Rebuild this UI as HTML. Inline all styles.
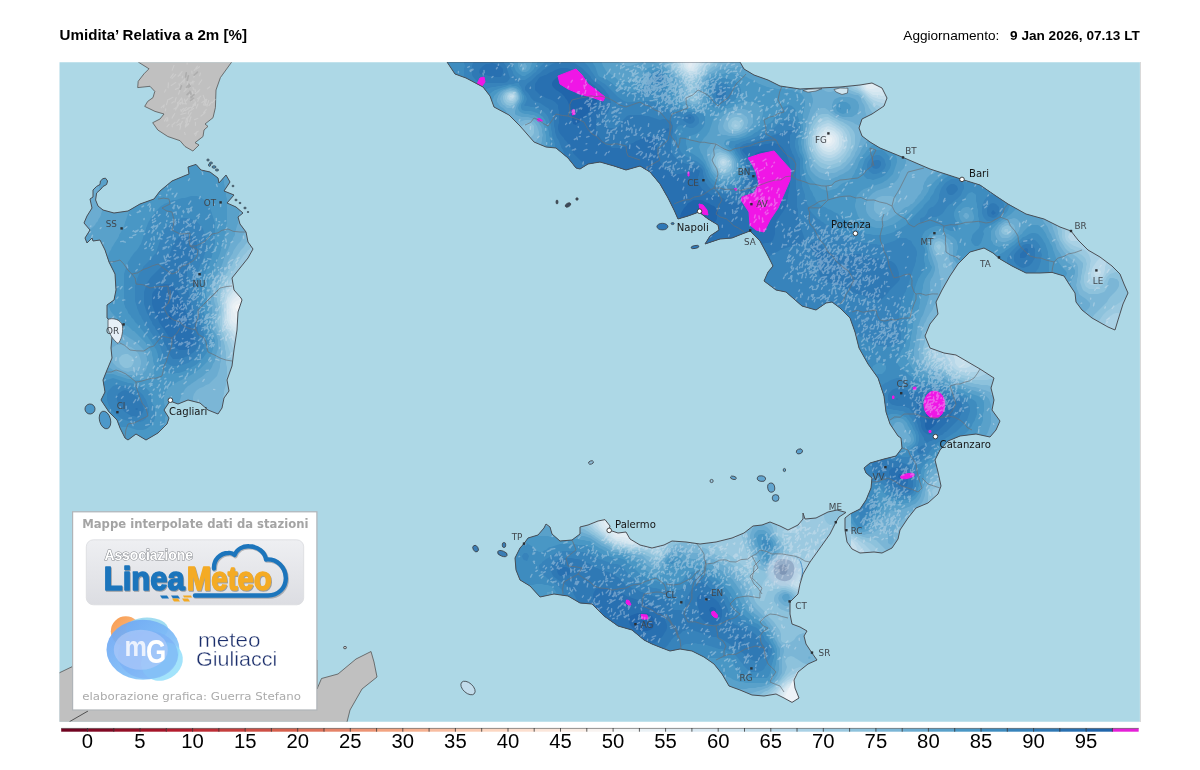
<!DOCTYPE html>
<html><head><meta charset="utf-8"><title>Umidita' Relativa a 2m</title>
<style>
html,body{margin:0;padding:0;background:#fff;}
body{width:1200px;height:770px;position:relative;overflow:hidden;font-family:"Liberation Sans",sans-serif;}
svg{position:absolute;left:0;top:0;}
.city{font:10.1px "DejaVu Sans","Liberation Sans",sans-serif;fill:#151515;}
.prov{font:8.8px "DejaVu Sans","Liberation Sans",sans-serif;fill:#41464c;}
.cbl{font:20.3px "Liberation Sans",sans-serif;fill:#000;}
</style></head><body>
<svg width="1200" height="770" viewBox="0 0 1200 770">
<defs>
<clipPath id="mapclip"><rect x="59.5" y="62.2" width="1080.4" height="659.5"/></clipPath>
<clipPath id="land"><path d="M103,178.6 105.5,178.2 107.6,181 106.6,184.5 103,186.5 101,189 96.6,193 95.6,200 98,206 103,210 114,213 128,211 140,204 154,199 160,191 172,181 184,176 189,174 188,167 196,164.4 201,170 210,172 218,178 219,183 226,175 230,182 224,191 234,195 227,203 236,207 243,213 238,217 240,224 246,232 248,242 253,249 248,258 240,268 232,278 234,290 241,298 242,300 238,312 237,330 234,350 232,366 227,380 229,391 224,398 222,408 218,414 208,410 200,403 188,400 178,404 170,401 164,410 169,418 167,424 158,433 146,440 136,434 128,440 125,438 120,428 117,420 109,412 101,400 105,392 103,380 107,370 112,358 111,348 112,337 118,343 120,336 123,325 118,320 112,322 107,318 107,305 114,300 116,290 115,274 109,262 105,250 100,240 93,241 92,238 87,243 85,238 90,230 84,223 87,216 92,208 90,199 93,197 93,190 96.5,186.5 100,184.5 100.4,181ZM447,62 740,62 744,69 754,75 768,80 780,86 800,89 820,88 840,87 860,85 872,83 882,88 887,98 884,106 872,114 862,119 859,128 862,136 870,142 880,148 903,157.4 930,169 962,179.4 980,185 996,196 1008,204 1026,214 1044,219 1060,227 1071,231 1078,240 1088,250 1100,257 1112,266 1120,274 1124,284 1128,293 1123,304 1118,320 1115,330 1108,327 1092,318 1082,310 1076,302 1075,293 1069,284 1064,276 1052,272.4 1040,273 1026,273 1012,266 1000,259 993,253 984,248 970,252 958,264 950,276 942,290 936,302 938,314 930,324 925,336 930,348 944,353 956,355 968,362 980,369 994,378 991,388 994,400 992,410 1000,421 996,430 990,437 976,434 960,436 948,441 940,450 935,460 938,472 941,486 938,494 928,503 916,508 908,518 900,530 898,539 892,548 882,553 874,552 860,553 852,549 847,542 845,530 845,518 850,514 860,509 866,500 871,488 872,478 866,473 864,468 870,463 884,459 896,456 902,448 901,438 898,436 890,424 886,412 884,396 878,378 868,364 859,348 855,332 850,318 840,308 832,302 826,303 816,310 802,306 786,292 776,290 764,281 768,272 773,266 768,256 760,241 750,231 742,234 732,238 720,239 708,243 705,244 710,236 719,230 718,225 708,219 699,212 688,216 678,219 674,210 668,198 660,184 650,172 640,166 626,170 614,166 600,162 588,164 580,169 576,168 568,158 556,148 546,147 534,142 520,126 509,115 494,107 490,96 483,87 466,78 455,74ZM524,543.6 528,538 538,535 544,528 546,524 550,527 552,534 560,541 572,540 580,534 580,527 588,525 598,521 605,519.6 610,526 609,530 618,533 626,532 630,539 640,545 652,548 664,545 672,541 686,542 700,544 716,542 732,538 744,533 753,526 762,525 770,522 780,526 788,530 798,525 803,519 803,513 805,519 816,518 828,512 837,510 846,512.4 839,517 836,522 830,534 820,548 810,562 803,574 800,584 798,594 790,602 790,614 792,624 800,627 807,631 804,636 806,644 812,653 817,660 808,664 798,672 794,680 795,688 799,698 792,702.4 784,698 776,694 764,696 752,695 740,690 729,686 722,674 714,664 704,657 692,651 680,649 670,651 662,648 652,644 644,640 632,630 618,626 604,616 592,604 580,603 568,596 554,594 540,597 530,586 520,580 516,570 515,558 520,548Z"/></clipPath>

<linearGradient id="lgbox" x1="0" y1="0" x2="0" y2="1"><stop offset="0" stop-color="#eeeff2"/><stop offset="1" stop-color="#dcdde2"/></linearGradient>
<linearGradient id="mgblob" x1="0" y1="0" x2="1" y2="1"><stop offset="0" stop-color="#6ba3f3"/><stop offset="0.6" stop-color="#7fbcf7"/><stop offset="1" stop-color="#a4e2fb"/></linearGradient>
<linearGradient id="mgor" x1="0" y1="0" x2="1" y2="1"><stop offset="0" stop-color="#f89a4e"/><stop offset="1" stop-color="#fcc894"/></linearGradient>
<filter id="soft" x="-20%" y="-20%" width="140%" height="140%"><feGaussianBlur stdDeviation="0.6"/></filter>
<filter id="soft2" x="-30%" y="-30%" width="160%" height="160%"><feGaussianBlur stdDeviation="1.6"/></filter>

</defs>
<text x="59.6" y="39.5" textLength="187.4" lengthAdjust="spacingAndGlyphs" style="font:bold 15.4px 'Liberation Sans',sans-serif" fill="#000">Umidita’ Relativa a 2m [%]</text>
<text x="999.3" y="39.8" text-anchor="end" style="font:13.6px 'Liberation Sans',sans-serif" fill="#000">Aggiornamento:</text>
<text x="1139.8" y="39.8" text-anchor="end" style="font:bold 13.6px 'Liberation Sans',sans-serif" fill="#000">9 Jan 2026, 07.13 LT</text>
<g clip-path="url(#mapclip)">
<rect x="59" y="62" width="1082" height="660" fill="#add8e6"/>
<path d="M134,55 138.2,62 149,68.8 144,73.8 138.2,81.3 137.7,87.6 150,86.3 154.8,91.4 153,97.6 147.7,101.4 144.7,106.4 155,111.4 164,114 160,119 152.7,122.7 157.8,130 167.8,136.5 180,140.7 185,146.5 192.9,151 199,145 195,142.7 203,136.5 204,130 208,126.4 205,124 213,117.7 215.4,107.6 216,90 220.4,77.6 231.7,62 236,55ZM50,677 60,672.5 72.5,666.5 80,660 317,660 317,689 321.5,678.5 338,674 356,659 371,651.5 374,662 377,677 362,689 350,710 347,722 346,730 50,730Z" fill="#c0c0c0" stroke="#555" stroke-width="0.8"/><path d="M69.5 721.7L88 711" stroke="#333" stroke-width="0.8"/>
<path d="M185.3 125.3l2.7 -4.4M191.9 100.5l-2.0 -3.9M180.4 104.2l2.2 -3.2M203.5 105.0l2.0 -5.5M194.2 70.6l3.2 -4.4M193.1 105.0l2.6 -2.4M207.4 88.8l2.6 -2.0M182.1 78.0l0.6 -2.0M181.3 111.6l-0.5 -2.0M212.3 102.6l2.8 -3.0M192.9 84.1l0.1 -3.3M189.5 111.1l4.0 -2.5M194.1 101.0l-0.9 -4.7M197.8 101.3l1.6 -3.2M164.5 121.0l1.8 -3.2M189.6 121.6l1.3 -4.8M193.4 89.4l-0.4 -2.0M198.8 84.4l2.9 -4.4M161.3 107.7l2.9 -2.9M185.2 101.8l2.7 -3.2M175.5 109.9l3.0 -5.0M183.9 83.0l0.6 -4.1M182.8 103.8l-0.8 -5.0M196.3 108.1l1.7 -4.1M185.7 103.5l-1.2 -4.3M194.3 134.1l3.8 -2.9M170.6 77.6l2.7 -3.8M181.1 110.8l2.9 -2.5M190.9 101.4l2.6 -4.6M177.9 76.0l2.5 -1.0M206.9 106.2l1.8 -5.6M172.2 70.1l1.8 -4.7M197.3 98.9l3.4 -2.7M167.0 126.7l2.1 -2.4M187.2 121.8l0.7 -5.0M208.9 105.6l2.6 -3.5M188.6 97.0l1.7 -3.6M204.5 105.0l2.1 -0.3M178.3 102.6l3.4 -4.7M196.4 69.1l3.1 -2.4M163.6 107.3l0.6 -2.3M166.5 104.7l1.5 -5.4M182.7 112.1l3.6 -4.6M205.3 100.8l-2.1 -5.4M187.1 85.0l0.9 -3.4M194.0 104.9l0.8 -2.1M166.3 121.1l1.2 -1.8M175.3 89.4l4.1 -1.6M165.3 111.0l0.4 -2.2M168.1 87.8l0.3 -5.0M178.7 104.0l1.9 -1.5M172.2 126.8l-0.0 -2.3M191.6 108.0l4.0 -4.4M186.0 89.3l1.8 -5.7M188.2 114.0l0.8 -2.8M185.3 127.0l3.1 -2.8M186.0 88.2l4.7 -0.9M201.0 116.0l4.1 -3.3M199.6 75.7l0.9 -2.7M178.4 76.1l3.7 -4.5M194.5 119.8l3.3 -1.5M164.6 92.1l1.2 -2.4M179.8 86.3l-0.8 -2.6M178.5 94.2l1.6 -4.6M189.4 83.3l5.0 -1.6M179.9 129.3l0.8 -3.4M171.9 103.0l1.6 -1.3M195.0 94.0l3.8 -2.7M174.9 102.2l1.2 -4.5M171.2 85.4l4.5 -2.8M192.8 93.9l-0.3 -2.4M182.5 103.5l4.0 0.4M192.0 73.3l-0.2 -2.3M178.1 106.0l-0.7 -3.5M172.0 118.1l2.7 -4.5M185.2 134.5l-0.7 -2.1M169.1 99.4l3.8 -2.1M173.3 124.2l1.7 -1.8M187.7 108.4l2.7 -1.1M195.4 91.7l-0.5 -2.6M173.9 108.9l2.0 -1.2M190.3 84.9l2.0 -3.2M180.6 83.4l3.9 -3.9M203.7 112.7l2.6 -3.3M180.0 125.6l2.3 -4.2M176.7 107.4l0.7 -2.0M172.0 78.4l3.7 -3.9M195.6 135.6l1.1 -3.8M195.4 105.5l0.1 -3.6M185.6 122.3l1.0 -4.2M193.8 77.1l2.5 -4.1M182.1 118.4l3.0 -0.6M195.8 93.7l4.0 -4.0M185.0 110.7l4.0 -2.2M177.0 125.2l3.1 -1.5M187.1 64.1l0.1 -2.0M205.1 105.3l1.4 -5.3M176.8 122.5l2.4 -3.2M201.8 102.5l5.1 -3.2M167.8 120.9l-0.1 -3.2M185.3 125.9l3.2 -2.3M184.0 91.6l2.2 -2.1M195.4 125.3l-0.0 -3.0M180.9 114.3l5.3 -1.3M188.6 117.2l2.5 -4.5" stroke="#cdcdcd" stroke-width="1.2" stroke-linecap="round" fill="none" opacity=".8"/><path d="M187.1 94.7l2.2 -2.0M191.0 94.1l-1.1 -2.8M188.3 87.5l2.0 -1.3M189.9 86.7l-0.9 -2.7M194.2 75.2l3.3 -3.1M186.5 87.3l1.4 -1.6M190.7 97.1l3.4 -2.4M187.2 80.2l1.2 -4.5M190.5 100.6l3.1 -2.4M180.2 89.2l1.3 -3.4M190.9 98.0l1.7 -1.6M185.6 76.9l0.7 -4.2" stroke="#a8a8a8" stroke-width="1.6" stroke-linecap="round" fill="none" opacity=".8"/>
<g clip-path="url(#land)">
<rect x="60" y="62" width="1080" height="660" fill="#3f8ec0"/>
<rect x="80" y="160" width="176" height="286" fill="#f3f5f6"/>
<path d="M83 160l3 0l3 0l3 0l3 0l3 0l3 0l3 0l3 0l3 0l3 0l3 0l3 0l3 0l3 0l3 0l3 0l3 0l3 0l3 0l3 0l3 0l3 0l3 0l3 0l3 0l3 0l3 0l3 0l3 0l3 0l3 0l3 0l3 0l3 0l3 0l3 0l3 0l3 0l3 0l3 0l3 0l3 0l3 0l3 0l3 0l3 0l3 0l3 0l3 0l3 0l3 0l3 0l3 0l3 0l3 0l3 0l3 0l3 0l0 3l0 3l0 3l0 3l0 3l0 3l0 3l0 3l0 3l0 3l0 3l0 3l0 3l0 3l0 3l0 3l0 3l0 3l0 3l0 3l0 3l0 3l0 3l0 3l0 3l0 3l0 3l0 3l0 3l0 3l0 3l0 3l0 3l0 3l0 3l0 3l0 3l0 3l0 3l0 3l0 3l0 3l0 3l0 3l0 3l0 3l0 3l0 3l0 3l0 3l0 3l0 3l0 3l0 3l0 3l0 3l0 3l0 3l0 3l0 3l0 3l0 3l0 3l0 3l0 3l0 3l0 3l0 3l0 3l0 3l0 3l0 3l0 3l0 3l0 3l0 3l0 3l0 3l0 3l0 3l0 3l0 3l0 3l0 3l0 3l0 3l0 3l0 3l0 3l0 3l0 3l0 3l0 3l0 3l0 3l0 3l-3 0l-3 0l-3 0l-3 0l-3 0l-3 0l-3 0l-3 0l-3 0l-3 0l-3 0l-3 0l-3 0l-3 0l-3 0l-3 0l-3 0l-3 0l-3 0l-3 0l-3 0l-3 0l-3 0l-3 0l-3 0l-3 0l-3 0l-3 0l-3 0l-3 0l-3 0l-3 0l-3 0l-3 0l-3 0l-3 0l-3 0l-3 0l-3 0l-3 0l-3 0l-3 0l-3 0l-3 0l-3 0l-3 0l-3 0l-3 0l-3 0l-3 0l-3 0l-3 0l-3 0l-3 0l-3 0l-3 0l-3 0l-3 0l-3 0l0 -3l0 -3l0 -3l0 -3l0 -3l0 -3l0 -3l0 -3l0 -3l0 -3l0 -3l0 -3l0 -3l0 -3l0 -3l0 -3l0 -3l0 -3l0 -3l0 -3l0 -3l0 -3l0 -3l0 -3l0 -3l0 -3l0 -3l0 -3l0 -3l0 -3l0 -3l0 -3l0 -3l0 -3l0 -3l0 -3l0 -3l0 -3l0 -3l0 -3l0 -3l0 -3l0 -3l0 -3l0 -3l0 -3l0 -3l0 -3l0 -3l0 -3l0 -3l0 -3l0 -3l0 -3l0 -3l0 -3l0 -3l0 -3l0 -3l0 -3l0 -3l0 -3l0 -3l0 -3l0 -3l0 -3l0 -3l0 -3l0 -3l0 -3l0 -3l0 -3l0 -3l0 -3l0 -3l0 -3l0 -3l0 -3l0 -3l0 -3l0 -3l0 -3l0 -3l0 -3l0 -3l0 -3l0 -3l0 -3l0 -3l0 -3l0 -3l0 -3l0 -3l0 -3l0 -3l0 -3l3 0zM235 307l1 2l1 1l2 2l1 1l2 1l3 0l3 -1l2 -3l-2 -3l-3 -2l-3 0l-3 -1l-3 1l-1 2z" fill="#eaf1f5" fill-rule="evenodd"/>
<path d="M83 160l3 0l3 0l3 0l3 0l3 0l3 0l3 0l3 0l3 0l3 0l3 0l3 0l3 0l3 0l3 0l3 0l3 0l3 0l3 0l3 0l3 0l3 0l3 0l3 0l3 0l3 0l3 0l3 0l3 0l3 0l3 0l3 0l3 0l3 0l3 0l3 0l3 0l3 0l3 0l3 0l3 0l3 0l3 0l3 0l3 0l3 0l3 0l3 0l3 0l3 0l3 0l3 0l3 0l3 0l3 0l3 0l3 0l3 0l0 3l0 3l0 3l0 3l0 3l0 3l0 3l0 3l0 3l0 3l0 3l0 3l0 3l0 3l0 3l0 3l0 3l0 3l0 3l0 3l0 3l0 3l0 3l0 3l0 3l0 3l0 3l0 3l0 3l0 3l0 3l0 3l0 3l0 3l0 3l0 3l0 3l0 3l0 3l0 3l0 3l0 3l0 3l0 3l0 3l0 3l-3 0l-3 0l-3 0l-3 0l-3 1l-3 1l-3 1l-3 3l-1 3l1 3l0 2l1 1l1 3l1 2l1 1l2 1l3 2l1 0l2 1l3 1l3 0l3 0l3 1l0 3l0 3l0 3l0 3l0 3l0 3l0 3l0 3l0 3l0 3l0 3l0 3l0 3l0 3l0 3l0 3l0 3l0 3l0 3l0 3l0 3l0 3l0 3l0 3l0 3l0 3l0 3l0 3l0 3l0 3l0 3l0 3l0 3l0 3l0 3l0 3l0 3l0 3l0 3l0 3l0 3l-3 0l-3 0l-3 0l-3 0l-3 0l-3 0l-3 0l-3 0l-3 0l-3 0l-3 0l-3 0l-3 0l-3 0l-3 0l-3 0l-3 0l-3 0l-3 0l-3 0l-3 0l-3 0l-3 0l-3 0l-3 0l-3 0l-3 0l-3 0l-3 0l-3 0l-3 0l-3 0l-3 0l-3 0l-3 0l-3 0l-3 0l-3 0l-3 0l-3 0l-3 0l-3 0l-3 0l-3 0l-3 0l-3 0l-3 0l-3 0l-3 0l-3 0l-3 0l-3 0l-3 0l-3 0l-3 0l-3 0l-3 0l-3 0l-3 0l0 -3l0 -3l0 -3l0 -3l0 -3l0 -3l0 -3l0 -3l0 -3l0 -3l0 -3l0 -3l0 -3l0 -3l0 -3l0 -3l0 -3l0 -3l0 -3l0 -3l0 -3l0 -3l0 -3l0 -3l0 -3l0 -3l0 -3l0 -3l0 -3l0 -3l0 -3l0 -3l0 -3l0 -3l0 -3l0 -3l0 -3l0 -3l0 -3l0 -3l0 -3l0 -3l0 -3l0 -3l0 -3l0 -3l0 -3l0 -3l0 -3l0 -3l0 -3l0 -3l0 -3l0 -3l0 -3l0 -3l0 -3l0 -3l0 -3l0 -3l0 -3l0 -3l0 -3l0 -3l0 -3l0 -3l0 -3l0 -3l0 -3l0 -3l0 -3l0 -3l0 -3l0 -3l0 -3l0 -3l0 -3l0 -3l0 -3l0 -3l0 -3l0 -3l0 -3l0 -3l0 -3l0 -3l0 -3l0 -3l0 -3l0 -3l0 -3l0 -3l0 -3l0 -3l0 -3l0 -3l3 0z" fill="#e3edf3" fill-rule="evenodd"/>
<path d="M83 160l3 0l3 0l3 0l3 0l3 0l3 0l3 0l3 0l3 0l3 0l3 0l3 0l3 0l3 0l3 0l3 0l3 0l3 0l3 0l3 0l3 0l3 0l3 0l3 0l3 0l3 0l3 0l3 0l3 0l3 0l3 0l3 0l3 0l3 0l3 0l3 0l3 0l3 0l3 0l3 0l3 0l3 0l3 0l3 0l3 0l3 0l3 0l3 0l3 0l3 0l3 0l3 0l3 0l3 0l3 0l3 0l3 0l3 0l0 3l0 3l0 3l0 3l0 3l0 3l0 3l0 3l0 3l0 3l0 3l0 3l0 3l0 3l0 3l0 3l0 3l0 3l0 3l0 3l0 3l0 3l0 3l0 3l0 3l0 3l0 3l0 3l0 3l0 3l0 3l0 3l0 3l0 3l0 3l0 3l0 3l0 3l0 3l0 3l0 3l0 3l0 3l0 1l-3 0l-3 1l-3 1l-1 0l-2 1l-3 1l-2 1l-1 0l-3 2l-1 1l-2 2l-1 1l-1 3l-1 3l1 3l0 3l0 3l0 3l2 3l3 2l2 1l1 1l3 1l1 1l2 1l3 1l1 1l2 1l3 1l3 1l0 3l0 3l0 3l0 3l0 3l0 3l0 3l0 3l0 3l0 3l0 3l0 3l0 3l0 3l0 3l0 3l0 3l0 3l0 3l0 3l0 3l0 3l0 3l0 3l0 3l0 3l0 3l0 3l0 3l0 3l0 3l0 3l0 3l0 3l0 3l0 3l0 3l0 3l-3 0l-3 0l-3 0l-3 0l-3 0l-3 0l-3 0l-3 0l-3 0l-3 0l-3 0l-3 0l-3 0l-3 0l-3 0l-3 0l-3 0l-3 0l-3 0l-3 0l-3 0l-3 0l-3 0l-3 0l-3 0l-3 0l-3 0l-3 0l-3 0l-3 0l-3 0l-3 0l-3 0l-3 0l-3 0l-3 0l-3 0l-3 0l-3 0l-3 0l-3 0l-3 0l-3 0l-3 0l-3 0l-3 0l-3 0l-3 0l-3 0l-3 0l-3 0l-3 0l-3 0l-3 0l-3 0l-3 0l-3 0l-3 0l-3 0l0 -3l0 -3l0 -3l0 -3l0 -3l0 -3l0 -3l0 -3l0 -3l0 -3l0 -3l0 -3l0 -3l0 -3l0 -3l0 -3l0 -3l0 -3l0 -3l0 -3l0 -3l0 -3l0 -3l0 -3l0 -3l0 -3l0 -3l0 -3l0 -3l0 -3l0 -3l0 -3l0 -3l0 -3l0 -3l0 -3l0 -3l0 -3l0 -3l0 -3l0 -3l0 -3l0 -3l0 -3l0 -3l0 -3l0 -3l0 -3l0 -3l0 -3l0 -3l0 -3l0 -3l0 -3l0 -3l0 -3l0 -3l0 -3l0 -3l0 -3l0 -3l0 -3l0 -3l0 -3l0 -3l0 -3l0 -3l0 -3l0 -3l0 -3l0 -3l0 -3l0 -3l0 -3l0 -3l0 -3l0 -3l0 -3l0 -3l0 -3l0 -3l0 -3l0 -3l0 -3l0 -3l0 -3l0 -3l0 -3l0 -3l0 -3l0 -3l0 -3l0 -3l0 -3l0 -3l0 -3l3 0z" fill="#dae9f2" fill-rule="evenodd"/>
<path d="M83 160l3 0l3 0l3 0l3 0l3 0l3 0l3 0l3 0l3 0l3 0l3 0l3 0l3 0l3 0l3 0l3 0l3 0l3 0l3 0l3 0l3 0l3 0l3 0l3 0l3 0l3 0l3 0l3 0l3 0l3 0l3 0l3 0l3 0l3 0l3 0l3 0l3 0l3 0l3 0l3 0l3 0l3 0l3 0l3 0l3 0l3 0l3 0l3 0l3 0l3 0l3 0l3 0l3 0l3 0l3 0l3 0l3 0l3 0l0 3l0 3l0 3l0 3l0 3l0 3l0 3l0 3l0 3l0 3l0 3l0 3l0 3l0 3l0 3l0 3l0 3l0 3l0 3l0 3l0 3l0 3l0 3l0 3l0 3l0 3l0 3l0 3l0 3l0 3l0 3l0 3l0 3l0 3l0 3l0 3l0 3l0 3l0 3l0 3l0 3l-1 0l-2 1l-3 1l-2 1l-1 0l-3 2l-2 1l-1 0l-3 2l-1 1l-2 1l-2 2l-1 1l-1 2l-2 3l-1 3l0 3l0 3l0 3l0 3l0 3l1 3l0 1l2 2l1 1l3 2l3 3l1 0l2 2l2 1l1 1l3 2l3 2l2 1l1 1l3 2l0 3l0 3l0 3l0 3l0 3l0 3l0 3l0 3l0 3l0 3l0 3l0 3l0 3l0 3l0 3l0 3l0 3l0 3l0 3l0 3l0 3l0 3l0 3l0 3l0 3l0 3l0 3l0 3l0 3l0 3l0 3l0 3l0 3l0 3l0 3l-3 0l-3 0l-3 0l-3 0l-3 0l-3 0l-3 0l-3 0l-3 0l-3 0l-3 0l-3 0l-3 0l-3 0l-3 0l-3 0l-3 0l-3 0l-3 0l-3 0l-3 0l-3 0l-3 0l-3 0l-3 0l-3 0l-3 0l-3 0l-3 0l-3 0l-3 0l-3 0l-3 0l-3 0l-3 0l-3 0l-3 0l-3 0l-3 0l-3 0l-3 0l-3 0l-3 0l-3 0l-3 0l-3 0l-3 0l-3 0l-3 0l-3 0l-3 0l-3 0l-3 0l-3 0l-3 0l-3 0l-3 0l-3 0l-3 0l0 -3l0 -3l0 -3l0 -3l0 -3l0 -3l0 -3l0 -3l0 -3l0 -3l0 -3l0 -3l0 -3l0 -3l0 -3l0 -3l0 -3l0 -3l0 -3l0 -3l0 -3l0 -3l0 -3l0 -3l0 -3l0 -3l0 -3l0 -3l0 -3l0 -3l0 -3l0 -3l0 -3l0 -3l0 -3l0 -3l0 -3l0 -3l0 -3l0 -3l0 -3l0 -3l0 -3l0 -3l0 -3l0 -3l0 -3l0 -3l0 -3l0 -3l0 -3l0 -3l0 -3l0 -3l0 -3l0 -3l0 -3l0 -3l0 -3l0 -3l0 -3l0 -3l0 -3l0 -3l0 -3l0 -3l0 -3l0 -3l0 -3l0 -3l0 -3l0 -3l0 -3l0 -3l0 -3l0 -3l0 -3l0 -3l0 -3l0 -3l0 -3l0 -3l0 -3l0 -3l0 -3l0 -3l0 -3l0 -3l0 -3l0 -3l0 -3l0 -3l0 -3l0 -3l0 -3l0 -3l3 0z" fill="#d2e6f0" fill-rule="evenodd"/>
<path d="M83 160l3 0l3 0l3 0l3 0l3 0l3 0l3 0l3 0l3 0l3 0l3 0l3 0l3 0l3 0l3 0l3 0l3 0l3 0l3 0l3 0l3 0l3 0l3 0l3 0l3 0l3 0l3 0l3 0l3 0l3 0l3 0l3 0l3 0l3 0l3 0l3 0l3 0l3 0l3 0l3 0l3 0l3 0l3 0l3 0l3 0l3 0l3 0l3 0l3 0l3 0l3 0l3 0l3 0l3 0l3 0l3 0l3 0l3 0l0 3l0 3l0 3l0 3l0 3l0 3l0 3l0 3l0 3l0 3l0 3l0 3l0 3l0 3l0 3l0 3l0 3l0 3l0 3l0 3l0 3l0 3l0 3l0 3l0 3l0 3l0 3l0 3l0 3l0 3l0 3l0 3l0 3l0 3l0 3l0 3l0 3l0 3l0 2l-3 1l-3 2l-2 1l-1 1l-3 1l-1 1l-2 1l-2 2l-1 1l-3 2l-3 3l-2 3l-1 1l-1 2l-1 3l-1 3l0 3l0 3l0 3l0 2l0 1l0 3l0 1l1 2l1 3l1 1l2 2l1 2l1 1l2 2l1 1l2 2l1 1l2 2l2 1l1 2l2 1l1 1l2 2l1 1l2 2l1 1l2 2l1 0l0 3l0 3l0 3l0 3l0 3l0 3l0 3l0 3l0 3l0 3l0 3l0 3l0 3l0 3l0 3l0 3l0 3l0 3l0 3l0 3l0 3l0 3l0 3l0 3l0 3l0 3l0 3l0 3l0 3l0 3l0 3l0 3l-3 0l-3 0l-3 0l-3 0l-3 0l-3 0l-3 0l-3 0l-3 0l-3 0l-3 0l-3 0l-3 0l-3 0l-3 0l-3 0l-3 0l-3 0l-3 0l-3 0l-3 0l-3 0l-3 0l-3 0l-3 0l-3 0l-3 0l-3 0l-3 0l-3 0l-3 0l-3 0l-3 0l-3 0l-3 0l-3 0l-3 0l-3 0l-3 0l-3 0l-3 0l-3 0l-3 0l-3 0l-3 0l-3 0l-3 0l-3 0l-3 0l-3 0l-3 0l-3 0l-3 0l-3 0l-3 0l-3 0l-3 0l-3 0l-3 0l0 -3l0 -3l0 -3l0 -3l0 -3l0 -3l0 -3l0 -3l0 -3l0 -3l0 -3l0 -3l0 -3l0 -3l0 -3l0 -3l0 -3l0 -3l0 -3l0 -3l0 -3l0 -3l0 -3l0 -3l0 -3l0 -3l0 -3l0 -3l0 -3l0 -3l0 -3l0 -3l0 -3l0 -3l0 -3l0 -3l0 -3l0 -3l0 -3l0 -3l0 -3l0 -3l0 -3l0 -3l0 -3l0 -3l0 -3l0 -3l0 -3l0 -3l0 -3l0 -3l0 -3l0 -3l0 -3l0 -3l0 -3l0 -3l0 -3l0 -3l0 -3l0 -3l0 -3l0 -3l0 -3l0 -3l0 -3l0 -3l0 -3l0 -3l0 -3l0 -3l0 -3l0 -3l0 -3l0 -3l0 -3l0 -3l0 -3l0 -3l0 -3l0 -3l0 -3l0 -3l0 -3l0 -3l0 -3l0 -3l0 -3l0 -3l0 -3l0 -3l0 -3l0 -3l0 -3l0 -3l3 0z" fill="#c5dfec" fill-rule="evenodd"/>
<path d="M83 160l3 0l3 0l3 0l3 0l3 0l3 0l3 0l3 0l3 0l3 0l3 0l3 0l3 0l3 0l3 0l3 0l3 0l3 0l3 0l3 0l3 0l3 0l3 0l3 0l3 0l3 0l3 0l3 0l3 0l3 0l3 0l3 0l3 0l3 0l3 0l3 0l3 0l3 0l3 0l3 0l3 0l3 0l3 0l3 0l3 0l3 0l3 0l3 0l3 0l3 0l3 0l3 0l3 0l3 0l3 0l3 0l3 0l3 0l0 3l0 3l0 3l0 3l0 3l0 3l0 3l0 3l0 3l0 3l0 3l0 3l0 3l0 3l0 3l0 3l0 3l0 3l0 3l0 3l0 3l0 3l0 3l0 3l0 3l0 3l0 3l0 3l0 3l0 3l0 3l0 3l0 3l0 3l0 3l0 3l-3 2l-1 1l-2 1l-2 2l-1 0l-3 3l-3 2l-1 1l-2 2l-1 1l-2 1l-1 2l-2 2l-1 1l-2 3l-2 3l-1 2l0 1l-1 3l0 3l0 3l0 3l0 3l-1 3l0 3l1 3l1 3l0 1l2 2l1 2l1 1l2 3l2 3l1 1l2 2l1 2l1 1l2 3l3 3l2 3l1 1l1 2l2 2l1 1l2 3l3 3l0 1l0 2l0 3l0 3l0 3l0 3l0 3l0 3l0 3l0 3l0 3l0 3l0 3l0 3l0 3l0 3l0 3l0 3l0 3l0 3l0 3l0 3l0 3l0 3l0 3l0 3l0 3l0 3l0 3l-3 0l-3 0l-3 0l-3 0l-3 0l-3 0l-3 0l-3 0l-3 0l-3 0l-3 0l-3 0l-3 0l-3 0l-3 0l-3 0l-3 0l-3 0l-3 0l-3 0l-3 0l-3 0l-3 0l-3 0l-3 0l-3 0l-3 0l-3 0l-3 0l-3 0l-3 0l-3 0l-3 0l-3 0l-3 0l-3 0l-3 0l-3 0l-3 0l-3 0l-3 0l-3 0l-3 0l-3 0l-3 0l-3 0l-3 0l-3 0l-3 0l-3 0l-3 0l-3 0l-3 0l-3 0l-3 0l-3 0l-3 0l-3 0l-3 0l0 -3l0 -3l0 -3l0 -3l0 -3l0 -3l0 -3l0 -3l0 -3l0 -3l0 -3l0 -3l0 -3l0 -3l0 -3l0 -3l0 -3l0 -3l0 -3l0 -3l0 -3l0 -3l0 -3l0 -3l0 -3l0 -3l0 -3l0 -3l0 -3l0 -3l0 -3l0 -3l0 -3l0 -3l0 -3l0 -3l0 -3l0 -3l0 -3l0 -3l0 -3l0 -3l0 -3l0 -3l0 -3l0 -3l0 -3l0 -3l0 -3l0 -3l0 -3l0 -3l0 -3l0 -3l0 -3l0 -3l0 -3l0 -3l0 -3l0 -3l0 -3l0 -3l0 -3l0 -3l0 -3l0 -3l0 -3l0 -3l0 -3l0 -3l0 -3l0 -3l0 -3l0 -3l0 -3l0 -3l0 -3l0 -3l0 -3l0 -3l0 -3l0 -3l0 -3l0 -3l0 -3l0 -3l0 -3l0 -3l0 -3l0 -3l0 -3l0 -3l0 -3l0 -3l0 -3l0 -3l3 0z" fill="#b8d8e9" fill-rule="evenodd"/>
<path d="M83 160l3 0l3 0l3 0l3 0l3 0l3 0l3 0l3 0l3 0l3 0l3 0l3 0l3 0l3 0l3 0l3 0l3 0l3 0l3 0l3 0l3 0l3 0l3 0l3 0l3 0l3 0l3 0l3 0l3 0l3 0l3 0l3 0l3 0l3 0l3 0l3 0l3 0l3 0l3 0l3 0l3 0l3 0l3 0l3 0l3 0l3 0l3 0l3 0l3 0l3 0l3 0l3 0l3 0l3 0l3 0l3 0l3 0l3 0l0 3l0 3l0 3l0 3l0 3l0 3l0 3l0 3l0 3l0 3l0 3l0 3l0 3l0 3l0 3l0 3l0 3l0 3l0 3l0 3l0 3l0 3l0 3l0 3l0 3l0 3l0 3l0 3l0 3l0 3l0 3l0 3l0 3l0 1l-3 2l-3 3l-3 3l-3 2l-1 1l-2 2l-1 1l-2 2l-1 1l-2 2l-1 1l-2 3l-3 3l-2 3l-1 2l0 1l-2 3l0 3l-1 3l0 2l0 1l0 3l0 3l0 3l0 3l-1 3l1 3l0 1l1 2l1 3l1 2l1 1l2 3l0 1l1 2l2 3l2 3l1 2l1 1l1 3l1 1l1 2l2 3l2 3l1 2l0 1l2 3l1 2l1 1l1 3l1 1l1 2l2 3l0 1l1 2l2 3l0 3l0 3l0 3l0 3l0 3l0 3l0 3l0 3l0 3l0 3l0 3l0 3l0 3l0 3l0 3l0 3l0 3l0 3l0 3l0 3l0 3l0 3l-3 0l-3 0l-3 0l-3 0l-3 0l-3 0l-3 0l-3 0l-3 0l-3 0l-3 0l-3 0l-3 0l-3 0l-3 0l-3 0l-3 0l-3 0l-3 0l-3 0l-3 0l-3 0l-3 0l-3 0l-3 0l-3 0l-3 0l-3 0l-3 0l-3 0l-3 0l-3 0l-3 0l-3 0l-3 0l-3 0l-3 0l-3 0l-3 0l-3 0l-3 0l-3 0l-3 0l-3 0l-3 0l-3 0l-3 0l-3 0l-3 0l-3 0l-3 0l-3 0l-3 0l-3 0l-3 0l-3 0l-3 0l-3 0l-3 0l0 -3l0 -3l0 -3l0 -3l0 -3l0 -3l0 -3l0 -3l0 -3l0 -3l0 -3l0 -3l0 -3l0 -3l0 -3l0 -3l0 -3l0 -3l0 -3l0 -3l0 -3l0 -3l0 -3l0 -3l0 -3l0 -3l0 -3l0 -3l0 -3l0 -3l0 -3l0 -3l0 -3l0 -3l0 -3l0 -3l0 -3l0 -3l0 -3l0 -3l0 -3l0 -3l0 -3l0 -3l0 -3l0 -3l0 -3l0 -3l0 -3l0 -3l0 -3l0 -3l0 -3l0 -3l0 -3l0 -3l0 -3l0 -3l0 -3l0 -3l0 -3l0 -3l0 -3l0 -3l0 -3l0 -3l0 -3l0 -3l0 -3l0 -3l0 -3l0 -3l0 -3l0 -3l0 -3l0 -3l0 -3l0 -3l0 -3l0 -3l0 -3l0 -3l0 -3l0 -3l0 -3l0 -3l0 -3l0 -3l0 -3l0 -3l0 -3l0 -3l0 -3l0 -3l0 -3l0 -3l3 0z" fill="#a9d1e5" fill-rule="evenodd"/>
<path d="M83 160l3 0l3 0l3 0l3 0l3 0l3 0l3 0l3 0l3 0l3 0l3 0l3 0l3 0l3 0l3 0l3 0l3 0l3 0l3 0l3 0l3 0l3 0l3 0l3 0l3 0l3 0l3 0l3 0l3 0l3 0l3 0l3 0l3 0l3 0l3 0l3 0l3 0l3 0l3 0l3 0l3 0l3 0l3 0l3 0l3 0l3 0l3 0l3 0l3 0l3 0l3 0l3 0l3 0l3 0l3 0l3 0l3 0l3 0l0 3l0 3l0 3l0 3l0 3l0 3l0 3l0 3l0 3l0 3l0 3l0 3l0 3l0 3l0 3l0 3l0 3l0 3l0 3l0 3l0 3l0 3l0 3l0 3l0 3l0 3l0 3l0 3l0 3l0 3l0 1l-2 2l-1 1l-3 2l-3 3l-2 3l-1 1l-2 2l-1 1l-1 2l-2 2l-1 1l-2 2l0 1l-3 3l-2 3l-1 1l-1 2l-2 2l0 1l-2 3l-1 2l0 1l-1 3l-1 3l0 3l0 3l0 3l1 3l-1 3l0 3l0 3l0 3l0 3l2 3l0 1l1 2l2 3l0 1l1 2l2 3l0 1l1 2l1 3l1 2l0 1l2 3l1 3l0 1l1 2l1 3l1 2l0 1l2 3l1 3l0 1l1 2l1 3l1 3l0 1l1 2l1 3l1 3l0 1l0 2l1 3l1 3l1 3l1 3l1 3l0 3l1 3l1 3l1 3l0 3l1 3l0 3l0 3l0 3l0 3l0 3l0 3l0 3l0 3l-3 0l-3 0l-3 0l-3 0l-3 0l-3 0l-3 0l-3 0l-3 0l-3 0l-3 0l-3 0l-3 0l-3 0l-3 0l-3 0l-3 0l-3 0l-3 0l-3 0l-3 0l-3 0l-3 0l-3 0l-3 0l-3 0l-3 0l-3 0l-3 0l-3 0l-3 0l-3 0l-3 0l-3 0l-3 0l-3 0l-3 0l-3 0l-3 0l-3 0l-3 0l-3 0l-3 0l-3 0l-3 0l-3 0l-3 0l-3 0l-3 0l-3 0l-3 0l-3 0l-3 0l-3 0l-3 0l-3 0l-3 0l-3 0l-3 0l0 -3l0 -3l0 -3l0 -3l0 -3l0 -3l0 -3l0 -3l0 -3l0 -3l0 -3l0 -3l0 -3l0 -3l0 -3l0 -3l0 -3l0 -3l0 -3l0 -3l0 -3l0 -3l0 -3l0 -3l0 -3l0 -3l0 -3l0 -3l0 -3l0 -3l0 -3l0 -3l0 -3l0 -3l0 -3l0 -3l0 -3l0 -3l0 -3l0 -3l0 -3l0 -3l0 -3l0 -3l0 -3l0 -3l0 -3l0 -3l0 -3l0 -3l0 -3l0 -3l0 -3l0 -3l0 -3l0 -3l0 -3l0 -3l0 -3l0 -3l0 -3l0 -3l0 -3l0 -3l0 -3l0 -3l0 -3l0 -3l0 -3l0 -3l0 -3l0 -3l0 -3l0 -3l0 -3l0 -3l0 -3l0 -3l0 -3l0 -3l0 -3l0 -3l0 -3l0 -3l0 -3l0 -3l0 -3l0 -3l0 -3l0 -3l0 -3l0 -3l0 -3l0 -3l0 -3l0 -3l3 0z" fill="#9bc9e0" fill-rule="evenodd"/>
<path d="M83 160l3 0l3 0l3 0l3 0l3 0l3 0l3 0l3 0l3 0l3 0l3 0l3 0l3 0l3 0l3 0l3 0l3 0l3 0l3 0l3 0l3 0l3 0l3 0l3 0l3 0l3 0l3 0l3 0l3 0l3 0l3 0l3 0l3 0l3 0l3 0l3 0l3 0l3 0l3 0l3 0l3 0l3 0l3 0l3 0l3 0l3 0l3 0l3 0l3 0l3 0l3 0l3 0l3 0l3 0l3 0l3 0l3 0l3 0l0 3l0 3l0 3l0 3l0 3l0 3l0 3l0 3l0 3l0 3l0 3l0 3l0 3l0 3l0 3l0 3l0 3l0 3l0 3l0 3l0 3l0 3l0 3l0 3l0 3l0 3l0 3l-3 3l-3 3l-2 3l-1 0l-2 3l-1 1l-2 2l-1 2l-1 1l-2 3l-2 3l-1 1l-1 2l-2 3l-2 3l-1 1l-1 2l-2 2l0 1l-2 3l-1 1l-1 2l-1 3l-1 2l0 1l-1 3l0 3l0 3l0 3l1 3l0 1l0 2l0 2l0 1l-1 3l0 3l0 3l0 3l1 2l0 1l1 3l2 3l0 1l1 2l1 3l1 2l0 1l1 3l1 3l1 3l0 1l1 2l0 3l1 3l1 3l0 1l0 2l1 3l1 3l0 3l1 3l0 3l0 3l1 3l0 3l0 3l0 3l1 3l0 3l0 3l0 3l0 3l1 3l0 3l0 3l0 3l0 3l0 1l0 2l0 3l0 3l0 3l0 3l0 3l1 3l-1 0l-3 0l-3 0l-3 0l-3 0l-3 0l-3 0l-3 0l-3 0l-3 0l-3 0l-3 0l-3 0l-3 0l-3 0l-3 0l-3 0l-3 0l-3 0l-3 0l-3 0l-3 0l-3 0l-3 0l-3 0l-3 0l-3 0l-3 0l-3 0l-3 0l-3 0l-3 0l-3 0l-3 0l-3 0l-3 0l-3 0l-3 0l-3 0l-3 0l-3 0l-3 0l-3 0l-3 0l-3 0l-3 0l-3 0l-3 0l-3 0l-3 0l-3 0l-3 0l-3 0l-3 0l0 -3l0 -3l0 -3l0 -3l0 -3l0 -3l0 -3l0 -3l0 -3l0 -3l0 -3l0 -3l0 -3l0 -3l0 -3l0 -3l0 -3l0 -3l0 -3l0 -3l0 -3l0 -3l0 -3l0 -3l0 -3l0 -3l0 -3l0 -3l0 -3l0 -3l0 -3l0 -3l0 -3l0 -3l0 -3l0 -3l0 -3l0 -3l0 -3l0 -3l0 -3l0 -3l0 -3l0 -3l0 -3l0 -3l0 -3l0 -3l0 -3l0 -3l0 -3l0 -3l0 -3l0 -3l0 -3l0 -3l0 -3l0 -3l0 -3l0 -3l0 -3l0 -3l0 -3l0 -3l0 -3l0 -3l0 -3l0 -3l0 -3l0 -3l0 -3l0 -3l0 -3l0 -3l0 -3l0 -3l0 -3l0 -3l0 -3l0 -3l0 -3l0 -3l0 -3l0 -3l0 -3l0 -3l0 -3l0 -3l0 -3l0 -3l0 -3l0 -3l0 -3l0 -3l0 -3l0 -3l3 0z" fill="#8dc2dc" fill-rule="evenodd"/>
<path d="M83 160l3 0l3 0l3 0l3 0l3 0l3 0l3 0l3 0l3 0l3 0l3 0l3 0l3 0l3 0l3 0l3 0l3 0l3 0l3 0l3 0l3 0l3 0l3 0l3 0l3 0l3 0l3 0l3 0l3 0l3 0l3 0l3 0l3 0l3 0l3 0l3 0l3 0l3 0l3 0l3 0l3 0l3 0l3 0l3 0l3 0l3 0l3 0l3 0l3 0l3 0l3 0l3 0l3 0l3 0l3 0l3 0l3 0l3 0l0 3l0 3l0 3l0 3l0 3l0 3l0 3l0 3l0 3l0 3l0 3l0 3l0 3l0 3l0 3l0 3l0 3l0 3l0 3l0 3l0 3l0 3l-2 3l-1 2l0 1l-2 3l-1 1l-1 2l-2 3l-2 3l-1 1l-1 2l-2 2l-1 1l-2 3l-2 3l-1 2l-1 1l-2 3l0 1l-1 2l-2 3l-2 3l-1 2l-1 1l-2 3l0 1l-2 2l-1 3l-2 3l-1 3l0 1l0 2l-1 3l0 3l0 3l1 3l0 1l1 2l0 3l0 3l-1 2l0 1l-1 3l0 3l1 3l1 3l1 3l1 3l1 3l1 3l1 2l0 1l1 3l0 3l1 3l0 3l0 3l0 3l0 3l1 3l0 3l0 3l0 3l-1 3l0 3l0 3l-1 3l-1 3l0 2l0 1l-1 3l0 3l0 3l0 3l0 3l-1 3l-1 3l0 2l0 1l-1 3l0 3l-1 3l0 3l-1 3l0 3l0 3l-1 3l0 3l0 3l-2 0l-3 0l-3 0l-3 0l-3 0l-3 0l-3 0l-3 0l-3 0l-3 0l-3 0l-3 0l-3 0l-3 0l-3 0l-3 0l-3 0l-3 0l-3 0l-3 0l-3 0l-3 0l-3 0l-3 0l-3 0l-3 0l-3 0l-3 0l-3 0l-3 0l-3 0l-3 0l-3 0l-3 0l-3 0l-3 0l-3 0l-3 0l-3 0l-3 0l-3 0l-3 0l-3 0l-3 0l-3 0l-3 0l0 -3l0 -3l0 -3l0 -3l0 -3l0 -3l0 -3l0 -3l0 -3l0 -3l0 -3l0 -3l0 -3l0 -3l0 -3l0 -3l0 -3l0 -3l0 -3l0 -3l0 -3l0 -3l0 -3l0 -3l0 -3l0 -3l0 -3l0 -3l0 -3l0 -3l0 -3l0 -3l0 -3l0 -3l0 -3l0 -3l0 -3l0 -3l0 -3l0 -3l0 -3l0 -3l0 -3l0 -3l0 -3l0 -3l0 -3l0 -3l0 -3l0 -3l0 -3l0 -3l0 -3l0 -3l0 -3l0 -3l0 -3l0 -3l0 -3l0 -3l0 -3l0 -3l0 -3l0 -3l0 -3l0 -3l0 -3l0 -3l0 -3l0 -3l0 -3l0 -3l0 -3l0 -3l0 -3l0 -3l0 -3l0 -3l0 -3l0 -3l0 -3l0 -3l0 -3l0 -3l0 -3l0 -3l0 -3l0 -3l0 -3l0 -3l0 -3l0 -3l0 -3l0 -3l0 -3l0 -3l3 0zM122 355l-3 3l0 3l1 3l2 2l1 1l2 1l3 0l3 -1l2 -3l1 -3l-1 -3l-2 -2l-2 -1l-1 -1l-3 0l-3 1z" fill="#7bb6d6" fill-rule="evenodd"/>
<path d="M83 160l3 0l3 0l3 0l3 0l3 0l3 0l3 0l3 0l3 0l3 0l3 0l3 0l3 0l3 0l3 0l3 0l3 0l3 0l3 0l3 0l3 0l3 0l3 0l3 0l3 0l3 0l3 0l3 0l3 0l3 0l3 0l3 0l3 0l3 0l3 0l3 0l3 0l3 0l3 0l3 0l3 0l3 0l3 0l3 0l3 0l3 0l3 0l3 0l3 0l3 0l3 0l3 0l3 0l3 0l3 0l3 0l3 0l3 0l0 3l0 3l0 3l0 3l0 3l0 3l0 3l0 3l0 3l0 3l0 3l-1 3l-1 3l0 3l-1 2l0 1l-1 3l-1 3l-1 3l-1 3l-1 3l-1 3l-1 3l-1 3l-1 2l0 1l-2 3l-1 3l-1 3l-2 2l-1 1l-2 3l-2 3l-1 2l0 1l-2 3l-1 2l-1 1l-1 3l-1 2l0 1l-2 3l-1 2l0 1l-2 3l-1 1l-1 2l-2 3l0 1l-1 2l-1 3l-1 2l0 1l-1 3l0 3l0 3l0 3l1 3l1 3l0 3l0 3l-1 3l0 3l0 3l0 3l1 3l1 3l1 2l0 1l2 3l1 3l0 2l0 1l0 3l0 3l0 3l0 3l0 3l0 3l-1 3l0 3l-1 3l-1 3l-1 3l-2 2l-1 1l-2 2l-1 1l-2 2l-3 1l-3 2l-3 1l-3 2l-1 1l-2 3l-1 3l0 3l0 3l1 3l0 1l1 2l0 3l1 3l0 3l0 3l0 3l0 3l0 3l0 3l0 3l-1 3l0 3l-1 3l-1 3l-2 0l-3 0l-3 0l-3 0l-3 0l-3 0l-3 0l-3 0l-3 0l-3 0l-3 0l-3 0l-3 0l-3 0l-3 0l-3 0l-3 0l-3 0l-3 0l-3 0l-3 0l-3 0l-3 0l-3 0l-3 0l-3 0l-3 0l-3 0l-3 0l-3 0l-3 0l-3 0l-3 0l-3 0l-3 0l-3 0l-3 0l-3 0l0 -3l0 -3l0 -3l0 -3l0 -3l0 -3l0 -3l0 -3l0 -3l0 -3l0 -3l0 -3l0 -3l0 -3l0 -3l0 -3l0 -3l0 -3l0 -3l0 -3l0 -3l0 -3l0 -3l0 -3l0 -3l0 -3l0 -3l0 -3l0 -3l0 -3l0 -3l0 -3l0 -3l0 -3l0 -3l0 -3l0 -3l0 -3l0 -3l0 -3l0 -3l0 -3l0 -3l0 -3l0 -3l0 -3l0 -3l0 -3l0 -3l0 -3l0 -3l0 -3l0 -3l0 -3l0 -3l0 -3l0 -3l0 -3l0 -3l0 -3l0 -3l0 -3l0 -3l0 -3l0 -3l0 -3l0 -3l0 -3l0 -3l0 -3l0 -3l0 -3l0 -3l0 -3l0 -3l0 -3l0 -3l0 -3l0 -3l0 -3l0 -3l0 -3l0 -3l0 -3l0 -3l0 -3l0 -3l0 -3l0 -3l0 -3l0 -3l0 -3l0 -3l0 -3l0 -3l0 -3l3 0zM115 346l-2 1l-2 2l-1 3l0 3l0 1l0 2l2 3l1 2l1 1l2 2l1 1l2 1l3 2l3 1l3 1l3 -1l3 0l3 -1l3 -3l1 -3l0 -3l-1 -3l-1 -3l-2 -3l-3 -3l-3 -2l-3 -1l-3 -1l-3 -1l-3 1l-3 0l-1 1z" fill="#6bacd1" fill-rule="evenodd"/>
<path d="M95 160l3 0l3 0l3 0l3 0l3 0l3 0l3 0l3 0l3 0l3 0l3 0l3 0l3 0l3 0l3 0l3 0l3 0l3 0l3 0l3 0l3 0l3 0l3 0l3 0l3 0l3 0l3 0l3 0l3 0l3 0l3 0l3 0l3 0l3 0l3 0l3 0l3 0l3 0l3 0l3 0l3 0l3 0l3 0l3 0l3 0l3 0l3 0l3 0l1 3l0 3l1 3l0 3l1 3l0 3l0 1l0 2l0 3l0 3l0 3l0 2l0 1l0 3l-1 3l0 3l0 3l-1 3l0 3l-1 3l0 2l0 1l-1 3l0 3l-1 3l-1 3l0 1l-1 2l0 3l-2 3l0 1l-1 2l-2 3l0 1l-1 2l-1 3l-1 1l-1 2l-1 3l-1 2l0 1l-1 3l-1 3l-1 2l0 1l-2 3l-1 2l-1 1l-2 3l-1 3l-2 3l0 2l0 1l-1 3l0 3l-1 3l1 3l0 3l0 3l1 3l0 3l0 3l0 3l0 3l0 3l1 3l0 3l1 3l1 2l1 1l1 3l1 3l0 3l0 3l0 3l-1 3l-1 3l0 3l-1 2l0 1l-2 3l-1 3l-2 3l-1 1l-3 2l-3 3l-3 2l-2 1l-1 1l-3 2l-3 2l-1 1l-2 1l-2 2l-1 1l-1 2l-2 3l-1 3l-1 3l-1 3l0 3l0 3l0 3l0 3l0 3l0 3l0 3l-1 3l0 3l-1 3l-1 3l-1 3l-1 3l-1 1l-1 2l-2 3l-3 0l-3 0l-3 0l-3 0l-3 0l-3 0l-3 0l-3 0l-3 0l-3 0l-3 0l-3 0l-3 0l-3 0l-3 0l-3 0l-3 0l-3 0l-3 0l-3 0l-3 0l-3 0l-3 0l-3 0l-3 0l-3 0l-3 0l-3 0l-3 0l-3 0l0 -3l0 -3l0 -3l0 -3l0 -3l0 -3l0 -3l0 -3l0 -3l0 -3l0 -3l0 -3l0 -3l0 -3l0 -3l0 -3l0 -3l0 -3l0 -3l0 -3l0 -3l0 -3l0 -3l0 -3l0 -3l0 -3l0 -3l0 -3l0 -3l0 -3l0 -3l0 -3l0 -3l0 -3l0 -3l0 -3l0 -3l0 -3l0 -3l0 -3l0 -3l0 -3l0 -3l0 -3l0 -3l0 -3l0 -3l0 -3l0 -3l0 -3l0 -3l0 -3l0 -3l0 -3l0 -3l0 -3l0 -3l0 -3l0 -3l0 -3l0 -3l0 -3l0 -3l0 -3l0 -3l0 -3l0 -3l0 -3l0 -3l0 -3l3 -2l1 -1l2 -2l1 -1l2 -2l1 -1l2 -1l2 -2l1 -1l1 -2l2 -2l0 -1l2 -3l1 -2l0 -1l1 -3l0 -3l0 -3l0 -3l0 -3l-1 -3l0 -2l0 -1l-1 -3l-1 -3l0 -3l-1 -3l0 -1l-1 -2l0 -3l-1 -3l0 -3l-1 -3l-1 -3l0 -3l1 0zM91 331l-2 1l-3 2l-2 3l-1 3l1 3l1 3l1 2l0 1l2 3l1 1l2 2l1 1l2 2l1 0l3 3l3 2l2 1l1 1l3 2l1 0l2 1l3 2l3 1l3 2l1 0l2 1l3 1l3 0l3 0l3 0l3 0l3 0l3 -2l3 -3l1 -3l0 -3l0 -3l0 -3l-1 -3l-1 -3l-2 -3l-3 -3l-3 -3l-3 -2l-1 -1l-2 -1l-3 -2l-3 -2l-3 -1l-3 -1l-3 -1l-3 -1l-2 0l-1 0l-3 -1l-3 0l-3 0l-3 0l-3 0l-3 1l-1 0z" fill="#59a1ca" fill-rule="evenodd"/>
<path d="M164 163l3 -2l2 -1l1 0l3 0l3 0l3 0l3 0l3 0l3 0l3 0l3 0l3 0l3 0l3 0l3 0l1 0l2 1l3 2l3 3l3 3l2 3l1 2l1 1l1 3l1 3l0 1l0 2l1 3l0 3l1 3l0 3l1 3l0 3l0 3l0 3l0 3l0 3l0 3l0 2l0 1l0 3l-1 3l0 3l0 3l-1 3l-1 3l0 1l-1 2l0 3l-1 3l-1 2l0 1l-1 3l-1 3l-1 2l0 1l-1 3l-1 3l-1 1l-1 2l-1 3l-1 1l-1 2l-1 3l-1 2l0 1l-1 3l-1 3l0 3l-1 3l0 3l1 3l0 3l0 3l1 3l0 3l1 3l0 3l0 3l0 1l0 2l1 3l0 3l1 3l1 2l0 1l1 3l2 3l0 3l-1 3l-1 3l-1 3l0 1l-1 2l-1 3l-1 1l-1 2l-2 2l-1 1l-2 2l-1 1l-2 2l-2 1l-1 1l-3 2l-3 2l-2 1l-1 1l-3 1l-2 1l-1 1l-3 1l-2 1l-1 1l-3 1l-1 1l-2 2l-2 1l-1 2l-1 1l-1 3l-1 3l0 2l0 1l0 2l0 1l1 3l0 3l0 3l1 3l-1 3l0 3l-1 3l0 1l-1 2l-1 3l-1 2l-1 1l-2 3l-3 2l-1 1l-2 1l-3 2l-1 0l-2 1l-3 1l-3 0l-3 0l-3 0l-3 0l-3 -1l-3 0l-3 0l-3 0l-3 0l-3 -1l-2 0l-1 0l-3 -1l-3 -1l-2 -1l-1 0l-3 -2l-2 -1l-1 0l-3 -2l-3 -1l-3 -2l-2 -1l-1 -1l-3 -2l0 -3l0 -3l0 -3l0 -3l0 -3l0 -3l0 -3l0 -3l0 -3l0 -3l0 -3l0 -3l0 -3l0 -3l0 -3l0 -3l3 -2l2 -1l1 0l3 -1l3 -1l3 0l3 -1l3 0l3 0l3 1l3 0l3 0l3 1l2 1l1 0l3 1l3 1l3 1l2 0l1 0l3 1l3 0l3 0l3 0l3 0l2 -1l1 0l3 -2l1 -1l1 -3l0 -3l0 -3l0 -3l-1 -3l0 -3l-1 -3l0 -1l0 -2l-2 -3l-1 -2l-1 -1l-2 -2l0 -1l-3 -3l-3 -3l-3 -3l-3 -3l-1 0l-2 -2l-1 -1l-2 -2l-2 -1l-1 -1l-3 -2l-3 -2l-1 -1l-2 -2l-1 -1l-2 -2l-1 -1l-2 -3l0 -1l-1 -2l-1 -3l-1 -3l-1 -3l0 -3l-1 -3l0 -3l-1 -3l0 -3l0 -2l0 -1l0 -3l0 -3l0 -2l0 -1l0 -3l1 -3l1 -3l1 -3l0 -1l1 -2l1 -3l1 -2l1 -1l1 -3l1 -1l1 -2l2 -3l2 -3l1 -2l0 -1l2 -3l1 -2l0 -1l2 -3l1 -3l0 -1l1 -2l1 -3l1 -3l1 -3l1 -3l1 -3l1 -3l2 -3l0 -1l1 -2l1 -3l1 -1l1 -2l2 -3l2 -3l1 -2l1 -1l2 -3l3 -3l3 -3l3 -3l3 -2l1 -1l2 -1l3 -2z" fill="#4997c5" fill-rule="evenodd"/>
<path d="M179 199l3 -1l3 0l3 -1l3 -1l3 0l3 0l3 1l3 2l3 3l2 3l1 2l1 1l1 3l1 2l0 1l1 3l1 3l1 3l0 3l0 3l0 3l0 3l0 3l0 3l0 3l-1 3l-1 3l0 3l-1 2l0 1l-1 3l-1 3l-1 2l0 1l-2 3l-1 3l-1 3l-1 3l-1 2l0 1l-1 3l0 3l0 3l0 3l0 3l0 3l0 3l1 3l0 1l0 2l1 3l0 3l1 3l0 3l1 3l0 3l1 3l0 3l1 3l1 3l1 3l0 3l-1 3l-1 3l-1 3l-1 2l-1 1l-2 3l-3 3l-3 3l-3 2l-2 1l-1 1l-3 1l-1 1l-2 1l-3 1l-3 1l-1 0l-2 0l-3 1l-3 -1l-1 0l-2 -1l-3 -2l-2 -3l-1 -2l-1 -1l-1 -3l-1 -3l0 -2l0 -1l-1 -3l-1 -3l-1 -1l-1 -2l-2 -3l-2 -3l-1 -1l-1 -2l-2 -2l-1 -1l-2 -3l-3 -3l-2 -3l-1 -1l-2 -2l-1 -2l-1 -1l-2 -2l0 -1l-3 -3l0 -1l-1 -2l-2 -3l0 -1l-1 -2l0 -3l0 -3l0 -3l0 -3l0 -3l0 -3l0 -3l0 -3l0 -3l0 -3l1 -3l1 -3l1 -3l1 -3l2 -3l1 -2l1 -1l2 -3l3 -3l2 -3l1 -2l1 -1l1 -3l1 -3l0 -1l1 -2l1 -3l1 -3l0 -1l1 -2l1 -3l1 -2l1 -1l1 -3l1 -1l2 -2l1 -2l1 -1l2 -2l1 -1l2 -2l2 -1l1 -1l3 -1l2 -1l1 -1l3 -1l3 0l3 -1zM113 378l3 1l3 1l3 1l3 1l1 0l2 1l3 0l3 1l3 1l1 0l2 1l3 1l2 1l1 0l3 3l2 3l0 3l1 3l0 2l0 1l2 3l1 3l0 1l0 2l0 3l0 3l-1 3l-2 3l-3 3l-3 2l-3 1l-3 0l-3 0l-3 -1l-3 -1l-3 -1l-3 0l-3 0l-1 0l-2 -1l-3 -1l-2 -1l-1 -1l-2 -2l-1 -1l-2 -2l-1 -1l-3 -2l-3 -3l-3 -3l-2 -3l-1 -2l0 -1l-1 -3l0 -3l0 -3l1 -3l2 -3l1 -2l1 -1l2 -1l2 -2l1 0l3 -2l3 -1l3 -1z" fill="#3e8cbf" fill-rule="evenodd"/>
<path d="M179 219l3 -1l3 0l3 0l3 1l3 1l3 2l1 1l2 2l1 1l2 3l1 3l1 3l1 3l0 2l0 1l0 3l0 2l0 1l0 3l-1 3l-1 3l-1 3l-1 3l-2 3l0 1l-1 2l-1 3l-1 3l0 1l-1 2l0 3l0 3l-1 3l1 3l0 3l0 3l1 3l0 2l0 1l1 3l0 3l1 3l0 3l1 2l0 1l1 3l0 3l1 3l1 3l0 2l0 1l1 3l0 3l1 3l-1 3l0 3l-1 2l-1 1l-1 3l-1 1l-2 2l-1 1l-2 2l-1 1l-3 2l-3 2l-3 1l-3 1l-3 1l-3 0l-3 0l-3 -1l-2 -1l-1 -1l-1 -2l-2 -3l0 -1l-1 -2l-1 -3l-1 -3l-1 -3l-2 -3l-2 -3l-1 -2l-1 -1l-2 -3l-2 -3l-1 -2l-1 -1l-2 -3l-2 -3l-1 -2l-1 -1l-1 -3l-1 -1l-1 -2l-1 -3l-1 -2l0 -1l-1 -3l-1 -3l0 -3l0 -3l0 -3l0 -3l0 -3l1 -3l1 -3l0 -1l1 -2l1 -3l1 -2l1 -1l2 -3l0 -1l2 -2l1 -1l2 -2l1 -1l2 -2l1 -1l1 -2l2 -2l1 -1l1 -3l1 -3l1 -3l1 -3l1 -3l0 -1l1 -2l1 -3l1 -1l1 -2l2 -2l1 -1l2 -2l1 -1l2 -1l3 -2l1 0l2 -1zM113 386l3 -1l3 0l3 1l3 0l3 1l3 0l2 1l1 1l3 1l2 1l1 1l2 2l1 1l1 2l2 3l1 3l1 3l1 3l0 3l-1 3l-2 3l0 1l-3 2l-3 1l-3 0l-3 0l-3 0l-3 -1l-3 -1l-3 -1l-1 -1l-2 -1l-2 -2l-1 -1l-2 -2l-1 -1l-2 -2l-1 -2l-1 -1l-1 -3l-1 -3l0 -3l0 -2l0 -1l1 -3l2 -2l1 -1l2 -2z" fill="#3783bb" fill-rule="evenodd"/>
<path d="M185 234l3 1l1 0l2 1l3 2l2 3l1 2l0 1l0 3l0 3l-1 3l-2 3l0 1l-1 2l-2 3l-2 3l-1 3l-1 3l0 3l0 3l0 3l0 3l0 3l1 3l1 3l0 3l1 3l1 3l0 1l0 2l1 3l1 3l1 3l0 1l1 2l0 3l1 3l1 3l0 1l1 2l0 3l1 3l0 3l0 3l0 3l-1 3l-1 2l-1 1l-2 3l-3 2l-1 1l-2 1l-3 1l-2 1l-1 0l-3 1l-3 0l-3 0l-1 -1l-2 -3l-1 -3l-2 -3l0 -1l-1 -2l-2 -3l0 -1l-1 -2l-2 -3l-2 -3l-1 -2l-1 -1l-2 -3l0 -1l-2 -2l-1 -2l0 -1l-2 -3l-1 -2l0 -1l-2 -3l-1 -3l-1 -3l-1 -3l0 -3l0 -3l0 -3l0 -3l1 -3l1 -3l0 -1l1 -2l2 -3l2 -3l1 -1l2 -2l1 -1l2 -2l1 -1l2 -2l1 -1l2 -2l1 -2l1 -1l2 -3l2 -3l1 -3l1 -3l1 -3l1 -2l1 -1l1 -3l1 -1l2 -2l1 -1l3 -2l3 -1zM122 391l3 -1l3 1l3 1l2 2l1 1l3 2l2 3l1 1l2 2l1 3l1 3l-1 3l-2 3l-1 1l-3 1l-3 -1l-3 0l-1 -1l-2 -1l-3 -2l-3 -3l-3 -3l0 -1l-1 -2l-1 -3l0 -3l1 -3l1 -1l3 -2z" fill="#2f79b5" fill-rule="evenodd"/>
<path d="M161 285l3 -1l3 0l3 0l3 2l3 3l0 1l2 2l1 2l0 1l2 3l1 3l1 3l1 3l1 2l0 1l1 3l1 3l1 3l1 3l1 3l1 3l1 3l1 3l1 3l0 3l-1 3l-1 3l-1 1l-3 2l-3 1l-3 0l-3 0l-1 -1l-2 -1l-1 -2l-2 -2l0 -1l-2 -3l-1 -1l-1 -2l-2 -3l-2 -3l-1 -2l-1 -1l-2 -3l-2 -3l-1 -3l-2 -3l-1 -3l-1 -3l-1 -3l-1 -3l0 -1l0 -2l0 -3l0 -2l0 -1l1 -3l2 -2l1 -1l2 -2l1 -1l2 -1zM137 408l1 1l-1 1l-2 -1l2 -1z" fill="#2870b1" fill-rule="evenodd"/>
<path d="M164 302l1 2l-1 0l0 -2zM167 306l0 1l0 -1zM170 313l1 3l1 3l-2 1l-1 -1l0 -3l1 -3z" fill="#2065ab" fill-rule="evenodd"/>
<rect x="444" y="60" width="690" height="500" fill="#f3f5f6"/>
<path d="M447 60l3 0l3 0l3 0l3 0l3 0l3 0l3 0l3 0l3 0l3 0l3 0l3 0l3 0l3 0l3 0l3 0l3 0l3 0l3 0l3 0l3 0l3 0l3 0l3 0l3 0l3 0l3 0l3 0l3 0l3 0l3 0l3 0l3 0l3 0l3 0l3 0l3 0l3 0l3 0l3 0l3 0l3 0l3 0l3 0l3 0l3 0l3 0l3 0l3 0l3 0l3 0l3 0l3 0l3 0l3 0l3 0l3 0l3 0l3 0l3 0l3 0l3 0l3 0l3 0l3 0l3 0l3 0l3 0l3 0l3 0l3 0l3 0l3 0l3 0l3 0l3 0l3 0l3 0l3 0l3 0l3 0l3 0l3 0l3 0l3 0l3 0l3 0l3 0l3 0l3 0l3 0l3 0l3 0l3 0l3 0l3 0l3 0l3 0l3 0l3 0l3 0l3 0l3 0l3 0l3 0l3 0l3 0l3 0l3 0l3 0l3 0l3 0l3 0l3 0l3 0l3 0l3 0l3 0l3 0l3 0l3 0l3 0l3 0l3 0l3 0l3 0l3 0l3 0l3 0l3 0l3 0l3 0l3 0l3 0l3 0l3 0l3 0l3 0l3 0l3 0l3 0l3 0l3 0l3 0l3 0l3 0l3 0l3 0l3 0l3 0l3 0l3 0l3 0l3 0l3 0l3 0l3 0l3 0l3 0l3 0l3 0l3 0l3 0l3 0l3 0l3 0l3 0l3 0l3 0l3 0l3 0l3 0l3 0l3 0l3 0l3 0l3 0l3 0l3 0l3 0l3 0l3 0l3 0l3 0l3 0l3 0l3 0l3 0l3 0l3 0l3 0l3 0l3 0l3 0l3 0l3 0l3 0l3 0l3 0l3 0l3 0l3 0l3 0l3 0l3 0l3 0l3 0l3 0l3 0l3 0l3 0l3 0l3 0l3 0l3 0l3 0l3 0l3 0l3 0l3 0l3 0l3 0l3 0l3 0l3 0l3 0l3 0l3 0l3 0l0 3l0 3l0 3l0 3l0 3l0 3l0 3l0 3l0 3l0 3l0 3l0 3l0 3l0 3l0 3l0 3l0 3l0 3l0 3l0 3l0 3l0 3l0 3l0 3l0 3l0 3l0 3l0 3l0 3l0 3l0 3l0 3l0 3l0 3l0 3l0 3l0 3l0 3l0 3l0 3l0 3l0 3l0 3l0 3l0 3l0 3l0 3l0 3l0 3l0 3l0 3l0 3l0 3l0 3l0 3l0 3l0 3l0 3l0 3l0 3l0 3l0 3l0 3l0 3l0 3l0 3l0 3l0 3l0 3l0 3l0 3l0 3l0 3l0 3l0 3l0 3l0 3l0 3l0 3l0 3l0 3l0 3l0 3l0 3l0 3l0 3l0 3l0 3l0 3l0 3l0 3l0 3l0 3l0 3l0 3l0 3l0 3l0 3l0 3l0 3l0 3l0 3l0 3l0 3l0 3l0 3l0 3l0 3l0 3l0 3l0 3l0 3l0 3l0 3l0 3l0 3l0 3l0 3l0 3l0 3l0 3l0 3l0 3l0 3l0 3l0 3l0 3l0 3l0 3l0 3l0 3l0 3l0 3l0 3l0 3l0 3l0 3l0 3l0 3l0 3l0 3l0 3l0 3l0 3l0 3l0 3l0 3l0 3l0 3l0 3l0 3l0 3l0 3l0 3l0 3l0 3l0 3l0 3l0 3l0 3l0 3l0 3l0 3l0 3l0 3l0 3l0 3l-3 0l-3 0l-3 0l-3 0l-3 0l-3 0l-3 0l-3 0l-3 0l-3 0l-3 0l-3 0l-3 0l-3 0l-3 0l-3 0l-3 0l-3 0l-3 0l-3 0l-3 0l-3 0l-3 0l-3 0l-3 0l-3 0l-3 0l-3 0l-3 0l-3 0l-3 0l-3 0l-3 0l-3 0l-3 0l-3 0l-3 0l-3 0l-3 0l-3 0l-3 0l-3 0l-3 0l-3 0l-3 0l-3 0l-3 0l-3 0l-3 0l-3 0l-3 0l-3 0l-3 0l-3 0l-3 0l-3 0l-3 0l-3 0l-3 0l-3 0l-3 0l-3 0l-3 0l-3 0l-3 0l-3 0l-3 0l-3 0l-3 0l-3 0l-3 0l-3 0l-3 0l-3 0l-3 0l-3 0l-3 0l-3 0l-3 0l-3 0l-3 0l-3 0l-3 0l-3 0l-3 0l-3 0l-3 0l-3 0l-3 0l-3 0l-3 0l-3 0l-3 0l-3 0l-3 0l-3 0l-3 0l-3 0l-3 0l-3 0l-3 0l-3 0l-3 0l-3 0l-3 0l-3 0l-3 0l-3 0l-3 0l-3 0l-3 0l-3 0l-3 0l-3 0l-3 0l-3 0l-3 0l-3 0l-3 0l-3 0l-3 0l-3 0l-3 0l-3 0l-3 0l-3 0l-3 0l-3 0l-3 0l-3 0l-3 0l-3 0l-3 0l-3 0l-3 0l-3 0l-3 0l-3 0l-3 0l-3 0l-3 0l-3 0l-3 0l-3 0l-3 0l-3 0l-3 0l-3 0l-3 0l-3 0l-3 0l-3 0l-3 0l-3 0l-3 0l-3 0l-3 0l-3 0l-3 0l-3 0l-3 0l-3 0l-3 0l-3 0l-3 0l-3 0l-3 0l-3 0l-3 0l-3 0l-3 0l-3 0l-3 0l-3 0l-3 0l-3 0l-3 0l-3 0l-3 0l-3 0l-3 0l-3 0l-3 0l-3 0l-3 0l-3 0l-3 0l-3 0l-3 0l-3 0l-3 0l-3 0l-3 0l-3 0l-3 0l-3 0l-3 0l-3 0l-3 0l-3 0l-3 0l-3 0l-3 0l-3 0l-3 0l-3 0l-3 0l-3 0l-3 0l-3 0l-3 0l-3 0l-3 0l-3 0l-3 0l-3 0l-3 0l-3 0l-3 0l-3 0l-3 0l-3 0l-3 0l-3 0l-3 0l-3 0l-3 0l-3 0l-3 0l-3 0l0 -3l0 -3l0 -3l0 -3l0 -3l0 -3l0 -3l0 -3l0 -3l0 -3l0 -3l0 -3l0 -3l0 -3l0 -3l0 -3l0 -3l0 -3l0 -3l0 -3l0 -3l0 -3l0 -3l0 -3l0 -3l0 -3l0 -3l0 -3l0 -3l0 -3l0 -3l0 -3l0 -3l0 -3l0 -3l0 -3l0 -3l0 -3l0 -3l0 -3l0 -3l0 -3l0 -3l0 -3l0 -3l0 -3l0 -3l0 -3l0 -3l0 -3l0 -3l0 -3l0 -3l0 -3l0 -3l0 -3l0 -3l0 -3l0 -3l0 -3l0 -3l0 -3l0 -3l0 -3l0 -3l0 -3l0 -3l0 -3l0 -3l0 -3l0 -3l0 -3l0 -3l0 -3l0 -3l0 -3l0 -3l0 -3l0 -3l0 -3l0 -3l0 -3l0 -3l0 -3l0 -3l0 -3l0 -3l0 -3l0 -3l0 -3l0 -3l0 -3l0 -3l0 -3l0 -3l0 -3l0 -3l0 -3l0 -3l0 -3l0 -3l0 -3l0 -3l0 -3l0 -3l0 -3l0 -3l0 -3l0 -3l0 -3l0 -3l0 -3l0 -3l0 -3l0 -3l0 -3l0 -3l0 -3l0 -3l0 -3l0 -3l0 -3l0 -3l0 -3l0 -3l0 -3l0 -3l0 -3l0 -3l0 -3l0 -3l0 -3l0 -3l0 -3l0 -3l0 -3l0 -3l0 -3l0 -3l0 -3l0 -3l0 -3l0 -3l0 -3l0 -3l0 -3l0 -3l0 -3l0 -3l0 -3l0 -3l0 -3l0 -3l0 -3l0 -3l0 -3l0 -3l0 -3l0 -3l0 -3l0 -3l0 -3l0 -3l0 -3l0 -3l0 -3l0 -3l3 0zM827 141l1 1l2 -1l-2 -3l-1 3z" fill="#eaf1f5" fill-rule="evenodd"/>
<path d="M447 60l3 0l3 0l3 0l3 0l3 0l3 0l3 0l3 0l3 0l3 0l3 0l3 0l3 0l3 0l3 0l3 0l3 0l3 0l3 0l3 0l3 0l3 0l3 0l3 0l3 0l3 0l3 0l3 0l3 0l3 0l3 0l3 0l3 0l3 0l3 0l3 0l3 0l3 0l3 0l3 0l3 0l3 0l3 0l3 0l3 0l3 0l3 0l3 0l3 0l3 0l3 0l3 0l3 0l3 0l3 0l3 0l3 0l3 0l3 0l3 0l3 0l3 0l3 0l3 0l3 0l3 0l3 0l3 0l3 0l3 0l3 0l3 0l3 0l3 0l3 0l3 0l3 0l3 0l3 0l3 0l3 0l3 0l3 0l3 0l3 0l3 0l3 0l3 0l3 0l3 0l3 0l3 0l3 0l3 0l3 0l3 0l3 0l3 0l3 0l3 0l3 0l3 0l3 0l3 0l3 0l3 0l3 0l3 0l3 0l3 0l3 0l3 0l3 0l3 0l3 0l3 0l3 0l3 0l3 0l3 0l3 0l3 0l3 0l3 0l3 0l3 0l3 0l3 0l3 0l3 0l3 0l3 0l3 0l3 0l3 0l3 0l3 0l3 0l3 0l3 0l3 0l3 0l3 0l3 0l3 0l3 0l3 0l3 0l3 0l3 0l3 0l3 0l3 0l3 0l3 0l3 0l3 0l3 0l3 0l3 0l3 0l3 0l3 0l3 0l3 0l3 0l3 0l3 0l3 0l3 0l3 0l3 0l3 0l3 0l3 0l3 0l3 0l3 0l3 0l3 0l3 0l3 0l3 0l3 0l3 0l3 0l3 0l3 0l3 0l3 0l3 0l3 0l3 0l3 0l3 0l3 0l3 0l3 0l3 0l3 0l3 0l3 0l3 0l3 0l3 0l3 0l3 0l3 0l3 0l3 0l3 0l3 0l3 0l3 0l3 0l3 0l3 0l3 0l3 0l3 0l3 0l3 0l3 0l3 0l3 0l3 0l3 0l3 0l3 0l0 3l0 3l0 3l0 3l0 3l0 3l0 3l0 3l0 3l0 3l0 3l0 3l0 3l0 3l0 3l0 3l0 3l0 3l0 3l0 3l0 3l0 3l0 3l0 3l0 3l0 3l0 3l0 3l0 3l0 3l0 3l0 3l0 3l0 3l0 3l0 3l0 3l0 3l0 3l0 3l0 3l0 3l0 3l0 3l0 3l0 3l0 3l0 3l0 3l0 3l0 3l0 3l0 3l0 3l0 3l0 3l0 3l0 3l0 3l0 3l0 3l0 3l0 3l0 3l0 3l0 3l0 3l0 3l0 3l0 3l0 3l0 3l0 3l0 3l0 3l0 3l0 3l0 3l0 3l0 3l0 3l0 3l0 3l0 3l0 3l0 3l0 3l0 3l0 3l0 3l0 3l0 3l0 3l0 3l0 3l0 3l0 3l0 3l0 3l0 3l0 3l0 3l0 3l0 3l0 3l0 3l0 3l0 3l0 3l0 3l0 3l0 3l0 3l0 3l0 3l0 3l0 3l0 3l0 3l0 3l0 3l0 3l0 3l0 3l0 3l0 3l0 3l0 3l0 3l0 3l0 3l0 3l0 3l0 3l0 3l0 3l0 3l0 3l0 3l0 3l0 3l0 3l0 3l0 3l0 3l0 3l0 3l0 3l0 3l0 3l0 3l0 3l0 3l0 3l0 3l0 3l0 3l0 3l0 3l0 3l0 3l0 3l0 3l0 3l0 3l0 3l0 3l-3 0l-3 0l-3 0l-3 0l-3 0l-3 0l-3 0l-3 0l-3 0l-3 0l-3 0l-3 0l-3 0l-3 0l-3 0l-3 0l-3 0l-3 0l-3 0l-3 0l-3 0l-3 0l-3 0l-3 0l-3 0l-3 0l-3 0l-3 0l-3 0l-3 0l-3 0l-3 0l-3 0l-3 0l-3 0l-3 0l-3 0l-3 0l-3 0l-3 0l-3 0l-3 0l-3 0l-3 0l-3 0l-3 0l-3 0l-3 0l-3 0l-3 0l-3 0l-3 0l-3 0l-3 0l-3 0l-3 0l-3 0l-3 0l-3 0l-3 0l-3 0l-3 0l-3 0l-3 0l-3 0l-3 0l-3 0l-3 0l-3 0l-3 0l-3 0l-3 0l-3 0l-3 0l-3 0l-3 0l-3 0l-3 0l-3 0l-3 0l-3 0l-3 0l-3 0l-3 0l-3 0l-3 0l-3 0l-3 0l-3 0l-3 0l-3 0l-3 0l-3 0l-3 0l-3 0l-3 0l-3 0l-3 0l-3 0l-3 0l-3 0l-3 0l-3 0l-3 0l-3 0l-3 0l-3 0l-3 0l-3 0l-3 0l-3 0l-3 0l-3 0l-3 0l-3 0l-3 0l-3 0l-3 0l-3 0l-3 0l-3 0l-3 0l-3 0l-3 0l-3 0l-3 0l-3 0l-3 0l-3 0l-3 0l-3 0l-3 0l-3 0l-3 0l-3 0l-3 0l-3 0l-3 0l-3 0l-3 0l-3 0l-3 0l-3 0l-3 0l-3 0l-3 0l-3 0l-3 0l-3 0l-3 0l-3 0l-3 0l-3 0l-3 0l-3 0l-3 0l-3 0l-3 0l-3 0l-3 0l-3 0l-3 0l-3 0l-3 0l-3 0l-3 0l-3 0l-3 0l-3 0l-3 0l-3 0l-3 0l-3 0l-3 0l-3 0l-3 0l-3 0l-3 0l-3 0l-3 0l-3 0l-3 0l-3 0l-3 0l-3 0l-3 0l-3 0l-3 0l-3 0l-3 0l-3 0l-3 0l-3 0l-3 0l-3 0l-3 0l-3 0l-3 0l-3 0l-3 0l-3 0l-3 0l-3 0l-3 0l-3 0l-3 0l-3 0l-3 0l-3 0l-3 0l-3 0l-3 0l-3 0l-3 0l-3 0l-3 0l-3 0l-3 0l-3 0l-3 0l-3 0l-3 0l-3 0l-3 0l-3 0l-3 0l-3 0l-3 0l-3 0l-3 0l0 -3l0 -3l0 -3l0 -3l0 -3l0 -3l0 -3l0 -3l0 -3l0 -3l0 -3l0 -3l0 -3l0 -3l0 -3l0 -3l0 -3l0 -3l0 -3l0 -3l0 -3l0 -3l0 -3l0 -3l0 -3l0 -3l0 -3l0 -3l0 -3l0 -3l0 -3l0 -3l0 -3l0 -3l0 -3l0 -3l0 -3l0 -3l0 -3l0 -3l0 -3l0 -3l0 -3l0 -3l0 -3l0 -3l0 -3l0 -3l0 -3l0 -3l0 -3l0 -3l0 -3l0 -3l0 -3l0 -3l0 -3l0 -3l0 -3l0 -3l0 -3l0 -3l0 -3l0 -3l0 -3l0 -3l0 -3l0 -3l0 -3l0 -3l0 -3l0 -3l0 -3l0 -3l0 -3l0 -3l0 -3l0 -3l0 -3l0 -3l0 -3l0 -3l0 -3l0 -3l0 -3l0 -3l0 -3l0 -3l0 -3l0 -3l0 -3l0 -3l0 -3l0 -3l0 -3l0 -3l0 -3l0 -3l0 -3l0 -3l0 -3l0 -3l0 -3l0 -3l0 -3l0 -3l0 -3l0 -3l0 -3l0 -3l0 -3l0 -3l0 -3l0 -3l0 -3l0 -3l0 -3l0 -3l0 -3l0 -3l0 -3l0 -3l0 -3l0 -3l0 -3l0 -3l0 -3l0 -3l0 -3l0 -3l0 -3l0 -3l0 -3l0 -3l0 -3l0 -3l0 -3l0 -3l0 -3l0 -3l0 -3l0 -3l0 -3l0 -3l0 -3l0 -3l0 -3l0 -3l0 -3l0 -3l0 -3l0 -3l0 -3l0 -3l0 -3l0 -3l0 -3l0 -3l0 -3l0 -3l0 -3l0 -3l0 -3l0 -3l0 -3l0 -3l0 -3l3 0zM825 138l-1 3l1 1l2 2l1 0l1 0l2 -1l1 -2l0 -3l-1 -1l-3 -1l-3 2z" fill="#e3edf3" fill-rule="evenodd"/>
<path d="M447 60l3 0l3 0l3 0l3 0l3 0l3 0l3 0l3 0l3 0l3 0l3 0l3 0l3 0l3 0l3 0l3 0l3 0l3 0l3 0l3 0l3 0l3 0l3 0l3 0l3 0l3 0l3 0l3 0l3 0l3 0l3 0l3 0l3 0l3 0l3 0l3 0l3 0l3 0l3 0l3 0l3 0l3 0l3 0l3 0l3 0l3 0l3 0l3 0l3 0l3 0l3 0l3 0l3 0l3 0l3 0l3 0l3 0l3 0l3 0l3 0l3 0l3 0l3 0l3 0l3 0l3 0l3 0l3 0l3 0l3 0l3 0l3 0l3 0l3 0l3 0l3 0l3 0l3 0l3 0l3 0l3 0l3 0l3 0l3 0l3 0l3 0l3 0l3 0l3 0l3 0l3 0l3 0l3 0l3 0l3 0l3 0l3 0l3 0l3 0l3 0l3 0l3 0l3 0l3 0l3 0l3 0l3 0l3 0l3 0l3 0l3 0l3 0l3 0l3 0l3 0l3 0l3 0l3 0l3 0l3 0l3 0l3 0l3 0l3 0l3 0l3 0l3 0l3 0l3 0l3 0l3 0l3 0l3 0l3 0l3 0l3 0l3 0l3 0l3 0l3 0l3 0l1 0l-1 3l-1 3l-1 3l0 3l-1 2l0 1l-1 3l0 3l0 3l0 3l1 1l3 1l3 0l3 -1l3 -1l1 0l2 -2l2 -1l1 -1l3 -2l3 -3l3 -3l2 -3l1 -1l1 -2l2 -2l0 -1l2 -3l1 -1l1 -2l2 0l3 0l3 0l3 0l3 0l3 0l3 0l3 0l3 0l3 0l3 0l3 0l3 0l3 0l3 0l3 0l3 0l3 0l3 0l3 0l3 0l3 0l3 0l3 0l3 0l3 0l3 0l3 0l3 0l3 0l3 0l3 0l3 0l3 0l3 0l3 0l3 0l3 0l3 0l3 0l3 0l3 0l3 0l3 0l3 0l3 0l3 0l3 0l3 0l3 0l3 0l3 0l3 0l3 0l3 0l3 0l3 0l3 0l3 0l3 0l3 0l3 0l3 0l3 0l3 0l3 0l3 0l3 0l3 0l3 0l3 0l3 0l3 0l3 0l3 0l3 0l3 0l0 3l0 3l0 3l0 3l0 3l0 3l0 3l0 3l0 3l0 3l0 3l0 3l0 3l0 3l0 3l0 3l0 3l0 3l0 3l0 3l0 3l0 3l0 3l0 3l0 3l0 3l0 3l0 3l0 3l0 3l0 3l0 3l0 3l0 3l0 3l0 3l0 3l0 3l0 3l0 3l0 3l0 3l0 3l0 3l0 3l0 3l0 3l0 3l0 3l0 3l0 3l0 3l0 3l0 3l0 3l0 3l0 3l0 3l0 3l0 3l0 3l0 3l0 3l0 3l0 3l0 3l0 3l0 3l0 3l0 3l0 3l0 3l0 3l0 3l0 3l0 3l0 3l0 3l0 3l0 3l0 3l0 3l0 3l0 3l0 3l0 3l0 3l0 3l0 3l0 3l0 3l0 3l0 3l0 3l0 3l0 3l0 3l0 3l0 3l0 3l0 3l0 3l0 3l0 3l0 3l0 3l0 3l0 3l0 3l0 3l0 3l0 3l0 3l0 3l0 3l0 3l0 3l0 3l0 3l0 3l0 3l0 3l0 3l0 3l0 3l0 3l0 3l0 3l0 3l0 3l0 3l0 3l0 3l0 3l0 3l0 3l0 3l0 3l0 3l0 3l0 3l0 3l0 3l0 3l0 3l0 3l0 3l0 3l0 3l0 3l0 3l0 3l0 3l0 3l0 3l0 3l0 3l0 3l0 3l0 3l0 3l0 3l0 3l0 3l0 3l0 3l0 3l-3 0l-3 0l-3 0l-3 0l-3 0l-3 0l-3 0l-3 0l-3 0l-3 0l-3 0l-3 0l-3 0l-3 0l-3 0l-3 0l-3 0l-3 0l-3 0l-3 0l-3 0l-3 0l-3 0l-3 0l-3 0l-3 0l-3 0l-3 0l-3 0l-3 0l-3 0l-3 0l-3 0l-3 0l-3 0l-3 0l-3 0l-3 0l-3 0l-3 0l-3 0l-3 0l-3 0l-3 0l-3 0l-3 0l-3 0l-3 0l-3 0l-3 0l-3 0l-3 0l-3 0l-3 0l-3 0l-3 0l-3 0l-3 0l-3 0l-3 0l-3 0l-3 0l-3 0l-3 0l-3 0l-3 0l-3 0l-3 0l-3 0l-3 0l-3 0l-3 0l-3 0l-3 0l-3 0l-3 0l-3 0l-3 0l-3 0l-3 0l-3 0l-3 0l-3 0l-3 0l-3 0l-3 0l-3 0l-3 0l-3 0l-3 0l-3 0l-3 0l-3 0l-3 0l-3 0l-3 0l-3 0l-3 0l-3 0l-3 0l-3 0l-3 0l-3 0l-3 0l-3 0l-3 0l-3 0l-3 0l-3 0l-3 0l-3 0l-3 0l-3 0l-3 0l-3 0l-3 0l-3 0l-3 0l-3 0l-3 0l-3 0l-3 0l-3 0l-3 0l-3 0l-3 0l-3 0l-3 0l-3 0l-3 0l-3 0l-3 0l-3 0l-3 0l-3 0l-3 0l-3 0l-3 0l-3 0l-3 0l-3 0l-3 0l-3 0l-3 0l-3 0l-3 0l-3 0l-3 0l-3 0l-3 0l-3 0l-3 0l-3 0l-3 0l-3 0l-3 0l-3 0l-3 0l-3 0l-3 0l-3 0l-3 0l-3 0l-3 0l-3 0l-3 0l-3 0l-3 0l-3 0l-3 0l-3 0l-3 0l-3 0l-3 0l-3 0l-3 0l-3 0l-3 0l-3 0l-3 0l-3 0l-3 0l-3 0l-3 0l-3 0l-3 0l-3 0l-3 0l-3 0l-3 0l-3 0l-3 0l-3 0l-3 0l-3 0l-3 0l-3 0l-3 0l-3 0l-3 0l-3 0l-3 0l-3 0l-3 0l-3 0l-3 0l-3 0l-3 0l-3 0l-3 0l-3 0l-3 0l-3 0l-3 0l-3 0l-3 0l-3 0l-3 0l-3 0l-3 0l-3 0l-3 0l-3 0l-3 0l-3 0l-3 0l-3 0l-3 0l-3 0l-3 0l0 -3l0 -3l0 -3l0 -3l0 -3l0 -3l0 -3l0 -3l0 -3l0 -3l0 -3l0 -3l0 -3l0 -3l0 -3l0 -3l0 -3l0 -3l0 -3l0 -3l0 -3l0 -3l0 -3l0 -3l0 -3l0 -3l0 -3l0 -3l0 -3l0 -3l0 -3l0 -3l0 -3l0 -3l0 -3l0 -3l0 -3l0 -3l0 -3l0 -3l0 -3l0 -3l0 -3l0 -3l0 -3l0 -3l0 -3l0 -3l0 -3l0 -3l0 -3l0 -3l0 -3l0 -3l0 -3l0 -3l0 -3l0 -3l0 -3l0 -3l0 -3l0 -3l0 -3l0 -3l0 -3l0 -3l0 -3l0 -3l0 -3l0 -3l0 -3l0 -3l0 -3l0 -3l0 -3l0 -3l0 -3l0 -3l0 -3l0 -3l0 -3l0 -3l0 -3l0 -3l0 -3l0 -3l0 -3l0 -3l0 -3l0 -3l0 -3l0 -3l0 -3l0 -3l0 -3l0 -3l0 -3l0 -3l0 -3l0 -3l0 -3l0 -3l0 -3l0 -3l0 -3l0 -3l0 -3l0 -3l0 -3l0 -3l0 -3l0 -3l0 -3l0 -3l0 -3l0 -3l0 -3l0 -3l0 -3l0 -3l0 -3l0 -3l0 -3l0 -3l0 -3l0 -3l0 -3l0 -3l0 -3l0 -3l0 -3l0 -3l0 -3l0 -3l0 -3l0 -3l0 -3l0 -3l0 -3l0 -3l0 -3l0 -3l0 -3l0 -3l0 -3l0 -3l0 -3l0 -3l0 -3l0 -3l0 -3l0 -3l0 -3l0 -3l0 -3l0 -3l0 -3l0 -3l0 -3l0 -3l0 -3l0 -3l0 -3l0 -3l0 -3l0 -3l0 -3l3 0zM689 63l-1 3l2 2l2 -2l0 -3l-2 -2l-1 2zM825 135l-2 3l-1 3l2 3l1 2l3 1l3 -1l2 -2l1 -1l1 -2l-1 -3l-2 -3l-1 0l-3 -1l-3 1z" fill="#dae9f2" fill-rule="evenodd"/>
<path d="M447 60l3 0l3 0l3 0l3 0l3 0l3 0l3 0l3 0l3 0l3 0l3 0l3 0l3 0l3 0l3 0l3 0l3 0l3 0l3 0l3 0l3 0l3 0l3 0l3 0l3 0l3 0l3 0l3 0l3 0l3 0l3 0l3 0l3 0l3 0l3 0l3 0l3 0l3 0l3 0l3 0l3 0l3 0l3 0l3 0l3 0l3 0l3 0l3 0l3 0l3 0l3 0l3 0l3 0l3 0l3 0l3 0l3 0l3 0l3 0l3 0l3 0l3 0l3 0l3 0l3 0l3 0l3 0l3 0l3 0l3 0l3 0l3 0l3 0l3 0l3 0l3 0l3 0l3 0l3 0l2 0l-1 3l1 3l1 2l2 1l1 0l1 0l2 -1l2 -2l1 -3l0 -3l3 0l3 0l3 0l3 0l3 0l3 0l3 0l3 0l3 0l3 0l3 0l3 0l3 0l3 0l3 0l3 0l3 0l3 0l3 0l3 0l3 0l3 0l3 0l3 0l3 0l3 0l3 0l3 0l3 0l3 0l3 0l3 0l3 0l3 0l3 0l3 0l3 0l3 0l3 0l3 0l3 0l3 0l3 0l3 0l3 0l3 0l3 0l3 0l3 0l3 0l3 0l3 0l3 0l3 0l3 0l0 3l0 3l0 3l1 3l0 3l0 3l1 3l0 3l1 1l1 2l2 3l1 0l2 1l3 1l3 0l3 0l3 -1l3 0l2 -1l1 0l3 -2l3 -1l3 -2l3 -1l3 -2l2 -1l1 -1l3 -2l3 -2l1 -1l2 -1l2 -2l1 -1l3 -2l3 -3l1 0l2 -2l1 -1l2 -1l2 -2l1 0l3 0l3 0l3 0l3 0l3 0l3 0l3 0l3 0l3 0l3 0l3 0l3 0l3 0l3 0l3 0l3 0l3 0l3 0l3 0l3 0l3 0l3 0l3 0l3 0l3 0l3 0l3 0l3 0l3 0l3 0l3 0l3 0l3 0l3 0l3 0l3 0l3 0l3 0l3 0l3 0l3 0l3 0l3 0l3 0l3 0l3 0l3 0l3 0l3 0l3 0l3 0l3 0l3 0l3 0l3 0l3 0l3 0l3 0l3 0l3 0l3 0l3 0l3 0l3 0l3 0l3 0l3 0l0 3l0 3l0 3l0 3l0 3l0 3l0 3l0 3l0 3l0 3l0 3l0 3l0 3l0 3l0 3l0 3l0 3l0 3l0 3l0 3l0 3l0 3l0 3l0 3l0 3l0 3l0 3l0 3l0 3l0 3l0 3l0 3l0 3l0 3l0 3l0 3l0 3l0 3l0 3l0 3l0 3l0 3l0 3l0 3l0 3l0 3l0 3l0 3l0 3l0 3l0 3l0 3l0 3l0 3l0 3l0 3l0 3l0 3l0 3l0 3l0 3l0 3l0 3l0 3l0 3l0 3l0 3l0 3l0 3l0 3l0 3l0 3l0 3l0 3l0 3l0 3l0 3l0 3l0 3l0 3l0 3l0 3l0 3l0 3l0 3l0 3l0 3l0 3l0 3l0 3l0 3l0 3l0 3l0 3l0 3l0 3l0 3l0 3l0 3l0 3l0 3l0 3l0 3l0 3l0 3l0 3l0 3l0 3l0 3l0 3l0 3l0 3l0 3l0 3l0 3l0 3l0 3l0 3l0 3l0 3l0 3l0 3l0 3l0 3l0 3l0 3l0 3l0 3l0 3l0 3l0 3l0 3l0 3l0 3l0 3l0 3l0 3l0 3l0 3l0 3l0 3l0 3l0 3l0 3l0 3l0 3l0 3l0 3l0 3l0 3l0 3l0 3l0 3l0 3l0 3l0 3l0 3l0 3l0 3l0 3l0 3l0 3l0 3l0 3l0 3l0 3l0 3l-3 0l-3 0l-3 0l-3 0l-3 0l-3 0l-3 0l-3 0l-3 0l-3 0l-3 0l-3 0l-3 0l-3 0l-3 0l-3 0l-3 0l-3 0l-3 0l-3 0l-3 0l-3 0l-3 0l-3 0l-3 0l-3 0l-3 0l-3 0l-3 0l-3 0l-3 0l-3 0l-3 0l-3 0l-3 0l-3 0l-3 0l-3 0l-3 0l-3 0l-3 0l-3 0l-3 0l-3 0l-3 0l-3 0l-3 0l-3 0l-3 0l-3 0l-3 0l-3 0l-3 0l-3 0l-3 0l-3 0l-3 0l-3 0l-3 0l-3 0l-3 0l-3 0l-3 0l-3 0l-3 0l-3 0l-3 0l-3 0l-3 0l-3 0l-3 0l-3 0l-3 0l-3 0l-3 0l-3 0l-3 0l-3 0l-3 0l-3 0l-3 0l-3 0l-3 0l-3 0l-3 0l-3 0l-3 0l-3 0l-3 0l-3 0l-3 0l-3 0l-3 0l-3 0l-3 0l-3 0l-3 0l-3 0l-3 0l-3 0l-3 0l-3 0l-3 0l-3 0l-3 0l-3 0l-3 0l-3 0l-3 0l-3 0l-3 0l-3 0l-3 0l-3 0l-3 0l-3 0l-3 0l-3 0l-3 0l-3 0l-3 0l-3 0l-3 0l-3 0l-3 0l-3 0l-3 0l-3 0l-3 0l-3 0l-3 0l-3 0l-3 0l-3 0l-3 0l-3 0l-3 0l-3 0l-3 0l-3 0l-3 0l-3 0l-3 0l-3 0l-3 0l-3 0l-3 0l-3 0l-3 0l-3 0l-3 0l-3 0l-3 0l-3 0l-3 0l-3 0l-3 0l-3 0l-3 0l-3 0l-3 0l-3 0l-3 0l-3 0l-3 0l-3 0l-3 0l-3 0l-3 0l-3 0l-3 0l-3 0l-3 0l-3 0l-3 0l-3 0l-3 0l-3 0l-3 0l-3 0l-3 0l-3 0l-3 0l-3 0l-3 0l-3 0l-3 0l-3 0l-3 0l-3 0l-3 0l-3 0l-3 0l-3 0l-3 0l-3 0l-3 0l-3 0l-3 0l-3 0l-3 0l-3 0l-3 0l-3 0l-3 0l-3 0l-3 0l-3 0l-3 0l-3 0l-3 0l-3 0l-3 0l-3 0l-3 0l-3 0l-3 0l-3 0l-3 0l-3 0l-3 0l-3 0l-3 0l-3 0l-3 0l-3 0l-3 0l-3 0l-3 0l-3 0l0 -3l0 -3l0 -3l0 -3l0 -3l0 -3l0 -3l0 -3l0 -3l0 -3l0 -3l0 -3l0 -3l0 -3l0 -3l0 -3l0 -3l0 -3l0 -3l0 -3l0 -3l0 -3l0 -3l0 -3l0 -3l0 -3l0 -3l0 -3l0 -3l0 -3l0 -3l0 -3l0 -3l0 -3l0 -3l0 -3l0 -3l0 -3l0 -3l0 -3l0 -3l0 -3l0 -3l0 -3l0 -3l0 -3l0 -3l0 -3l0 -3l0 -3l0 -3l0 -3l0 -3l0 -3l0 -3l0 -3l0 -3l0 -3l0 -3l0 -3l0 -3l0 -3l0 -3l0 -3l0 -3l0 -3l0 -3l0 -3l0 -3l0 -3l0 -3l0 -3l0 -3l0 -3l0 -3l0 -3l0 -3l0 -3l0 -3l0 -3l0 -3l0 -3l0 -3l0 -3l0 -3l0 -3l0 -3l0 -3l0 -3l0 -3l0 -3l0 -3l0 -3l0 -3l0 -3l0 -3l0 -3l0 -3l0 -3l0 -3l0 -3l0 -3l0 -3l0 -3l0 -3l0 -3l0 -3l0 -3l0 -3l0 -3l0 -3l0 -3l0 -3l0 -3l0 -3l0 -3l0 -3l0 -3l0 -3l0 -3l0 -3l0 -3l0 -3l0 -3l0 -3l0 -3l0 -3l0 -3l0 -3l0 -3l0 -3l0 -3l0 -3l0 -3l0 -3l0 -3l0 -3l0 -3l0 -3l0 -3l0 -3l0 -3l0 -3l0 -3l0 -3l0 -3l0 -3l0 -3l0 -3l0 -3l0 -3l0 -3l0 -3l0 -3l0 -3l0 -3l0 -3l0 -3l0 -3l0 -3l0 -3l0 -3l0 -3l0 -3l0 -3l0 -3l0 -3l3 0zM826 132l-1 0l-3 3l-1 3l-1 3l1 3l1 2l1 1l2 1l3 1l3 0l3 -2l2 -3l1 -3l0 -3l-2 -3l-1 -1l-3 -2l-3 0l-2 0z" fill="#d2e6f0" fill-rule="evenodd"/>
<path d="M447 60l3 0l3 0l3 0l3 0l3 0l3 0l3 0l3 0l3 0l3 0l3 0l3 0l3 0l3 0l3 0l3 0l3 0l3 0l3 0l3 0l3 0l3 0l3 0l3 0l3 0l3 0l3 0l3 0l3 0l3 0l3 0l3 0l3 0l3 0l3 0l3 0l3 0l3 0l3 0l3 0l3 0l3 0l3 0l3 0l3 0l3 0l3 0l3 0l3 0l3 0l3 0l3 0l3 0l3 0l3 0l3 0l3 0l3 0l3 0l3 0l3 0l3 0l3 0l3 0l3 0l3 0l3 0l3 0l3 0l3 0l3 0l3 0l3 0l3 0l3 0l3 0l3 0l3 0l1 0l1 3l1 3l0 1l2 2l1 1l3 1l3 0l2 -2l1 -1l2 -2l1 -3l0 -1l0 -2l3 0l3 0l3 0l3 0l3 0l3 0l3 0l3 0l3 0l3 0l3 0l3 0l3 0l3 0l3 0l3 0l3 0l3 0l3 0l3 0l3 0l3 0l3 0l3 0l3 0l3 0l3 0l3 0l3 0l3 0l3 0l3 0l3 0l3 0l3 0l3 0l3 0l3 0l3 0l3 0l3 0l3 0l3 0l3 0l3 0l3 0l3 0l3 0l3 0l3 0l3 0l1 0l1 3l1 3l0 1l1 2l1 3l1 3l0 1l1 2l1 3l1 2l0 1l2 3l1 1l1 2l2 1l3 2l3 2l3 0l3 0l3 1l3 -1l3 0l3 0l3 -1l3 -1l1 0l2 -1l3 0l3 -2l1 0l2 -1l3 -1l3 -1l3 -2l3 -1l3 -1l3 -2l3 -1l3 -2l3 -2l3 -1l3 -2l3 -1l3 -2l2 -1l1 0l3 -2l3 -1l3 -2l3 -1l3 -1l3 -2l1 0l2 0l3 0l3 0l3 0l3 0l3 0l3 0l3 0l3 0l3 0l3 0l3 0l3 0l3 0l3 0l3 0l3 0l3 0l3 0l3 0l3 0l3 0l3 0l3 0l3 0l3 0l3 0l3 0l3 0l3 0l3 0l3 0l3 0l3 0l3 0l3 0l3 0l3 0l3 0l3 0l3 0l2 0l1 0l3 2l2 1l1 0l3 2l2 1l1 1l3 2l3 2l2 1l1 1l3 2l3 2l1 1l2 1l2 2l1 1l3 2l3 3l0 3l0 3l0 3l0 3l0 3l0 3l0 3l0 3l0 3l0 3l0 3l0 3l0 3l0 3l0 3l0 3l0 3l0 3l0 3l0 3l0 3l0 3l0 3l0 3l0 3l0 3l0 3l0 3l0 3l0 3l0 3l0 3l0 3l0 3l0 3l0 3l0 3l0 3l0 3l0 3l0 3l0 3l0 3l0 3l0 3l0 3l0 3l0 3l0 3l0 3l0 3l0 3l0 3l0 3l0 3l0 3l0 3l0 3l0 3l0 3l0 3l0 3l0 3l0 3l0 3l0 3l0 3l0 3l0 3l0 3l0 3l0 3l0 3l0 3l0 3l0 3l0 3l0 3l0 3l0 3l0 3l0 3l0 3l0 3l0 3l0 3l0 3l0 3l0 3l0 3l0 3l0 3l0 3l0 3l0 3l0 3l0 3l0 3l0 3l0 3l0 3l0 3l0 3l0 3l0 3l0 3l0 3l0 3l0 3l0 3l0 3l0 3l0 3l0 3l0 3l0 3l0 3l0 3l0 3l0 3l0 3l0 3l0 3l0 3l0 3l0 3l0 3l0 3l0 3l0 3l0 3l0 3l0 3l0 3l0 3l0 3l0 3l0 3l0 3l0 3l0 3l0 3l0 3l0 3l0 3l0 3l0 3l0 3l0 3l0 3l0 3l0 3l0 3l0 3l0 3l0 3l0 3l0 3l-3 0l-3 0l-3 0l-3 0l-3 0l-3 0l-3 0l-3 0l-3 0l-3 0l-3 0l-3 0l-3 0l-3 0l-3 0l-3 0l-3 0l-3 0l-3 0l-3 0l-3 0l-3 0l-3 0l-3 0l-3 0l-3 0l-3 0l-3 0l-3 0l-3 0l-3 0l-3 0l-3 0l-3 0l-3 0l-3 0l-3 0l-3 0l-3 0l-3 0l-3 0l-3 0l-3 0l-3 0l-3 0l-3 0l-3 0l-3 0l-3 0l-3 0l-3 0l-3 0l-3 0l-3 0l-3 0l-3 0l-3 0l-3 0l-3 0l-3 0l-3 0l-3 0l-3 0l-3 0l-3 0l-3 0l-3 0l-3 0l-3 0l-3 0l-3 0l-3 0l-3 0l-3 0l-3 0l-3 0l-3 0l-3 0l-3 0l-3 0l-3 0l-3 0l-3 0l-3 0l-3 0l-3 0l-3 0l-3 0l-3 0l-3 0l-3 0l-3 0l-3 0l-3 0l-3 0l-3 0l-3 0l3 -2l1 -1l1 -3l1 -1l0 -2l1 -3l0 -3l0 -3l-1 -1l-1 1l-2 2l-1 1l-1 3l-1 2l0 1l-1 3l0 3l1 3l-3 0l-3 0l-3 0l-3 0l-3 0l-3 0l-3 0l-3 0l-3 0l-3 0l-3 0l-3 0l-3 0l-3 0l-3 0l-3 0l-3 0l-3 0l-3 0l-3 0l-3 0l-3 0l-3 0l-3 0l-3 0l-3 0l-3 0l-3 0l-3 0l-3 0l-3 0l-3 0l-3 0l-3 0l-3 0l-3 0l-3 0l-3 0l-3 0l-3 0l-3 0l-3 0l-3 0l-3 0l-3 0l-3 0l-3 0l-3 0l-3 0l-3 0l-3 0l-3 0l-3 0l-3 0l-3 0l-3 0l-3 0l-3 0l-3 0l-3 0l-3 0l-3 0l-3 0l-3 0l-3 0l-3 0l-3 0l-3 0l-3 0l-3 0l-3 0l-3 0l-3 0l-3 0l-3 0l-3 0l-3 0l-3 0l-3 0l-3 0l-3 0l-3 0l-3 0l-3 0l-3 0l-3 0l-3 0l-3 0l-3 0l-3 0l-3 0l-3 0l-3 0l-3 0l-3 0l-3 0l-3 0l-3 0l-3 0l-3 0l-3 0l-3 0l-3 0l-3 0l-3 0l-3 0l-3 0l-3 0l-3 0l-3 0l-3 0l-3 0l-3 0l-3 0l-3 0l-3 0l-3 0l-3 0l-3 0l-3 0l-3 0l-3 0l-3 0l-3 0l-3 0l-3 0l-3 0l-3 0l-3 0l-3 0l-3 0l-3 0l-3 0l0 -3l0 -3l0 -3l0 -3l0 -3l0 -3l0 -3l0 -3l0 -3l0 -3l0 -3l0 -3l0 -3l0 -3l0 -3l0 -3l0 -3l0 -3l0 -3l0 -3l0 -3l0 -3l0 -3l0 -3l0 -3l0 -3l0 -3l0 -3l0 -3l0 -3l0 -3l0 -3l0 -3l0 -3l0 -3l0 -3l0 -3l0 -3l0 -3l0 -3l0 -3l0 -3l0 -3l0 -3l0 -3l0 -3l0 -3l0 -3l0 -3l0 -3l0 -3l0 -3l0 -3l0 -3l0 -3l0 -3l0 -3l0 -3l0 -3l0 -3l0 -3l0 -3l0 -3l0 -3l0 -3l0 -3l0 -3l0 -3l0 -3l0 -3l0 -3l0 -3l0 -3l0 -3l0 -3l0 -3l0 -3l0 -3l0 -3l0 -3l0 -3l0 -3l0 -3l0 -3l0 -3l0 -3l0 -3l0 -3l0 -3l0 -3l0 -3l0 -3l0 -3l0 -3l0 -3l0 -3l0 -3l0 -3l0 -3l0 -3l0 -3l0 -3l0 -3l0 -3l0 -3l0 -3l0 -3l0 -3l0 -3l0 -3l0 -3l0 -3l0 -3l0 -3l0 -3l0 -3l0 -3l0 -3l0 -3l0 -3l0 -3l0 -3l0 -3l0 -3l0 -3l0 -3l0 -3l0 -3l0 -3l0 -3l0 -3l0 -3l0 -3l0 -3l0 -3l0 -3l0 -3l0 -3l0 -3l0 -3l0 -3l0 -3l0 -3l0 -3l0 -3l0 -3l0 -3l0 -3l0 -3l0 -3l0 -3l0 -3l0 -3l0 -3l0 -3l0 -3l0 -3l0 -3l0 -3l0 -3l0 -3l0 -3l0 -3l0 -3l0 -3l0 -3l0 -3l3 0zM822 132l-3 3l0 1l-1 2l0 3l1 3l1 3l2 2l1 1l2 1l3 1l3 0l3 -2l1 0l2 -2l1 -1l1 -3l0 -3l0 -3l-1 -3l-1 -1l-2 -2l-1 -1l-3 -1l-3 -1l-3 1l-3 2z" fill="#c5dfec" fill-rule="evenodd"/>
<path d="M447 60l3 0l3 0l3 0l3 0l3 0l3 0l3 0l3 0l3 0l3 0l3 0l3 0l3 0l3 0l3 0l3 0l3 0l3 0l3 0l3 0l3 0l3 0l3 0l3 0l3 0l3 0l3 0l3 0l3 0l3 0l3 0l3 0l3 0l3 0l3 0l3 0l3 0l3 0l3 0l3 0l3 0l3 0l3 0l3 0l3 0l3 0l3 0l3 0l3 0l3 0l3 0l3 0l3 0l3 0l3 0l3 0l3 0l3 0l3 0l3 0l3 0l3 0l3 0l3 0l3 0l3 0l3 0l3 0l3 0l3 0l3 0l3 0l3 0l3 0l3 0l3 0l3 0l1 0l1 3l1 2l0 1l2 3l1 1l3 2l3 1l3 0l2 -1l1 -1l2 -2l1 -1l1 -2l2 -3l0 -1l1 -2l2 0l3 0l3 0l3 0l3 0l3 0l3 0l3 0l3 0l3 0l3 0l3 0l3 0l3 0l3 0l3 0l3 0l3 0l3 0l3 0l3 0l3 0l3 0l3 0l3 0l3 0l3 0l3 0l3 0l3 0l3 0l3 0l3 0l3 0l3 0l3 0l3 0l3 0l3 0l3 0l3 0l3 0l3 0l3 0l3 0l3 0l3 0l2 0l1 1l1 2l1 3l1 1l1 2l2 3l0 1l1 2l2 3l2 3l1 2l1 1l2 3l2 3l1 0l3 3l3 2l1 1l2 1l3 1l3 1l1 0l2 0l3 1l3 0l3 0l3 0l3 0l3 0l3 -1l1 0l2 0l3 -1l3 -1l3 0l3 -1l3 -1l3 -1l3 -1l1 0l2 -1l3 -1l3 -1l1 0l2 -1l3 -1l3 -1l1 0l2 -1l3 -1l3 -1l3 -1l3 -1l3 -1l3 -1l3 -1l3 -1l1 0l2 -1l3 0l3 -1l3 -1l2 0l1 0l3 -1l3 0l3 -1l3 0l3 0l3 -1l3 0l3 0l3 0l3 0l1 0l2 0l3 0l3 0l3 1l3 0l3 1l3 0l3 1l1 0l2 0l3 1l3 1l3 1l3 1l3 1l2 1l1 1l3 1l2 1l1 0l3 2l2 1l1 1l3 2l1 0l2 2l2 1l1 1l3 2l3 2l1 1l2 2l1 1l2 2l1 1l2 2l1 1l2 2l1 1l2 3l2 3l1 1l1 2l2 2l0 1l2 3l1 1l1 2l2 3l0 1l1 2l2 3l0 1l1 2l1 3l1 3l1 3l1 3l1 3l1 3l1 3l0 3l1 3l1 3l0 3l1 3l1 3l0 2l0 1l1 3l1 3l1 3l0 1l0 2l0 3l0 3l0 3l0 3l0 3l0 3l0 3l0 3l0 3l0 3l0 3l0 3l0 3l0 3l0 3l0 3l0 3l0 3l0 3l0 3l0 3l0 3l0 3l0 3l0 3l0 3l0 3l0 3l0 3l0 3l0 3l0 3l0 3l0 3l0 3l0 3l0 3l0 3l0 3l0 3l0 3l0 3l0 3l0 3l0 3l0 3l0 3l0 3l0 3l0 3l0 3l0 3l0 3l0 3l0 3l0 3l0 3l0 3l0 3l0 3l0 3l0 3l0 3l0 3l0 3l0 3l0 3l0 3l0 3l0 3l0 3l0 3l0 3l0 3l0 3l0 3l0 3l0 3l0 3l0 3l0 3l0 3l0 3l0 3l0 3l0 3l0 3l0 3l0 3l0 3l0 3l0 3l0 3l0 3l0 3l0 3l0 3l0 3l0 3l0 3l0 3l0 3l-2 3l-1 1l-2 2l-1 2l-1 1l-2 3l-3 3l-3 3l-2 3l-1 1l-2 2l-1 1l-2 2l-1 1l-2 2l-1 1l-3 2l-3 3l-3 3l-3 2l-1 1l-2 2l-2 1l-1 1l-2 2l-1 0l-3 3l-1 0l-2 2l-2 1l-1 1l-3 2l-3 2l-2 1l-1 0l-3 0l-3 0l-3 0l-3 0l-3 0l-3 0l-3 0l-3 0l-3 0l-3 0l-3 0l-3 0l-3 0l-3 0l-3 0l-3 0l-3 0l-3 0l-3 0l-3 0l-3 0l-3 0l-3 0l-3 0l-3 0l-3 0l-3 0l-3 0l-3 0l-3 0l-3 0l-3 0l-3 0l-3 0l-3 0l-3 0l-3 0l-3 0l-3 0l-3 0l-3 0l-3 0l-3 0l-3 0l-3 0l-3 0l-3 0l-3 0l-3 0l-3 0l-3 0l-3 0l-3 0l-3 0l-3 0l-3 0l-3 0l-3 0l-3 0l-3 0l-3 0l-3 0l-3 0l-3 0l-3 0l-3 0l-3 0l-3 0l-3 0l-1 0l0 -3l-1 -3l-1 -3l-1 -3l-1 -3l-1 -1l-1 -2l-2 -2l-2 -1l-1 0l-3 0l-3 1l-3 1l-1 1l-2 1l-3 2l-3 2l-1 1l-2 1l-2 2l-1 1l-3 2l-3 3l-3 3l-3 0l-3 0l-3 0l-3 0l-3 0l-3 0l-3 0l-3 0l-3 0l-3 0l-3 0l-3 0l-3 0l-3 0l-3 0l-3 0l-3 0l-3 0l-3 0l-3 0l-3 0l-3 0l-3 0l-3 0l-3 0l-3 0l-3 0l-3 0l-3 0l-3 0l-3 0l-3 0l-3 0l-3 0l-3 0l-3 0l-3 0l-3 0l-3 0l-3 0l-3 0l-3 0l-3 0l-3 0l-3 0l-3 0l-3 0l-3 0l-3 0l-3 0l-3 0l-3 0l-3 0l-3 0l-3 0l-3 0l-3 0l-3 0l-3 0l-3 0l-3 0l-3 0l-3 0l-3 0l-3 0l-3 0l-3 0l-3 0l-3 0l-3 0l-3 0l-3 0l-3 0l-3 0l-3 0l-3 0l-3 0l-3 0l-3 0l-3 0l-3 0l-3 0l-3 0l-3 0l-3 0l-3 0l-3 0l-3 0l-3 0l-3 0l-3 0l-3 0l-3 0l-3 0l-3 0l-3 0l-3 0l-3 0l-3 0l-3 0l-3 0l-3 0l-3 0l-3 0l-3 0l-3 0l-3 0l-3 0l-3 0l-3 0l-3 0l-3 0l-3 0l-3 0l-3 0l-3 0l-3 0l-3 0l-3 0l-3 0l-3 0l-3 0l-3 0l-3 0l0 -3l0 -3l0 -3l0 -3l0 -3l0 -3l0 -3l0 -3l0 -3l0 -3l0 -3l0 -3l0 -3l0 -3l0 -3l0 -3l0 -3l0 -3l0 -3l0 -3l0 -3l0 -3l0 -3l0 -3l0 -3l0 -3l0 -3l0 -3l0 -3l0 -3l0 -3l0 -3l0 -3l0 -3l0 -3l0 -3l0 -3l0 -3l0 -3l0 -3l0 -3l0 -3l0 -3l0 -3l0 -3l0 -3l0 -3l0 -3l0 -3l0 -3l0 -3l0 -3l0 -3l0 -3l0 -3l0 -3l0 -3l0 -3l0 -3l0 -3l0 -3l0 -3l0 -3l0 -3l0 -3l0 -3l0 -3l0 -3l0 -3l0 -3l0 -3l0 -3l0 -3l0 -3l0 -3l0 -3l0 -3l0 -3l0 -3l0 -3l0 -3l0 -3l0 -3l0 -3l0 -3l0 -3l0 -3l0 -3l0 -3l0 -3l0 -3l0 -3l0 -3l0 -3l0 -3l0 -3l0 -3l0 -3l0 -3l0 -3l0 -3l0 -3l0 -3l0 -3l0 -3l0 -3l0 -3l0 -3l0 -3l0 -3l0 -3l0 -3l0 -3l0 -3l0 -3l0 -3l0 -3l0 -3l0 -3l0 -3l0 -3l0 -3l0 -3l0 -3l0 -3l0 -3l0 -3l0 -3l0 -3l0 -3l0 -3l0 -3l0 -3l0 -3l0 -3l0 -3l0 -3l0 -3l0 -3l0 -3l0 -3l0 -3l0 -3l0 -3l0 -3l0 -3l0 -3l0 -3l0 -3l0 -3l0 -3l0 -3l0 -3l0 -3l0 -3l0 -3l0 -3l0 -3l0 -3l0 -3l0 -3l0 -3l0 -3l0 -3l0 -3l0 -3l0 -3l3 0zM510 96l0 1l3 1l1 -2l-1 -1l-3 1zM821 129l-2 3l-2 3l-1 3l0 3l1 3l1 3l1 2l1 1l2 2l1 1l2 1l3 1l3 0l3 -1l1 -1l2 -1l2 -2l1 -2l1 -1l1 -3l0 -3l0 -3l-1 -3l-1 -1l-1 -2l-2 -1l-2 -2l-1 -1l-3 -1l-3 -1l-3 1l-3 1l-1 1zM722 162l1 2l2 -2l-2 -1l-1 1zM1096 270l-1 1l-1 2l1 3l3 1l1 -1l2 -3l0 -1l-1 -2l-2 -1l-2 1zM958 351l-1 0l-2 3l-1 3l1 3l0 3l2 3l3 2l3 0l3 0l3 -1l1 -1l2 -2l1 -1l1 -3l-1 -3l-1 -3l-3 -3l-3 -1l-3 -1l-3 1l-2 1z" fill="#b8d8e9" fill-rule="evenodd"/>
<path d="M447 60l3 0l3 0l3 0l3 0l3 0l3 0l3 0l3 0l3 0l3 0l3 0l3 0l3 0l3 0l3 0l3 0l3 0l3 0l3 0l3 0l3 0l3 0l3 0l3 0l3 0l3 0l3 0l3 0l3 0l3 0l3 0l3 0l3 0l3 0l3 0l3 0l3 0l3 0l3 0l3 0l3 0l3 0l3 0l3 0l3 0l3 0l3 0l3 0l3 0l3 0l3 0l3 0l3 0l3 0l3 0l3 0l3 0l3 0l3 0l3 0l3 0l3 0l3 0l3 0l3 0l3 0l3 0l3 0l3 0l3 0l3 0l3 0l3 0l3 0l3 0l3 0l1 0l1 3l1 1l1 2l2 3l3 3l3 2l2 1l1 0l3 0l3 -1l2 -2l1 -1l2 -2l1 -2l1 -1l2 -3l2 -3l1 0l3 0l3 0l3 0l3 0l3 0l3 0l3 0l3 0l3 0l3 0l3 0l3 0l3 0l3 0l3 0l3 0l3 0l3 0l3 0l3 0l3 0l3 0l3 0l3 0l3 0l3 0l3 0l3 0l3 0l3 0l3 0l3 0l3 0l3 0l3 0l3 0l3 0l3 0l3 0l3 0l3 0l3 0l3 0l2 3l1 1l1 2l2 2l1 1l2 3l2 3l1 1l1 2l2 2l1 1l2 2l1 1l2 2l0 1l3 2l0 1l3 2l1 1l2 2l1 1l2 2l2 1l1 1l3 1l2 1l1 0l3 1l3 1l3 1l1 0l2 0l3 1l3 0l3 0l3 0l3 0l3 0l3 0l3 0l3 -1l2 0l1 0l3 -1l3 0l3 -1l3 0l3 -1l1 0l2 0l3 -1l3 -1l3 -1l2 0l1 0l3 -1l3 -1l3 0l2 -1l1 0l3 -1l3 0l3 -1l3 -1l3 0l3 0l3 -1l3 0l3 0l3 -1l3 0l3 0l3 0l3 0l3 0l3 1l3 0l3 0l3 1l1 0l2 0l3 1l3 1l3 1l1 0l2 1l3 1l3 1l1 0l2 1l3 1l1 1l2 1l3 2l1 0l2 2l2 1l1 1l3 2l3 2l1 1l2 2l1 1l2 2l1 1l2 2l1 1l2 3l3 3l0 1l2 2l1 2l0 1l2 3l1 2l1 1l1 3l1 3l1 3l1 3l1 3l1 3l0 3l1 3l0 3l0 3l0 3l0 3l0 3l0 3l-1 3l-1 3l0 2l0 1l-1 3l-1 3l-1 2l0 1l-2 3l-1 3l-2 3l-1 2l0 1l-2 3l-1 1l-1 2l-2 3l-2 3l-1 1l-1 2l-2 2l0 1l-2 3l-1 3l2 3l1 1l3 0l3 0l3 0l3 1l3 0l2 1l1 0l3 2l2 1l1 1l2 2l1 1l1 2l1 3l0 3l-2 2l-1 1l-2 3l-2 3l-1 2l0 1l-1 3l0 3l1 3l3 1l3 0l1 -1l2 -1l2 -2l1 -3l1 -3l0 -3l1 -3l0 -3l0 -3l1 -2l1 -1l2 -2l1 -1l2 -1l3 -1l1 -1l2 -1l3 -1l3 0l3 0l3 -1l3 1l0 2l0 3l0 3l0 3l0 3l0 3l0 3l0 3l0 3l0 3l0 3l0 3l0 3l0 3l0 3l0 3l0 3l0 3l0 3l0 3l0 3l0 3l0 3l0 3l0 3l0 3l0 3l0 3l0 3l0 2l-1 1l-2 3l-1 3l0 3l0 3l0 3l-1 3l0 3l0 3l0 3l0 3l0 3l-1 3l0 3l0 1l0 2l-1 3l0 3l-1 3l0 3l-1 3l0 1l0 2l-1 3l-1 3l0 3l-1 2l0 1l-1 3l-1 3l-1 3l0 1l-1 2l-1 3l-1 3l0 1l-1 2l-1 3l-1 3l-1 3l-2 3l0 1l-1 2l-1 3l-1 1l-1 2l-1 3l-1 1l-1 2l-2 3l0 1l-1 2l-2 3l-2 3l-1 1l-1 2l-2 3l-2 3l-1 1l-2 2l-1 2l-1 1l-2 2l-1 1l-2 3l-3 3l-3 3l-3 3l-3 3l-1 0l-2 2l-1 1l-2 2l-2 1l-1 1l-3 2l-3 2l-1 1l-2 2l-2 1l-1 1l-3 1l-1 1l-2 1l-3 2l-3 2l-2 1l-1 0l-3 2l-2 1l-1 0l-3 2l-2 1l-1 0l-3 2l-2 1l-1 0l-3 2l-2 1l-1 0l-3 2l-2 1l-1 0l-3 2l-2 1l-1 1l-3 2l-3 2l-2 1l-1 1l-3 2l-3 3l-3 2l-1 1l-2 2l-1 1l-2 0l-3 0l-3 0l-3 0l-3 0l-3 0l-3 0l-3 0l-3 0l-3 0l-3 0l-3 0l-3 0l-3 0l-3 0l-3 0l-3 0l-3 0l-3 0l-3 0l-3 0l-3 0l-3 0l-3 0l-3 0l-3 0l-3 0l-3 0l-3 0l-3 0l-3 0l-3 0l-3 0l-3 0l-3 0l-1 0l-1 -3l-1 -1l-1 -2l-2 -3l0 -1l-2 -2l-1 -2l-1 -1l-2 -2l0 -1l-3 -2l-1 -1l-2 -1l-3 -1l-3 -1l-3 0l-3 1l-3 1l-3 0l-3 1l-3 1l-3 1l-2 1l-1 0l-3 2l-3 1l-3 2l-3 1l-3 2l-3 1l-3 2l-2 1l-1 1l-3 2l-1 0l-2 1l-2 2l-1 0l-3 0l-3 0l-3 0l-3 0l-3 0l-3 0l-3 0l-3 0l-3 0l-3 0l-3 0l-3 0l-3 0l-3 0l-3 0l-3 0l-3 0l-3 0l-3 0l-3 0l-3 0l-3 0l-3 0l-3 0l-3 0l-3 0l-3 0l-3 0l-3 0l-3 0l-3 0l-3 0l-3 0l-3 0l-3 0l-3 0l-3 0l-3 0l-3 0l-3 0l-3 0l-3 0l-3 0l-3 0l-3 0l-3 0l-3 0l-3 0l-3 0l-3 0l-3 0l-3 0l-3 0l-3 0l-3 0l-3 0l-3 0l-3 0l-3 0l-3 0l-3 0l-3 0l-3 0l-3 0l-3 0l-3 0l-3 0l-3 0l-3 0l-3 0l-3 0l-3 0l-3 0l-3 0l-3 0l-3 0l-3 0l-3 0l-3 0l-3 0l-3 0l-3 0l-3 0l-3 0l-3 0l-3 0l-3 0l-3 0l-3 0l-3 0l-3 0l-3 0l-3 0l-3 0l-3 0l-3 0l-3 0l-3 0l-3 0l-3 0l-3 0l-3 0l-3 0l-3 0l-3 0l-3 0l-3 0l-3 0l-3 0l-3 0l-3 0l-3 0l-3 0l-3 0l-3 0l0 -3l0 -3l0 -3l0 -3l0 -3l0 -3l0 -3l0 -3l0 -3l0 -3l0 -3l0 -3l0 -3l0 -3l0 -3l0 -3l0 -3l0 -3l0 -3l0 -3l0 -3l0 -3l0 -3l0 -3l0 -3l0 -3l0 -3l0 -3l0 -3l0 -3l0 -3l0 -3l0 -3l0 -3l0 -3l0 -3l0 -3l0 -3l0 -3l0 -3l0 -3l0 -3l0 -3l0 -3l0 -3l0 -3l0 -3l0 -3l0 -3l0 -3l0 -3l0 -3l0 -3l0 -3l0 -3l0 -3l0 -3l0 -3l0 -3l0 -3l0 -3l0 -3l0 -3l0 -3l0 -3l0 -3l0 -3l0 -3l0 -3l0 -3l0 -3l0 -3l0 -3l0 -3l0 -3l0 -3l0 -3l0 -3l0 -3l0 -3l0 -3l0 -3l0 -3l0 -3l0 -3l0 -3l0 -3l0 -3l0 -3l0 -3l0 -3l0 -3l0 -3l0 -3l0 -3l0 -3l0 -3l0 -3l0 -3l0 -3l0 -3l0 -3l0 -3l0 -3l0 -3l0 -3l0 -3l0 -3l0 -3l0 -3l0 -3l0 -3l0 -3l0 -3l0 -3l0 -3l0 -3l0 -3l0 -3l0 -3l0 -3l0 -3l0 -3l0 -3l0 -3l0 -3l0 -3l0 -3l0 -3l0 -3l0 -3l0 -3l0 -3l0 -3l0 -3l0 -3l0 -3l0 -3l0 -3l0 -3l0 -3l0 -3l0 -3l0 -3l0 -3l0 -3l0 -3l0 -3l0 -3l0 -3l0 -3l0 -3l0 -3l0 -3l0 -3l0 -3l0 -3l0 -3l0 -3l0 -3l0 -3l0 -3l0 -3l0 -3l0 -3l0 -3l0 -3l3 0zM508 96l1 3l1 1l3 -1l2 -3l-2 -2l-3 0l-2 2zM821 126l-2 2l-1 1l-2 3l-1 3l-1 3l0 3l1 3l1 3l0 1l1 2l2 3l3 3l1 0l2 1l3 1l3 0l3 -1l2 -1l1 -1l3 -2l2 -3l1 -2l1 -1l0 -3l1 -3l-1 -3l-1 -3l0 -1l-1 -2l-2 -2l-1 -1l-2 -1l-2 -2l-1 0l-3 -2l-3 -1l-3 1l-3 1l-1 1zM722 159l-2 2l0 1l0 1l1 2l2 1l3 -1l1 -3l-1 -2l-2 -1l-1 0l-1 0zM954 339l-3 2l-2 1l-1 1l-1 2l-2 3l-1 3l1 3l0 1l1 2l2 3l2 3l1 1l1 2l2 2l1 1l2 1l3 1l3 1l3 0l3 0l3 0l3 0l1 0l2 -1l3 -2l0 -1l2 -2l1 -2l1 -1l1 -3l0 -3l-1 -3l-1 -3l0 -1l-1 -2l-2 -2l0 -1l-3 -2l-1 -1l-2 -1l-3 -2l-3 -1l-3 -1l-3 0l-3 0l-3 1l-3 1z" fill="#a9d1e5" fill-rule="evenodd"/>
<path d="M447 60l3 0l3 0l3 0l3 0l3 0l3 0l3 0l3 0l3 0l3 0l3 0l3 0l3 0l3 0l3 0l3 0l3 0l3 0l3 0l3 0l3 0l3 0l3 0l3 0l3 0l3 0l3 0l3 0l3 0l3 0l3 0l3 0l3 0l3 0l3 0l3 0l3 0l3 0l3 0l3 0l3 0l3 0l3 0l3 0l3 0l3 0l3 0l3 0l3 0l3 0l3 0l3 0l3 0l3 0l3 0l3 0l3 0l3 0l3 0l3 0l3 0l3 0l3 0l3 0l3 0l3 0l3 0l3 0l3 0l3 0l3 0l3 0l3 0l3 0l3 0l1 0l2 3l0 1l1 2l2 3l3 3l3 3l3 2l3 1l3 0l3 -2l2 -1l1 -1l2 -2l1 -1l2 -2l1 -2l1 -1l2 -2l1 -1l2 -3l3 0l3 0l3 0l3 0l3 0l3 0l3 0l3 0l3 0l3 0l3 0l3 0l3 0l3 0l3 0l3 0l3 0l3 0l3 0l3 0l3 0l3 0l3 0l3 0l3 0l3 0l3 0l3 0l3 0l3 0l3 0l3 0l3 0l3 0l3 0l3 0l3 0l3 0l2 0l1 1l2 2l1 1l2 2l1 1l2 2l1 1l1 2l2 1l2 2l1 1l2 2l1 1l2 2l1 1l3 2l3 3l3 2l1 1l2 1l2 2l1 1l2 2l1 1l2 2l1 1l2 2l1 1l3 2l1 0l2 1l3 2l3 1l3 1l3 1l1 0l2 1l3 0l3 1l3 0l3 0l3 1l3 0l2 0l1 0l3 0l3 0l3 0l3 0l3 0l3 0l3 -1l3 0l3 -1l3 0l3 0l3 -1l3 0l3 -1l3 0l3 -1l3 0l3 -1l2 0l1 0l3 0l3 -1l3 0l3 0l3 0l3 0l3 0l3 0l3 0l3 0l3 1l1 0l2 0l3 1l3 1l3 0l3 1l3 1l3 1l2 1l1 0l3 2l2 1l1 0l3 2l2 1l1 1l3 2l3 2l1 1l2 2l2 1l1 1l2 2l1 2l1 1l2 2l1 1l2 3l2 3l1 2l1 1l1 3l1 2l1 1l1 3l1 3l1 3l1 3l0 3l1 3l0 1l0 2l1 3l0 3l0 3l0 3l0 3l-1 3l0 2l0 1l-1 3l0 3l-1 3l0 3l-1 2l0 1l-1 3l-1 3l-1 3l0 1l0 2l-1 3l-1 3l-1 3l0 3l0 3l1 3l2 2l1 1l2 1l3 2l1 0l2 1l3 1l2 1l1 0l3 2l1 1l2 3l1 3l1 3l-1 3l0 3l-1 2l0 1l-1 3l0 3l0 3l0 3l1 2l3 1l3 0l3 -1l2 -2l1 0l2 -3l1 -1l1 -2l2 -3l3 -3l3 -3l3 -2l3 -1l3 -1l3 0l3 1l2 0l1 0l3 2l0 1l0 3l0 3l0 3l0 3l0 3l0 3l0 3l0 3l0 3l0 3l0 3l0 3l0 3l0 1l-3 2l-3 1l-3 1l-3 1l-3 1l-3 0l-3 1l-1 1l-2 1l-2 2l-1 2l-1 1l-1 3l0 3l-1 3l0 3l0 3l-1 3l0 3l-1 3l0 3l-1 3l-1 3l0 3l-1 3l-1 3l-1 3l-1 3l-1 3l-1 3l-1 3l-1 2l0 1l-2 3l-1 3l0 1l-1 2l-1 3l-1 3l-1 3l-1 3l-1 2l0 1l-1 3l-2 3l0 1l-1 2l-1 3l-1 3l-1 3l-1 3l-1 2l0 1l-2 3l-1 3l-1 3l-2 3l-1 3l-2 3l-2 3l-1 2l0 1l-2 3l-1 1l-1 2l-2 2l-1 1l-2 3l-2 3l-1 1l-2 2l-1 1l-2 2l-1 1l-2 2l-1 1l-2 2l-1 1l-3 2l-3 2l-1 1l-2 1l-3 2l-3 2l-2 1l-1 1l-3 1l-1 1l-2 1l-3 1l-2 1l-1 0l-3 1l-3 1l-2 1l-1 0l-3 1l-3 1l-3 1l-1 0l-2 0l-3 1l-3 1l-3 0l-3 1l-1 0l-2 0l-3 1l-3 1l-3 1l-3 2l-1 1l-2 2l0 1l-2 3l-1 3l-1 3l-1 3l-1 3l-1 3l-1 3l-1 2l-1 1l-1 3l-1 2l0 1l-2 3l-1 1l-1 2l-2 2l0 1l-3 3l-3 3l-3 0l-3 0l-3 0l-3 0l-3 0l-3 0l-3 0l-3 0l-3 0l-3 0l-3 0l-3 0l-3 0l-3 0l-3 0l-3 0l-3 0l-3 0l-3 -3l-2 -3l-1 -1l-2 -2l-1 -2l-1 -1l-2 -2l-1 -1l-2 -2l-2 -1l-1 -1l-3 -2l-3 -2l-2 -1l-1 -1l-3 -1l-3 0l-3 -1l-3 0l-3 0l-3 0l-3 1l-3 0l-3 0l-3 1l-3 0l-3 1l-2 0l-1 0l-3 1l-3 0l-3 1l-3 1l-3 1l-3 1l-3 1l-1 0l-2 1l-3 1l-3 1l-3 1l-3 1l-2 1l-1 0l-3 2l-3 1l-3 1l-3 2l-1 0l-2 1l-3 2l-1 0l-2 1l-3 2l-1 0l-2 0l-3 0l-3 0l-3 0l-3 0l-3 0l-3 0l-3 0l-3 0l-3 0l-3 0l-3 0l-3 0l-3 0l-3 0l-3 0l-3 0l-3 0l-3 0l-3 0l-3 0l-3 0l-3 0l-3 0l-3 0l-3 0l-3 0l-3 0l-3 0l-3 0l-3 0l-3 0l-3 0l-3 0l-3 0l-3 0l-3 0l-3 0l-3 0l-3 0l-3 0l-3 0l-3 0l-3 0l-3 0l-3 0l-3 0l-3 0l-3 0l-3 0l-3 0l-3 0l-3 0l-3 0l-3 0l-3 0l-3 0l-3 0l-3 0l-3 0l-3 0l-3 0l-3 0l-3 0l-3 0l-3 0l-3 0l-3 0l-3 0l-3 0l-3 0l-3 0l-3 0l-3 0l-3 0l-3 0l-3 0l-3 0l-3 0l-3 0l-3 0l-3 0l-3 0l-3 0l-3 0l-3 0l-3 0l-3 0l-3 0l-3 0l-3 0l-3 0l-3 0l-3 0l-3 0l-3 0l-3 0l-3 0l-3 0l-3 0l-3 0l-3 0l0 -3l0 -3l0 -3l0 -3l0 -3l0 -3l0 -3l0 -3l0 -3l0 -3l0 -3l0 -3l0 -3l0 -3l0 -3l0 -3l0 -3l0 -3l0 -3l0 -3l0 -3l0 -3l0 -3l0 -3l0 -3l0 -3l0 -3l0 -3l0 -3l0 -3l0 -3l0 -3l0 -3l0 -3l0 -3l0 -3l0 -3l0 -3l0 -3l0 -3l0 -3l0 -3l0 -3l0 -3l0 -3l0 -3l0 -3l0 -3l0 -3l0 -3l0 -3l0 -3l0 -3l0 -3l0 -3l0 -3l0 -3l0 -3l0 -3l0 -3l0 -3l0 -3l0 -3l0 -3l0 -3l0 -3l0 -3l0 -3l0 -3l0 -3l0 -3l0 -3l0 -3l0 -3l0 -3l0 -3l0 -3l0 -3l0 -3l0 -3l0 -3l0 -3l0 -3l0 -3l0 -3l0 -3l0 -3l0 -3l0 -3l0 -3l0 -3l0 -3l0 -3l0 -3l0 -3l0 -3l0 -3l0 -3l0 -3l0 -3l0 -3l0 -3l0 -3l0 -3l0 -3l0 -3l0 -3l0 -3l0 -3l0 -3l0 -3l0 -3l0 -3l0 -3l0 -3l0 -3l0 -3l0 -3l0 -3l0 -3l0 -3l0 -3l0 -3l0 -3l0 -3l0 -3l0 -3l0 -3l0 -3l0 -3l0 -3l0 -3l0 -3l0 -3l0 -3l0 -3l0 -3l0 -3l0 -3l0 -3l0 -3l0 -3l0 -3l0 -3l0 -3l0 -3l0 -3l0 -3l0 -3l0 -3l0 -3l0 -3l0 -3l0 -3l0 -3l0 -3l0 -3l0 -3l0 -3l0 -3l0 -3l0 -3l0 -3l0 -3l0 -3l0 -3l0 -3l3 0zM509 93l-2 3l0 3l3 2l3 0l2 -2l1 -3l-2 -3l-1 0l-3 0l-1 0zM828 120l-3 1l-3 1l-2 1l-1 1l-2 2l-1 2l-1 1l-1 3l-1 3l-1 3l0 3l0 3l1 2l0 1l1 3l2 3l2 3l1 1l3 2l3 2l3 0l3 0l3 -1l3 -1l3 -2l1 -1l2 -2l1 -1l2 -3l0 -1l1 -2l0 -3l1 -3l-1 -3l0 -3l-1 -1l-1 -2l-2 -3l-3 -2l-1 -1l-2 -1l-3 -2l-3 -2l-3 -1zM734 126l1 1l3 -1l-3 -2l-1 2zM719 159l-1 3l0 3l2 2l2 1l1 1l3 -1l3 -3l0 -3l-2 -3l-1 -1l-3 -1l-3 1l-1 1zM955 327l-1 0l-3 2l-3 1l-3 2l-1 1l-2 2l-1 1l-2 3l-2 3l-1 3l-1 3l-1 3l-1 2l0 1l0 1l1 2l2 1l3 2l1 0l2 2l2 1l1 1l2 2l1 1l3 2l3 2l1 1l2 1l3 1l2 1l1 0l3 1l3 0l3 1l3 0l3 0l3 -1l2 -1l1 0l3 -2l2 -1l1 -1l3 -2l3 -3l0 -1l1 -2l1 -3l1 -3l-1 -3l0 -3l-1 -3l-1 -1l-1 -2l-2 -3l-3 -3l-3 -3l-3 -2l-1 -1l-2 -1l-3 -2l-3 -1l-3 -1l-2 -1l-1 0l-3 -1l-3 0l-3 0l-3 1l-2 0z" fill="#9bc9e0" fill-rule="evenodd"/>
<path d="M447 60l3 0l3 0l3 0l3 0l3 0l3 0l3 0l3 0l3 0l3 0l3 0l3 0l3 0l3 0l3 0l3 0l3 0l3 0l3 0l3 0l3 0l3 0l3 0l3 0l3 0l3 0l3 0l3 0l3 0l3 0l3 0l3 0l3 0l3 0l3 0l3 0l3 0l3 0l3 0l3 0l3 0l3 0l3 0l3 0l3 0l3 0l3 0l3 0l3 0l3 0l3 0l3 0l3 0l3 0l3 0l3 0l3 0l3 0l3 0l3 0l3 0l3 0l3 0l3 0l3 0l3 0l3 0l3 0l3 0l3 0l3 0l3 0l3 0l3 0l1 0l2 3l2 3l1 2l1 1l2 3l3 3l3 2l1 1l2 2l3 1l3 0l3 -1l2 -2l1 -1l2 -2l1 -1l2 -2l1 -1l2 -2l1 -1l2 -2l1 -1l2 -2l1 -1l2 -2l1 0l3 0l3 0l3 0l3 0l3 0l3 0l3 0l3 0l3 0l3 0l3 0l3 0l3 0l3 0l3 0l3 0l3 0l3 0l3 0l3 0l3 0l3 0l3 0l3 0l3 0l3 0l3 0l3 0l3 0l3 0l3 0l3 0l2 0l1 1l2 2l1 1l3 2l3 3l3 2l1 1l2 2l1 1l2 1l2 2l1 0l3 2l1 1l2 1l3 2l3 2l2 1l1 1l3 2l1 0l2 1l3 2l3 3l2 3l1 1l2 2l1 1l2 2l1 2l2 1l1 1l2 2l1 1l3 1l1 1l2 1l3 1l3 1l3 1l3 1l3 1l2 0l1 0l3 1l3 1l3 0l3 1l1 0l2 0l3 1l3 0l3 0l3 1l3 0l3 -1l3 0l3 0l3 0l3 -1l3 0l3 0l3 -1l3 0l3 0l3 -1l3 0l3 0l3 0l3 -1l3 0l3 0l3 0l3 1l3 0l3 0l3 1l3 0l3 1l3 1l3 1l3 1l1 0l2 1l3 1l2 1l1 0l3 2l2 1l1 1l3 2l3 2l1 1l2 2l1 1l2 1l2 2l1 2l1 1l2 2l1 1l2 3l0 1l1 2l2 3l2 3l1 3l1 3l1 3l1 3l1 3l0 3l1 3l0 3l1 3l0 3l0 3l0 2l0 1l0 3l0 3l0 3l0 2l0 1l0 3l0 3l0 3l0 3l-1 3l0 3l1 3l0 3l0 1l0 2l1 3l2 3l3 3l3 3l1 0l2 1l3 2l3 2l2 1l1 1l2 2l1 2l0 1l1 3l-1 3l0 1l0 2l-1 3l-1 3l0 3l0 3l1 3l1 2l2 1l1 1l3 0l3 0l3 -1l3 -2l1 -1l2 -2l0 -1l2 -3l1 -2l1 -1l2 -2l3 -1l3 -1l3 0l3 1l3 2l2 1l1 2l1 1l1 3l1 3l0 3l-1 3l-2 3l0 1l-2 2l-1 1l-2 2l-1 1l-3 2l-3 2l-2 1l-1 1l-3 2l-3 2l-1 1l-2 2l-1 1l-2 3l-2 3l-1 1l-1 2l-2 3l0 1l-1 2l-2 3l-2 3l-1 3l-2 3l-1 1l-1 2l-2 2l0 1l-3 3l-2 3l-1 1l-2 2l-1 1l-2 2l-1 1l-2 2l-1 1l-2 2l-1 1l-3 2l-3 3l-3 3l-3 3l-2 3l-1 1l-1 2l-1 3l-1 3l0 1l0 2l-1 3l0 3l0 3l-1 3l0 3l0 3l-1 3l0 1l0 2l-1 3l-1 3l0 3l-1 2l0 1l-1 3l-1 3l-1 2l-1 1l-1 3l-1 2l0 1l-2 3l-1 1l-1 2l-2 3l-2 3l-1 1l-2 2l-1 1l-2 2l-1 1l-2 2l-1 1l-2 2l-1 0l-3 3l-1 0l-2 2l-2 1l-1 0l-3 2l-2 1l-1 0l-3 2l-3 1l-1 0l-2 1l-3 1l-3 0l-3 1l-3 1l-3 0l-3 0l-3 1l-3 0l-3 0l-3 0l-3 0l-3 0l-3 0l-3 1l-3 0l-2 0l-1 0l-3 1l-3 1l-3 1l-1 3l1 3l1 3l0 3l1 3l0 3l-1 3l0 3l-1 3l0 2l0 1l-1 3l-1 3l-1 3l-1 3l-1 3l-1 2l0 1l-2 3l-1 3l-2 3l-1 2l-1 1l-2 2l-1 1l-2 2l-1 1l-2 1l-3 2l-3 1l-3 1l-3 0l-3 1l-3 -1l-3 0l-3 -2l-1 0l-2 -1l-2 -2l-1 0l-3 -3l-2 -3l-1 -1l-2 -2l-1 -1l-3 -2l-3 -1l-3 -2l-1 0l-2 -1l-3 -2l-1 0l-2 -1l-3 -2l-1 0l-2 -1l-3 -1l-3 -1l-2 0l-1 0l-3 -1l-3 0l-3 -1l-3 0l-3 0l-3 0l-3 -1l-3 0l-3 0l-3 0l-3 0l-3 1l-3 0l-3 0l-3 0l-3 0l-3 1l-3 0l-3 1l-3 0l-3 0l-3 1l-3 1l-3 0l-3 1l-1 0l-2 0l-3 1l-3 1l-3 1l-1 0l-2 0l-3 1l-3 1l-3 1l-3 1l-3 1l-3 1l-1 0l-2 1l-3 1l-3 1l-1 0l-2 1l-3 1l-3 1l-3 1l-3 1l-2 1l-1 0l-3 2l-3 1l-1 0l-2 1l-3 1l-2 1l-1 0l-3 2l-3 1l-1 0l-2 0l-3 0l-3 0l-3 0l-3 0l-3 0l-3 0l-3 0l-3 0l-3 0l-3 0l-3 0l-3 0l-3 0l-3 0l-3 0l-3 0l-3 0l-3 0l-3 0l-3 0l-3 0l-3 0l-3 0l-3 0l-3 0l-3 0l-3 0l-3 0l-3 0l-3 0l-3 0l-3 0l-3 0l-3 0l-3 0l-3 0l-3 0l-3 0l-3 0l-3 0l-3 0l-3 0l-3 0l-3 0l-3 0l-3 0l-3 0l-3 0l-3 0l-3 0l-3 0l-3 0l-3 0l-3 0l-3 0l-3 0l-3 0l-3 0l-3 0l-3 0l-3 0l-3 0l-3 0l-3 0l-3 0l-3 0l-3 0l-3 0l-3 0l-3 0l-3 0l-3 0l-3 0l-3 0l-3 0l-3 0l-3 0l-3 0l-3 0l0 -3l0 -3l0 -3l0 -3l0 -3l0 -3l0 -3l0 -3l0 -3l0 -3l0 -3l0 -3l0 -3l0 -3l0 -3l0 -3l0 -3l0 -3l0 -3l0 -3l0 -3l0 -3l0 -3l0 -3l0 -3l0 -3l0 -3l0 -3l0 -3l0 -3l0 -3l0 -3l0 -3l0 -3l0 -3l0 -3l0 -3l0 -3l0 -3l0 -3l0 -3l0 -3l0 -3l0 -3l0 -3l0 -3l0 -3l0 -3l0 -3l0 -3l0 -3l0 -3l0 -3l0 -3l0 -3l0 -3l0 -3l0 -3l0 -3l0 -3l0 -3l0 -3l0 -3l0 -3l0 -3l0 -3l0 -3l0 -3l0 -3l0 -3l0 -3l0 -3l0 -3l0 -3l0 -3l0 -3l0 -3l0 -3l0 -3l0 -3l0 -3l0 -3l0 -3l0 -3l0 -3l0 -3l0 -3l0 -3l0 -3l0 -3l0 -3l0 -3l0 -3l0 -3l0 -3l0 -3l0 -3l0 -3l0 -3l0 -3l0 -3l0 -3l0 -3l0 -3l0 -3l0 -3l0 -3l0 -3l0 -3l0 -3l0 -3l0 -3l0 -3l0 -3l0 -3l0 -3l0 -3l0 -3l0 -3l0 -3l0 -3l0 -3l0 -3l0 -3l0 -3l0 -3l0 -3l0 -3l0 -3l0 -3l0 -3l0 -3l0 -3l0 -3l0 -3l0 -3l0 -3l0 -3l0 -3l0 -3l0 -3l0 -3l0 -3l0 -3l0 -3l0 -3l0 -3l0 -3l0 -3l0 -3l0 -3l0 -3l0 -3l0 -3l0 -3l0 -3l0 -3l0 -3l0 -3l0 -3l0 -3l0 -3l0 -3l0 -3l0 -3l0 -3l0 -3l3 0zM507 93l-2 3l0 3l2 3l3 1l3 0l1 -1l2 -2l0 -1l1 -3l-1 -2l-1 -1l-2 -1l-3 0l-3 1zM819 120l-3 3l-2 3l-1 2l0 1l-1 3l-1 3l-1 3l0 3l0 3l1 3l1 3l1 2l0 1l2 3l1 2l1 1l2 2l1 1l2 1l3 1l3 1l3 0l3 -1l3 -1l2 -1l1 -1l3 -2l2 -3l1 -1l1 -2l2 -3l1 -3l1 -3l0 -3l0 -3l-1 -3l-1 -3l-2 -3l-1 -1l-2 -2l-1 0l-3 -2l-1 -1l-2 -1l-3 -2l-1 0l-2 -1l-3 -2l-3 0l-3 1l-3 2zM732 123l-1 3l1 1l2 2l1 0l3 0l3 -3l-1 -3l-2 -2l-3 -1l-3 2l0 1zM718 156l-1 1l-1 2l0 3l0 3l1 1l1 2l2 2l3 1l3 0l3 -3l1 -3l1 -3l-2 -3l-3 -3l-3 -1l-3 0l-2 1zM1004 231l1 1l3 0l0 -1l0 -2l-3 0l-1 2zM936 246l2 3l1 1l1 -1l1 -3l-2 -2l-3 2zM949 318l-1 1l-3 2l-1 0l-2 2l-1 1l-2 2l-1 1l-2 2l-1 1l-1 3l-1 1l-1 2l-1 3l-1 3l-1 3l-1 3l0 3l0 3l0 3l2 2l1 1l2 2l2 1l1 0l3 2l2 1l1 1l3 2l1 0l2 2l2 1l1 1l3 2l1 0l2 1l3 1l2 1l1 0l3 1l3 0l3 1l3 0l3 0l3 0l3 0l3 0l3 -1l3 0l3 -1l2 0l1 0l3 -1l3 -1l3 -1l1 0l2 -1l3 -2l1 0l2 -2l0 -1l2 -3l0 -3l0 -3l-1 -3l-1 -2l0 -1l-2 -3l-1 -2l-1 -1l-2 -3l-2 -3l-1 -1l-2 -2l-1 -1l-2 -2l-1 -1l-2 -2l-1 -1l-3 -2l-3 -2l-1 -1l-2 -1l-2 -2l-1 0l-3 -2l-2 -1l-1 -1l-3 -1l-2 -1l-1 0l-3 -1l-3 -1l-3 -1l-3 0l-3 0l-3 0l-3 1l-3 1l-2 1z" fill="#8dc2dc" fill-rule="evenodd"/>
<path d="M447 60l3 0l3 0l3 0l3 0l3 0l3 0l3 0l3 0l3 0l3 0l3 0l3 0l3 0l3 0l3 0l3 0l3 0l3 0l3 0l3 0l3 0l3 0l3 0l3 0l3 0l3 0l3 0l3 0l3 0l3 0l3 0l3 0l3 0l3 0l3 0l3 0l3 0l3 0l3 0l3 0l3 0l3 0l3 0l3 0l3 0l3 0l3 0l3 0l3 0l3 0l3 0l3 0l3 0l3 0l3 0l3 0l3 0l3 0l3 0l3 0l3 0l3 0l3 0l3 0l3 0l3 0l3 0l3 0l3 0l3 0l3 0l3 0l3 0l2 3l1 1l2 2l1 2l1 1l2 3l3 3l3 3l1 0l2 3l3 3l0 1l2 2l1 3l0 3l-1 3l1 3l3 3l1 0l2 -1l1 -2l0 -3l-1 -3l-1 0l-1 -3l1 -3l1 -2l1 -1l2 -3l2 -3l1 -1l2 -2l1 -1l2 -2l1 -1l2 -2l1 -1l3 -2l3 -2l1 -1l2 -1l3 -2l3 0l3 0l3 0l3 0l3 0l3 0l3 0l3 0l3 0l3 0l3 0l3 0l3 0l3 0l3 0l3 0l3 0l3 0l3 0l3 0l3 0l3 0l3 0l3 0l3 0l3 2l2 1l1 1l3 2l1 0l2 2l2 1l1 1l3 2l3 2l1 1l2 2l2 1l1 1l3 2l3 1l3 2l3 1l3 1l2 1l1 0l3 1l3 2l1 0l2 1l3 1l2 1l1 0l3 2l1 1l2 3l2 3l1 2l1 1l1 3l1 1l1 2l2 2l1 1l2 2l1 1l2 1l3 2l3 2l3 1l1 0l2 1l3 1l3 1l3 1l3 1l2 1l1 0l3 2l3 1l1 0l2 1l3 1l3 1l1 0l2 1l3 0l3 1l3 0l3 0l3 0l3 -1l3 0l3 0l3 -1l1 0l2 0l3 -1l3 0l3 -1l3 0l3 0l3 0l3 0l3 0l3 0l3 0l3 0l3 1l3 0l3 1l2 0l1 0l3 1l3 1l3 1l3 1l3 2l3 1l3 2l3 2l1 1l2 1l2 2l1 1l2 2l1 1l2 2l1 1l1 2l2 2l1 1l2 3l0 1l1 2l2 3l1 3l1 3l1 2l0 1l1 3l1 3l1 3l1 3l0 3l1 3l1 3l0 3l1 3l0 3l1 3l0 3l1 3l0 2l0 1l1 3l0 3l1 3l0 3l1 2l0 1l1 3l2 3l2 3l1 2l1 1l2 2l2 1l1 1l3 2l3 2l1 1l2 2l1 1l2 2l0 1l0 3l-1 3l0 3l-1 3l0 3l-1 3l1 3l1 3l1 2l1 1l2 1l3 2l2 0l1 0l3 0l1 0l2 0l3 -1l3 -1l1 -1l2 -3l0 -1l0 -2l1 -3l1 -3l1 -1l3 0l3 1l1 0l2 3l0 2l0 1l0 1l-1 2l-2 3l-3 3l-3 3l-2 3l-1 2l-1 1l-2 2l-1 1l-2 2l-1 1l-2 2l-1 1l-2 2l-1 1l-2 3l-3 3l-3 3l-3 3l-3 3l-3 2l-1 1l-2 2l-2 1l-1 1l-3 1l-1 1l-2 1l-3 1l-2 1l-1 0l-3 1l-3 1l-3 0l-3 0l-3 0l-3 -1l-3 0l-2 -1l-1 0l-3 -2l-3 -1l-3 -2l-2 -1l-1 -1l-3 -1l-1 -1l-2 -1l-2 -2l-1 -1l-3 -2l-1 0l-2 -2l-2 -1l-1 -1l-3 -2l-1 0l-2 -1l-3 -2l-3 -2l-2 -1l-1 -1l-3 -2l-1 0l-2 -1l-3 -2l-1 0l-2 -1l-3 -1l-1 -1l-2 -1l-3 -1l-3 -1l-2 0l-1 0l-3 -1l-3 0l-3 1l-1 0l-2 1l-3 1l-1 1l-2 2l-1 1l-2 2l-1 1l-2 2l-1 1l-2 2l-1 1l-2 3l-2 3l-1 1l-1 2l-1 3l-1 2l0 1l-1 3l-1 3l0 3l-1 3l-1 3l0 3l0 3l1 3l1 3l2 2l1 1l2 2l2 1l1 0l3 2l3 1l3 1l3 2l3 2l1 1l2 1l3 2l3 1l3 1l3 1l3 1l3 1l3 0l3 1l2 0l1 0l3 1l3 0l3 0l3 1l3 0l2 1l1 0l3 1l3 2l1 0l2 1l3 2l3 3l2 3l1 1l1 2l2 3l0 1l1 2l0 3l1 3l0 3l0 3l0 3l-1 3l0 3l-1 2l0 1l-1 3l-2 3l0 1l-1 2l-2 3l-2 3l-1 2l-1 1l-2 2l-1 1l-2 2l-1 1l-2 2l-2 1l-1 1l-3 2l-3 2l-2 1l-1 0l-3 2l-3 1l-3 1l-3 1l-3 1l-1 0l-2 0l-3 1l-3 1l-3 0l-3 1l-1 0l-2 0l-3 1l-3 1l-3 0l-1 1l-2 1l-3 1l-2 1l-1 1l-3 2l-2 3l-1 1l-1 2l-1 3l0 3l0 3l0 3l-1 3l-1 3l-1 3l-1 1l-1 2l-2 3l-2 3l-1 2l-1 1l-1 3l-1 1l-1 2l-1 3l-1 2l0 1l-2 3l-1 3l-2 3l-1 2l-1 1l-2 2l-1 1l-2 1l-3 1l-3 1l-3 0l-3 -1l-3 -2l-3 -3l-3 -3l-3 -3l-1 0l-2 -1l-3 -1l-3 0l-3 -1l-1 0l-2 -1l-3 -1l-3 -1l-3 -2l-3 -1l-3 -1l-3 -2l-1 0l-2 -1l-3 -1l-3 -1l-3 -1l-3 -1l-3 -1l-2 0l-1 0l-3 -1l-3 -1l-3 0l-3 -1l-1 0l-2 0l-3 -1l-3 0l-3 -1l-3 0l-3 0l-3 0l-3 -1l-3 0l-3 0l-3 0l-2 0l-1 0l-3 0l-1 0l-2 0l-3 0l-3 0l-3 0l-3 1l-3 0l-3 0l-3 0l-3 0l-3 1l-3 0l-3 1l-3 0l-3 0l-3 1l-3 0l-3 1l-3 0l-3 1l-1 0l-2 0l-3 1l-3 0l-3 1l-3 1l-1 0l-2 0l-3 1l-3 1l-3 0l-3 1l-3 1l-3 0l-3 1l-3 1l-1 0l-2 0l-3 1l-3 1l-3 1l-1 0l-2 0l-3 1l-3 1l-3 1l-1 0l-2 0l-3 1l-3 1l-3 1l-1 0l-2 0l-3 1l-3 1l-3 1l-1 0l-2 1l-3 0l-3 1l-3 1l-1 0l-2 1l-3 0l-3 1l-3 1l-1 0l-2 1l-3 0l-3 1l-3 1l-1 0l-2 1l-3 0l-3 1l-3 1l-1 0l-2 1l-3 0l-3 1l-3 1l-1 0l-2 0l-3 1l-3 1l-3 1l-2 0l-1 0l-3 0l-3 0l-3 0l-3 0l-3 0l-3 0l-3 0l-3 0l-3 0l-3 0l-3 0l-3 0l-3 0l-3 0l-3 0l-3 0l-3 0l-3 0l-3 0l-3 0l-3 0l-3 0l-3 0l-3 0l-3 0l-3 0l-3 0l-3 0l-3 0l-3 0l-3 0l-3 0l-3 0l-3 0l-3 0l0 -3l0 -3l0 -3l0 -3l0 -3l0 -3l0 -3l0 -3l0 -3l0 -3l0 -3l0 -3l0 -3l0 -3l0 -3l0 -3l0 -3l0 -3l0 -3l0 -3l0 -3l0 -3l0 -3l0 -3l0 -3l0 -3l0 -3l0 -3l0 -3l0 -3l0 -3l0 -3l0 -3l0 -3l0 -3l0 -3l0 -3l0 -3l0 -3l0 -3l0 -3l0 -3l0 -3l0 -3l0 -3l0 -3l0 -3l0 -3l0 -3l0 -3l0 -3l0 -3l0 -3l0 -3l0 -3l0 -3l0 -3l0 -3l0 -3l0 -3l0 -3l0 -3l0 -3l0 -3l0 -3l0 -3l0 -3l0 -3l0 -3l0 -3l0 -3l0 -3l0 -3l0 -3l0 -3l0 -3l0 -3l0 -3l0 -3l0 -3l0 -3l0 -3l0 -3l0 -3l0 -3l0 -3l0 -3l0 -3l0 -3l0 -3l0 -3l0 -3l0 -3l0 -3l0 -3l0 -3l0 -3l0 -3l0 -3l0 -3l0 -3l0 -3l0 -3l0 -3l0 -3l0 -3l0 -3l0 -3l0 -3l0 -3l0 -3l0 -3l0 -3l0 -3l0 -3l0 -3l0 -3l0 -3l0 -3l0 -3l0 -3l0 -3l0 -3l0 -3l0 -3l0 -3l0 -3l0 -3l0 -3l0 -3l0 -3l0 -3l0 -3l0 -3l0 -3l0 -3l0 -3l0 -3l0 -3l0 -3l0 -3l0 -3l0 -3l0 -3l0 -3l0 -3l0 -3l0 -3l0 -3l0 -3l0 -3l0 -3l0 -3l0 -3l0 -3l0 -3l0 -3l0 -3l0 -3l0 -3l0 -3l0 -3l0 -3l0 -3l0 -3l0 -3l0 -3l3 0zM505 93l-1 2l-1 1l0 3l1 3l3 3l1 0l2 1l2 -1l1 0l3 -3l2 -3l0 -3l-1 -3l-1 -1l-3 -1l-3 0l-3 1l-2 1zM822 114l-3 1l-2 2l-1 1l-2 2l-1 2l0 1l-2 3l-1 3l0 1l-1 2l0 3l-1 3l0 3l0 3l1 3l1 3l0 1l1 2l1 3l1 2l1 1l1 3l1 1l2 2l1 1l3 2l1 0l2 1l3 0l3 0l3 -1l3 -1l3 -1l1 -1l2 -2l2 -1l1 -1l1 -2l2 -2l1 -1l1 -3l1 -2l1 -1l1 -3l1 -3l0 -3l0 -3l0 -2l0 -1l-1 -3l-2 -3l-3 -3l-3 -2l-2 -1l-1 -1l-3 -1l-2 -1l-1 -1l-3 -1l-1 -1l-2 -1l-3 -2l-2 0l-1 0l-3 0zM736 117l-1 0l-3 1l-2 2l-1 1l-1 2l0 3l1 3l3 2l3 0l3 0l3 -2l2 -3l1 -3l-1 -3l-2 -2l-3 -1l-2 0zM527 123l-2 1l-3 2l0 1l-1 2l-1 3l1 3l1 2l2 1l1 0l3 0l3 -1l2 -2l1 -2l0 -1l0 -3l0 -2l0 -1l-3 -3l-2 0l-1 0l-1 0zM718 153l-1 0l-3 3l-1 3l0 3l1 3l2 3l1 2l1 1l2 1l3 2l3 -1l3 -1l1 -1l2 -3l0 -1l0 -2l0 -3l0 -1l-1 -2l-2 -3l-3 -2l-3 -1l-3 -1l-2 1zM1002 228l0 1l-1 2l1 2l1 1l2 1l3 0l1 -1l2 -2l1 -1l-1 -3l0 -1l-3 -2l-3 1l-3 2zM935 243l-1 3l0 3l2 3l3 3l2 0l1 1l0 -1l2 -3l1 -2l0 -1l0 -1l0 -2l-2 -3l-1 -1l-3 -1l-3 1l-1 1zM943 264l0 3l2 1l1 -1l0 -3l-1 -1l-2 1z" fill="#7bb6d6" fill-rule="evenodd"/>
<path d="M447 60l3 0l3 0l3 0l3 0l3 0l3 0l3 0l3 0l3 0l3 0l3 0l3 0l3 0l3 0l3 0l3 0l3 0l3 0l3 0l3 0l3 0l3 0l3 0l3 0l3 0l3 0l3 0l3 0l3 0l3 0l3 0l3 0l3 0l3 0l3 0l3 0l3 0l3 0l3 0l3 0l3 0l3 0l3 0l3 0l3 0l3 0l3 0l3 0l3 0l3 0l3 0l3 0l3 0l3 0l3 0l3 0l3 0l3 0l3 0l3 0l3 0l3 0l3 0l3 0l3 0l3 0l3 0l3 0l3 0l3 0l3 0l3 2l1 1l2 1l1 2l2 2l1 1l2 3l3 3l3 3l3 3l1 3l1 3l1 3l0 2l0 1l1 3l1 3l1 1l2 2l1 1l3 1l3 0l3 -2l1 -3l0 -3l0 -3l0 -3l0 -3l1 -3l1 -2l0 -1l2 -3l1 -1l2 -2l1 -1l2 -2l1 0l3 -2l1 -1l2 -1l3 -2l1 0l2 -1l3 -1l2 -1l1 0l3 -1l3 -1l3 -1l3 0l3 0l3 0l3 0l3 0l3 0l3 0l3 0l1 0l2 0l3 1l3 0l3 1l3 1l3 1l3 1l3 1l1 0l2 1l3 1l2 1l1 1l3 1l2 1l1 1l3 1l1 1l2 1l2 2l1 1l3 2l3 2l1 1l2 2l1 1l2 2l2 1l1 1l3 1l3 0l3 -1l3 0l3 0l3 1l3 0l2 1l1 0l3 1l3 1l3 0l1 1l2 2l0 1l1 3l2 3l1 3l0 3l1 3l1 3l1 3l2 3l3 2l3 1l3 1l3 1l2 1l1 0l3 1l3 2l1 0l2 1l3 1l1 1l2 1l3 2l1 0l2 1l2 2l1 1l3 2l3 2l1 1l2 2l2 1l1 1l3 1l2 1l1 0l3 1l3 -1l1 0l2 0l3 -1l3 -1l1 -1l2 -1l3 -1l3 -1l2 0l1 0l3 -1l3 -1l3 0l3 0l3 -1l3 0l3 0l3 0l3 0l3 1l3 0l3 1l3 0l2 1l1 0l3 1l3 1l2 1l1 1l3 1l2 1l1 1l3 2l1 0l2 2l2 1l1 1l2 2l1 1l2 2l1 1l1 2l2 2l1 1l2 3l0 1l1 2l2 3l1 3l1 3l1 2l1 1l1 3l0 3l1 2l0 1l1 3l1 3l1 1l1 2l1 3l1 3l1 3l2 3l0 1l1 2l1 3l1 3l0 1l1 2l1 3l1 3l1 3l2 3l0 1l1 2l2 3l2 3l1 1l2 2l1 1l2 2l1 1l3 2l3 3l1 3l0 3l0 3l0 3l-1 3l0 3l-1 3l1 3l0 1l1 2l1 3l1 1l3 2l3 2l1 1l2 2l1 1l0 3l-1 2l-1 1l-2 2l-1 1l-2 2l-2 1l-1 1l-3 1l-1 1l-2 1l-3 2l-1 0l-2 1l-3 1l-3 1l-3 1l-3 1l-3 0l-3 0l-3 0l-3 0l-3 0l-3 0l-3 -1l-3 -1l-3 -1l-3 -1l-2 -1l-1 0l-3 -2l-3 -1l-3 -1l-3 -2l-3 -2l-3 -1l-3 -2l-2 -1l-1 -1l-3 -1l-1 -1l-2 -1l-3 -2l-3 -2l-3 -1l-3 -2l-2 -1l-1 -1l-3 -1l-1 -1l-2 -1l-3 -2l-3 -2l-2 -1l-1 -1l-3 -2l-2 -3l-1 -1l-1 -2l-1 -3l-1 -2l0 -1l-1 -3l-1 -3l-1 -3l0 -1l-1 -2l-1 -3l0 -3l0 -3l0 -3l-1 -3l0 -1l-1 -2l-2 -2l-1 -1l-2 -1l-3 -1l-3 1l-2 1l-1 1l-1 2l-1 3l1 3l1 3l0 1l1 2l2 3l0 1l1 2l1 3l0 3l1 3l0 1l0 2l1 3l1 3l0 3l0 3l0 3l-1 3l-1 3l0 1l-1 2l-1 3l-1 2l0 1l-2 3l-1 2l0 1l-2 3l-1 1l-1 2l-2 3l-1 3l-2 3l0 1l-1 2l-1 3l0 3l-1 3l-1 3l0 3l-1 3l0 3l0 3l0 3l0 3l1 3l1 1l1 2l2 2l1 1l2 2l2 1l1 0l3 1l3 1l1 1l2 0l3 2l2 1l1 1l3 2l1 0l2 1l3 2l3 1l3 1l3 1l3 1l3 1l3 1l2 0l1 0l3 1l3 1l3 1l1 0l2 1l3 1l1 1l2 1l2 2l1 1l1 2l2 3l1 3l1 3l1 3l0 2l0 1l0 3l0 3l0 3l0 2l0 1l-1 3l-1 3l-1 3l-1 3l-2 3l-3 3l0 1l-2 2l-1 1l-2 2l-1 0l-3 3l-3 2l-2 1l-1 0l-3 2l-3 1l-3 1l-3 1l-2 1l-1 0l-3 1l-3 1l-3 1l-3 1l-3 1l-2 1l-1 0l-3 2l-3 1l-3 2l-1 1l-2 2l-1 1l-2 3l-1 3l-2 3l-1 3l-1 3l0 3l-1 3l-1 3l-2 3l-2 3l-1 1l-3 2l-1 0l-2 1l-3 2l-3 3l-3 3l-3 3l-3 3l0 1l-2 2l-1 2l0 1l-1 3l0 3l1 3l-1 3l-2 2l-3 -2l0 -3l0 -3l0 -3l-3 -3l-3 -1l-3 -1l-3 2l-3 2l-3 1l-3 0l-3 1l-3 -1l-3 -1l-3 -1l-2 -1l-1 -1l-3 -2l-1 0l-2 -2l-3 -1l-3 -2l-2 -1l-1 -1l-3 -1l-1 -1l-2 -1l-3 -1l-2 -1l-1 -1l-3 -1l-2 -1l-1 0l-3 -2l-3 -1l-1 0l-2 -1l-3 -1l-3 -1l-3 -1l-3 -1l-3 -1l-1 0l-2 -1l-3 0l-3 -1l-3 -1l-1 0l-2 0l-3 -1l-3 -1l-3 0l-3 -1l-2 0l-1 0l-3 0l-3 -1l-3 0l-3 0l-3 -1l-3 0l-3 0l-3 0l-3 0l-3 0l-3 -1l-3 0l-3 0l-3 0l-3 0l-3 1l-3 0l-3 0l-3 0l-3 0l-3 0l-3 0l-3 0l-3 1l-3 0l-3 0l-3 0l-3 0l-3 1l-3 0l-3 0l-3 1l-3 0l-3 0l-3 0l-3 1l-3 0l-3 0l-3 0l-3 1l-2 0l-1 0l-3 0l-3 1l-3 0l-3 0l-3 0l-3 1l-3 0l-3 0l-3 1l-3 0l-2 0l-1 0l-3 0l-3 1l-3 0l-3 0l-3 0l-3 0l-3 1l-3 0l-3 0l-3 0l-3 0l-3 1l-3 0l-3 0l-2 0l-1 0l-3 0l-3 0l-3 0l-3 1l-3 0l-3 0l-3 0l-3 0l-3 0l-3 0l-3 0l-3 0l-3 0l-3 0l-3 0l-3 0l-3 0l-3 0l-3 0l-3 0l-3 0l-3 0l-3 0l-3 -1l-3 0l-3 0l-3 0l-2 0l-1 0l-3 0l-3 0l-3 -1l-3 0l-3 0l-3 0l-3 0l-3 -1l-3 0l-3 0l-3 0l-3 -1l0 -3l0 -3l0 -3l0 -3l0 -3l0 -3l0 -3l0 -3l0 -3l0 -3l0 -3l0 -3l0 -3l0 -3l0 -3l0 -3l0 -3l0 -3l0 -3l0 -3l0 -3l0 -3l0 -3l0 -3l0 -3l0 -3l0 -3l0 -3l0 -3l0 -3l0 -3l0 -3l0 -3l0 -3l0 -3l0 -3l0 -3l0 -3l0 -3l0 -3l0 -3l0 -3l0 -3l0 -3l0 -3l0 -3l0 -3l0 -3l0 -3l0 -3l0 -3l0 -3l0 -3l0 -3l0 -3l0 -3l0 -3l0 -3l0 -3l0 -3l0 -3l0 -3l0 -3l0 -3l0 -3l0 -3l0 -3l0 -3l0 -3l0 -3l0 -3l0 -3l0 -3l0 -3l0 -3l0 -3l0 -3l0 -3l0 -3l0 -3l0 -3l0 -3l0 -3l0 -3l0 -3l0 -3l0 -3l0 -3l0 -3l0 -3l0 -3l0 -3l0 -3l0 -3l0 -3l0 -3l0 -3l0 -3l0 -3l0 -3l0 -3l0 -3l0 -3l0 -3l0 -3l0 -3l0 -3l0 -3l0 -3l0 -3l0 -3l0 -3l0 -3l0 -3l0 -3l0 -3l0 -3l0 -3l0 -3l0 -3l0 -3l0 -3l0 -3l0 -3l0 -3l0 -3l0 -3l0 -3l0 -3l0 -3l0 -3l0 -3l0 -3l0 -3l0 -3l0 -3l0 -3l0 -3l0 -3l0 -3l0 -3l0 -3l0 -3l0 -3l0 -3l0 -3l0 -3l0 -3l3 0zM508 90l-1 0l-3 2l-1 1l-2 3l-1 3l1 2l0 1l2 3l1 0l3 3l2 0l1 0l1 0l2 -1l2 -2l1 -1l1 -2l2 -3l0 -3l-1 -3l-2 -2l-2 -1l-1 0l-3 -1l-2 1zM821 108l-2 1l-3 2l-2 3l-1 1l-1 2l-1 3l-1 1l-1 2l0 3l-1 3l-1 3l0 1l0 2l-1 3l0 3l0 3l1 3l0 2l0 1l1 3l1 3l1 2l1 1l1 3l1 3l2 3l1 1l2 2l1 1l3 1l3 1l3 0l3 -1l3 0l3 -1l1 -1l2 -1l3 -1l1 -1l2 -2l1 -1l2 -2l1 -1l2 -3l2 -3l1 -2l0 -1l2 -3l1 -3l1 -3l1 -3l1 -3l1 -3l0 -3l-1 -3l0 -1l-2 -2l-1 -1l-3 -1l-1 -1l-2 -1l-3 -1l-3 -1l-1 0l-2 -1l-3 -1l-3 -1l-3 -2l-1 -1l-2 -1l-2 -2l-1 -1l-3 -2l-1 0l-2 0l-1 0zM733 114l-1 0l-3 2l-1 1l-2 2l-1 1l-1 3l-1 3l1 3l2 2l2 1l1 1l3 0l3 1l3 -1l3 -1l3 -2l1 -1l2 -3l0 -1l1 -2l0 -3l-1 -2l0 -1l-3 -2l-1 -1l-2 -1l-3 0l-3 0l-2 1zM528 120l-3 0l-3 1l-3 1l-3 1l-3 3l-2 3l-1 1l-1 2l-1 3l0 3l0 3l1 3l1 2l1 1l2 2l2 1l1 0l3 1l3 0l2 -1l1 0l3 -2l2 -1l1 0l3 -3l2 -3l1 -1l1 -2l1 -3l0 -3l-1 -3l-1 -3l-2 -3l-1 -1l-3 -2l-3 0zM715 150l-1 0l-2 3l-1 2l0 1l0 3l0 3l1 3l1 3l1 2l1 1l2 2l1 1l2 1l3 1l3 0l3 -1l1 -1l2 -2l1 -1l1 -3l0 -3l0 -3l-1 -3l-1 -1l-1 -2l-2 -2l-2 -1l-1 -1l-3 -1l-2 -1l-1 -1l-3 0l-2 1zM877 198l-1 1l-1 2l-1 3l0 3l0 3l2 3l3 2l3 0l3 -1l1 -1l2 -1l2 -2l1 -2l1 -1l2 -3l2 -3l0 -3l-2 -1l-3 -1l-3 0l-3 0l-3 0l-3 1l-2 1zM1003 225l-1 0l-2 3l-1 2l0 1l0 3l2 3l1 1l3 0l3 0l2 -1l1 -1l2 -2l1 -1l1 -2l0 -3l-1 -3l-3 -2l-3 0l-3 0l-2 2z" fill="#6bacd1" fill-rule="evenodd"/>
<path d="M447 60l3 0l3 0l3 0l3 0l3 0l3 0l3 0l3 0l3 0l3 0l3 0l3 0l3 0l3 0l3 0l3 0l3 0l3 0l3 0l3 0l3 0l3 0l3 0l3 0l3 0l3 0l3 0l3 0l3 0l3 0l3 0l3 0l3 0l3 0l3 0l3 0l3 0l3 0l3 0l3 0l3 0l3 0l3 0l3 0l3 0l3 0l3 0l3 0l3 0l3 0l3 0l3 0l3 0l3 0l3 0l3 0l1 0l2 2l2 1l1 1l3 1l3 1l3 0l3 -1l3 -1l3 -1l1 0l2 -1l3 0l3 -1l3 0l3 1l3 1l1 0l2 1l3 2l3 2l1 1l2 3l3 3l0 1l2 2l1 2l1 1l1 3l1 2l0 1l1 3l0 3l1 3l1 1l1 2l2 2l0 1l3 2l2 1l1 0l3 1l3 0l3 -1l1 0l2 -2l0 -1l1 -3l0 -3l0 -3l0 -3l0 -3l1 -3l1 -3l2 -3l1 -1l2 -2l1 -1l3 -1l2 -1l1 0l3 -2l3 -1l2 0l1 0l3 -1l3 0l3 -1l3 0l3 0l3 0l3 1l3 0l3 1l2 0l1 0l3 1l3 0l3 1l3 1l3 1l3 1l3 0l2 1l1 0l3 1l3 1l3 1l3 1l3 1l1 1l2 1l3 1l1 1l2 1l2 2l1 1l2 2l1 1l1 2l1 3l1 3l0 3l-1 3l-1 3l-1 2l0 1l-1 3l-1 3l-1 3l-1 3l0 3l0 3l-1 3l-1 3l0 3l0 3l0 3l0 2l0 1l1 3l1 3l1 3l0 1l1 2l1 3l0 3l1 3l0 1l1 2l2 2l1 1l2 2l2 1l1 1l3 1l3 1l3 0l3 -1l3 -1l2 -1l1 0l3 -2l3 -1l3 -2l2 -1l1 -1l2 -2l1 -2l1 -1l2 -3l0 -1l1 -2l2 -3l2 -3l1 -3l2 -3l1 -2l1 -1l2 -3l3 -3l1 0l2 -1l3 -1l3 0l3 1l3 0l2 1l1 0l3 2l2 1l1 0l3 3l1 0l2 2l1 1l2 3l2 3l1 3l0 2l0 1l0 3l-1 3l-1 3l-1 1l-2 2l-1 2l0 1l-1 3l-2 3l-3 3l-3 2l-1 1l-2 1l-3 1l-3 1l-3 1l-3 1l-1 1l-2 1l-2 2l-1 1l-2 2l-1 3l-1 3l0 3l0 3l1 3l2 3l1 1l2 2l1 0l3 2l3 0l3 0l3 0l3 -1l1 -1l2 -1l3 -2l3 -2l1 -1l2 -1l2 -2l1 -1l3 -2l1 0l2 -1l2 -2l1 0l3 -3l0 -1l2 -2l1 -2l1 -1l2 -2l0 -1l2 -3l0 -3l1 -2l0 -1l2 -3l1 -2l1 -1l2 -2l2 -1l1 0l3 -2l3 0l1 -1l2 -3l2 -3l1 -1l2 -2l1 -1l3 -2l1 0l2 -1l3 -1l3 -1l3 0l3 -1l3 0l3 0l3 0l3 0l3 1l2 0l1 0l3 1l3 1l3 1l1 0l2 1l3 1l2 1l1 0l3 2l2 1l1 1l3 2l3 2l1 1l2 2l1 1l2 3l2 3l1 1l1 2l2 3l0 1l1 2l1 3l1 3l1 3l1 3l0 3l1 2l0 1l2 3l1 2l1 1l2 2l1 1l2 2l1 1l2 3l2 3l1 1l1 2l1 3l1 2l1 1l1 3l1 2l0 1l2 3l1 2l0 1l1 3l2 3l2 3l1 2l1 1l2 2l1 1l2 2l2 1l1 1l2 2l1 2l1 1l0 3l-1 3l-2 3l-1 3l0 2l0 1l-1 3l0 3l-1 3l0 3l0 3l-1 1l-1 2l-2 2l-1 1l-2 1l-3 2l-1 0l-2 1l-3 1l-3 0l-3 1l-3 0l-3 0l-3 0l-3 -1l-3 0l-3 -1l-3 -1l-2 0l-1 0l-3 -1l-3 -2l-1 0l-2 -1l-3 -1l-2 -1l-1 -1l-3 -1l-2 -1l-1 -1l-3 -1l-1 -1l-2 -1l-3 -2l-3 -2l-2 -1l-1 -1l-3 -2l-3 -2l-1 -1l-2 -1l-2 -2l-1 0l-3 -3l-3 -2l-1 -1l-2 -2l-1 -1l-2 -1l-1 -2l-2 -2l-1 -1l-2 -2l0 -1l-2 -3l-1 -1l-1 -2l0 -3l0 -3l0 -3l0 -3l-1 -3l-1 -1l-1 -2l-2 -1l-2 -2l-1 0l-3 -2l-3 0l-3 0l-3 2l-3 3l0 1l-1 2l0 3l0 3l1 3l1 3l1 3l1 3l1 3l1 3l0 3l-1 3l-1 3l-2 3l-1 3l0 3l0 3l0 3l-1 3l0 3l-1 3l-1 3l0 1l-1 2l-1 3l-1 3l-1 3l-2 3l-1 3l-1 3l-1 3l-1 3l0 3l-1 3l0 3l-1 3l0 3l-1 3l0 3l0 3l0 3l1 3l0 1l1 2l2 3l3 3l3 2l1 1l2 1l3 1l3 1l2 0l1 0l3 1l3 1l1 1l2 1l3 2l3 2l3 1l3 1l3 1l2 1l1 0l3 1l3 1l3 1l3 1l3 1l3 1l3 2l2 1l1 1l2 2l1 3l1 3l0 3l-1 3l1 3l0 3l0 3l0 3l-1 3l-1 3l-1 3l-1 2l-1 1l-2 3l-2 3l-1 1l-3 2l-3 3l-1 0l-2 2l-3 1l-3 2l-3 1l-3 1l-3 1l-2 1l-1 0l-3 1l-3 2l-1 0l-2 1l-3 2l-3 2l-1 1l-2 1l-3 2l-3 3l-1 3l-2 3l0 1l-1 2l-1 3l-1 3l-1 3l-1 3l-1 3l0 1l-1 2l-2 3l-3 3l-3 1l-3 2l-1 0l-2 1l-3 1l-3 1l-3 0l-3 1l-3 -1l-3 3l-2 3l-1 1l-2 2l-1 1l-3 1l-1 1l-2 1l-2 2l-1 1l-2 2l-1 1l-2 2l-1 0l-3 1l-3 0l-3 -1l-1 0l-2 -1l-3 -2l-3 -3l-3 -2l-1 -1l-2 -2l-1 -1l-2 -1l-2 -2l-1 -1l-3 -2l-3 -2l-1 -1l-2 -2l-2 -1l-1 -1l-3 -2l-3 -2l-2 -1l-1 -1l-3 -2l-1 0l-2 -1l-3 -2l-3 -2l-3 -1l-3 -2l-2 -1l-1 0l-3 -2l-3 -1l-3 -1l-3 -2l-1 0l-2 -1l-3 -1l-3 -1l-3 -1l-3 -1l-3 -1l-1 0l-2 -1l-3 -1l-3 0l-3 -1l-3 -1l-3 0l-3 -1l-3 0l-3 -1l-3 -1l-3 0l-3 0l-3 -1l-3 0l-3 0l-3 -1l-2 0l-1 0l-3 0l-3 -1l-3 0l-3 0l-3 0l-3 0l-3 -1l-3 0l-3 0l-3 0l-3 0l-3 0l-3 0l-3 0l-3 -1l-3 0l-3 0l-3 0l-3 0l-1 0l-2 0l-3 0l-3 0l-3 0l-3 -1l-3 0l-3 0l-3 0l-3 0l-3 0l-3 0l-3 0l-3 -1l-3 0l-3 0l-3 0l-3 0l-3 -1l-3 0l-3 0l-3 -1l-3 0l-3 0l-3 0l-3 -1l-3 0l-3 -1l-3 0l-1 0l-2 0l-3 -1l-3 0l-3 -1l-3 0l-3 -1l-2 0l-1 0l-3 -1l-3 0l-3 -1l-3 -1l-2 0l-1 0l-3 -1l-3 -1l-3 0l-3 -1l-3 -1l-3 -1l-3 0l-3 -1l-3 -1l-3 -1l-3 -1l-1 0l-2 -1l-3 -1l-3 -1l-1 0l-2 -1l-3 -1l-3 -1l-1 0l-2 -1l-3 -1l-3 -1l-3 -1l-3 -2l-1 0l-2 -1l-3 -1l-2 -1l-1 0l-3 -2l-3 -1l-3 -2l-3 -1l-3 -1l-3 -2l0 -3l0 -3l0 -3l0 -3l0 -3l0 -3l0 -3l0 -3l0 -3l0 -3l0 -3l0 -3l0 -3l0 -3l0 -3l0 -3l0 -3l0 -3l0 -3l0 -3l0 -3l0 -3l0 -3l0 -3l0 -3l0 -3l0 -3l0 -3l0 -3l0 -3l0 -3l0 -3l0 -3l0 -3l0 -3l0 -3l0 -3l0 -3l0 -3l0 -3l0 -3l0 -3l0 -3l0 -3l0 -3l0 -3l0 -3l0 -3l0 -3l0 -3l0 -3l0 -3l0 -3l0 -3l0 -3l0 -3l0 -3l0 -3l0 -3l0 -3l0 -3l0 -3l0 -3l0 -3l0 -3l0 -3l0 -3l0 -3l0 -3l0 -3l0 -3l0 -3l0 -3l0 -3l0 -3l0 -3l0 -3l0 -3l0 -3l0 -3l0 -3l0 -3l0 -3l0 -3l0 -3l0 -3l0 -3l0 -3l0 -3l0 -3l0 -3l0 -3l0 -3l0 -3l0 -3l0 -3l0 -3l0 -3l0 -3l0 -3l0 -3l0 -3l0 -3l0 -3l0 -3l0 -3l0 -3l0 -3l0 -3l0 -3l0 -3l0 -3l0 -3l0 -3l0 -3l0 -3l0 -3l0 -3l0 -3l0 -3l3 0zM522 66l0 2l0 1l3 1l1 -1l1 -3l-2 -3l-3 2l0 1zM505 90l-1 0l-3 2l-1 1l-2 3l0 1l-1 2l0 3l1 1l1 2l2 2l2 1l1 1l2 2l1 3l0 3l-2 3l-1 1l-2 2l-1 1l-2 2l-1 2l-1 1l-2 2l-1 1l-2 3l-2 3l-1 2l-1 1l-1 3l-1 3l-1 3l0 3l0 3l0 3l1 2l0 1l2 3l1 1l2 2l1 0l3 2l3 1l3 1l3 0l3 -1l3 0l3 -1l3 -1l2 -1l1 0l3 -2l2 -1l1 -1l3 -2l3 -3l2 -3l1 -1l2 -2l1 -2l1 -1l1 -3l1 -1l1 -2l1 -3l0 -3l1 -3l-1 -3l0 -3l-1 -3l-1 -1l-1 -2l-2 -2l-1 -1l-2 -1l-3 -1l-3 -1l-3 0l-3 0l-3 -1l-3 -1l-1 -1l0 -3l1 -3l1 -3l2 -3l1 -3l0 -3l-1 -3l-2 -3l-1 -1l-3 -1l-3 0l-3 1l-2 1zM731 111l-2 1l-3 2l-3 2l-1 1l-2 3l-1 3l-1 3l0 3l1 3l1 2l3 1l3 0l3 1l3 0l3 0l3 -1l1 0l2 -1l3 -1l2 -1l1 -1l2 -2l1 -2l1 -1l2 -3l0 -2l0 -1l0 -3l0 -1l-1 -2l-2 -2l-1 -1l-2 -1l-3 -1l-3 0l-3 0l-3 1l-3 1l-1 0zM712 144l-1 0l-2 3l-1 1l-1 2l0 3l0 3l1 3l0 1l1 2l1 3l1 3l1 3l2 2l1 1l2 2l1 1l2 1l3 1l3 0l3 -1l2 -1l1 -1l2 -2l1 -2l1 -1l0 -3l0 -3l0 -3l-1 -3l-2 -3l-1 -1l-2 -2l-1 -1l-3 -2l-3 -2l-1 -1l-2 -2l-2 -1l-1 -1l-3 0l-2 1zM965 213l-2 3l3 3l1 0l2 -2l0 -1l0 -1l-2 -2l-1 0l-1 0zM1010 219l-2 1l-3 1l-2 1l-1 1l-3 2l-2 3l-1 2l-1 1l0 3l1 3l2 3l1 1l3 1l3 0l3 -1l2 -1l1 0l3 -3l3 -3l2 -3l1 -3l1 -3l-1 -3l-3 -3l-3 -1l-3 1l-1 0zM895 423l-1 2l-1 1l0 3l0 3l1 1l1 2l2 2l1 1l2 2l2 1l1 1l3 0l3 1l2 -2l0 -3l-2 -3l-2 -3l-1 -2l-1 -1l-1 -3l-1 -2l-1 -1l-2 -1l-3 0l-2 1zM837 98l3 -1l3 0l3 0l3 0l3 1l3 1l3 3l0 1l1 2l0 3l-1 3l0 1l-1 2l-2 1l-3 2l-3 0l-3 0l-3 0l-3 -1l-3 -2l-1 0l-2 -2l-1 -1l-1 -3l0 -3l1 -3l1 -2l1 -1l2 -1z" fill="#59a1ca" fill-rule="evenodd"/>
<path d="M447 60l3 0l3 0l3 0l3 0l3 0l3 0l3 0l3 0l3 0l3 0l3 0l3 0l3 0l3 0l3 0l3 0l3 0l3 0l3 0l3 0l3 0l3 0l3 0l3 0l-1 3l0 3l1 3l3 3l3 0l1 0l2 -1l2 -2l1 -3l1 -3l0 -3l2 0l3 0l3 0l3 0l3 0l3 0l3 0l3 0l3 0l3 0l3 0l3 0l3 0l3 0l3 0l3 0l3 0l3 0l3 0l3 0l3 0l3 0l3 0l1 0l1 3l1 3l2 3l1 2l1 1l2 1l3 2l3 2l1 1l2 2l2 1l1 1l3 0l3 0l3 0l3 0l3 0l3 0l1 -1l2 -3l0 -1l0 -2l2 -3l1 -1l2 -2l1 -1l3 -1l3 -1l3 1l3 0l3 2l3 3l2 3l1 1l1 2l1 3l1 2l0 1l1 3l0 3l1 3l1 3l2 3l1 2l1 1l2 1l2 2l1 0l3 2l3 1l1 0l2 0l3 1l3 0l3 -1l3 -3l1 -3l0 -3l0 -3l0 -3l0 -3l0 -3l1 -3l0 -3l1 -1l2 -2l1 -1l3 -1l3 -1l3 -1l3 0l3 -1l3 0l3 0l3 1l3 0l2 1l1 0l3 1l3 1l1 1l2 1l3 1l1 1l2 1l3 2l1 0l2 1l3 1l2 1l1 0l3 1l3 0l3 1l3 0l3 0l3 0l3 1l1 0l2 0l3 1l3 1l1 1l2 1l2 2l1 2l0 1l1 3l0 3l-1 3l0 1l0 2l-1 3l0 3l0 3l0 3l0 3l0 3l0 3l-1 3l0 3l-1 3l0 3l1 3l0 3l1 3l1 2l0 1l1 3l1 3l0 3l0 3l1 3l1 3l2 3l2 3l1 1l2 2l1 1l2 2l1 1l3 2l3 1l3 1l3 -1l3 -1l1 0l2 -1l2 -2l1 -1l3 -2l3 -1l3 -1l1 -1l2 -2l0 -1l2 -3l1 -2l0 -1l2 -3l1 -3l1 -3l2 -3l1 -3l2 -2l1 -1l2 -3l3 -3l3 -2l3 -1l1 0l2 0l3 0l3 1l3 1l1 1l2 1l2 2l1 2l1 1l1 3l1 3l0 3l-1 3l-1 3l-1 3l-1 3l-2 2l-1 1l-2 2l-1 1l-2 1l-3 2l-3 1l-3 1l-3 1l-3 1l-3 1l-3 1l-3 2l-1 1l-2 2l-1 1l-1 3l0 3l-1 3l0 3l1 3l1 3l1 3l2 3l1 1l3 2l3 2l1 1l2 1l3 1l3 1l3 0l3 0l3 -1l3 -1l3 -1l1 0l2 -1l3 -2l3 -2l1 -1l2 -1l2 -2l1 -1l3 -2l3 -3l3 -3l3 -3l3 -3l3 -3l0 -1l2 -2l1 -2l1 -1l1 -3l1 -2l1 -1l2 -3l3 -3l3 -2l1 -1l2 -1l2 -2l1 -1l2 -2l1 -1l3 -2l1 0l2 -1l3 -1l3 -1l2 0l1 0l3 0l3 0l3 0l3 1l3 0l3 1l3 1l3 1l3 1l3 1l3 1l3 2l1 0l2 1l3 2l3 3l3 3l3 3l0 1l1 2l2 3l1 3l0 3l1 3l-1 3l-1 3l0 1l-2 2l-1 1l-2 2l-1 1l-3 2l-3 2l-1 1l-2 1l-2 2l-1 0l-3 3l-3 3l-2 3l0 3l0 3l0 3l2 3l0 1l3 2l1 0l2 1l3 -1l2 0l1 0l3 -1l3 -2l3 -2l1 -1l2 -2l2 -1l1 -2l2 -1l1 -2l1 -1l2 -2l1 -1l2 -2l3 -1l1 0l2 0l1 0l2 0l3 2l1 1l2 3l2 3l1 3l2 3l1 3l2 3l1 3l0 1l1 2l1 3l1 3l2 3l1 2l1 1l2 3l3 3l2 3l-1 3l-1 1l-1 2l-2 3l0 1l-1 2l-2 2l0 1l-3 3l-3 3l-1 0l-2 1l-3 2l-1 0l-2 1l-3 0l-3 1l-3 0l-3 0l-3 0l-3 -1l-3 -1l-2 0l-1 0l-3 -1l-3 -1l-2 -1l-1 -1l-3 -1l-2 -1l-1 -1l-3 -2l-1 0l-2 -2l-2 -1l-1 -1l-3 -2l-3 -3l-1 0l-2 -2l-1 -1l-2 -2l-2 -1l-1 -1l-3 -2l-3 -2l-2 -1l-1 -1l-3 -1l-2 -1l-1 -1l-3 -1l-2 -1l-1 -1l-3 -2l-1 -3l1 -3l0 -1l1 -2l0 -3l-1 -3l0 -1l-1 -2l-2 -2l-1 -1l-2 -1l-3 -2l-1 0l-2 -1l-3 -1l-3 -1l-3 0l-3 1l-3 2l-2 3l-1 1l-1 2l0 3l0 3l1 2l0 1l1 3l0 3l0 3l1 3l1 2l0 1l2 3l-1 3l-1 2l-1 1l-2 3l-2 3l-1 3l-1 3l0 3l-1 3l0 3l-1 3l-1 3l0 3l-1 3l0 3l-1 1l-1 2l-1 3l-1 2l0 1l-1 3l-1 3l0 3l-1 3l0 1l0 2l-1 3l0 3l-1 3l0 3l-1 3l-1 3l0 3l0 3l0 3l1 3l2 3l1 2l1 1l2 3l3 2l1 1l2 1l3 1l3 1l1 0l2 0l3 1l3 0l3 1l2 1l1 1l3 1l2 1l1 1l3 1l3 1l3 1l3 1l2 1l1 0l3 2l3 1l1 0l2 1l3 1l3 1l3 2l1 1l2 3l0 2l0 1l0 3l0 1l0 2l-1 3l0 3l0 3l-1 3l-1 2l0 1l-2 3l-1 2l-1 1l-2 3l-3 3l-3 2l-1 1l-2 1l-3 2l-3 2l-3 1l-3 1l-3 1l-2 1l-1 0l-3 1l-3 2l-3 3l-3 3l-3 3l-3 3l-3 3l-2 3l-1 3l0 1l0 2l-1 3l-1 3l-1 3l0 1l-1 2l0 3l-2 3l-2 3l-1 1l-3 2l-3 2l-3 0l-3 1l-3 0l-3 0l-3 0l-3 0l-3 1l-3 1l-1 1l-2 3l-2 3l-1 2l-1 1l-2 2l-1 1l-2 2l-1 1l-2 2l0 1l-3 3l-3 1l-3 1l-3 -1l-2 -1l-1 -1l-2 -2l-1 -1l-2 -2l-1 -1l-1 -2l-2 -2l-1 -1l-2 -3l-3 -3l0 -1l-2 -2l-1 -1l-2 -2l-1 -2l-1 -1l-2 -2l-1 -1l-2 -2l-1 -1l-2 -2l-1 -1l-2 -2l-1 -1l-2 -2l-1 -1l-2 -2l-1 -1l-2 -1l-2 -2l-1 -1l-2 -2l-1 -1l-3 -2l-3 -3l-1 0l-2 -2l-2 -1l-1 -1l-3 -2l-3 -2l-2 -1l-1 -1l-3 -2l-1 0l-2 -1l-3 -2l-3 -2l-3 -1l-3 -1l-3 -2l-1 0l-2 -1l-3 -1l-3 -1l-3 -1l-3 -1l-3 -1l-3 -1l-3 -1l-3 -1l-2 0l-1 0l-3 -1l-3 -1l-3 0l-3 -1l-3 -1l-3 0l-3 -1l-3 0l-3 -1l-3 0l-3 0l-3 -1l-3 0l-3 -1l-3 0l-3 0l-3 -1l-1 0l-2 0l-3 -1l-3 0l-3 0l-3 -1l-3 0l-3 -1l-3 0l-3 0l-3 -1l-3 0l-3 -1l-3 0l-3 -1l-3 0l-3 -1l-3 0l-3 -1l-3 0l-3 -1l-2 0l-1 0l-3 -1l-3 0l-3 -1l-3 -1l-1 0l-2 -1l-3 0l-3 -1l-3 -1l-1 0l-2 -1l-3 0l-3 -1l-2 -1l-1 0l-3 -1l-3 -1l-2 -1l-1 0l-3 -1l-3 -1l-2 -1l-1 -1l-3 -1l-3 -1l-3 -1l-3 -2l-1 0l-2 -1l-3 -1l-1 -1l-2 -1l-3 -2l-1 0l-2 -1l-3 -2l-3 -2l-2 -1l-1 0l-3 -2l-1 -1l-2 -1l-3 -2l-3 -2l-1 -1l-2 -2l-2 -1l-1 -1l-2 -2l-1 0l-3 -3l-3 -3l-3 -3l-3 -3l-3 -3l-3 -3l-2 -3l-1 -1l-2 -2l-1 -2l-1 -1l-2 -3l-2 -3l-1 -1l-1 -2l-2 -3l-1 -3l-2 -3l-1 -3l-2 -3l0 -1l-1 -2l-1 -3l-1 -3l-1 -3l-1 -3l-1 -3l0 -2l0 -1l-1 -3l0 -3l0 -3l-1 -3l0 -3l0 -3l0 -3l1 -3l0 -3l0 -3l1 -3l0 -1l1 -2l0 -3l1 -3l1 -2l0 -1l1 -3l2 -3l0 -1l1 -2l2 -3l2 -3l1 -2l0 -1l2 -3l1 -1l2 -2l1 -2l1 -1l2 -2l0 -1l3 -3l3 -3l3 -3l3 -3l3 -3l2 -3l1 0l2 -3l1 -1l2 -2l1 -1l2 -2l1 -1l2 -2l1 -1l2 -2l1 -1l2 -2l1 -2l1 -1l2 -2l1 -1l2 -3l2 -3l1 -1l1 -2l2 -3l2 -3l1 -2l0 -1l2 -3l1 -2l0 -1l1 -3l2 -3l0 -1l1 -2l0 -3l1 -3l1 -3l0 -3l0 -3l0 -3l-1 -3l0 -3l-1 -3l-1 -2l0 -1l-2 -3l-1 -1l-3 -2l-3 -2l-3 0l-3 -1l-2 0l-1 0l-3 -1l-3 -2l-1 -3l1 -3l2 -3l1 -3l0 -3l-1 -3l-2 -3l-3 -2l-3 -1l-3 0l-3 1l-3 1l-3 1l-3 2l-1 1l-2 2l-1 1l-1 3l-1 2l0 1l-1 3l0 3l0 3l-2 3l-3 2l-1 1l-2 1l-3 2l-3 2l-3 1l-3 2l-3 1l-3 1l-3 1l-2 1l-1 0l-3 1l-3 1l-3 1l-1 0l-2 1l-3 0l0 -1l0 -3l0 -3l0 -3l0 -3l0 -3l0 -3l0 -3l0 -3l0 -3l0 -3l0 -3l0 -3l0 -3l0 -3l0 -3l0 -3l0 -3l0 -3l0 -3l0 -3l0 -3l0 -3l0 -3l0 -3l3 0zM747 102l-3 0l-3 1l-3 1l-2 1l-1 0l-3 2l-2 1l-1 0l-3 2l-3 1l-3 2l-2 1l-1 1l-2 2l-1 1l-1 2l-1 3l-1 3l-1 3l-1 3l-1 1l-1 2l-2 2l-1 1l-2 3l-2 3l-1 3l1 3l1 3l1 1l1 2l1 3l1 1l1 2l1 3l1 2l1 1l1 3l1 2l1 1l2 3l3 3l1 0l2 1l3 1l3 0l3 0l3 -2l3 -3l2 -3l1 -2l0 -1l1 -3l0 -3l-1 -3l-1 -3l-2 -3l-2 -3l-1 -1l-3 -2l-3 -3l-2 -3l1 -3l1 -1l3 -1l3 -1l3 0l3 0l3 -1l3 -1l2 -1l1 -1l3 -2l3 -2l1 -1l2 -2l1 -1l2 -3l2 -3l1 -2l0 -1l1 -3l0 -3l-1 -2l0 -1l-3 -3l-3 -2l-3 0l-3 -1l-3 0zM966 207l-3 1l-2 2l-1 2l-1 1l0 3l1 3l2 3l1 1l3 2l3 -1l3 -2l2 -3l0 -3l-1 -3l-1 -3l-3 -3l-1 0l-2 0zM890 420l-2 2l-1 1l-2 3l-1 3l0 3l1 1l1 2l2 3l3 3l3 2l1 1l2 1l3 1l3 1l3 0l3 -1l3 -2l2 -3l0 -3l-1 -3l-1 -2l-1 -1l-1 -3l-1 -2l-1 -1l-1 -3l-1 -1l-2 -2l-1 -1l-3 -1l-3 0l-3 1l-3 1l-1 0zM843 102l2 0l1 0l3 2l1 1l1 3l-2 3l-3 2l-3 1l-3 -1l-3 -2l-1 -3l1 -3l0 -1l3 -2l1 0l2 0z" fill="#4997c5" fill-rule="evenodd"/>
<path d="M447 60l3 0l3 0l3 0l3 0l3 0l3 0l3 0l3 0l3 0l3 0l3 0l3 0l3 0l3 0l3 0l3 0l3 0l3 0l3 0l3 0l3 0l3 0l1 3l0 3l1 3l1 2l1 1l2 2l2 1l1 1l3 0l1 -1l2 -1l3 -2l3 -3l0 -1l2 -2l1 -3l2 -3l1 0l3 0l3 0l3 0l3 0l3 0l3 0l3 0l3 0l3 0l3 0l3 0l3 0l3 0l3 0l3 0l3 0l3 0l2 3l1 2l1 1l1 3l1 3l1 3l2 2l3 1l3 1l3 2l3 2l1 1l2 2l2 1l1 1l3 1l2 1l1 0l3 1l3 1l3 0l3 -1l3 0l1 -1l2 -1l2 -2l1 -1l1 -2l1 -3l1 -2l0 -1l1 -3l2 -2l1 -1l2 -1l3 -1l3 0l3 2l2 3l1 2l1 1l0 3l0 3l0 3l-1 3l1 3l0 3l2 3l3 3l3 3l3 2l3 1l3 1l3 0l3 1l3 1l2 0l1 0l3 1l3 2l1 0l2 3l0 2l0 1l0 1l0 2l-1 3l-2 3l-3 3l-3 2l-3 1l-3 1l-3 1l-1 1l0 3l0 3l1 3l0 1l0 2l3 3l1 0l2 1l3 2l3 2l1 1l2 2l1 1l2 3l1 3l2 3l0 1l1 2l1 3l1 1l2 2l1 1l3 2l3 2l3 0l3 0l3 0l3 -1l2 -1l1 -1l2 -2l1 -1l1 -2l1 -3l1 -3l0 -3l0 -3l-1 -3l-1 -3l-1 -2l-1 -1l-2 -3l0 -1l-2 -2l-1 -1l-3 -2l-2 -3l2 -2l2 -1l1 0l3 0l3 -1l3 -1l3 -1l1 0l2 -1l3 -1l2 -1l1 -1l3 -2l1 0l2 -2l2 -1l1 -1l3 -2l3 -2l2 -1l1 -1l2 -2l1 -2l1 -1l1 -3l1 -1l1 -2l2 -2l1 -1l2 -1l3 -1l3 -1l3 1l2 2l1 1l1 2l1 3l1 3l1 3l1 3l1 3l0 3l-1 3l0 3l-1 3l-1 3l0 3l1 3l0 3l1 3l1 1l1 2l1 3l0 3l0 3l0 3l1 3l0 2l0 1l1 3l1 3l1 2l1 1l1 3l1 2l0 1l2 3l1 2l0 1l2 3l1 3l3 3l3 2l2 1l1 0l3 2l3 1l3 2l2 1l1 0l3 3l3 2l1 1l2 2l1 1l2 1l2 2l1 1l3 2l3 2l3 1l3 2l3 1l2 0l1 0l3 1l3 0l3 0l3 0l3 0l2 -1l1 0l3 -1l3 -1l1 -1l2 -1l3 -1l1 -1l2 -1l3 -2l3 -3l2 -3l1 -1l2 -2l1 -1l2 -2l1 -1l2 -2l1 -1l2 -2l1 -2l1 -1l2 -2l1 -1l2 -2l0 -1l2 -3l1 -1l1 -2l1 -3l1 -1l1 -2l2 -2l0 -1l3 -2l1 -1l2 -2l2 -1l1 -1l3 -1l2 -1l1 0l3 -1l3 0l3 0l3 1l3 2l3 1l3 2l1 1l2 1l3 1l3 0l3 1l3 0l3 1l3 1l3 1l3 2l1 1l2 2l1 1l2 3l1 3l1 3l0 3l-1 3l-1 3l-2 3l-1 1l-2 2l-1 1l-2 2l-1 1l-3 2l-3 2l-2 1l-1 0l-3 2l-2 1l-1 2l-1 1l1 3l-1 3l-1 3l-1 3l-3 3l-3 0l-3 -3l-1 -3l1 -3l0 -1l1 -2l2 -2l1 -1l2 -2l1 -1l1 -3l-1 -3l0 -3l-1 -3l0 -3l0 -3l-1 -3l0 -3l-1 -3l0 -3l0 -3l-1 -1l-3 -2l-3 1l-2 2l-1 2l-1 1l-2 3l-3 3l-3 3l-2 3l-1 3l0 3l1 3l2 3l0 1l1 2l0 3l-1 2l-1 1l-2 0l-3 0l-3 -1l-3 -2l-1 0l-2 -1l-3 -1l-3 0l-3 1l-3 1l-3 2l-2 1l-1 2l-1 1l-1 3l-1 3l1 3l1 3l1 1l1 2l0 3l-1 3l0 3l0 3l1 3l0 3l-1 2l0 1l-2 3l-1 1l-1 2l-2 3l0 1l-1 2l-1 3l-1 3l0 2l0 1l-1 3l-1 3l-1 3l0 1l0 2l-1 3l-1 3l-1 3l0 1l-1 2l0 3l-1 3l0 3l0 3l0 3l0 3l-1 3l0 3l0 1l0 2l-2 3l-1 3l-2 3l-1 3l-2 3l-1 3l0 3l2 3l1 1l2 2l1 1l3 2l3 3l3 2l1 1l2 1l3 2l3 1l3 0l3 0l3 1l3 0l3 1l1 0l2 1l3 1l3 1l3 1l3 1l2 1l1 0l3 2l3 1l1 0l2 1l3 1l1 1l2 1l3 2l3 2l1 1l1 3l0 3l0 3l0 3l-1 3l-1 2l0 1l-2 3l-1 2l0 1l-3 3l0 1l-2 2l-1 1l-3 2l-3 2l-1 1l-2 1l-3 2l-3 1l-3 1l-2 1l-1 0l-3 1l-3 2l-2 3l-1 1l-1 2l-2 2l-1 1l-2 3l-3 3l-3 3l-2 3l-1 3l0 1l0 2l-1 3l0 3l-1 3l0 3l-1 2l0 1l-1 3l-2 3l-3 2l-1 1l-2 1l-3 1l-3 0l-3 0l-3 0l-3 -1l-3 -1l-3 -1l-2 -2l-1 -1l-2 -2l-1 -2l-1 -1l-2 -1l-2 1l-1 2l0 1l0 3l0 1l1 2l0 3l0 3l0 3l-1 3l-1 3l-2 2l-1 1l-2 3l-2 3l-1 1l-1 2l-2 1l-3 2l-3 -1l-2 -2l-1 -2l-1 -1l-1 -3l-1 -2l-1 -1l-1 -3l-1 -2l0 -1l-2 -3l-1 -3l-1 -3l-2 -3l0 -1l-1 -2l-2 -3l-2 -3l-1 -2l0 -1l-2 -3l-1 -2l-1 -1l-2 -3l0 -1l-1 -2l-2 -3l-2 -3l-1 -2l-1 -1l-1 -3l-1 -1l-1 -2l-2 -3l0 -1l-1 -2l-2 -2l0 -1l-2 -3l-1 -1l-1 -2l-2 -2l-1 -1l-2 -3l-3 -3l-3 -3l-3 -3l-3 -2l-1 -1l-2 -2l-2 -1l-1 -1l-3 -2l-3 -2l-3 -1l-3 -2l-3 -1l-3 -1l-3 -2l-1 0l-2 -1l-3 -1l-3 -1l-3 -1l-3 -1l-3 0l-2 -1l-1 0l-3 -1l-3 -1l-3 0l-3 -1l-3 0l-3 -1l-3 -1l-3 0l-3 -1l-3 0l-3 -1l-3 0l-3 0l-3 -1l-3 0l-3 -1l-2 0l-1 0l-3 -1l-3 0l-3 0l-3 -1l-3 0l-3 -1l-1 0l-2 0l-3 -1l-3 0l-3 -1l-3 0l-3 -1l-3 -1l-3 0l-3 -1l-3 -1l-1 0l-2 0l-3 -1l-3 -1l-3 -1l-1 0l-2 -1l-3 -1l-3 0l-2 -1l-1 0l-3 -1l-3 -2l-1 0l-2 -1l-3 -1l-3 -1l-3 -1l-3 -2l-1 0l-2 -1l-3 -2l-1 0l-2 -1l-3 -2l-1 0l-2 -1l-3 -2l-3 -2l-2 -1l-1 -1l-3 -2l-3 -2l-1 -1l-2 -1l-2 -2l-1 -1l-3 -2l-3 -3l-3 -3l-3 -3l-3 -3l-2 -3l-1 -1l-2 -2l-1 -2l-1 -1l-2 -3l-2 -3l-1 -2l-1 -1l-1 -3l-1 -1l-1 -2l-1 -3l-1 -2l-1 -1l-1 -3l-1 -3l0 -1l-1 -2l-1 -3l0 -3l-1 -3l-1 -3l0 -3l-1 -3l0 -3l0 -3l0 -3l0 -3l0 -3l0 -3l0 -3l0 -3l1 -3l0 -3l1 -3l0 -2l0 -1l1 -3l0 -3l1 -3l1 -3l0 -1l1 -2l0 -3l1 -3l1 -3l1 -3l1 -3l1 -3l1 -3l1 -3l1 -3l0 -1l1 -2l1 -3l0 -3l1 -2l0 -1l1 -3l1 -3l1 -3l0 -1l0 -2l1 -3l1 -3l0 -3l1 -3l0 -2l0 -1l0 -3l1 -3l0 -3l0 -3l0 -3l0 -3l0 -3l0 -3l-1 -3l0 -1l0 -2l-1 -3l-1 -3l-1 -3l0 -1l-1 -2l-2 -3l-3 -2l-1 -1l-2 -1l-3 -1l-3 -1l-3 0l-3 0l-3 -1l-1 -2l0 -3l1 -2l1 -1l1 -3l0 -3l-2 -3l-1 -3l-2 -2l-1 -1l-2 -1l-3 0l-3 -1l-3 1l-2 1l-1 0l-3 1l-3 1l-2 1l-1 0l-3 2l-1 1l-2 1l-2 2l-1 1l-3 2l-3 2l-3 1l-1 0l-2 1l-3 0l-3 0l-3 0l-3 -1l-3 -1l-3 -2l-3 -2l-1 -1l-2 -2l-1 -1l-2 -3l0 -1l-1 -2l-1 -3l0 -3l-1 -3l0 -3l0 -3l0 -3l0 -1l0 -2l0 -3l0 -3l3 0zM681 129l-1 3l1 1l2 -1l-2 -3zM878 363l-2 1l-3 2l-1 3l1 3l3 2l3 0l3 0l2 -2l1 -1l1 -2l0 -3l-1 -1l-3 -2l-1 0l-2 0l-1 0zM879 417l-3 2l-1 1l-2 2l-1 1l-1 3l0 3l1 3l1 2l0 1l3 3l3 3l3 2l1 1l2 1l3 2l1 0l2 1l3 1l2 1l1 0l3 1l3 0l3 0l2 -1l1 0l3 -3l3 -3l1 -3l0 -3l0 -3l-1 -2l0 -1l-2 -3l-1 -3l-2 -3l-1 -2l-1 -1l-2 -3l-1 0l-2 -1l-3 -1l-3 -1l-3 0l-3 0l-3 1l-3 0l-3 1l-3 1zM711 80l3 -1l3 0l3 -1l3 0l3 0l3 1l3 1l3 1l3 3l2 3l1 3l0 1l0 2l-2 3l-1 1l-2 2l-1 1l-3 2l-3 2l-1 1l-2 1l-3 1l-3 1l-1 0l-2 0l-2 0l-1 0l-3 -3l-1 -3l0 -3l-1 -3l0 -3l0 -3l1 -3l0 -3l0 -3l1 -1zM840 108l1 0l-1 2l0 -2zM879 150l3 0l3 2l1 1l2 2l1 1l1 3l1 3l0 3l-1 3l-2 3l-2 3l-1 1l-3 2l-3 1l-3 1l-3 1l-3 -1l-3 0l-2 -2l-1 -1l-1 -2l-1 -3l0 -3l1 -3l1 -3l1 -3l2 -2l1 -1l2 -2l1 -1l2 -2l3 -1l3 0zM1032 233l3 0l3 1l3 3l2 3l1 2l1 1l1 3l1 3l1 3l0 3l1 3l0 3l0 3l0 3l0 3l0 3l-1 3l-1 2l0 1l-3 3l-3 2l-2 1l-1 1l-3 0l-3 1l-3 0l-3 0l-3 0l-3 -1l-3 0l-1 -1l-2 -1l-3 -1l-2 -1l-1 -1l-3 -2l-3 -3l-3 -3l-2 -3l-1 -3l-1 -3l0 -3l1 -2l0 -1l3 -3l3 -2l2 -1l1 -1l3 -2l3 -2l1 -1l2 -1l2 -2l1 -1l3 -2l3 -3l1 0l2 -1l3 -2l3 -1z" fill="#3e8cbf" fill-rule="evenodd"/>
<path d="M465 60l3 0l3 0l3 0l3 0l3 0l3 0l3 0l3 0l3 0l3 0l3 0l3 0l3 0l3 0l1 0l1 3l1 2l0 1l1 3l2 3l0 1l1 2l2 2l1 1l2 2l3 0l3 0l3 -2l3 -2l1 -1l2 -2l2 -1l1 -2l1 -1l2 -2l1 -1l2 -2l1 -1l2 -2l1 -1l2 0l3 0l3 0l3 0l3 0l3 0l3 0l3 0l3 0l3 0l3 0l3 0l3 3l3 3l2 3l1 2l1 1l2 3l2 3l1 1l3 2l3 2l2 1l1 1l2 2l1 1l2 2l1 1l2 2l1 1l2 2l1 1l3 2l3 2l3 1l3 0l3 0l3 0l2 0l1 0l3 0l3 -1l3 0l3 0l3 1l3 1l3 2l3 2l2 1l1 0l3 2l3 1l3 1l3 0l3 0l3 0l3 0l3 0l3 1l2 1l1 1l2 2l1 2l0 1l0 1l0 2l-3 3l-3 2l-3 0l-3 -1l-3 -1l-3 -1l-3 1l-2 3l0 3l0 3l1 3l0 3l1 3l1 3l1 3l1 2l1 1l2 2l1 1l2 1l3 1l1 1l2 1l3 1l2 1l1 1l3 2l2 3l1 2l0 1l1 3l1 3l1 2l1 1l2 3l3 3l1 0l2 1l3 1l3 1l1 0l2 0l3 0l1 0l2 0l3 -2l2 -1l1 -1l2 -2l1 -1l1 -2l1 -3l1 -3l0 -2l0 -1l0 -3l0 -1l0 -2l-1 -3l-1 -3l-1 -1l-1 -2l-2 -3l-2 -3l-1 -3l-1 0l1 -1l1 -2l2 0l3 -2l3 -1l1 0l2 -1l3 -1l3 -1l3 -1l3 -2l1 0l2 -1l3 -2l1 0l2 -1l3 -2l1 0l2 -1l2 -2l1 -1l3 -2l3 -2l3 -1l3 0l1 0l2 1l3 2l2 3l1 2l0 1l0 3l-1 3l-1 3l-1 3l0 1l0 2l0 1l0 2l1 3l1 3l1 2l0 1l2 3l0 3l0 3l0 3l0 3l0 3l1 3l0 2l0 1l1 3l0 3l1 3l1 3l1 3l0 3l1 3l1 2l0 1l2 3l1 2l0 1l2 3l1 1l2 2l1 1l2 2l1 0l3 3l1 0l2 2l2 1l1 1l3 1l1 1l2 1l2 2l1 0l3 2l1 1l2 1l3 2l1 0l2 1l3 1l2 1l1 0l3 1l3 1l3 1l1 0l2 0l3 1l3 0l3 0l3 1l3 -1l3 0l3 -1l3 -1l3 -1l2 -1l1 -1l3 -1l3 0l3 0l3 2l1 0l2 2l0 1l2 3l1 1l1 2l1 3l0 3l-1 3l0 3l-1 3l0 1l-1 2l-1 3l-1 3l0 1l-1 2l-1 3l-1 3l0 1l-1 2l-1 3l-1 2l0 1l-2 3l-1 3l0 1l-1 2l-1 3l0 3l-1 3l-1 3l0 3l0 3l0 3l1 3l0 3l0 3l1 3l0 3l0 3l-1 3l-3 2l-2 1l-1 0l-3 1l-3 1l-3 0l-3 -1l-3 0l-2 -1l-1 -1l-3 -1l-3 -1l-3 -2l-2 -1l-1 -1l-3 -1l-3 -1l-3 -1l-3 0l-3 0l-3 0l-3 0l-3 1l-3 0l-3 0l-3 0l-3 0l-3 0l-3 0l-2 0l-1 0l-3 0l-3 0l-3 -1l-3 0l-3 0l-3 0l-3 0l-3 0l-3 0l-3 1l-3 1l-3 0l-3 1l-2 1l-1 0l-3 1l-3 2l-1 0l-2 1l-3 1l-3 1l-1 0l-2 1l-3 0l-3 1l-3 1l-3 1l-3 0l-3 1l-3 0l-3 1l-3 0l-3 1l-3 0l-3 0l-3 1l-3 0l-3 0l-3 0l-3 0l-3 0l-3 0l-3 0l-3 0l-3 0l-3 0l-3 0l-3 -1l-3 0l-3 0l-3 -1l-1 0l-2 0l-3 -1l-3 -1l-3 0l-3 -1l-1 0l-2 -1l-3 0l-3 -1l-3 -1l-3 -1l-3 -1l-2 -1l-1 0l-3 -1l-3 -2l-1 0l-2 -1l-3 -2l-1 0l-2 -1l-3 -2l-1 0l-2 -1l-3 -2l-3 -2l-1 -1l-2 -1l-3 -2l-3 -3l-3 -2l-1 -1l-2 -2l-1 -1l-2 -2l-1 -1l-2 -2l-1 -1l-2 -2l-1 -1l-2 -3l-3 -3l0 -1l-2 -2l-1 -2l-1 -1l-1 -3l-1 -1l-1 -2l-2 -3l0 -1l-1 -2l-2 -3l0 -1l-1 -2l-1 -3l-1 -3l-1 -3l-1 -3l-1 -3l0 -2l0 -1l-1 -3l-1 -3l0 -3l0 -3l-1 -3l0 -1l0 -2l0 -3l-1 -3l0 -3l0 -3l0 -3l0 -3l0 -3l0 -3l0 -3l0 -3l0 -3l-1 -3l0 -3l0 -3l0 -3l0 -3l0 -3l0 -3l0 -3l0 -3l0 -3l0 -3l-1 -3l0 -3l0 -3l-1 -3l0 -3l0 -3l-1 -3l0 -3l-1 -3l0 -1l0 -2l-1 -3l-1 -3l-1 -3l0 -2l0 -1l-1 -3l0 -3l-1 -3l-1 -3l-1 -3l-2 -3l-3 -3l-1 0l-2 -1l-3 -2l-1 0l-2 -1l-3 0l-3 -1l-3 0l-1 -1l1 -1l1 -2l1 -3l-1 -3l-1 -1l-1 -2l-2 -3l0 -1l-1 -2l-2 -3l0 -1l-3 0l-3 1l-3 0l-1 0l-2 1l-3 0l-3 1l-3 0l-3 1l-1 0l-2 0l-3 1l-3 1l-3 1l-3 0l-3 0l-2 0l-1 0l-3 -1l-2 -2l-1 -1l-2 -2l-1 -2l0 -1l-1 -3l0 -3l0 -3l0 -3l1 -3l-1 -3l0 -3l1 0zM657 74l3 -1l2 2l1 2l0 1l0 1l-1 2l-2 2l-3 1l-3 -3l0 -3l1 -3l2 -1zM717 84l3 -1l3 0l3 1l3 2l1 1l2 3l0 2l0 1l-1 3l-2 3l-3 3l-1 0l-2 1l-3 1l-3 -1l-2 -1l-1 -2l-1 -1l0 -3l-1 -3l1 -3l1 -3l0 -1l3 -2zM876 155l3 0l2 1l1 1l2 2l1 2l0 1l1 3l-1 2l0 1l-3 3l-3 2l-3 1l-3 0l-3 -2l-1 -1l-2 -3l0 -3l1 -3l2 -3l3 -3l1 0l2 -1zM951 179l3 0l3 0l3 1l3 3l1 3l0 3l-1 1l-1 2l-1 3l-1 1l-2 2l-1 1l-3 2l-3 3l-1 0l-2 2l-1 1l-2 3l-2 3l-1 1l-3 2l-3 1l-3 0l-3 1l-3 1l-3 2l-1 1l-2 1l-1 -1l0 -3l1 -1l3 -1l1 -1l2 -3l1 -3l2 -2l2 -1l1 0l3 -3l2 -3l1 -3l0 -1l0 -2l1 -3l1 -3l1 -2l1 -1l2 -3l3 -2l2 -1l1 -1zM993 195l3 0l3 2l1 1l2 2l0 1l2 3l0 3l-1 3l-1 3l-2 3l-1 1l-3 2l-3 2l-3 0l-3 0l-2 -2l-1 -1l-1 -2l-1 -3l0 -3l0 -3l1 -3l1 -3l2 -3l1 -1l3 -2l3 0zM951 224l1 1l-1 0l-1 0l1 -1zM1029 239l3 0l2 1l1 0l3 3l2 3l1 3l0 1l0 2l1 3l-1 3l0 2l0 1l-1 3l-1 3l-1 2l-1 1l-2 3l-3 2l-2 1l-1 0l-3 1l-3 0l-3 -1l-1 0l-2 -1l-3 -1l-1 -1l-2 -1l-1 -2l-2 -3l-1 -3l0 -3l0 -3l1 -1l1 -2l2 -3l3 -3l3 -3l3 -3l1 0l2 -2l3 -1l3 -1zM891 380l3 -1l3 -1l3 0l3 2l3 1l3 2l3 1l3 1l3 1l3 1l3 0l3 0l1 0l2 0l3 0l3 1l3 1l3 1l1 0l2 1l3 1l3 1l3 1l3 1l3 1l3 2l2 1l1 2l1 1l2 3l1 3l0 3l-1 3l-1 3l-1 3l-1 1l-1 2l-2 2l-1 1l-2 2l-1 1l-2 2l-1 1l-2 1l-3 2l-3 2l-2 1l-1 1l-3 1l-1 1l-2 1l-3 2l-3 3l-2 3l-1 1l-1 2l-2 2l-1 1l-2 2l-1 1l-2 2l-2 1l-1 2l-1 1l0 3l0 3l0 3l-1 3l0 3l0 3l0 3l-1 3l-1 3l-2 2l-2 1l-1 1l-3 0l-3 0l-3 0l-2 -1l-1 0l-3 -2l-2 -1l-1 0l-3 -3l-3 -3l-3 -2l-3 -1l-3 -1l-3 0l-3 1l-3 0l-3 0l-3 0l-3 -2l-1 -1l-2 -3l-2 -3l-1 -3l0 -2l0 -1l0 -3l0 -3l0 -1l1 -2l1 -3l1 -1l2 -2l1 -1l3 -1l3 -1l3 0l3 0l3 0l3 0l3 1l3 1l3 0l2 1l1 0l3 1l3 1l3 1l2 0l1 0l3 1l3 0l3 0l1 -1l2 -2l0 -1l2 -3l1 -2l1 -1l2 -3l1 -3l0 -3l0 -3l-1 -2l0 -1l-2 -3l-1 -3l-1 -3l-2 -3l0 -1l-2 -2l-1 -2l-1 -1l-2 -1l-3 -2l-2 0l-1 0l-3 -1l-3 0l-3 -1l-3 0l-2 -1l-1 0l-3 -2l-2 -1l-1 -1l-2 -2l-1 -1l-1 -2l0 -3l0 -3l1 -1l1 -2l2 -2l1 -1l2 -2l2 -1l1 -1l3 -1l1 -1l2 -1zM861 503l3 0l3 1l3 3l1 3l-1 1l-2 2l-1 1l-3 2l-2 3l-1 3l0 3l-1 -3l0 -3l0 -3l-1 -3l0 -3l0 -3l2 -3l0 -1z" fill="#3783bb" fill-rule="evenodd"/>
<path d="M474 61l1 -1l2 0l3 0l3 0l3 0l3 0l3 0l3 0l3 0l3 0l1 0l2 2l0 1l2 3l1 2l0 1l1 3l1 3l1 3l-2 3l-1 1l-3 1l-3 0l-3 0l-3 0l-3 0l-3 0l-3 0l-3 0l-3 -1l-3 -1l-3 -3l-2 -3l0 -3l0 -3l0 -3l1 -3l1 -2zM558 62l3 -1l3 0l3 0l3 1l3 1l1 0l2 1l3 2l3 2l1 1l2 2l1 1l2 2l1 1l2 2l0 1l3 3l1 0l2 2l1 1l2 1l2 2l1 1l2 2l1 2l1 1l2 3l0 1l1 2l1 3l0 3l-1 3l-1 2l0 1l-2 3l-1 1l-1 2l-1 3l1 3l1 2l1 1l2 2l3 0l3 0l3 -1l1 -1l2 -2l0 -1l2 -3l1 -1l2 -2l1 -1l3 -1l3 0l3 0l3 0l3 0l3 1l3 0l3 1l3 1l3 1l3 1l3 -1l3 0l3 1l3 2l0 1l1 3l0 3l0 3l-1 3l0 2l0 1l-1 3l0 3l0 3l0 3l1 2l0 1l2 3l1 1l2 2l1 1l3 2l1 0l2 1l3 1l3 0l3 0l3 1l3 1l2 2l1 1l1 2l0 3l1 3l0 3l1 2l1 1l2 3l3 3l1 0l2 1l3 1l2 1l1 0l3 1l3 1l3 0l3 0l3 -1l3 -1l3 -2l1 -1l2 -3l1 -3l1 -3l1 -3l1 -3l0 -3l-1 -3l0 -2l0 -1l-1 -3l-1 -3l-1 -1l-1 -2l-2 -3l-1 -3l0 -3l1 -1l3 -2l1 0l2 -1l3 0l3 -1l3 -1l3 -1l3 -1l3 -1l1 0l2 -1l3 -1l3 -1l1 0l2 -1l3 -1l3 -1l3 -1l3 -1l3 0l1 2l-1 1l-2 2l0 3l0 3l0 3l0 3l1 3l1 2l0 1l2 3l1 3l1 3l0 3l0 3l0 3l0 3l0 3l0 3l0 3l0 3l0 3l1 3l0 3l0 3l0 3l0 3l0 3l1 3l0 3l0 1l0 2l1 3l0 3l1 3l1 3l1 3l1 3l1 3l1 3l-1 2l-1 1l-2 1l-3 0l-3 1l-3 1l-3 1l-3 1l-3 1l-3 1l-3 2l-1 0l-2 1l-3 2l-3 3l-3 3l-3 3l-3 3l-2 3l-1 1l-2 2l-1 2l-1 1l-2 2l0 1l-3 3l-3 3l-2 3l-1 1l-3 2l-3 3l-3 2l-1 1l-2 1l-3 2l-3 2l-2 1l-1 0l-3 2l-3 1l-1 0l-2 1l-3 1l-3 0l-3 1l-1 0l-2 0l-3 1l-3 0l-3 0l-3 0l-3 0l-3 0l-3 0l-3 -1l-2 0l-1 0l-3 -1l-3 0l-3 -1l-3 -1l-3 -1l-3 -1l-2 -1l-1 0l-3 -2l-3 -1l-3 -1l-3 -2l-3 -2l-2 -1l-1 -1l-3 -2l-3 -2l-1 -1l-2 -2l-1 -1l-2 -2l-2 -1l-1 -1l-1 -2l-2 -2l-1 -1l-2 -2l-1 -1l-2 -3l-2 -3l-1 -1l-1 -2l-2 -3l-2 -3l-1 -2l0 -1l-2 -3l-1 -2l0 -1l-2 -3l-1 -3l-1 -3l-1 -3l-1 -2l0 -1l-2 -3l-1 -3l0 -2l0 -1l-1 -3l-1 -3l-1 -3l-1 -3l-1 -3l-1 -3l0 -1l-1 -2l0 -3l-1 -3l-1 -2l0 -1l-1 -3l-1 -3l-1 -3l-1 -3l-1 -3l-1 -2l0 -1l-1 -3l-2 -3l0 -1l-1 -2l-1 -3l-1 -3l-1 -3l-1 -3l-1 -2l0 -1l-1 -3l-2 -3l0 -1l-1 -2l-1 -3l-1 -2l-1 -1l-1 -3l-1 -3l0 -3l-1 -3l0 -3l0 -3l-1 -3l-1 -3l-2 -3l-1 -2l-1 -1l-2 -1l-3 -2l-3 -2l-3 -1l-3 -1l-2 -2l-1 -1l-1 -2l-2 -3l-3 -3l0 -3l2 -3l1 -1l3 -2l3 -3l3 -3l3 -2l1 -1l2 -2l2 -1l1 -1l3 -2l3 -2l3 -1l3 -1zM720 89l3 0l1 1l2 3l0 3l-3 3l-3 1l-2 -1l-1 -1l-1 -2l0 -3l1 -2l1 -1l2 -1zM684 117l3 -2l3 -1l3 2l1 1l1 3l-2 3l-3 1l-3 -1l-3 -2l-1 -1l1 -3zM873 161l3 -1l3 0l2 2l0 3l-2 3l-3 1l-3 -1l-2 -3l1 -3l1 -1zM948 186l3 -2l3 0l3 2l1 3l-1 2l-1 1l-2 2l-2 1l-1 0l-1 0l-2 -1l-1 -2l-1 -3l2 -3zM993 203l3 1l3 3l0 1l0 2l0 1l0 2l-2 3l-1 1l-3 1l-3 -1l-2 -1l-1 -3l0 -3l0 -1l1 -2l2 -3l3 -1zM810 243l3 -1l3 -1l3 0l2 2l1 3l3 3l3 2l1 1l2 1l3 1l3 0l3 1l3 0l3 0l3 -1l3 0l3 0l3 0l3 0l3 1l3 1l3 1l3 1l1 0l2 0l3 1l3 1l3 0l3 1l2 0l1 0l3 2l1 1l2 3l1 3l1 3l0 3l1 3l-2 3l-1 1l-2 2l-1 1l-2 2l-1 1l-2 2l-1 2l-1 1l-2 2l-1 1l-2 2l-3 1l-3 0l-3 -1l-3 -1l-3 -1l-1 0l-2 -1l-3 -1l-3 -1l-1 0l-2 -1l-3 -1l-1 -1l-2 -1l-3 -1l-2 -1l-1 0l-3 -2l-3 -1l-1 0l-2 -1l-3 -1l-3 -1l-1 0l-2 -1l-3 -1l-2 -1l0 -3l-1 -3l0 -3l-1 -3l0 -3l-1 -3l-1 -3l-1 -3l-2 -3l-2 -3l-1 -3l0 -3zM1023 245l3 -1l3 0l3 1l1 1l2 3l0 2l0 1l0 3l0 1l0 2l-2 3l-1 2l-1 1l-2 2l-3 1l-3 1l-3 -1l-3 -2l-1 -1l-2 -3l0 -1l0 -2l0 -1l0 -2l2 -3l1 -1l2 -2l1 -1l2 -2l1 -1zM894 389l3 -1l3 0l3 1l3 1l1 0l2 1l3 1l3 0l3 0l3 0l3 0l3 0l3 -1l3 1l3 0l3 1l1 0l2 1l3 1l3 1l3 2l3 1l2 0l1 1l3 1l1 1l1 3l0 3l0 3l-1 3l-1 2l0 1l-2 3l-1 1l-2 2l-1 1l-2 2l-1 1l-2 2l-1 1l-2 2l-1 0l-3 3l-1 0l-2 1l-3 2l-3 2l-2 1l-1 0l-3 2l-2 -2l-1 -1l0 -2l-2 -3l-1 -2l-1 -1l-1 -3l-1 -3l0 -1l-1 -2l-1 -3l-1 -3l-1 -3l-2 -2l-1 -1l-2 -3l-1 0l-2 -1l-3 -1l-3 0l-3 0l-3 -1l-1 0l-2 -1l-2 -2l-1 -2l0 -1l0 -3l0 -1l1 -2l2 -2l1 -1l2 -1zM921 446l3 -1l1 2l0 3l-1 1l-1 2l-2 1l-3 -1l-1 -3l1 -1l2 -2l1 -1zM876 460l3 -1l3 0l3 0l3 1l3 0l3 1l3 0l3 1l1 0l2 1l3 1l1 1l2 1l1 2l2 3l0 2l0 1l1 3l0 3l0 3l0 3l-1 3l0 1l-2 2l-1 1l-3 0l-3 -1l-1 0l-2 -1l-3 -1l-1 -1l-2 -1l-2 -2l-1 -1l-3 -2l-3 -3l-3 -2l-1 -1l-2 -1l-3 -2l-3 -3l-1 -3l0 -3l1 -2l0 -1l3 -2z" fill="#2f79b5" fill-rule="evenodd"/>
<path d="M483 66l3 -2l3 0l3 -1l3 1l3 1l2 1l1 1l2 2l0 3l-1 3l-1 2l-3 0l-3 0l-3 -1l-3 0l-3 -1l-3 0l-3 -1l-1 -2l1 -3l3 -3zM561 68l3 0l3 0l3 1l1 0l2 1l3 1l2 1l1 1l3 2l3 2l1 1l2 2l1 1l2 2l1 1l2 1l2 2l1 1l3 2l0 1l2 2l1 3l1 3l-1 3l0 2l0 1l-1 3l-2 3l-2 3l-1 3l0 1l-1 2l0 3l0 3l0 3l1 3l1 3l2 3l2 3l1 1l2 2l1 1l3 1l2 1l1 1l3 0l3 0l3 0l2 -1l1 0l3 -1l3 -2l3 -1l3 -2l3 -1l3 -2l2 0l1 0l3 -1l3 0l3 0l2 1l0 3l0 3l1 3l0 3l0 1l0 2l1 3l1 3l1 3l2 3l1 2l1 1l2 2l2 1l1 1l3 1l3 1l1 0l2 0l3 0l3 -1l3 0l3 -1l2 -1l1 0l3 -1l3 0l1 1l-1 3l0 1l-1 2l0 3l1 3l0 1l1 2l2 3l3 2l1 1l2 1l3 2l1 0l2 1l3 0l3 1l3 1l3 2l3 1l3 1l3 1l3 -1l3 -1l3 -2l0 -1l3 -3l0 -1l1 -2l1 -3l1 -2l0 -1l1 -3l0 -3l1 -3l0 -3l0 -3l-1 -3l0 -3l-1 -2l0 -1l-1 -3l-2 -3l-3 -3l-2 -3l2 -2l3 -1l3 0l3 -1l3 0l3 -1l3 0l3 -1l3 0l3 -1l3 0l3 1l1 0l2 1l2 2l1 1l1 2l2 3l1 3l1 3l1 2l0 1l1 3l0 3l1 3l0 3l0 3l-1 3l0 3l0 3l-1 3l0 2l0 1l-1 3l0 3l-1 3l0 3l-1 2l0 1l-2 3l-1 2l-1 1l-2 3l-2 3l-1 1l-1 2l0 3l-1 3l0 3l0 3l-1 3l-1 3l-2 2l-3 1l-3 0l-3 1l-3 0l-3 0l-3 1l-3 1l-1 0l-2 1l-3 1l-1 1l-2 1l-3 2l-3 2l-2 1l-1 1l-3 2l-3 2l-2 1l-1 1l-3 1l-2 1l-1 1l-3 1l-2 1l-1 0l-3 1l-3 1l-3 1l-1 0l-2 0l-3 1l-3 0l-3 0l-3 0l-3 0l-3 -1l-3 0l-3 -1l-3 -1l-3 -1l-1 0l-2 -1l-3 -1l-2 -1l-1 -1l-3 -1l-1 -1l-2 -1l-2 -2l-1 -1l-3 -2l-3 -3l-3 -3l-3 -3l-2 -3l-1 -1l-2 -2l-1 -2l-1 -1l-2 -3l-2 -3l-1 -3l-2 -3l-1 -2l0 -1l-2 -3l-1 -2l0 -1l-2 -3l-1 -2l0 -1l-2 -3l-1 -3l-2 -3l-1 -3l-1 -3l-2 -3l-2 -3l-1 -2l0 -1l-2 -3l-1 -1l-1 -2l-2 -2l0 -1l-3 -3l-3 -3l-3 -3l-3 -2l-1 -1l-2 -1l-3 -2l-3 -3l-3 -3l-3 -3l0 -1l-1 -2l-2 -3l-2 -3l-1 -2l-1 -1l-2 -2l0 -1l-3 -3l-2 -3l-1 -3l0 -1l0 -2l1 -3l0 -3l0 -3l0 -3l0 -3l-1 -3l0 -2l0 -1l-3 -3l-3 -2l-3 -1l-3 -1l-3 -2l-1 0l-2 -1l-2 -2l-1 -1l-2 -2l0 -3l0 -3l2 -3l2 -3l1 -1l3 -1l2 -1l1 0l3 -2l2 -1l1 0l3 -2l3 -1l3 -1zM720 95l1 1l-1 1l-1 -1l1 -1zM690 117l1 0l-1 3l-1 -3l1 0zM666 129l3 -1l0 1l0 2l-1 1l-2 1l-2 -1l2 -3zM993 210l3 3l-3 2l-2 -2l2 -3zM1026 248l2 1l0 3l-1 3l-1 2l-2 1l-1 0l-2 0l-1 0l0 -3l0 -1l2 -2l1 -1l1 -2l2 -1zM933 396l1 0l2 0l3 1l3 1l1 1l2 1l3 2l3 3l2 3l0 3l-1 3l-1 2l0 1l-2 3l-1 1l-2 2l-1 1l-2 2l-1 1l-2 2l-1 1l-3 2l-3 2l-3 1l-3 -1l-3 -2l-2 -3l-1 -3l0 -2l0 -1l-1 -3l0 -3l-1 -3l-1 -3l0 -1l-1 -2l0 -3l1 -3l3 -3l3 -1l3 -1l3 -1l1 0l2 0zM897 398l1 1l-1 1l-1 -1l1 -1zM894 468l3 -1l3 1l1 0l2 1l3 2l0 1l1 2l1 3l0 3l0 3l-1 3l-1 1l-3 0l-2 -1l-1 0l-3 -2l-1 -1l-2 -1l-2 -2l-1 -2l-1 -1l-1 -3l0 -3l2 -2l1 -1l2 0z" fill="#2870b1" fill-rule="evenodd"/>
<path d="M564 75l3 0l2 0l1 0l3 1l3 2l1 0l2 1l3 2l3 3l3 2l1 1l2 1l2 2l1 0l3 3l1 3l0 3l-1 3l-2 3l-1 1l-2 2l-1 2l-1 1l-2 2l-1 1l-2 2l-1 1l-2 2l-1 1l-2 3l-1 0l-2 2l-3 -1l0 -1l-1 -3l0 -3l-1 -3l0 -3l-1 -2l0 -1l-1 -3l-1 -3l-1 -2l-1 -1l-2 -3l-3 -3l-3 -2l-2 -1l-1 -1l-2 -2l-1 -2l0 -1l0 -1l1 -2l2 -2l1 -1l2 -1l3 -2l1 0l2 0zM759 152l3 -1l3 0l3 0l3 1l3 1l3 2l1 1l2 3l1 3l1 3l0 3l1 3l0 3l-1 3l0 3l-1 3l-1 3l0 1l-1 2l0 3l-1 3l-1 3l-2 3l-1 2l-1 1l-2 1l-3 1l-3 0l-3 -2l-2 -3l-1 -3l0 -3l-1 -3l0 -3l0 -3l0 -3l-1 -3l0 -3l0 -3l0 -3l-1 -3l0 -2l0 -1l-1 -3l-1 -3l0 -3l2 -3l3 -1zM693 200l3 0l3 0l3 0l2 1l1 1l3 1l2 1l1 1l3 1l1 1l2 3l1 3l-1 3l0 2l0 1l-2 3l-1 2l-1 1l-2 2l-1 1l-2 2l-3 1l-3 1l-3 0l-3 0l-3 0l-2 -1l-1 0l-3 -2l-1 -1l-2 -2l-1 -1l-2 -3l0 -1l0 -2l-1 -3l1 -2l0 -1l2 -3l1 -2l1 -1l2 -2l0 -1l3 -2l2 -1l1 -1zM930 401l3 -1l3 1l2 1l1 1l2 2l1 1l1 2l0 3l-1 3l0 1l-1 2l-2 3l-3 3l0 1l-2 2l-1 1l-3 2l-3 1l-1 -1l-1 -3l0 -3l1 -3l0 -3l0 -3l-1 -3l0 -3l1 -3l1 -1l2 -2l1 -1zM900 474l1 0l1 3l-2 2l-2 -2l1 -3l1 0z" fill="#2065ab" fill-rule="evenodd"/>
<rect x="512" y="508" width="338" height="198" fill="#f3f5f6"/>
<path d="M515 508l3 0l3 0l3 0l3 0l3 0l3 0l3 0l3 0l3 0l3 0l3 0l3 0l3 0l3 0l3 0l3 0l3 0l3 0l3 0l3 0l3 0l3 0l3 0l3 0l3 0l3 0l3 0l3 0l3 0l3 0l3 0l3 0l3 0l3 0l3 0l3 0l3 0l3 0l3 0l3 0l3 0l3 0l3 0l3 0l3 0l3 0l3 0l3 0l3 0l3 0l3 0l3 0l3 0l3 0l3 0l3 0l3 0l3 0l3 0l3 0l3 0l3 0l3 0l3 0l3 0l3 0l3 0l3 0l3 0l3 0l3 0l3 0l3 0l3 0l3 0l3 0l3 0l3 0l3 0l3 0l3 0l3 0l3 0l3 0l3 0l3 0l3 0l3 0l3 0l3 0l3 0l3 0l3 0l3 0l3 0l3 0l3 0l3 0l3 0l3 0l3 0l3 0l3 0l3 0l3 0l3 0l3 0l3 0l3 0l3 0l3 0l3 0l0 3l0 3l0 3l0 3l0 3l0 3l0 3l0 3l0 3l0 3l0 3l0 3l0 3l0 3l0 3l0 3l0 3l0 3l0 3l0 3l0 3l0 3l0 3l0 3l0 3l0 3l0 3l0 3l0 3l0 3l0 3l0 3l0 3l0 3l0 3l0 3l0 3l0 3l0 3l0 3l0 3l0 3l0 3l0 3l0 3l0 3l0 3l0 3l0 3l0 3l0 3l0 3l0 3l0 3l0 3l0 3l0 3l0 3l0 3l0 3l0 3l0 3l0 3l0 3l0 3l0 3l-3 0l-3 0l-3 0l-3 0l-3 0l-3 0l-3 0l-3 0l-3 0l-3 0l-3 0l-3 0l-3 0l-3 0l-1 -3l-2 -3l-2 -3l-1 -1l-2 -2l-1 -1l-3 -1l-1 -1l-2 -1l-3 0l-1 1l-1 3l-1 3l1 3l0 3l1 3l-2 0l-3 0l-3 0l-3 0l-3 0l-3 0l-3 0l-3 0l-3 0l-3 0l-3 0l-3 0l-3 0l-3 0l-3 0l-3 0l-3 0l-3 0l-3 0l-3 0l-3 0l-3 0l-3 0l-3 0l-3 0l-3 0l-3 0l-3 0l-3 0l-3 0l-3 0l-3 0l-3 0l-3 0l-3 0l-3 0l-3 0l-3 0l-3 0l-3 0l-3 0l-3 0l-3 0l-3 0l-3 0l-3 0l-3 0l-3 0l-3 0l-3 0l-3 0l-3 0l-3 0l-3 0l-3 0l-3 0l-3 0l-3 0l-3 0l-3 0l-3 0l-3 0l-3 0l-3 0l-3 0l-3 0l-3 0l-3 0l-3 0l-3 0l-3 0l-3 0l-3 0l-3 0l-3 0l-3 0l-3 0l-3 0l-3 0l-3 0l-3 0l-3 0l-3 0l-3 0l-3 0l-3 0l-3 0l-3 0l-3 0l-3 0l-3 0l-3 0l-3 0l0 -3l0 -3l0 -3l0 -3l0 -3l0 -3l0 -3l0 -3l0 -3l0 -3l0 -3l0 -3l0 -3l0 -3l0 -3l0 -3l0 -3l0 -3l0 -3l0 -3l0 -3l0 -3l0 -3l0 -3l0 -3l0 -3l0 -3l0 -3l0 -3l0 -3l0 -3l0 -3l0 -3l0 -3l0 -3l0 -3l0 -3l0 -3l0 -3l0 -3l0 -3l0 -3l0 -3l0 -3l0 -3l0 -3l0 -3l0 -3l0 -3l0 -3l0 -3l0 -3l0 -3l0 -3l0 -3l0 -3l0 -3l0 -3l0 -3l0 -3l0 -3l0 -3l0 -3l0 -3l0 -3l0 -3l3 0z" fill="#eaf1f5" fill-rule="evenodd"/>
<path d="M515 508l3 0l3 0l3 0l3 0l3 0l3 0l3 0l3 0l3 0l3 0l3 0l3 0l3 0l3 0l3 0l3 0l3 0l3 0l3 0l3 0l3 0l3 0l3 0l3 0l3 0l3 0l3 0l3 0l3 0l3 0l3 0l3 0l2 0l-1 3l-1 3l0 3l0 3l0 1l1 2l2 3l2 3l1 1l3 2l3 0l3 0l1 0l2 -1l3 -2l2 -3l1 -1l1 -2l1 -3l1 -2l0 -1l1 -3l0 -3l0 -3l2 0l3 0l3 0l3 0l3 0l3 0l3 0l3 0l3 0l3 0l3 0l3 0l3 0l3 0l3 0l3 0l3 0l3 0l3 0l3 0l3 0l3 0l3 0l3 0l3 0l3 0l3 0l3 0l3 0l3 0l3 0l3 0l3 0l3 0l3 0l3 0l3 0l3 0l3 0l3 0l3 0l3 0l3 0l3 0l3 0l3 0l3 0l3 0l3 0l3 0l3 0l3 0l3 0l3 0l3 0l3 0l3 0l3 0l3 0l3 0l3 0l3 0l3 0l3 0l3 0l3 0l3 0l3 0l3 0l3 0l3 0l0 3l0 3l0 3l0 3l0 3l0 3l0 3l0 3l0 3l0 3l0 3l0 3l0 3l0 3l0 3l0 3l0 3l0 3l0 3l0 3l0 3l0 3l0 3l0 3l0 3l0 3l0 3l0 3l0 3l0 3l0 3l0 3l0 3l0 3l0 3l0 3l0 3l0 3l0 3l0 3l0 3l0 3l0 3l0 3l0 3l0 3l0 3l0 3l0 3l0 3l0 3l0 3l0 3l0 3l0 3l0 3l0 3l0 3l0 3l0 3l0 3l0 3l0 3l0 3l0 3l0 3l-3 0l-3 0l-3 0l-3 0l-3 0l-3 0l-3 0l-3 0l-3 0l-2 0l-1 -1l-2 -2l-1 -1l-2 -2l-1 -1l-2 -2l-1 0l-3 -3l-3 -2l-2 -1l-1 0l-3 -2l-3 -1l-3 0l-3 1l-3 2l-2 3l0 3l-1 3l0 3l0 3l-3 0l-3 0l-3 0l-3 0l-3 0l-3 0l-3 0l-3 0l-3 0l-3 0l-3 0l-3 0l-3 0l-3 0l-3 0l-3 0l-3 0l-3 0l-3 0l-3 0l-3 0l-3 0l-3 0l-3 0l-3 0l-3 0l-3 0l-3 0l-3 0l-3 0l-3 0l-3 0l-3 0l-3 0l-3 0l-3 0l-3 0l-3 0l-3 0l-3 0l-3 0l-3 0l-3 0l-3 0l-3 0l-3 0l-3 0l-3 0l-3 0l-3 0l-3 0l-3 0l-3 0l-3 0l-3 0l-3 0l-3 0l-3 0l-3 0l-3 0l-3 0l-3 0l-3 0l-3 0l-3 0l-3 0l-3 0l-3 0l-3 0l-3 0l-3 0l-3 0l-3 0l-3 0l-3 0l-3 0l-3 0l-3 0l-3 0l-3 0l-3 0l-3 0l-3 0l-3 0l-3 0l-3 0l-3 0l-3 0l-3 0l-3 0l-3 0l0 -3l0 -3l0 -3l0 -3l0 -3l0 -3l0 -3l0 -3l0 -3l0 -3l0 -3l0 -3l0 -3l0 -3l0 -3l0 -3l0 -3l0 -3l0 -3l0 -3l0 -3l0 -3l0 -3l0 -3l0 -3l0 -3l0 -3l0 -3l0 -3l0 -3l0 -3l0 -3l0 -3l0 -3l0 -3l0 -3l0 -3l0 -3l0 -3l0 -3l0 -3l0 -3l0 -3l0 -3l0 -3l0 -3l0 -3l0 -3l0 -3l0 -3l0 -3l0 -3l0 -3l0 -3l0 -3l0 -3l0 -3l0 -3l0 -3l0 -3l0 -3l0 -3l0 -3l0 -3l0 -3l0 -3l3 0z" fill="#e3edf3" fill-rule="evenodd"/>
<path d="M515 508l3 0l3 0l3 0l3 0l3 0l3 0l3 0l3 0l3 0l3 0l3 0l3 0l3 0l3 0l3 0l3 0l3 0l3 0l3 0l3 0l3 0l3 0l3 0l3 0l3 0l3 0l3 0l3 0l3 0l2 0l0 3l0 3l0 3l0 3l0 3l1 2l1 1l2 1l2 2l1 1l2 2l1 2l1 1l2 2l3 0l3 0l3 1l2 0l1 0l1 0l2 -1l3 -2l3 -3l3 -3l3 -3l0 -1l2 -2l1 -2l0 -1l2 -3l1 -3l1 -3l1 -3l1 0l3 0l3 0l3 0l3 0l3 0l3 0l3 0l3 0l3 0l3 0l3 0l3 0l3 0l3 0l3 0l3 0l3 0l3 0l3 0l3 0l3 0l3 0l3 0l3 0l3 0l3 0l3 0l3 0l3 0l3 0l3 0l3 0l3 0l3 0l3 0l3 0l3 0l3 0l3 0l3 0l3 0l3 0l3 0l3 0l3 0l3 0l3 0l3 0l3 0l3 0l3 0l3 0l3 0l3 0l3 0l3 0l3 0l3 0l3 0l3 0l3 0l3 0l3 0l3 0l3 0l3 0l0 3l0 3l0 3l0 3l0 3l0 3l0 3l0 3l0 3l0 3l0 3l0 3l0 3l0 3l0 3l0 3l0 3l0 3l0 3l0 3l0 3l0 3l0 3l0 3l0 3l0 3l0 3l0 3l0 3l0 3l0 3l0 3l0 3l0 3l0 3l0 3l0 3l0 3l0 3l0 3l0 3l0 3l0 3l0 3l0 3l0 3l0 3l0 3l0 3l0 3l0 3l0 3l0 3l0 3l0 3l0 3l0 3l0 3l0 3l0 3l0 3l0 3l0 3l0 3l0 3l0 3l-3 0l-3 0l-2 0l-1 0l-3 -2l-2 -1l-1 0l-3 -2l-2 -1l-1 -1l-3 -1l-2 -1l-1 -1l-3 -1l-2 -1l-1 -1l-3 -1l-2 -1l-1 -1l-3 -1l-3 -1l-3 -1l-3 -1l-3 0l-3 0l-3 1l-2 1l-1 0l-2 3l-1 1l-1 2l-1 3l-1 3l0 1l0 2l-1 3l-2 0l-3 0l-3 0l-3 0l-3 0l-3 0l-3 0l-3 0l-3 0l-3 0l-3 0l-3 0l-3 0l-3 0l-3 0l-3 0l-3 0l-3 0l-3 0l-3 0l-3 0l-3 0l-3 0l-3 0l-3 0l-3 0l-3 0l-3 0l-3 0l-3 0l-3 0l-3 0l-3 0l-3 0l-3 0l-3 0l-3 0l-3 0l-3 0l-3 0l-3 0l-3 0l-3 0l-3 0l-3 0l-3 0l-3 0l-3 0l-3 0l-3 0l-3 0l-3 0l-3 0l-3 0l-3 0l-3 0l-3 0l-3 0l-3 0l-3 0l-3 0l-3 0l-3 0l-3 0l-3 0l-3 0l-3 0l-3 0l-3 0l-3 0l-3 0l-3 0l-3 0l-3 0l-3 0l-3 0l-3 0l-3 0l-3 0l-3 0l-3 0l-3 0l-3 0l-3 0l-3 0l-3 0l-3 0l-3 0l-3 0l-3 0l0 -3l0 -3l0 -3l0 -3l0 -3l0 -3l0 -3l0 -3l0 -3l0 -3l0 -3l0 -3l0 -3l0 -3l0 -3l0 -3l0 -3l0 -3l0 -3l0 -3l0 -3l0 -3l0 -3l0 -3l0 -3l0 -3l0 -3l0 -3l0 -3l0 -3l0 -3l0 -3l0 -3l0 -3l0 -3l0 -3l0 -3l0 -3l0 -3l0 -3l0 -3l0 -3l0 -3l0 -3l0 -3l0 -3l0 -3l0 -3l0 -3l0 -3l0 -3l0 -3l0 -3l0 -3l0 -3l0 -3l0 -3l0 -3l0 -3l0 -3l0 -3l0 -3l0 -3l0 -3l0 -3l0 -3l3 0z" fill="#dae9f2" fill-rule="evenodd"/>
<path d="M515 508l3 0l3 0l3 0l3 0l3 0l3 0l3 0l3 0l3 0l3 0l3 0l3 0l3 0l3 0l3 0l3 0l3 0l3 0l3 0l3 0l3 0l3 0l3 0l3 0l3 0l3 0l3 0l1 0l1 3l1 3l0 2l0 1l1 3l1 3l1 3l3 3l3 2l1 1l2 2l1 1l2 2l1 1l2 1l3 0l3 1l3 1l1 0l2 1l3 0l1 -1l2 -1l3 -2l3 -2l2 -1l1 -1l2 -2l1 -1l2 -2l1 -1l2 -2l1 -1l1 -2l2 -3l2 -3l1 -1l1 -2l2 -3l2 -3l1 0l3 0l3 0l3 0l3 0l3 0l3 0l3 0l3 0l3 0l3 0l3 0l3 0l3 0l3 0l3 0l3 0l3 0l3 0l3 0l3 0l3 0l3 0l3 0l3 0l3 0l3 0l3 0l3 0l3 0l3 0l3 0l3 0l3 0l3 0l3 0l3 0l3 0l3 0l3 0l3 0l3 0l3 0l3 0l3 0l3 0l3 0l3 0l3 0l3 0l3 0l3 0l3 0l3 0l3 0l3 0l3 0l3 0l3 0l3 0l3 0l3 0l3 0l0 3l0 3l0 3l0 3l0 3l0 3l0 3l0 3l0 3l0 3l0 3l0 3l0 3l0 3l0 3l0 3l0 3l0 3l0 3l0 3l0 3l0 3l0 3l0 3l0 3l0 3l0 3l0 3l0 3l0 3l0 3l0 3l0 3l0 3l0 3l0 3l0 3l0 3l0 3l0 3l0 3l0 3l0 3l0 3l0 3l0 3l0 3l0 3l0 3l0 3l0 3l0 3l0 3l0 3l0 3l0 3l0 3l0 3l0 3l0 3l0 3l0 3l0 1l-3 0l-3 -1l-1 0l-2 0l-3 -1l-3 -1l-3 0l-3 -1l-3 -1l-3 -1l-3 0l-2 -1l-1 0l-3 -1l-3 -1l-3 -1l-3 -1l-3 0l-3 0l-3 0l-3 0l-3 1l-3 1l-2 2l-1 1l-1 2l-2 3l-2 3l-1 3l0 1l-1 2l-1 3l-1 0l-3 0l-3 0l-3 0l-3 0l-3 0l-3 0l-3 0l-3 0l-3 0l-3 0l-3 0l-3 0l-3 0l-3 0l-3 0l-3 0l-3 0l-3 0l-3 0l-3 0l-3 0l-3 0l-3 0l-3 0l-3 0l-3 0l-3 0l-3 0l-3 0l-3 0l-3 0l-3 0l-3 0l-3 0l-3 0l-3 0l-3 0l-3 0l-3 0l-3 0l-3 0l-3 0l-3 0l-3 0l-3 0l-3 0l-3 0l-3 0l-3 0l-3 0l-3 0l-3 0l-3 0l-3 0l-3 0l-3 0l-3 0l-3 0l-3 0l-3 0l-3 0l-3 0l-3 0l-3 0l-3 0l-3 0l-3 0l-3 0l-3 0l-3 0l-3 0l-3 0l-3 0l-3 0l-3 0l-3 0l-3 0l-3 0l-3 0l-3 0l-3 0l-3 0l-3 0l-3 0l-3 0l-3 0l-3 0l-3 0l0 -3l0 -3l0 -3l0 -3l0 -3l0 -3l0 -3l0 -3l0 -3l0 -3l0 -3l0 -3l0 -3l0 -3l0 -3l0 -3l0 -3l0 -3l0 -3l0 -3l0 -3l0 -3l0 -3l0 -3l0 -3l0 -3l0 -3l0 -3l0 -3l0 -3l0 -3l0 -3l0 -3l0 -3l0 -3l0 -3l0 -3l0 -3l0 -3l0 -3l0 -3l0 -3l0 -3l0 -3l0 -3l0 -3l0 -3l0 -3l0 -3l0 -3l0 -3l0 -3l0 -3l0 -3l0 -3l0 -3l0 -3l0 -3l0 -3l0 -3l0 -3l0 -3l0 -3l0 -3l0 -3l0 -3l3 0z" fill="#d2e6f0" fill-rule="evenodd"/>
<path d="M515 508l3 0l3 0l3 0l3 0l3 0l3 0l3 0l3 0l3 0l3 0l3 0l3 0l3 0l3 0l3 0l3 0l3 0l3 0l3 0l3 0l3 0l3 0l3 0l3 0l3 0l2 0l1 3l0 1l1 2l1 3l1 2l0 1l2 3l1 2l0 1l3 3l3 3l1 0l2 2l1 1l2 2l1 1l2 1l3 2l1 0l2 0l3 1l3 1l3 1l2 0l1 0l3 -1l3 -1l1 -1l2 -1l3 -1l2 -1l1 -1l3 -1l1 -1l2 -2l2 -1l1 -1l2 -2l1 -2l1 -1l2 -2l1 -1l2 -3l3 -3l3 -3l0 -1l2 -2l1 -1l2 -2l1 0l3 0l3 0l3 0l3 0l3 0l3 0l3 0l3 0l3 0l3 0l3 0l3 0l3 0l3 0l3 0l3 0l3 0l3 0l3 0l3 0l3 0l3 0l3 0l3 0l3 0l3 0l3 0l3 0l3 0l3 0l3 0l3 0l3 0l3 0l3 0l3 0l3 0l3 0l3 0l3 0l3 0l3 0l3 0l3 0l3 0l3 0l3 0l3 0l3 0l3 0l3 0l3 0l3 0l3 0l3 0l3 0l3 0l3 0l0 3l0 3l0 3l0 3l0 3l0 3l0 3l0 3l0 3l0 3l0 3l0 3l0 3l0 3l0 3l0 3l0 3l0 3l0 3l0 3l0 3l0 3l0 3l0 3l0 3l0 3l0 3l0 3l0 3l0 3l0 3l0 3l0 3l0 3l0 3l0 3l0 3l0 3l0 3l0 3l0 3l0 3l0 3l0 3l0 3l0 3l0 3l0 3l0 3l0 3l0 3l0 3l0 3l0 3l0 3l0 3l0 3l0 3l0 2l-3 0l-3 0l-3 0l-3 0l-3 0l-3 0l-3 0l-3 0l-3 0l-3 -1l-3 0l-3 -1l-3 0l-3 0l-3 -1l-3 0l-3 0l-3 0l-3 1l-1 0l-2 1l-3 1l-1 1l-2 2l-1 1l-2 2l-1 1l-1 3l-1 1l-1 2l-2 3l0 1l-1 2l-2 3l-3 0l-3 0l-3 0l-3 0l-3 0l-3 0l-3 0l-3 0l-3 0l-3 0l-3 0l-3 0l-3 0l-3 0l-3 0l-3 0l-3 0l-3 0l-3 0l-3 0l-3 0l-3 0l-3 0l-3 0l-3 0l-3 0l-3 0l-3 0l-3 0l-3 0l-3 0l-3 0l-3 0l-3 0l-3 0l-3 0l-3 0l-3 0l-3 0l-3 0l-3 0l-3 0l-3 0l-3 0l-3 0l-3 0l-3 0l-3 0l-3 0l-3 0l-3 0l-3 0l-3 0l-3 0l-3 0l-3 0l-3 0l-3 0l-3 0l-3 0l-3 0l-3 0l-3 0l-3 0l-3 0l-3 0l-3 0l-3 0l-3 0l-3 0l-3 0l-3 0l-3 0l-3 0l-3 0l-3 0l-3 0l-3 0l-3 0l-3 0l-3 0l-3 0l-3 0l-3 0l-3 0l-3 0l-3 0l0 -3l0 -3l0 -3l0 -3l0 -3l0 -3l0 -3l0 -3l0 -3l0 -3l0 -3l0 -3l0 -3l0 -3l0 -3l0 -3l0 -3l0 -3l0 -3l0 -3l0 -3l0 -3l0 -3l0 -3l0 -3l0 -3l0 -3l0 -3l0 -3l0 -3l0 -3l0 -3l0 -3l0 -3l0 -3l0 -3l0 -3l0 -3l0 -3l0 -3l0 -3l0 -3l0 -3l0 -3l0 -3l0 -3l0 -3l0 -3l0 -3l0 -3l0 -3l0 -3l0 -3l0 -3l0 -3l0 -3l0 -3l0 -3l0 -3l0 -3l0 -3l0 -3l0 -3l0 -3l0 -3l0 -3l3 0zM796 583l1 0l0 -1l-1 1z" fill="#c5dfec" fill-rule="evenodd"/>
<path d="M515 508l3 0l3 0l3 0l3 0l3 0l3 0l3 0l3 0l3 0l3 0l3 0l3 0l3 0l3 0l3 0l3 0l3 0l3 0l3 0l3 0l3 0l3 0l3 0l2 0l1 2l0 1l2 3l1 2l1 1l2 3l0 1l1 2l2 2l1 1l2 3l3 3l1 0l2 2l1 1l2 1l2 2l1 1l3 2l3 1l3 1l3 1l1 0l2 0l3 1l3 0l3 0l3 -1l1 0l2 -1l3 0l3 -1l3 -1l1 0l2 -1l3 -2l3 -3l3 -2l1 -1l2 -2l1 -1l2 -2l1 -1l2 -2l1 -1l2 -2l2 -1l1 -1l3 -2l3 -3l1 0l2 -2l1 -1l2 -1l2 -2l1 0l3 0l3 0l3 0l3 0l3 0l3 0l3 0l3 0l3 0l3 0l3 0l3 0l3 0l3 0l3 0l3 0l3 0l3 0l3 0l3 0l3 0l3 0l3 0l3 0l3 0l3 0l3 0l3 0l3 0l3 0l3 0l3 0l3 0l3 0l3 0l3 0l3 0l3 0l3 0l3 0l3 0l3 0l3 0l3 0l3 0l3 0l3 0l3 0l3 0l3 0l3 0l3 0l3 0l0 3l0 3l0 3l0 3l0 3l0 3l0 3l0 3l0 3l0 3l0 3l0 3l0 3l0 3l0 3l0 3l0 3l0 3l0 3l0 3l0 3l0 3l0 3l0 3l0 3l0 3l0 3l0 3l0 3l0 3l0 3l0 3l0 3l0 3l0 3l0 3l0 3l0 3l0 3l0 3l0 3l0 3l0 3l0 3l0 3l0 3l0 3l0 3l0 3l0 3l0 3l0 3l0 3l0 3l0 3l-1 0l-2 1l-3 1l-3 0l-2 1l-1 0l-3 1l-3 0l-3 1l-3 0l-3 0l-3 1l-3 0l-3 -1l-3 0l-3 0l-3 0l-3 0l-3 0l-3 1l-2 0l-1 0l-3 2l-3 1l-3 3l-3 3l-3 3l-2 3l-1 2l-1 1l-2 3l-2 3l-1 2l-1 1l-2 0l-3 0l-3 0l-3 0l-3 0l-3 0l-3 0l-3 0l-3 0l-3 0l-3 0l-3 0l-3 0l-3 0l-3 0l-3 0l-3 0l-3 0l-3 0l-3 0l-3 0l-3 0l-3 0l-3 0l-3 0l-3 0l-3 0l-3 0l-3 0l-3 0l-3 0l-3 0l-3 0l-3 0l-3 0l-3 0l-3 0l-3 0l-3 0l-3 0l-3 0l-3 0l-3 0l-3 0l-3 0l-3 0l-3 0l-3 0l-3 0l-3 0l-3 0l-3 0l-3 0l-3 0l-3 0l-3 0l-3 0l-3 0l-3 0l-3 0l-3 0l-3 0l-3 0l-3 0l-3 0l-3 0l-3 0l-3 0l-3 0l-3 0l-3 0l-3 0l-3 0l-3 0l-3 0l-3 0l-3 0l-3 0l-3 0l-3 0l-3 0l-3 0l-3 0l-3 0l-3 0l-3 0l0 -3l0 -3l0 -3l0 -3l0 -3l0 -3l0 -3l0 -3l0 -3l0 -3l0 -3l0 -3l0 -3l0 -3l0 -3l0 -3l0 -3l0 -3l0 -3l0 -3l0 -3l0 -3l0 -3l0 -3l0 -3l0 -3l0 -3l0 -3l0 -3l0 -3l0 -3l0 -3l0 -3l0 -3l0 -3l0 -3l0 -3l0 -3l0 -3l0 -3l0 -3l0 -3l0 -3l0 -3l0 -3l0 -3l0 -3l0 -3l0 -3l0 -3l0 -3l0 -3l0 -3l0 -3l0 -3l0 -3l0 -3l0 -3l0 -3l0 -3l0 -3l0 -3l0 -3l0 -3l0 -3l0 -3l3 0zM783 571l1 3l1 2l1 1l2 2l1 1l2 2l0 1l3 2l1 1l2 1l3 -1l1 0l2 -2l1 -1l1 -3l-2 -3l-3 -2l-1 -1l-2 -1l-3 -1l-2 -1l-1 0l-3 -1l-3 -1l-2 2z" fill="#b8d8e9" fill-rule="evenodd"/>
<path d="M515 508l3 0l3 0l3 0l3 0l3 0l3 0l3 0l3 0l3 0l3 0l3 0l3 0l3 0l3 0l3 0l3 0l3 0l3 0l3 0l3 0l3 0l1 0l2 2l0 1l3 3l2 3l1 1l1 2l2 2l1 1l2 2l0 1l3 3l3 2l1 1l2 2l1 1l2 1l2 2l1 1l3 2l3 2l3 1l1 0l2 1l3 0l3 1l3 1l3 0l3 0l3 -1l3 0l3 0l3 0l3 0l3 0l3 -1l1 -1l2 -1l2 -2l1 -1l2 -2l1 -1l2 -2l1 -1l3 -2l3 -3l1 0l2 -1l3 -2l3 -2l3 -1l3 -2l3 -1l3 -1l3 -1l1 -1l2 -1l3 -1l1 -1l2 -1l3 -2l3 -3l3 0l3 0l3 0l3 0l3 0l3 0l3 0l3 0l3 0l3 0l3 0l3 0l3 0l3 0l3 0l3 0l3 0l3 0l3 0l3 0l3 0l3 0l3 0l3 0l3 0l3 0l3 0l3 0l3 0l3 0l3 0l3 0l3 0l3 0l3 0l3 0l3 0l3 0l3 0l3 0l3 0l3 0l3 0l3 0l3 0l3 0l0 3l0 3l0 3l0 3l0 3l0 3l0 3l0 3l0 3l0 3l0 3l0 3l0 3l0 3l0 3l0 3l0 3l0 3l0 3l0 3l0 3l0 3l0 3l0 3l0 3l0 3l0 3l0 3l0 3l0 3l0 3l0 3l0 3l0 3l0 3l0 3l0 3l0 3l0 3l0 3l0 3l0 3l0 3l0 3l0 3l0 3l0 3l0 3l0 3l0 3l0 1l-2 2l-1 1l-3 2l-3 2l-2 1l-1 1l-3 1l-2 1l-1 0l-3 2l-3 1l-2 0l-1 0l-3 1l-3 0l-3 1l-3 0l-3 0l-3 0l-3 0l-3 0l-3 1l-1 0l-2 1l-3 1l-1 1l-2 1l-3 2l-3 3l-3 3l-2 3l-1 1l-2 2l-1 2l-1 1l-2 2l-1 1l-2 3l-3 3l-3 0l-3 0l-3 0l-3 0l-3 0l-3 0l-3 0l-3 0l-3 0l-3 0l-3 0l-3 0l-3 0l-3 0l-3 0l-3 0l-3 0l-3 0l-3 0l-3 0l-3 0l-3 0l-3 0l-3 0l-3 0l-3 0l-3 0l-3 0l-3 0l-3 0l-3 0l-3 0l-3 0l-3 0l-3 0l-3 0l-3 0l-3 0l-3 0l-3 0l-3 0l-3 0l-3 0l-3 0l-3 0l-3 0l-3 0l-3 0l-3 0l-3 0l-3 0l-3 0l-3 0l-3 0l-3 0l-3 0l-3 0l-3 0l-3 0l-3 0l-3 0l-3 0l-3 0l-3 0l-3 0l-3 0l-3 0l-3 0l-3 0l-3 0l-3 0l-3 0l-3 0l-3 0l-3 0l-3 0l-3 0l-3 0l-3 0l-3 0l-3 0l-3 0l-3 0l-3 0l0 -3l0 -3l0 -3l0 -3l0 -3l0 -3l0 -3l0 -3l0 -3l0 -3l0 -3l0 -3l0 -3l0 -3l0 -3l0 -3l0 -3l0 -3l0 -3l0 -3l0 -3l0 -3l0 -3l0 -3l0 -3l0 -3l0 -3l0 -3l0 -3l0 -3l0 -3l0 -3l0 -3l0 -3l0 -3l0 -3l0 -3l0 -3l0 -3l0 -3l0 -3l0 -3l0 -3l0 -3l0 -3l0 -3l0 -3l0 -3l0 -3l0 -3l0 -3l0 -3l0 -3l0 -3l0 -3l0 -3l0 -3l0 -3l0 -3l0 -3l0 -3l0 -3l0 -3l0 -3l0 -3l0 -3l3 0zM781 568l-1 3l-1 3l1 3l1 3l1 1l3 1l1 1l2 1l3 2l3 2l3 1l3 1l3 0l3 -1l2 0l1 0l3 -2l2 -1l1 -2l1 -1l1 -3l0 -3l-2 -3l-3 -2l-2 -1l-1 -1l-3 0l-3 -1l-3 0l-2 -1l-1 0l-3 -2l-3 -1l-3 0l-3 1l-3 1l-1 1z" fill="#a9d1e5" fill-rule="evenodd"/>
<path d="M515 508l3 0l3 0l3 0l3 0l3 0l3 0l3 0l3 0l3 0l3 0l3 0l3 0l3 0l3 0l3 0l3 0l3 0l3 0l3 0l2 3l1 1l2 2l1 1l2 2l1 1l2 2l1 1l2 2l1 0l3 3l3 3l3 3l1 0l2 2l1 1l2 1l3 2l3 2l1 1l2 1l3 2l3 1l3 1l3 1l2 0l1 0l3 1l3 0l3 1l3 -1l3 0l3 1l3 0l3 1l3 1l3 1l2 1l1 0l1 -3l2 -3l2 -3l1 -1l2 -2l1 -1l3 -2l3 -2l1 -1l2 -1l3 -1l2 -1l1 0l3 -1l3 -1l3 0l3 -1l2 0l1 0l3 0l3 0l3 0l3 0l3 0l3 0l3 -1l3 -2l3 -3l1 -3l2 -3l2 -3l1 -2l1 -1l2 -3l3 0l3 0l3 0l3 0l3 0l3 0l3 0l3 0l3 0l3 0l3 0l3 0l3 0l3 0l3 0l3 0l3 0l3 0l3 0l3 0l3 0l3 0l3 0l3 0l3 0l3 0l3 0l3 0l3 0l3 0l3 0l3 0l3 0l3 0l3 0l3 0l3 0l3 0l3 0l0 3l0 3l0 3l0 3l0 3l0 3l0 3l0 3l0 3l0 3l0 3l0 3l0 3l0 3l0 3l0 3l0 3l0 2l-3 -1l-3 0l-2 -1l-1 0l-3 -1l-3 -1l-2 -1l-1 0l-3 -1l-3 -2l-1 0l-2 -1l-3 0l-3 -1l-3 -1l-2 0l-1 0l-3 1l-1 2l-2 3l-2 3l-1 1l-2 2l-1 0l-1 0l-2 -2l-3 -1l-3 1l-3 1l-2 1l-1 0l-3 2l-1 1l-2 2l0 1l-2 3l-1 2l-1 1l-1 3l0 3l2 3l3 2l3 1l3 0l1 0l2 1l3 1l1 1l2 1l3 2l1 0l2 1l3 1l2 1l1 0l3 1l3 1l3 1l3 1l3 0l3 1l3 0l3 1l1 0l2 1l3 1l2 1l1 0l3 3l3 3l2 3l1 3l0 1l1 2l0 3l0 3l1 3l-1 3l0 3l-1 3l0 1l-1 2l-1 3l-1 3l-1 3l-2 3l-2 3l-1 1l-2 2l-1 1l-2 2l-1 1l-3 2l-3 2l-1 1l-2 1l-3 1l-3 1l-3 1l-3 0l-3 0l-3 0l-3 0l-3 1l-3 0l-1 1l-2 1l-3 1l-1 1l-2 1l-2 2l-1 1l-2 2l-1 1l-2 2l-1 1l-2 2l-1 1l-2 2l-1 1l-2 2l-1 1l-2 2l-1 1l-2 2l-1 1l-3 2l-3 3l-3 0l-3 0l-3 0l-3 0l-3 0l-3 0l-3 0l-3 0l-3 0l-3 0l-3 0l-3 0l-3 0l-3 0l-3 0l-3 0l-3 0l-3 0l-3 0l-3 0l-3 0l-3 0l-3 0l-3 0l-3 0l-3 0l-3 0l-3 0l-3 0l-3 0l-3 0l-3 0l-3 0l-3 0l-3 0l-3 0l-3 0l-3 0l-3 0l-3 0l-3 0l-3 0l-3 0l-3 0l-3 0l-3 0l-3 0l-3 0l-3 0l-3 0l-3 0l-3 0l-3 0l-3 0l-3 0l-3 0l-3 0l-3 0l-3 0l-3 0l-3 0l-3 0l-3 0l-3 0l-3 0l-3 0l-3 0l-3 0l-3 0l-3 0l-3 0l-3 0l-3 0l-3 0l-3 0l-3 0l-3 0l-3 0l-3 0l-3 0l-3 0l-3 0l0 -3l0 -3l0 -3l0 -3l0 -3l0 -3l0 -3l0 -3l0 -3l0 -3l0 -3l0 -3l0 -3l0 -3l0 -3l0 -3l0 -3l0 -3l0 -3l0 -3l0 -3l0 -3l0 -3l0 -3l0 -3l0 -3l0 -3l0 -3l0 -3l0 -3l0 -3l0 -3l0 -3l0 -3l0 -3l0 -3l0 -3l0 -3l0 -3l0 -3l0 -3l0 -3l0 -3l0 -3l0 -3l0 -3l0 -3l0 -3l0 -3l0 -3l0 -3l0 -3l0 -3l0 -3l0 -3l0 -3l0 -3l0 -3l0 -3l0 -3l0 -3l0 -3l0 -3l0 -3l0 -3l0 -3l3 0zM789 526l-1 1l-3 2l-3 3l3 1l3 0l3 0l3 0l3 1l2 -2l-2 -3l0 -1l-3 -2l-3 -1l-2 1z" fill="#9bc9e0" fill-rule="evenodd"/>
<path d="M515 508l3 0l3 0l3 0l3 0l3 0l3 0l3 0l3 0l3 0l3 0l3 0l3 0l3 0l3 0l3 0l2 0l1 1l3 2l3 3l3 2l1 1l2 1l2 2l1 1l3 2l3 2l1 1l2 1l2 2l1 1l3 2l3 2l1 1l2 1l3 2l3 2l1 1l2 1l3 2l3 2l3 1l1 0l2 0l3 1l3 0l3 1l3 1l3 0l3 0l3 1l3 0l3 1l2 1l1 1l3 1l2 1l1 0l3 0l1 0l2 -2l1 -1l1 -3l1 -1l1 -2l2 -2l1 -1l2 -1l3 -2l3 -2l3 -1l2 0l1 0l3 -1l3 0l3 0l3 1l3 0l3 1l3 0l3 1l1 1l2 1l3 2l3 2l1 1l2 2l2 1l1 1l3 1l1 1l2 1l3 2l3 2l1 1l2 1l2 2l1 1l2 2l1 1l3 2l1 0l2 0l3 -2l0 -1l1 -3l-1 -3l0 -1l-2 -2l-1 -1l-2 -2l-1 -2l0 -1l-1 -3l-1 -3l-1 -3l0 -1l-1 -2l-1 -3l-1 -2l0 -1l-1 -3l0 -3l1 -3l1 -3l2 -3l2 -3l1 -1l3 -2l3 -2l3 -1l1 0l2 0l3 0l3 0l2 0l1 0l3 2l1 1l2 2l1 1l1 3l1 2l0 1l1 3l0 3l0 3l0 3l1 3l1 1l3 2l3 3l3 3l0 1l1 2l0 3l0 3l-1 1l-1 2l-2 2l-1 1l-2 2l-1 1l-2 2l-1 1l-2 2l-1 1l-2 3l-3 3l-3 3l-2 3l-1 1l-1 2l-1 3l0 3l0 3l-1 1l-1 2l0 3l0 3l1 0l3 0l1 -3l1 -3l1 -2l0 -1l3 -2l3 -1l2 0l1 0l3 0l3 -1l3 0l3 1l3 1l3 2l3 3l3 3l1 0l2 3l3 3l2 3l1 1l2 2l1 1l2 2l1 1l2 2l1 0l3 3l3 3l3 3l0 1l2 2l1 3l1 3l1 3l0 3l0 3l0 3l-1 3l-1 2l0 1l-2 3l-1 2l-1 1l-2 3l-3 3l-3 1l-3 2l-1 0l-2 1l-3 0l-3 0l-3 0l-3 -1l-3 1l-3 1l-1 1l-2 1l-2 2l-1 1l-2 2l-1 1l-2 2l-1 1l-2 2l-1 1l-2 2l-1 1l-2 2l-1 1l-2 2l-1 1l-3 2l-3 2l-1 1l-2 1l-2 2l-1 0l-3 3l-1 0l-2 2l-2 1l-1 0l-3 0l-3 0l-3 0l-3 0l-3 0l-3 0l-3 0l-3 0l-3 0l-3 0l-3 0l-3 0l-3 0l-3 0l-3 0l-3 0l-3 0l-3 0l-3 0l-3 0l-3 0l-3 0l-3 0l-3 0l-3 0l-3 0l-3 0l-3 0l-3 0l-3 0l-3 0l-3 0l-3 0l-3 0l-3 0l-3 0l-3 0l-3 0l-3 0l-3 0l-3 0l-3 0l-3 0l-3 0l-3 0l-3 0l-3 0l-3 0l-3 0l-3 0l-3 0l-3 0l-3 0l-3 0l-3 0l-3 0l-3 0l-3 0l-3 0l-3 0l-3 0l-3 0l-3 0l-3 0l-3 0l-3 0l-3 0l-3 0l-3 0l-3 0l-3 0l-3 0l-3 0l-3 0l-3 0l-3 0l-3 0l-3 0l-3 0l0 -3l0 -3l0 -3l0 -3l0 -3l0 -3l0 -3l0 -3l0 -3l0 -3l0 -3l0 -3l0 -3l0 -3l0 -3l0 -3l0 -3l0 -3l0 -3l0 -3l0 -3l0 -3l0 -3l0 -3l0 -3l0 -3l0 -3l0 -3l0 -3l0 -3l0 -3l0 -3l0 -3l0 -3l0 -3l0 -3l0 -3l0 -3l0 -3l0 -3l0 -3l0 -3l0 -3l0 -3l0 -3l0 -3l0 -3l0 -3l0 -3l0 -3l0 -3l0 -3l0 -3l0 -3l0 -3l0 -3l0 -3l0 -3l0 -3l0 -3l0 -3l0 -3l0 -3l0 -3l0 -3l0 -3l3 0zM772 613l1 1l1 -1l-1 -2l-1 2zM778 619l1 1l3 1l1 -2l-1 -1l-3 -1l-1 2zM824 509l0 -1l3 0l3 0l3 0l3 0l3 0l3 0l3 0l3 0l3 0l0 3l0 3l0 3l0 3l0 3l0 3l0 1l-3 1l-3 1l-3 0l-1 0l-2 0l-3 -1l-3 -1l-2 -1l-1 -1l-3 -2l-2 -3l-1 -3l0 -3l0 -3l0 -2z" fill="#8dc2dc" fill-rule="evenodd"/>
<path d="M515 508l3 0l3 0l3 0l3 0l3 0l3 0l3 0l3 0l3 0l3 0l3 0l1 0l2 1l2 2l1 0l3 2l1 1l2 1l3 2l3 2l2 1l1 1l3 1l1 1l2 1l3 2l3 2l2 1l1 0l3 2l2 1l1 1l3 2l1 0l2 2l2 1l1 1l3 2l1 0l2 1l3 2l3 2l2 1l1 1l3 1l3 0l3 0l3 1l1 0l2 1l3 1l3 0l3 0l3 1l1 0l2 1l3 2l1 0l2 1l3 2l1 0l2 1l3 -1l3 -2l1 -1l2 -3l3 -3l3 -3l3 -2l2 -1l1 0l3 -1l3 0l3 0l3 1l1 0l2 1l3 0l3 1l3 1l1 0l2 1l3 1l1 1l2 1l3 2l3 2l2 1l1 0l3 2l2 1l1 1l3 2l1 0l2 2l2 1l1 1l2 2l1 1l2 2l1 1l2 2l1 1l2 2l1 2l1 1l1 3l1 1l1 2l1 3l1 3l1 3l1 3l1 3l2 3l1 1l2 2l1 1l2 2l1 1l2 2l1 2l1 1l2 2l1 1l2 2l1 1l2 3l2 3l1 1l1 2l1 3l0 3l0 3l1 2l3 1l2 0l1 0l1 0l2 -1l3 -2l2 -3l1 -1l3 -2l1 0l2 -1l3 0l3 1l3 2l2 1l1 1l2 2l1 2l1 1l1 3l0 3l0 3l0 3l-2 3l0 1l-2 2l-1 1l-3 2l-1 0l-2 0l-2 0l-1 0l-3 -1l-3 -2l-3 -2l-2 -1l-1 -1l-3 -1l-3 1l-1 1l-2 3l1 3l1 3l-1 3l-1 2l0 1l-2 3l-1 1l-1 2l-2 2l-1 1l-2 2l-1 1l-2 2l-2 1l-1 1l-3 2l-1 0l-2 1l-3 2l-3 2l-3 1l-3 1l-3 2l-3 1l-3 2l-3 2l-3 1l-3 0l-3 0l-3 0l-3 0l-3 0l-3 0l-3 0l-3 0l-3 0l-3 0l-3 0l-3 0l-3 0l-3 0l-3 0l-3 0l-3 0l-3 0l-3 0l-3 0l-3 0l-3 0l-3 0l-3 0l-3 0l-3 0l-3 0l-3 0l-3 0l-3 0l-3 0l-3 0l-3 0l-3 0l-3 0l-3 0l-3 0l-3 0l-3 0l-3 0l-3 0l-3 0l-3 0l-3 0l-3 0l-3 0l-3 0l-3 0l-3 0l-3 0l-3 0l-3 0l-3 0l-3 0l-3 0l-3 0l-3 0l-3 0l-3 0l-3 0l-3 0l-3 0l-3 0l-3 0l-3 0l-3 0l-3 0l-3 0l-3 0l-3 0l-3 0l-3 0l-3 0l-3 0l-3 0l0 -3l0 -3l0 -3l0 -3l0 -3l0 -3l0 -3l0 -3l0 -3l0 -3l0 -3l0 -3l0 -3l0 -3l0 -3l0 -3l0 -3l0 -3l0 -3l0 -3l0 -3l0 -3l0 -3l0 -3l0 -3l0 -3l0 -3l0 -3l0 -3l0 -3l0 -3l0 -3l0 -3l0 -3l0 -3l0 -3l0 -3l0 -3l0 -3l0 -3l0 -3l0 -3l0 -3l0 -3l0 -3l0 -3l0 -3l0 -3l0 -3l0 -3l0 -3l0 -3l0 -3l0 -3l0 -3l0 -3l0 -3l0 -3l0 -3l0 -3l0 -3l0 -3l0 -3l0 -3l0 -3l0 -3l3 0zM755 519l3 -1l3 0l3 0l3 2l3 3l2 3l1 2l0 1l1 3l2 3l2 3l1 2l1 1l2 3l2 3l0 3l-1 3l-1 2l0 1l-2 3l-1 1l-2 2l-1 2l-1 1l-2 2l-2 1l-1 1l-3 2l-3 0l-3 -1l-3 -2l0 -1l-1 -2l-1 -3l-1 -3l0 -1l-1 -2l-2 -3l-2 -3l-1 -3l-1 -3l-1 -3l0 -3l-1 -3l0 -3l0 -3l1 -3l2 -3l3 -3l1 0l2 -1zM779 592l3 -2l3 0l3 1l2 1l1 0l3 3l2 3l1 3l1 3l-1 3l0 1l-1 2l-2 2l-3 0l-3 0l-3 -1l-2 -1l-1 0l-3 -2l-1 -1l-2 -3l-2 -3l0 -3l1 -3l1 -1l2 -2l1 0z" fill="#7bb6d6" fill-rule="evenodd"/>
<path d="M515 508l3 0l3 0l3 0l3 0l1 0l2 1l3 1l1 1l2 1l3 1l2 1l1 1l3 1l2 1l1 0l3 2l3 1l3 2l3 1l3 1l3 1l1 1l2 1l3 1l2 1l1 0l3 1l3 2l1 0l2 1l3 1l2 1l1 0l3 2l1 1l2 1l3 2l3 2l2 1l1 1l3 1l2 1l1 1l3 2l2 0l1 0l3 1l3 0l3 0l3 2l1 0l2 1l3 0l3 1l3 0l2 1l1 1l2 2l1 1l3 2l1 0l2 1l3 0l3 0l1 -1l2 -2l1 -1l2 -2l0 -1l3 -3l3 -2l1 -1l2 -1l3 -1l3 -1l3 1l3 1l1 1l2 1l3 2l3 0l2 0l1 0l3 1l3 1l2 1l1 0l3 2l2 1l1 0l3 2l2 1l1 1l3 2l1 0l2 1l3 2l3 2l1 1l2 2l1 1l2 3l2 3l1 1l1 2l2 3l2 3l1 2l0 1l1 3l2 3l0 1l1 2l2 3l2 3l1 1l2 2l1 1l2 2l1 1l2 2l1 1l2 2l1 1l2 2l1 1l1 2l2 2l0 1l2 3l1 2l0 1l1 3l1 3l1 2l1 1l2 3l2 3l0 3l-1 3l-1 3l0 3l0 3l0 3l0 3l0 1l0 2l-2 3l-1 2l-1 1l-2 2l-1 1l-2 2l-1 1l-2 1l-3 2l-1 0l-2 1l-3 1l-2 1l-1 0l-3 1l-3 1l-3 1l-3 1l-3 1l-3 1l-1 0l-2 0l-3 1l-3 1l-2 1l-1 1l-3 1l-3 1l-3 1l-3 2l-3 0l-3 0l-3 0l-3 0l-3 0l-3 0l-3 0l-3 0l-3 0l-3 0l-3 0l-3 0l-3 0l-3 0l-3 0l-3 0l-3 0l-3 0l-3 0l-3 0l-3 0l-3 0l-3 0l-3 0l-3 0l-3 0l-3 0l-3 0l-3 0l-3 0l-3 0l-3 0l-3 0l-3 0l-3 0l-3 0l-3 0l-3 0l-3 0l-3 0l-3 0l-3 0l-3 0l-3 0l-3 0l-3 0l-3 0l-3 0l-3 0l-3 0l-3 0l-3 0l-3 0l-3 0l-3 0l-3 0l-3 0l-3 0l-3 0l-3 0l-3 0l-3 0l-3 0l-3 0l-3 0l-3 0l-3 0l-3 0l0 -3l0 -3l0 -3l0 -3l0 -3l0 -3l0 -3l0 -3l0 -3l0 -3l0 -3l0 -3l0 -3l0 -3l0 -3l0 -3l0 -3l0 -3l0 -3l0 -3l0 -3l0 -3l0 -3l0 -3l0 -3l0 -3l0 -3l0 -3l0 -3l0 -3l0 -3l0 -3l0 -3l0 -3l0 -3l0 -3l0 -3l0 -3l0 -3l0 -3l0 -3l0 -3l0 -3l0 -3l0 -3l0 -3l0 -3l0 -3l0 -3l0 -3l0 -3l0 -3l0 -3l0 -3l0 -3l0 -3l0 -3l0 -3l0 -3l0 -3l0 -3l0 -3l0 -3l0 -3l0 -3l0 -3l3 0zM758 525l3 0l3 0l1 1l2 1l2 2l1 1l1 2l2 3l2 3l1 1l1 2l2 3l0 1l1 2l0 3l-1 3l0 1l-1 2l-1 3l-1 1l-2 2l-1 2l-2 1l-1 1l-3 1l-3 -1l-2 -1l-1 -1l-1 -2l-2 -3l-1 -3l-2 -3l0 -1l-1 -2l-2 -3l0 -1l-1 -2l0 -3l-1 -3l0 -3l1 -3l1 -2l0 -1l3 -3l1 0l2 -1zM785 592l1 0l2 1l3 2l2 3l0 3l-2 3l-3 2l-3 0l-3 -2l-3 -3l-1 -3l1 -2l0 -1l3 -2l2 -1l1 0zM809 656l2 2l-2 1l-1 -1l1 -2z" fill="#6bacd1" fill-rule="evenodd"/>
<path d="M515 517l1 0l2 0l3 1l3 1l3 1l3 1l3 1l3 1l3 1l3 1l3 1l1 0l2 1l3 0l3 1l2 1l1 0l3 1l3 1l3 1l1 0l2 0l3 1l3 1l3 1l1 0l2 1l3 0l3 1l3 1l3 2l2 1l1 1l3 2l3 2l3 1l3 2l2 1l1 1l3 1l3 0l3 1l3 0l3 0l3 2l3 1l3 1l3 1l3 1l3 3l3 3l3 2l3 1l3 1l3 0l1 -1l2 -2l0 -1l2 -3l1 -2l0 -1l3 -3l3 -2l2 -1l1 0l3 -1l3 0l2 1l1 1l3 2l3 2l3 1l2 0l1 0l3 1l3 0l3 1l2 1l1 0l3 2l2 1l1 0l3 2l1 1l2 1l3 2l3 2l2 1l1 1l2 2l1 1l2 2l1 2l1 1l2 3l2 3l1 1l1 2l1 3l1 1l1 2l1 3l1 1l1 2l2 3l2 3l1 1l2 2l1 1l3 2l3 3l3 2l1 1l2 3l3 3l0 1l1 2l2 3l1 3l1 3l1 1l1 2l1 3l1 1l1 2l0 3l0 3l-1 3l0 3l0 3l0 3l0 3l-1 3l-1 3l-1 1l-1 2l-2 2l-1 1l-2 2l-3 1l-3 1l-3 1l-3 0l-3 1l-3 0l-1 0l-2 0l-3 1l-3 0l-3 0l-3 0l-3 0l-3 1l-3 0l-3 0l-3 1l-2 0l-1 0l-3 1l-3 1l-2 1l-1 0l-3 2l-2 1l-1 0l-3 2l-2 1l-1 1l-3 2l-3 2l-2 1l-1 0l-3 0l-3 0l-3 0l-3 0l-3 0l-3 0l-3 0l-3 0l-3 0l-3 0l-3 0l-3 0l-3 0l-3 0l-3 0l-3 0l-3 0l-3 0l-3 0l-3 0l-3 0l-3 0l-3 0l-3 0l-3 0l-3 0l-3 0l-3 0l-3 0l-3 0l-3 0l-3 0l-3 0l-3 0l-3 0l-3 0l-3 0l-3 0l-3 0l-3 0l-3 0l-3 0l-3 0l-3 0l-3 0l-3 0l-3 0l-3 0l-3 0l-3 0l-3 0l-3 0l-3 0l-3 0l-3 0l-3 0l-3 0l-3 0l-3 0l0 -3l0 -3l0 -3l0 -3l0 -3l0 -3l0 -3l0 -3l0 -3l0 -3l0 -3l0 -3l0 -3l0 -3l0 -3l0 -3l0 -3l0 -3l0 -3l0 -3l0 -3l0 -3l0 -3l0 -3l0 -3l0 -3l0 -3l0 -3l0 -3l0 -3l0 -3l0 -3l0 -3l0 -3l0 -3l0 -3l0 -3l0 -3l0 -3l0 -3l0 -3l0 -3l0 -3l0 -3l0 -3l0 -3l0 -3l0 -3l0 -3l0 -3l0 -3l0 -3l0 -3l0 -3l0 -3l0 -3l0 -3l0 -3l0 -3l0 -3l0 -3l0 -3l0 -3l0 -1l3 1zM758 530l3 0l3 0l3 2l3 3l2 3l1 1l2 2l1 3l1 3l0 3l-1 3l-1 3l-1 3l-1 1l-2 2l-1 1l-3 1l-3 -1l-1 -1l-2 -3l-1 -3l-2 -3l0 -1l-1 -2l-1 -3l-1 -2l0 -1l-1 -3l0 -3l0 -3l1 -2l1 -1l2 -2zM785 594l3 0l1 1l1 3l-2 3l-3 1l-1 -1l-2 -3l0 -1l1 -2l2 -1z" fill="#59a1ca" fill-rule="evenodd"/>
<path d="M515 530l3 0l3 1l3 0l3 1l3 1l3 1l3 1l1 0l2 1l3 0l3 0l3 0l3 1l3 0l3 0l3 0l3 0l3 1l3 0l3 0l3 1l3 0l3 1l3 0l3 1l2 0l1 0l3 3l3 2l2 1l1 1l3 1l1 1l2 1l3 1l2 1l1 1l3 1l3 0l3 0l3 0l2 1l1 0l3 2l2 1l1 1l3 1l1 1l2 1l2 2l1 1l2 2l1 1l3 2l3 2l2 1l1 0l3 1l3 0l3 0l1 -1l2 -2l1 -1l0 -3l0 -3l0 -3l2 -3l3 -2l3 -1l3 1l3 1l1 1l2 2l2 1l1 1l3 1l3 1l3 0l3 1l3 0l3 1l3 1l3 1l3 2l3 2l2 1l1 1l3 2l3 3l1 0l2 3l3 3l2 3l1 1l1 2l2 3l2 3l1 3l2 3l1 2l1 1l2 3l3 3l3 3l3 2l1 1l2 1l2 2l1 1l2 2l1 1l2 2l1 1l1 2l2 3l0 1l1 2l2 3l0 1l1 2l2 3l0 1l1 2l0 3l0 3l0 3l-1 3l0 1l0 2l-1 3l0 3l0 3l-1 3l-1 1l-1 2l-2 2l-3 1l-3 1l-3 0l-3 0l-3 0l-3 0l-3 0l-3 0l-3 -1l-1 0l-2 0l-3 -1l-3 -1l-2 -1l-1 -1l-3 -1l-3 -1l-3 -1l-3 0l-3 0l-3 1l-3 1l-3 1l-3 1l-3 1l-3 2l-3 2l-2 1l-1 1l-3 2l-3 2l-2 1l-1 1l-3 2l-3 2l-1 1l-2 1l-2 2l-1 1l-3 2l-1 0l-2 2l-2 1l-1 0l-3 0l-3 0l-3 0l-3 0l-3 0l-3 0l-3 0l-3 0l-3 0l-3 0l-3 0l-3 0l-3 0l-3 0l-3 0l-3 0l-3 0l-3 0l-3 0l-3 0l-3 0l-3 0l-3 0l-3 0l-3 0l-3 0l-3 0l-3 0l-3 0l-3 0l-3 0l-3 0l-3 0l-3 0l-3 0l-3 0l-3 0l-3 0l-3 0l-3 0l-3 0l-3 0l-3 0l-3 0l-3 0l-3 0l-3 0l-3 0l-3 0l-3 0l0 -3l0 -3l0 -3l0 -3l0 -3l0 -3l0 -3l0 -3l0 -3l0 -3l0 -3l0 -3l0 -3l0 -3l0 -3l0 -3l0 -3l0 -3l0 -3l0 -3l0 -3l0 -3l0 -3l0 -3l0 -3l0 -3l0 -3l0 -3l0 -3l0 -3l0 -3l0 -3l0 -3l0 -3l0 -3l0 -3l0 -3l0 -3l0 -3l0 -3l0 -3l0 -3l0 -3l0 -3l0 -3l0 -3l0 -3l0 -3l0 -3l0 -3l0 -3l0 -3l0 -3l0 -3l0 -3l0 -3l0 -3l0 -3l0 -2l3 0zM547 592l0 3l1 1l1 -1l2 -3l-3 0l-1 0zM761 534l3 0l1 1l2 1l2 2l1 1l2 2l1 2l0 1l1 3l-1 3l0 2l0 1l-2 3l-1 3l0 1l-3 1l-2 -2l-1 -2l-1 -1l-1 -3l-1 -2l-1 -1l-1 -3l-1 -3l-1 -3l0 -3l1 -2l0 -1l3 -1z" fill="#4997c5" fill-rule="evenodd"/>
<path d="M764 539l3 1l2 1l1 1l1 2l0 3l-1 2l-1 1l-2 1l-1 -1l-2 -1l-1 -2l-1 -3l0 -3l2 -2zM515 543l3 0l3 -1l3 1l3 0l1 1l2 1l3 2l3 3l3 2l3 0l3 -2l1 0l2 -2l2 -1l1 0l3 -1l3 -1l3 -1l3 0l3 0l3 0l3 0l3 0l3 1l3 0l3 0l3 1l2 1l1 0l3 2l1 1l2 1l3 1l1 1l2 1l3 1l2 1l1 0l3 1l3 1l3 0l3 0l2 1l1 0l3 2l1 1l2 2l2 1l1 1l2 2l1 1l2 2l1 1l2 2l1 0l3 2l1 1l2 1l3 2l1 0l2 1l3 0l3 1l3 0l3 0l3 0l3 0l3 0l3 1l3 -1l3 -2l2 -3l1 -2l2 -1l1 -1l3 -1l3 -1l3 0l3 0l3 1l3 1l2 1l1 1l3 2l1 0l2 2l2 1l1 1l2 2l1 1l2 2l1 1l2 2l1 1l1 2l2 2l0 1l2 3l1 1l1 2l1 3l1 1l1 2l2 3l2 3l1 1l2 2l1 1l3 2l3 2l2 1l1 1l3 1l1 1l2 2l1 1l2 2l1 1l1 3l1 2l1 1l1 3l1 1l1 2l2 3l1 3l1 3l-1 3l0 3l-1 2l0 1l-1 3l-1 3l0 3l-1 3l-1 3l-2 2l-3 0l-3 0l-3 0l-3 0l-3 0l-3 -1l-3 -1l-1 0l-2 -1l-3 -2l-3 -3l0 -1l-2 -2l-1 -3l-1 -3l-2 -2l-1 -1l-2 0l-3 0l-3 0l-2 0l-1 0l-3 0l-3 0l-3 0l-3 0l-3 0l-3 1l-3 1l-2 1l-1 0l-3 2l-1 1l-2 2l-2 1l-1 1l-2 2l-1 1l-2 2l-1 0l-3 3l-3 3l-1 0l-2 2l-1 1l-2 1l-3 2l-3 2l-1 1l-2 1l-3 2l-3 2l-2 1l-1 0l-3 2l-2 1l-1 0l-3 2l-3 1l-3 1l-3 1l-3 1l-3 1l-3 1l-3 1l-2 0l-1 0l-3 0l-3 0l-3 0l-3 0l-3 0l-3 0l-3 0l-3 0l-3 0l-3 0l-3 0l-3 0l-3 0l-3 0l-3 0l-3 -1l-3 -1l-3 -1l-1 0l-2 -1l-3 -1l-2 -1l-1 -1l-3 -1l-1 -1l-2 -1l-2 -2l-1 0l-3 -3l-3 -3l-3 -3l-2 -3l-1 -1l-1 -2l-2 -3l-1 -3l-2 -3l0 -2l0 -1l-1 -3l0 -3l0 -3l0 -3l0 -3l1 -3l1 -3l1 -3l1 -1l1 -2l2 -3l2 -3l1 -1l1 -2l2 -2l1 -1l2 -2l0 -1l3 -3l3 -3l2 -3l1 -1l1 -2l2 -3l1 -3l1 -3l1 -2l0 -1l0 -3l0 -3l-1 -3l-2 -3l-3 -3l-1 0l-2 -1l-3 0l-3 -1l-3 0l-3 0l-3 1l-3 0l-3 1l-1 0l-2 1l-3 0l-3 1l-3 0l-3 1l0 -3l0 -3l0 -3l0 -3l0 -3l0 -3l0 -3l0 -3l0 -3l0 -3l0 -3l0 -3l0 -3l0 -3l0 -3l3 -1zM671 559l3 3l0 2l-3 0l-1 -2l1 -3z" fill="#3e8cbf" fill-rule="evenodd"/>
<path d="M524 553l3 0l2 3l-1 3l-1 2l-3 -1l-1 -1l-1 -3l2 -3zM557 553l3 -1l3 -1l3 0l3 0l3 0l3 0l3 0l3 1l3 0l3 1l3 1l3 2l3 1l3 2l3 1l3 1l3 1l3 1l3 1l3 0l3 1l3 3l3 3l2 3l1 1l2 2l1 1l3 2l3 2l3 1l3 1l3 2l1 0l2 1l3 1l3 0l3 1l3 1l3 0l3 0l3 1l3 0l3 -1l3 0l1 -1l2 -1l3 -2l2 -3l1 -1l2 -2l1 -1l3 -2l3 -1l3 0l3 1l1 0l2 1l3 2l3 3l1 0l2 2l1 1l2 2l1 1l2 2l1 1l2 2l0 1l3 3l0 1l1 2l2 3l1 3l2 3l2 3l1 2l1 1l2 2l1 1l2 2l2 1l1 1l3 1l1 1l2 1l3 1l2 1l1 1l3 2l1 3l2 3l0 1l1 2l2 2l1 1l2 3l2 3l0 3l-1 3l-1 3l-2 3l-1 3l-2 3l-1 2l-1 1l-2 1l-3 1l-3 0l-3 0l-3 -1l-1 -1l-2 -2l-1 -1l-2 -2l0 -1l-3 -3l-2 -3l-1 -1l-2 -2l-1 -1l-3 -2l-1 0l-2 -1l-3 -1l-3 -1l-1 0l-2 0l-3 -1l-3 -1l-3 -1l-1 0l-2 -1l-3 0l-3 -1l-3 0l-3 -1l-3 1l-3 0l-3 0l-3 1l-1 1l-2 2l0 1l-2 3l-1 1l-2 2l-1 2l-1 1l-2 2l-1 1l-2 2l-1 1l-2 2l-1 1l-2 2l-2 1l-1 1l-3 2l-3 2l-3 1l-3 2l-3 1l-3 1l-3 1l-3 1l-3 1l-3 1l-3 0l-3 1l-3 0l-3 0l-3 0l-3 0l-3 0l-3 -1l-3 0l-3 -1l-3 0l-2 -1l-1 0l-3 -2l-3 -1l-3 -2l-2 -1l-1 -1l-3 -2l-3 -3l-3 -3l-2 -3l-1 -2l0 -1l-2 -3l-1 -3l-1 -3l0 -3l-1 -3l0 -3l0 -3l0 -3l0 -3l0 -3l0 -3l1 -3l0 -3l1 -3l0 -3l0 -1l0 -2l0 -3l0 -3l0 -3l0 -2l0 -1l-1 -3l-1 -3l-1 -2l0 -1l-2 -3l-1 -1l-2 -2l-1 -1l-3 -2l-3 -2l-1 -1l-2 -1l-2 -2l-1 -1l-3 -2l0 -1l-2 -2l-1 -3l0 -3l3 -2l0 -1l3 -2l1 -1l2 -1l3 -2l3 -2l2 -1l1 0z" fill="#3783bb" fill-rule="evenodd"/>
<path d="M563 559l3 -1l3 0l3 0l3 1l1 0l2 0l3 1l3 1l1 1l2 1l3 1l1 1l2 1l3 2l1 0l2 1l3 1l3 1l3 1l3 1l2 1l1 0l3 3l1 0l2 2l1 1l2 2l1 1l2 2l2 1l1 0l3 2l2 1l1 0l3 1l3 2l1 0l2 1l3 1l3 1l1 0l2 1l3 1l3 1l1 0l2 1l3 1l3 0l2 1l1 2l1 1l-1 3l3 3l2 0l1 0l3 0l3 1l3 0l3 -1l-3 -2l-1 -1l0 -3l0 -3l1 -2l0 -1l2 -3l1 -1l1 -2l2 -3l3 -3l2 -3l1 -1l3 -1l3 2l3 2l1 1l2 2l2 1l1 1l2 2l1 0l3 3l2 3l1 1l2 2l1 2l0 1l2 3l1 3l0 1l1 2l0 3l1 3l1 2l1 1l2 2l2 1l1 0l3 2l3 1l3 1l3 2l1 0l2 1l3 2l3 3l0 1l1 2l2 2l0 1l3 3l3 2l1 1l0 3l-1 1l-2 2l-1 2l-2 1l-1 1l-3 2l-2 0l-1 0l-3 -1l-3 -2l-3 -2l-1 -1l-2 -2l-2 -1l-1 -1l-3 -2l-3 -2l-2 -1l-1 -1l-3 -2l-3 -2l-2 -1l-1 -1l-3 -1l-3 -1l-1 0l-2 0l-3 -1l-3 -1l-3 -1l-3 -1l-3 -1l-3 -1l-3 -1l-3 -1l-3 1l-2 1l-1 0l-3 3l-3 1l-3 2l-3 3l0 1l-2 2l-1 2l-1 1l-2 2l-1 1l-2 2l-1 1l-2 2l-2 1l-1 1l-3 2l-3 2l-3 1l-3 1l-3 1l-3 1l-3 1l-3 0l-3 0l-3 1l-3 0l-3 -1l-3 0l-3 -1l-1 0l-2 -1l-3 -1l-3 -1l-3 -2l-2 -1l-1 -1l-3 -2l-3 -3l-2 -3l-1 -1l-1 -2l-2 -3l-2 -3l-1 -3l0 -1l-1 -2l0 -3l-1 -3l-1 -3l0 -1l0 -2l-1 -3l0 -3l-1 -3l0 -3l-1 -3l0 -1l0 -2l-1 -3l-1 -3l-1 -2l-1 -1l-1 -3l-1 -1l-2 -2l-1 -1l-2 -2l-1 -1l-3 -2l-3 -2l-2 -1l-1 -1l-3 -2l-2 -3l-1 -3l0 -3l1 -3l2 -2l1 -1l2 -1l3 -2l1 0l2 0z" fill="#2f79b5" fill-rule="evenodd"/>
<path d="M560 567l3 0l3 0l2 1l1 1l2 2l-1 3l-1 1l-3 1l-3 0l-3 0l-2 -2l-1 -3l2 -3l1 -1zM596 589l3 -1l3 0l3 0l3 1l1 0l2 1l3 1l3 1l3 1l3 1l2 1l1 1l3 1l3 1l3 1l3 1l3 1l3 1l3 1l3 1l3 2l2 1l1 0l3 3l2 3l1 1l1 2l2 3l0 1l1 2l1 3l0 3l-1 3l-1 1l-1 2l-2 3l-3 2l-1 1l-2 2l-2 1l-1 0l-3 2l-3 1l-3 1l-3 1l-3 0l-3 0l-3 0l-3 0l-3 -1l-3 0l-2 -1l-1 -1l-3 -1l-2 -1l-1 -1l-3 -2l-3 -3l-3 -3l0 -1l-2 -2l-1 -2l0 -1l-2 -3l-1 -3l-1 -3l-1 -3l-1 -3l0 -1l-1 -2l0 -3l-1 -3l0 -3l-1 -3l0 -3l1 -3l2 -3zM701 593l3 1l3 1l3 1l3 2l3 2l1 1l2 2l0 1l2 3l1 3l0 3l0 3l-1 3l-1 3l-1 1l-3 1l-3 1l-3 -1l-3 -1l-2 -1l-1 -1l-2 -2l-1 -1l-1 -2l-1 -3l0 -3l-1 -3l0 -1l0 -2l-1 -3l0 -3l1 -2l1 -1l2 -2zM740 637l3 2l1 1l-1 1l-3 1l-2 -2l2 -3z" fill="#2870b1" fill-rule="evenodd"/>
<path d="M713 607l3 2l0 1l0 1l-2 2l-1 1l-2 -1l-1 -1l-1 -2l1 -2l1 -1l2 0zM638 613l3 0l3 0l2 0l1 0l3 2l2 1l1 2l1 1l1 3l-1 3l-1 3l-3 2l-3 1l-1 0l-2 0l-3 0l-1 0l-2 -1l-3 -1l-2 -1l-1 -1l-2 -2l-1 -3l0 -3l0 -1l1 -2l2 -1l3 -1l3 -1z" fill="#2065ab" fill-rule="evenodd"/>
<g fill="#f016e6" stroke="#f016e6" stroke-width="1" stroke-linejoin="round"><path d="M748,158 760,154 774,151 782,160 791,170 790,180 784,194 778,208 770,220 764,232 756,230 750,225 749,212 741,200 742,197 754,193 759,184 756,172 752,164Z"/><path d="M558,76 576,69 582,75 588,84 600,93 605,97 603,101 594,98 580,94 568,89 560,84Z"/><path d="M477,84 480,78 484,77 485,82 482,86 478,86Z"/><path d="M699,204 703,205 707,210 708,215 703,214 700,210Z"/><path d="M572,110 574.5,110 575,114 572.5,115Z"/><path d="M537,119 540,118.5 542.5,121 538,121Z"/><path d="M626.5,600 629,600.5 631,605 628,605 626,603Z"/><path d="M641,614.5 647,615 648,619 642,619Z"/><path d="M711.5,612 714,611 717.5,615 717,618 714,617 712,615Z"/><path d="M913,387.5 916,387 916,389.5 913.5,389.5Z"/><path d="M929,430.5 931,430.5 931,432.5 929,432.5Z"/><path d="M688,172 689,172 689,176 688,176Z"/><path d="M734.5,188.5 737,189 736,191Z"/><path d="M892.5,396 894,396 894,398.5 892.5,398.5Z"/><ellipse cx="934.4" cy="404.6" rx="10.5" ry="13.5"/><ellipse cx="907.4" cy="476" rx="7" ry="2.2" transform="rotate(-12 907.4 476)"/></g>
<circle cx="783" cy="570" r="16" fill="#b6cee3" opacity=".7" filter="url(#soft2)"/><path d="M796 556a18 18 0 0 1 3 26a22 22 0 0 0 -3 -26z" fill="#3a86c0" opacity=".8"/><path d="M775 563C777 558 786 558 791 561C796 565 795 574 791 579C786 583 778 581 775 576C773 572 773 567 775 563Z" fill="#93abc8" opacity=".95" filter="url(#soft)"/><ellipse cx="783" cy="569.5" rx="4.6" ry="5.2" fill="#7e96b6" filter="url(#soft)"/><path d="M783.5 699.5L797.5 671L801 698L792 704Z" fill="#eef3f8" filter="url(#soft)"/>
<path d="M680.9 92.5l2.6 -1.1M706.8 83.9l1.6 -1.7M719.9 94.7l0.7 -0.4M706.0 92.1l0.5 -1.3M665.1 72.3l3.9 -0.1M707.3 85.6l0.8 -0.6M665.2 111.2l0.0 -1.2M672.0 66.3l0.7 -0.4M707.9 92.6l0.7 -2.8M704.1 70.7l0.5 -1.5M687.5 107.8l2.2 -0.9M658.3 67.7l0.9 0.4M644.2 91.6l0.5 -1.0M693.1 70.7l-0.3 -2.5M710.0 77.7l0.2 -3.0M702.1 106.1l1.2 -2.6M730.9 102.5l2.8 -0.1M688.3 80.9l2.5 -1.3M722.1 93.4l0.8 -0.9M696.7 87.3l0.5 -1.4M716.6 99.1l2.4 -0.7M651.8 87.7l0.6 -1.9M706.8 85.3l0.7 -1.0M715.4 65.9l0.9 -1.2M720.7 90.9l-0.9 -1.6M661.7 72.2l0.2 -2.7M686.5 79.1l2.6 -2.6M663.0 73.5l1.9 -2.0M699.8 89.3l1.0 -0.9M712.9 89.4l0.6 -0.9M710.9 98.7l0.6 -0.3M659.7 87.7l1.4 -1.1M678.9 89.9l3.2 -1.4M689.8 77.5l0.6 -0.8M675.3 94.0l2.1 -2.7M691.9 106.1l0.5 -1.0M683.5 82.7l2.4 0.0M682.8 79.2l0.5 -1.8M710.8 115.2l1.5 -1.9M663.1 85.7l3.9 -0.3M726.6 65.7l1.9 -2.8M671.7 65.2l0.4 -0.6M713.1 91.6l0.3 -1.5M685.9 76.0l1.0 -0.9M694.6 97.2l2.7 -0.5M695.1 88.2l1.1 -2.6M736.4 76.5l1.0 -3.0M691.9 89.2l0.6 -3.3M719.7 87.1l1.9 -0.4M673.7 86.6l0.8 -0.7M737.4 75.2l1.0 -0.4M668.6 72.3l0.3 -0.6M732.9 87.9l2.1 -1.1M673.3 105.1l-0.1 -1.3M687.2 99.3l0.4 -1.4M679.6 74.9l2.5 -2.7M667.5 96.7l2.2 -1.3M669.4 99.6l0.8 -2.3M684.4 83.5l1.2 -1.7M691.8 88.6l0.7 -2.1M688.0 62.3l-0.0 -1.7M685.4 86.0l0.9 -2.3M687.8 98.9l-0.1 -3.2M687.7 87.1l-0.9 -1.9M665.7 67.0l1.0 -2.1M678.6 108.7l1.2 -3.4M712.2 84.0l2.5 -0.2M669.3 87.2l1.5 -1.5M708.7 94.1l0.2 -0.8M643.4 85.0l1.3 -2.7M682.7 75.4l2.9 -2.1M682.9 100.9l1.0 -2.0M746.1 92.8l0.1 -1.1M705.9 81.6l1.3 -1.1M689.6 81.5l1.2 -2.2M694.1 73.6l2.2 -0.8M706.9 96.5l0.5 -0.6M664.7 93.3l3.1 -2.1M701.7 74.6l1.0 -0.4M671.7 79.4l0.3 -0.7M681.2 66.1l0.8 -0.3M673.8 84.5l1.4 -3.2M741.3 108.4l0.6 -2.1M719.6 102.8l0.4 -0.9M668.9 79.1l0.6 -0.7M697.3 90.9l1.4 -0.9M694.0 71.0l1.7 -1.6M712.2 102.3l0.4 -0.5M689.9 62.6l-0.6 -1.1M696.5 111.9l1.9 -0.8M633.8 76.1l-0.3 -1.9M685.3 100.4l1.8 -2.9M665.9 90.0l0.5 -0.6M698.4 85.7l0.3 -1.1M735.9 110.4l1.5 -3.2M668.8 82.0l1.8 -1.1M704.9 103.8l1.4 0.5M673.3 69.3l1.9 -3.4M677.2 98.3l0.1 -0.6M714.7 77.5l1.3 -1.9M713.1 89.5l0.4 -0.8M692.5 100.4l0.9 -1.1M660.8 68.7l0.6 -3.1M648.6 90.5l0.5 -1.6M706.9 87.0l1.5 -2.7M679.8 102.3l-0.7 -2.6M710.2 105.2l2.0 -1.1M642.2 87.4l0.1 -3.6M690.2 89.5l0.5 -0.9M698.7 98.2l0.2 -2.7M687.6 84.7l1.9 -2.7M675.9 109.1l1.2 -0.9M709.6 94.8l2.3 -2.1M733.1 113.1l1.0 -1.6M645.0 80.6l0.3 -3.2M660.1 88.6l1.0 -1.1M691.5 70.1l1.8 -1.8M691.4 82.1l2.9 -0.7M681.2 70.3l0.2 -2.3M692.6 113.1l1.2 -0.3M722.2 92.8l3.1 -1.4M683.8 82.5l3.1 -2.2M695.6 108.7l-0.6 -0.9M675.2 104.5l2.2 -0.7M728.0 73.6l1.2 -0.7M669.3 82.8l1.3 -1.9M665.4 85.2l0.4 -1.0M711.3 89.3l1.7 -2.6M699.2 79.0l1.4 -3.5M677.3 69.9l0.5 -0.5M731.6 112.4l1.3 -0.9M681.5 81.4l1.2 -0.5M734.0 71.2l2.7 0.1M671.0 109.1l1.6 -1.4M686.9 89.9l3.1 -2.0M715.4 81.2l2.5 -1.8M713.0 87.0l1.1 -2.6M727.3 83.1l0.8 -0.8M669.1 81.6l3.4 -1.5M688.0 92.1l0.7 -0.6M681.8 90.1l0.8 -1.2M724.5 113.5l0.2 -2.0M657.2 90.4l0.9 -1.6M700.4 78.8l1.0 0.3M648.5 77.1l2.3 -2.7M712.9 89.2l1.9 -1.0M746.7 85.1l2.4 -2.6M692.7 76.0l-0.8 -2.0M689.6 84.7l1.9 -0.3M660.5 109.1l-0.6 -1.3M702.1 93.7l0.3 -2.4M647.7 79.4l0.2 -2.5M738.7 101.2l1.3 -0.5M670.0 78.4l1.1 -1.0M697.8 90.8l0.5 -2.3M674.7 86.3l0.6 -0.2M676.4 101.3l-0.0 -3.9M643.9 64.0l0.9 -1.1M735.9 86.3l1.5 -0.6M696.2 77.6l0.2 -1.5M690.3 89.7l-0.1 -1.7M709.7 98.6l3.1 -0.4M670.0 81.1l1.0 -3.8M740.4 95.4l2.6 -1.8M670.9 81.9l-0.0 -1.4M710.1 98.0l1.0 -1.7M695.3 90.4l-0.2 -0.8M725.6 112.8l0.3 -4.0M715.1 82.8l1.2 -0.3M666.4 106.6l1.3 -1.4M669.4 92.7l1.0 -0.6M742.7 98.7l2.9 -1.7M706.7 70.9l0.1 -0.8M693.0 95.7l0.8 -1.7M696.3 83.5l1.6 -1.2M642.6 81.2l0.5 -0.7M711.1 82.1l2.6 -1.8M675.1 76.1l2.6 0.7M681.6 111.7l1.0 -1.4M692.3 86.8l-1.3 -2.4M696.4 84.7l-0.8 -1.2M698.6 103.4l0.7 -1.3M657.3 88.1l3.1 -2.1M739.0 91.2l-0.9 -3.1M671.1 71.8l0.1 -1.7M727.6 102.0l2.2 -2.3M689.1 91.3l0.1 -0.7M680.0 97.1l0.5 -0.7M716.5 101.6l0.8 -2.9M700.7 65.5l2.4 -1.7M683.6 76.1l1.5 -3.1M730.3 71.8l1.2 -0.5M688.1 98.0l1.0 -0.5M665.6 72.5l3.4 -2.0M668.7 80.6l-0.8 -3.2M707.7 102.4l-0.9 -3.6M713.2 92.8l0.9 -0.5M734.9 79.8l2.2 -2.4M703.6 84.6l0.9 -2.5M677.0 76.0l0.9 -0.9M684.7 108.1l1.7 -2.3M696.4 73.6l1.2 -0.4M680.5 94.4l1.4 -3.0M684.4 98.3l1.9 -1.5M682.7 77.8l0.5 -1.0M662.0 76.9l3.3 -2.0M671.8 103.0l-0.4 -1.8M716.7 106.6l0.7 -1.0M689.3 73.0l0.5 -0.3M670.7 89.4l0.6 -3.6M672.5 84.5l-0.0 -0.6M675.4 88.9l1.3 -2.4M663.3 95.6l0.5 -1.0M723.8 98.6l1.1 -2.0M693.5 94.4l3.5 -1.5M735.6 68.9l-0.0 -1.1M696.8 73.9l1.8 -0.8M643.5 81.9l1.6 -1.2M661.5 78.0l0.6 -0.8M736.8 97.4l1.3 -2.2M691.2 80.3l3.1 -1.6M721.0 66.7l0.6 -1.5M653.8 89.9l0.6 -1.9M663.6 76.8l1.6 -2.2M668.3 82.0l2.1 -2.4M656.4 87.7l0.9 -0.4M709.4 102.0l0.1 -0.9M698.4 110.9l0.6 -0.6M680.2 82.8l-0.6 -2.2M688.0 89.3l1.2 -3.7M706.3 82.5l2.3 -2.3M688.4 67.0l1.1 -0.3M710.3 80.0l2.8 -1.9M715.6 100.1l0.6 -1.3M664.2 79.9l0.5 -0.5M701.7 111.8l1.2 -3.5M710.7 115.8l-0.1 -1.0M740.1 71.8l1.4 -3.3M671.9 68.9l1.5 -2.9M676.7 84.4l0.1 -1.2M690.6 79.5l1.9 -2.8M728.2 115.2l1.5 -2.4M689.2 85.8l0.6 -0.4M726.3 72.0l2.7 -2.4M702.7 96.7l1.7 -2.3M691.2 80.0l1.3 -1.3M692.3 108.6l1.9 -1.8M731.2 82.8l2.3 -3.0M688.9 94.9l-0.0 -0.9M643.7 80.5l0.2 -1.5M732.1 94.3l0.5 -2.5M714.3 87.9l0.9 -3.6M724.0 97.0l1.2 -1.6M700.1 87.3l1.3 -2.1M705.9 84.2l0.2 -1.3M646.8 84.3l1.4 -0.9M746.7 96.4l-0.5 -3.1M702.6 75.1l0.6 -0.7M690.1 90.0l1.0 -1.4M641.8 92.3l-0.0 -1.5M661.2 73.6l0.8 -3.2M691.8 87.9l3.8 -0.6M692.1 69.6l1.5 -3.3M705.7 108.7l0.7 -2.9M633.4 81.5l2.4 -1.8M665.9 77.1l-0.0 -1.6M695.6 110.1l0.6 -0.6M679.8 91.5l2.3 -3.0M679.4 91.3l0.7 -0.2M704.9 69.3l0.1 -3.1M724.5 100.6l1.5 -1.0M639.3 81.2l1.7 -3.1M704.4 95.1l1.0 -0.0M700.7 96.5l-0.1 -3.4M675.4 71.7l0.9 -0.3M717.9 94.3l1.7 -1.1M712.3 90.7l0.8 -1.4M689.2 81.6l1.0 -1.7M641.1 88.3l0.8 -1.6M653.5 85.9l0.9 -0.0M699.4 76.8l0.5 -0.4M737.5 95.0l1.3 -1.9M637.0 77.4l0.2 -1.2M689.8 91.8l1.1 -3.7M683.6 96.0l1.1 -2.8M691.0 80.4l1.5 -2.9M672.8 70.0l-0.4 -1.9M719.9 102.2l0.9 -1.2M720.4 78.2l1.5 -1.2M698.7 87.4l-0.6 -2.7M672.6 94.8l1.0 -0.6M653.8 78.1l0.6 -2.0M699.7 63.6l-0.4 -1.0M704.4 88.4l1.3 -1.0M698.2 95.0l0.5 -1.4M720.4 98.8l1.0 -0.7M737.9 89.0l0.7 -0.6M745.0 102.7l-0.3 -2.1M699.9 110.6l0.7 -0.7M715.2 107.0l2.2 -2.5M681.2 63.8l0.9 -2.6M696.2 71.7l0.9 -3.0M718.0 79.6l1.5 -2.1M658.5 83.3l3.5 -0.7M720.4 68.9l0.6 -2.7M698.3 80.9l0.9 -1.8M676.3 72.8l-0.1 -2.0M705.3 65.3l3.2 -2.0M703.5 111.0l0.6 -3.2M711.2 93.6l1.4 -2.0M712.9 115.3l1.4 -3.5M691.7 65.5l1.0 -2.9M648.3 75.7l0.4 -3.4M683.9 95.5l1.4 -2.6M647.7 96.4l0.9 -0.5M685.0 97.5l1.3 -1.4M720.4 91.9l0.9 -1.8M664.1 79.2l2.6 -1.8M725.0 83.2l0.9 -1.0M661.7 82.2l2.5 -2.1M709.3 64.9l0.6 -2.1M679.2 99.3l1.3 -2.4M665.3 83.6l2.3 -0.7M733.2 71.4l1.5 -0.3M672.3 91.4l1.2 -1.7M692.4 82.9l0.3 -1.4M675.9 101.8l0.3 -2.0M741.0 97.7l1.6 -3.0M735.9 75.7l0.9 -0.6M653.0 81.2l2.2 -3.1M679.4 71.9l0.7 -0.6M706.4 90.6l0.2 -1.1M736.2 75.3l1.1 -0.5M663.6 85.5l-0.4 -3.6M700.3 112.6l1.3 -2.0M655.4 95.6l0.3 -1.5M690.0 94.7l2.1 -1.0M699.7 99.4l2.0 -1.1M634.4 66.5l0.5 -0.4M671.7 91.1l0.4 -2.0M701.6 85.3l1.4 -2.4M688.2 63.9l0.5 -3.7M656.3 77.7l3.6 -0.7M701.9 75.7l1.0 -3.4M665.1 95.6l1.5 -1.9M672.8 64.9l1.8 -1.7M703.6 74.3l0.5 -3.4M710.4 85.7l3.6 -1.5M675.1 95.9l0.0 -1.6M668.1 82.2l1.4 -2.7M720.4 75.7l0.4 -0.6M690.6 99.9l2.7 0.2M726.5 78.3l0.2 -2.7M663.5 86.5l2.1 -0.5M692.5 77.2l1.2 -0.2M697.9 108.7l0.4 -1.8M669.8 76.2l0.4 -1.6M706.2 64.8l3.0 -2.3M724.7 98.9l0.7 -0.2M660.3 76.9l1.1 -1.5M723.7 88.5l1.8 -0.8M715.0 91.8l0.5 -0.4M734.7 93.7l0.7 -0.7M686.2 90.7l0.3 -0.6M688.0 71.7l1.9 -2.4M698.0 90.6l-0.5 -3.5M689.7 77.5l1.2 -2.4M656.1 91.4l1.7 -3.5M689.5 82.3l0.1 -0.6M643.5 90.3l2.2 -2.1M714.3 119.8l2.0 -1.1M703.3 70.3l1.1 -2.7M718.1 115.0l0.3 -1.8M659.7 64.4l2.5 -2.2M740.5 83.3l1.4 -2.1M695.4 113.3l1.6 -3.0M666.5 102.0l3.2 -2.3M656.2 72.3l3.2 -1.7M654.7 97.7l2.6 -0.7M657.5 79.0l0.9 -1.2M653.4 89.6l2.2 -2.5M681.6 99.7l-0.6 -3.5M669.8 75.2l2.7 -2.2M645.6 91.2l0.3 -0.8M642.0 66.0l0.7 -1.0M731.7 83.6l0.2 -1.3M683.5 113.5l1.3 -3.0M691.4 95.9l-0.2 -1.4M719.4 75.9l0.7 -2.1M679.1 87.1l2.3 -1.9M662.2 97.5l0.6 -1.9M719.0 84.2l1.9 -2.0M695.7 75.9l0.7 -2.5M718.8 94.7l2.3 -3.2M715.3 74.2l1.3 -2.2M721.5 94.1l-1.1 -3.7M688.9 89.8l0.8 -1.0M697.5 107.9l2.6 -2.5M699.7 83.2l1.1 -2.4M696.7 99.4l1.2 -2.2M678.4 67.4l2.0 -0.6M686.6 97.7l1.2 -1.4M604.8 118.2l1.4 -3.0M573.3 110.4l0.6 -0.9M599.2 106.5l1.5 -2.1M594.4 110.8l0.8 -0.6M589.0 114.9l1.2 -0.7M608.5 152.4l0.8 -1.0M605.8 137.8l0.9 -0.1M591.3 101.8l0.4 -1.7M616.4 111.8l2.0 -1.9M598.5 144.8l1.9 -1.6M590.5 132.3l0.5 -1.0M635.1 135.0l1.7 -1.5M598.6 108.8l1.1 -1.9M610.9 131.2l3.5 -2.0M608.1 132.9l3.6 -0.8M615.5 116.0l0.6 0.2M612.0 112.1l1.1 -0.0M605.1 112.0l1.1 -1.8M613.1 121.2l1.8 -1.8M606.8 127.4l-0.2 -1.3M605.0 126.4l0.6 -2.6M597.6 125.1l2.9 -0.9M617.8 109.1l1.3 -0.3M621.3 109.1l0.7 -0.4M612.1 112.5l2.9 -1.9M605.6 122.1l2.7 -2.1M589.7 121.7l1.0 -1.6M607.1 105.5l1.2 -2.0M611.7 145.6l2.6 -2.1M590.4 110.3l0.5 -3.1M621.9 126.9l0.0 -2.3M605.1 124.7l0.8 -0.6M586.1 143.9l0.7 -0.2M614.8 129.7l1.7 -2.0M585.5 101.9l2.9 -0.5M621.5 131.3l0.5 -0.9M579.2 108.8l1.3 -0.9M605.7 138.4l3.2 -1.6M605.8 141.4l2.8 -1.5M620.9 148.0l0.8 -1.8M619.0 113.1l1.9 -0.3M592.1 108.7l1.4 -1.1M626.7 104.6l-0.4 -0.6M590.0 126.3l0.9 -1.8M594.2 104.4l2.1 -1.1M609.3 121.8l0.6 -0.9M631.9 132.7l0.1 -3.8M565.6 124.4l1.0 -1.1M599.4 107.2l2.3 -0.8M589.0 113.6l1.9 -0.7M615.5 124.6l0.7 -1.5M581.7 95.8l1.2 -1.8M591.3 112.9l0.8 -0.6M615.8 117.2l1.1 -1.0M613.6 139.3l0.4 -3.4M588.6 106.6l1.0 -2.8M576.5 111.8l0.5 -2.6M602.6 122.1l1.9 -1.4M576.3 121.7l0.0 -0.6M626.9 137.1l2.1 -0.8M579.2 136.6l1.1 -0.1M616.8 123.9l1.2 -1.5M569.2 112.7l0.7 -0.7M593.6 107.9l2.4 -1.6M584.6 88.6l-0.6 -3.3M597.4 117.2l-0.5 -2.2M617.4 103.5l3.6 -1.0M608.4 107.4l1.2 -3.7M587.2 104.7l2.9 -1.5M589.0 99.8l1.8 -1.2M603.7 107.9l0.3 -1.9M599.9 106.7l3.4 -0.6M581.2 109.2l0.6 -1.1M618.0 110.0l0.3 -0.9M616.6 122.2l3.3 -1.1M616.6 131.7l0.4 -0.6M584.8 103.2l2.4 -2.9M569.6 123.4l1.3 -1.9M600.0 104.2l0.4 -1.8M580.3 133.3l0.9 -2.2M609.4 135.2l0.0 -2.0M577.4 139.5l-0.6 -2.2M573.6 113.7l1.1 -3.8M615.9 133.4l0.6 -1.6M634.0 135.2l2.3 -0.4M628.6 124.7l-0.9 -3.9M618.9 119.2l0.5 -1.0M624.9 123.2l0.7 -1.0M591.3 97.8l1.7 -0.5M591.6 132.3l2.2 -2.4M580.0 133.3l0.2 -0.6M583.8 117.4l2.3 -1.0M586.7 137.2l2.3 -0.8M602.8 114.2l0.8 -0.8M604.0 114.1l0.7 -0.6M613.9 138.6l0.0 -3.3M602.1 122.2l0.9 -3.1M627.4 129.4l1.1 -1.0M589.5 106.0l1.0 -1.9M596.2 135.5l0.8 -3.8M573.7 113.8l1.4 0.2M606.9 133.2l1.0 -3.5M611.8 113.3l2.4 -1.0M589.6 126.3l0.9 -1.7M602.8 109.6l1.4 -0.9M629.3 81.9l0.3 -1.2M636.7 89.3l1.7 -3.5M670.3 110.7l1.6 -1.0M640.4 87.2l0.7 -0.7M629.9 79.8l1.3 -0.9M647.1 91.1l1.3 -2.6M659.2 91.6l0.6 -1.4M656.1 85.8l1.8 -1.0M611.8 77.8l2.6 -1.7M632.5 80.5l1.9 -0.9M673.7 98.1l2.6 0.2M634.1 88.9l2.0 -1.8M670.1 88.2l1.6 -2.8M619.2 87.4l1.1 -2.3M665.4 103.2l2.4 -2.5M627.4 96.0l0.2 -1.0M644.4 75.2l0.5 -0.7M638.8 92.5l0.5 -0.9M673.5 104.2l-1.3 -3.3M656.8 100.0l0.2 -0.7M622.1 67.8l2.4 -1.5M646.5 77.8l0.7 -3.4M671.5 101.7l2.7 -2.5M652.5 69.3l0.6 -0.5M649.8 92.5l1.6 -1.0M665.1 98.8l2.3 -1.5M633.4 80.8l2.7 -1.2M647.3 88.1l2.2 -2.7M660.6 90.7l0.7 -1.2M671.7 114.1l1.3 -0.3M622.8 93.7l1.6 -1.0M656.9 67.3l1.6 0.1M674.1 92.4l-0.5 -3.4M635.5 71.7l0.3 -0.7M638.3 99.1l0.7 -0.3M645.3 63.8l-0.9 -1.2M635.6 71.5l0.2 -1.4M665.3 100.6l1.3 -1.5M660.7 107.5l2.7 -1.1M645.5 96.6l-1.1 -2.1M667.8 90.6l2.9 -2.1M660.5 107.1l1.3 -1.1M622.7 76.7l0.9 -2.7M631.6 71.8l2.1 -2.4M639.8 81.1l1.1 -0.6M662.9 98.9l0.6 -1.1M622.0 84.8l1.7 -1.4M637.1 89.0l0.7 0.4M652.6 90.2l1.2 -2.8M676.6 99.2l0.1 -1.0M647.3 93.8l0.6 -0.2M678.9 93.2l2.6 -0.8M635.5 82.1l0.9 -0.6M683.5 108.5l1.7 -3.0M667.7 80.6l-0.4 -3.7M658.9 113.3l1.9 -2.8M624.9 87.1l1.7 -0.2M624.6 89.4l1.3 -1.3M627.6 95.1l1.9 -2.0M669.6 79.3l3.4 -1.5M642.4 77.6l0.9 -1.3M641.2 82.2l2.3 -1.9M666.0 102.0l0.4 -0.6M633.6 84.5l3.1 -0.1M643.3 100.1l-0.1 -2.0M634.1 100.6l0.5 -2.3M664.4 77.5l2.6 -2.2M660.5 89.3l0.0 -1.6M659.7 88.4l0.7 -0.6M632.2 93.8l3.9 -0.5M645.8 69.4l0.0 -0.8M640.9 68.5l-0.7 -1.4M653.2 86.7l3.1 -1.8M661.3 95.7l1.2 -2.7M653.6 83.8l0.5 -2.5M621.8 83.9l1.0 -2.3M650.0 100.7l2.5 -0.1M674.4 117.4l1.3 -0.7M663.1 94.9l2.3 -1.0M645.6 104.0l-0.0 -1.0M641.1 96.6l0.6 -0.6M603.9 77.3l1.0 -2.2M635.6 88.6l0.2 -1.2M676.7 97.2l3.0 -1.3M673.0 108.8l1.3 -1.4M676.4 103.0l0.5 -1.2M675.9 81.6l-0.2 -2.5M658.4 111.9l1.1 -1.4M614.1 75.3l0.7 -1.7M648.3 84.3l2.4 -1.2M663.3 97.2l1.4 -3.5M643.9 77.0l-0.3 -1.2M663.8 89.7l0.3 -0.6M672.2 114.5l0.3 -1.2M643.9 81.1l0.2 -1.1M671.6 87.4l2.5 -1.5M646.2 96.3l3.1 -1.7M651.1 86.1l1.0 -0.7M622.7 64.4l0.9 -0.7M664.4 84.7l1.6 -3.2M644.1 81.8l2.9 -2.2M643.3 83.7l0.3 -1.1M671.2 87.2l0.7 -1.7M676.3 101.9l1.6 -0.7M649.6 92.7l0.6 -0.9M643.3 76.5l0.3 -1.5M653.6 75.9l1.4 -3.6M653.8 90.5l1.7 -1.8M620.7 67.0l0.4 -1.5M681.4 96.0l1.0 -1.3M650.1 79.1l1.8 -0.9M664.6 100.2l1.6 -0.7M648.7 81.7l1.1 -0.9M638.9 89.6l0.5 -0.3M636.9 66.6l1.2 -1.1M650.3 93.4l0.5 -1.5M637.9 67.2l2.6 -0.1M658.4 96.9l2.3 -1.2M645.6 89.0l0.4 -3.5M668.4 103.8l1.9 -3.1M661.6 102.2l0.9 -1.2M647.1 78.7l1.4 -1.3M671.3 111.4l0.1 -1.3M642.1 82.1l2.7 -2.0M631.9 86.1l1.8 -1.6M675.2 87.3l2.4 -2.8M666.8 96.7l-0.2 -2.0M643.6 75.1l0.4 -0.7M654.6 82.7l0.7 -2.2M636.6 76.8l2.2 0.3M616.2 90.3l2.3 -2.0M641.4 90.1l1.0 -0.5M674.9 86.0l2.0 -1.6M620.6 68.6l0.6 -2.6M679.6 101.7l3.1 -0.6M655.3 80.2l2.9 -1.3M645.7 84.1l3.5 -1.4M649.5 90.0l0.3 -2.2M683.2 107.1l0.7 -0.8M669.7 103.9l2.2 -1.1M653.6 100.1l3.6 -0.9M649.7 91.5l2.0 -2.5M653.3 77.2l2.1 -0.5M670.4 111.9l0.2 -0.8M629.4 82.4l1.2 -2.2M679.2 96.2l0.8 -1.1M668.3 88.7l0.9 -0.9M657.1 73.3l1.3 -0.9M650.1 82.0l1.7 -3.1M662.6 87.2l2.2 -2.2M635.0 74.4l3.2 -1.6M658.9 110.1l-0.0 -2.6M653.7 97.4l1.4 -3.3M617.0 91.3l3.0 -1.9M645.0 93.0l2.4 -3.1M662.0 112.1l0.8 -0.5M672.9 109.8l2.8 -2.5M653.7 90.2l1.0 -1.0M610.0 85.6l0.9 -1.0M637.7 85.8l0.6 -0.3M645.0 91.5l1.0 -2.0M659.1 103.7l0.6 -1.1M637.1 81.8l0.0 -1.0M627.8 90.9l1.5 -3.4M639.3 82.7l0.3 -1.2M645.3 91.7l0.1 -0.7M651.3 77.8l0.3 -0.6M642.8 67.8l-0.3 -2.4M644.1 83.5l0.2 -1.7M628.5 87.4l2.0 0.3M645.5 95.9l1.1 -2.4M633.8 88.2l1.2 -0.3M673.6 106.1l-0.3 -0.7M645.6 75.9l0.6 -2.7M642.0 85.8l1.8 -2.6M668.6 85.0l2.2 -1.5M653.2 75.4l0.0 -1.9M647.8 75.0l0.1 -2.4M629.8 71.4l2.3 -0.8M646.1 105.1l1.3 -0.7M635.7 79.4l0.1 -2.2M647.4 94.9l0.1 -3.8M652.4 66.1l0.6 -1.3M658.6 114.7l0.1 -2.2M616.2 85.7l2.3 -2.5M655.0 85.1l0.6 -0.9M663.8 80.5l2.3 -0.6M638.4 85.2l1.9 -0.4M652.9 75.9l2.3 -2.3M651.6 82.1l0.6 -2.8M667.2 97.9l1.5 -0.8M644.3 88.0l0.6 -1.2M641.3 94.0l1.5 -0.4M637.4 91.8l3.2 -1.3M662.6 100.4l0.7 -1.9M662.7 77.1l1.7 -0.8M659.8 79.5l1.5 -0.6M617.7 84.3l1.1 -3.2M619.7 87.4l2.9 0.8M620.2 89.1l1.7 -0.4M668.2 85.7l2.0 -1.2M682.7 91.3l0.1 -0.7M662.7 82.0l2.8 -2.3M622.3 81.7l1.9 -1.4M619.4 73.9l0.1 -0.7M642.0 70.0l1.9 -2.6M636.8 83.8l2.4 -2.3M654.2 94.3l1.4 -2.8M648.5 79.5l-0.2 -2.2M676.8 108.3l-1.6 -1.3M605.1 78.9l-0.3 -1.0M629.4 93.1l0.5 -0.3M647.1 86.7l1.3 -0.8M670.5 85.4l1.1 -2.1M654.8 82.2l3.3 -0.1M661.5 86.3l1.2 -0.5M660.7 83.5l1.9 -1.2M632.5 74.4l2.7 -1.9M648.0 81.6l1.8 -0.8M632.1 76.0l1.0 -1.1M632.9 75.1l-0.6 -2.5M667.8 102.2l2.8 -0.1M655.0 107.3l0.9 -0.8M675.7 93.0l-0.4 -3.3M650.3 84.0l0.3 -1.3M656.9 85.8l2.3 -2.9M650.3 108.2l3.4 -1.8M616.8 83.4l1.4 -0.5M628.6 81.5l2.0 -2.2M685.5 112.0l1.0 -1.2M679.3 95.5l1.0 -0.4M666.7 90.6l3.1 -1.5M674.8 113.6l0.4 -0.6M620.3 88.1l0.5 -1.3M653.3 69.6l1.5 -1.5M645.6 81.0l3.4 -0.6M650.9 78.5l0.9 -1.5M654.0 75.3l3.3 -1.8M657.3 104.1l0.3 -2.4M656.7 95.9l1.5 -0.3M620.2 79.3l0.7 0.1M645.5 83.3l0.4 -1.7M653.3 90.1l1.0 -3.1M643.7 90.8l2.3 -1.1M662.0 98.7l-0.1 -2.2M672.2 102.6l0.4 -0.8M643.0 74.7l0.7 -1.7M643.8 79.3l1.0 -0.6M635.3 96.8l-0.5 -2.2M651.9 94.6l3.1 -1.8M667.6 90.7l1.2 -1.9M656.5 106.0l0.9 -2.1M661.5 87.0l0.7 -0.7M609.0 71.5l1.2 -2.3M633.4 81.2l0.5 -1.4M668.4 100.0l0.8 -2.2M661.8 96.2l3.1 -1.0M647.9 83.3l-0.7 -1.2M659.1 84.5l-0.4 -1.7M662.2 81.0l3.7 0.7M655.9 80.2l0.7 -0.6M640.9 106.2l2.2 -1.9M670.3 162.0l1.0 -0.9M690.9 167.4l-0.5 -2.2M651.8 165.4l0.5 -2.7M659.3 168.8l2.1 -2.7M653.8 143.7l0.2 -1.1M687.3 161.1l2.9 -1.1M645.9 141.0l-1.0 -3.2M648.0 134.8l2.5 -2.3M689.2 169.4l0.8 -3.3M657.2 157.9l1.3 -1.7M672.1 175.4l0.6 -3.0M629.5 148.3l0.4 -3.3M636.5 154.4l2.9 -1.9M640.5 155.1l2.0 -2.8M659.5 147.1l0.6 -0.8M672.9 143.6l0.5 -2.6M662.8 154.7l3.0 -1.7M653.0 137.8l0.4 -0.8M668.0 157.2l1.1 -2.7M688.1 173.2l0.5 -1.1M662.8 166.9l0.7 -3.6M639.4 148.6l-2.9 -2.5M653.4 156.3l1.1 -0.1M659.6 149.7l1.1 -0.5M651.8 149.3l0.5 -1.7M673.0 168.4l0.5 -3.5M646.6 169.8l0.5 -2.8M677.5 169.4l1.8 -1.0M660.4 139.4l0.0 -1.9M635.5 132.9l0.5 -3.6M658.1 153.8l1.9 -2.9M658.3 132.2l1.2 -1.7M626.0 142.9l0.7 -0.8M667.6 169.5l2.3 -1.2M665.1 152.6l-0.1 -1.5M666.3 141.7l-1.3 -2.1M689.6 151.6l-0.3 -2.9M662.6 130.1l1.3 -0.9M674.2 170.0l-0.3 -1.8M667.5 167.7l3.1 -1.8M681.6 168.4l0.7 -0.4M649.1 157.3l3.1 -2.4M662.8 139.0l1.3 0.2M645.9 155.9l0.5 -0.8M689.8 166.2l3.0 -2.2M624.9 138.2l1.8 -2.1M639.1 152.0l2.1 -0.6M639.3 130.3l1.6 -2.7M669.6 170.9l0.5 -1.5M654.4 138.6l3.2 -0.2M673.7 145.6l1.6 -3.5M654.1 157.3l-0.1 -0.8M654.1 140.1l0.5 -3.3M667.9 162.5l2.7 -0.8M658.8 140.4l-0.3 -1.9M690.3 158.8l-0.1 -1.8M681.9 157.2l2.7 -2.3M640.9 135.5l2.1 -2.0M655.8 144.8l1.4 -1.4M626.3 130.2l0.5 -2.8M656.2 137.5l1.5 -3.1M679.5 134.5l0.2 -1.1M651.6 164.3l0.4 -3.4M671.2 173.0l0.9 -2.8M643.2 158.2l2.6 -2.2M654.0 156.4l1.3 -0.5M663.3 177.6l0.8 -1.6M660.2 144.8l1.9 -2.9M663.6 146.7l0.6 -1.4M675.1 164.4l1.5 -2.0M654.0 149.8l0.5 -1.3M653.3 136.6l0.5 -1.6M653.8 149.1l1.0 -3.3M675.0 141.9l0.4 -0.6M662.5 136.3l0.5 -0.7M648.3 126.3l0.4 -2.6M676.0 150.5l1.5 -3.2M691.6 167.5l-0.3 -3.9M664.0 162.9l2.5 -1.6M661.7 135.6l1.3 -1.2M677.2 158.0l2.5 -1.9M642.2 138.1l0.6 -1.1M649.8 142.3l2.8 -1.0M690.1 163.3l3.7 -1.0M647.1 141.5l0.6 -1.2M693.4 171.7l1.0 -2.9M652.4 140.3l2.0 -1.8M758.6 200.4l0.5 -0.5M741.4 220.2l0.2 -2.1M747.6 198.7l0.7 -0.9M739.5 192.6l0.3 -3.4M746.2 198.9l0.7 -2.4M744.5 189.5l2.4 -2.8M762.8 201.9l-0.2 -3.1M760.4 209.5l0.2 -0.6M735.0 211.2l1.9 -0.1M743.8 194.7l0.1 -0.7M768.4 191.5l0.3 -0.8M754.5 217.7l0.7 -2.7M740.1 202.3l1.6 -3.3M754.7 188.2l0.6 -1.1M721.4 178.4l1.3 -2.5M712.7 196.3l0.6 -0.5M727.7 179.7l1.5 -2.5M744.1 168.6l0.0 -2.2M742.9 183.4l1.2 -0.8M759.5 170.8l3.1 -1.4M742.0 159.5l0.7 0.1M767.3 210.7l0.4 -0.7M732.9 213.3l-0.4 -3.7M719.2 167.3l0.5 -0.4M750.6 184.0l2.0 -3.4M733.1 184.8l0.8 -2.2M754.0 222.3l2.2 -2.9M736.0 199.7l0.4 -3.4M723.9 171.8l1.6 -2.1M725.8 200.9l1.2 -1.1M742.6 189.7l3.1 -0.2M744.6 199.2l0.1 -1.0M745.1 177.5l2.1 0.1M781.9 200.5l0.4 -0.8M763.0 161.0l2.9 -1.9M759.9 189.9l1.1 -0.2M746.5 188.6l0.8 -0.3M771.5 189.7l0.6 -2.1M718.9 185.4l2.7 -0.8M725.4 188.1l-1.4 -3.1M746.9 186.1l2.3 -1.8M726.7 185.0l1.5 -3.5M716.3 178.7l0.7 -1.3M760.7 198.6l1.5 -1.5M769.1 206.3l2.4 -2.9M745.4 187.7l1.7 -1.1M754.9 200.5l3.0 -2.0M736.0 187.5l-0.8 -3.5M763.5 178.5l0.7 -0.7M740.7 171.1l0.7 -2.3M755.3 195.7l0.6 -2.3M718.9 189.8l1.5 -3.4M749.8 202.5l1.0 -1.2M744.7 187.5l3.9 -0.7M741.5 209.0l0.9 -2.8M721.2 170.4l0.4 -1.4M765.1 213.0l0.7 -1.1M737.4 166.5l0.2 -3.0M739.3 193.0l0.7 -0.4M742.9 195.2l1.6 -1.6M771.2 205.4l0.9 -1.2M727.8 191.2l1.5 -1.3M750.2 171.3l3.1 -0.1M776.6 192.9l0.7 -0.1M757.3 185.9l2.6 -2.3M723.7 171.6l0.8 -1.0M756.1 191.8l-0.0 -2.8M730.6 183.3l0.7 -0.6M761.2 201.1l0.8 -2.7M738.6 188.3l2.1 -2.8M715.3 192.7l0.7 -0.8M742.8 169.6l0.9 -0.5M725.2 214.1l0.0 -1.6M761.5 206.3l1.1 -0.8M727.0 189.3l-1.0 -2.6M734.7 213.4l2.6 -2.3M742.6 193.6l1.8 -1.1M757.5 198.1l0.4 -0.9M734.7 183.2l0.5 -1.3M738.1 203.9l1.6 -1.5M768.5 198.5l0.6 -0.6M717.1 208.8l2.3 -0.5M738.7 198.7l2.2 -2.8M753.7 192.3l2.1 0.3M748.7 184.2l1.0 -1.9M760.0 191.3l0.2 -1.0M763.8 203.1l1.2 -0.3M749.0 188.3l1.2 -1.8M757.8 172.4l-0.1 -1.4M748.8 185.7l1.3 -3.1M774.9 202.5l-0.4 -3.5M766.1 214.5l2.1 -1.6M752.9 191.1l1.2 -0.6M744.0 198.6l2.4 -2.1M716.3 185.9l0.5 -0.4M754.8 171.1l2.4 -2.9M742.7 177.0l3.2 -1.3M738.3 203.9l1.0 -1.7M718.5 196.1l0.3 -0.6M751.4 195.6l1.5 -2.2M731.8 204.0l1.3 -2.1M736.6 183.6l2.9 -2.5M745.0 200.0l-0.7 -2.3M721.7 186.0l0.8 -0.9M736.9 170.3l1.8 -0.8M712.4 199.3l-0.5 -1.4M763.8 197.4l0.6 -0.5M732.1 197.9l1.0 -1.3M721.9 184.1l2.6 -2.3M729.7 165.8l0.8 -1.2M746.4 165.8l3.3 0.2M720.1 172.3l2.6 -2.6M739.3 179.0l1.7 -2.4M765.4 188.5l2.5 -1.4M759.3 218.7l-0.3 -2.7M748.6 194.0l1.2 -1.9M750.4 162.2l2.5 -1.2M758.2 207.3l3.4 -1.8M758.8 191.8l0.5 -3.1M761.8 205.4l0.5 -1.3M739.0 202.5l0.6 -0.4M760.8 195.2l1.7 -2.0M769.0 199.5l0.8 -1.6M723.4 183.7l0.6 -0.3M746.9 179.5l1.8 -0.3M730.6 194.7l0.0 -2.8M735.5 218.8l0.9 -1.4M716.7 187.8l0.2 -1.3M762.6 207.4l1.7 -2.6M743.8 203.1l1.7 -2.4M755.9 199.5l0.4 -1.5M722.8 183.6l2.0 -1.4M727.6 196.9l1.3 -1.8M744.4 201.2l0.6 -0.7M740.4 161.3l1.1 -1.0M728.2 161.4l1.1 -0.6M768.9 197.4l0.7 -0.4M777.8 190.3l1.2 -0.6M772.4 173.7l0.3 -0.9M745.2 179.3l-0.8 -3.2M740.9 196.6l1.0 -2.7M736.4 193.5l0.9 -0.3M743.7 176.2l0.1 -1.5M754.2 196.8l1.4 -2.7M738.1 202.9l1.0 -2.6M719.1 180.8l0.7 -1.5M746.2 175.9l0.8 -0.8M762.7 221.7l-0.3 -3.8M757.9 181.9l0.9 -1.4M743.7 181.2l0.4 -0.7M736.8 182.0l3.2 -2.0M731.3 182.2l1.7 -1.5M732.0 176.2l-0.7 -3.0M736.8 190.0l1.3 -1.4M732.5 181.3l1.8 -2.2M775.8 180.1l2.1 -2.4M724.6 190.8l3.5 -1.2M807.7 268.5l2.2 -1.6M829.2 268.8l2.9 -2.7M853.0 235.0l1.1 -1.2M854.8 309.4l1.3 -2.9M844.6 262.3l2.6 -2.8M847.0 286.2l2.2 -2.3M833.0 282.1l1.6 -1.8M850.8 262.1l0.7 -0.9M817.5 238.0l1.0 -1.0M847.0 273.9l0.8 -1.3M798.2 274.6l0.7 -1.4M796.1 238.2l2.3 -2.1M837.0 283.2l1.8 -2.9M815.2 267.8l-1.1 -1.0M826.8 298.1l1.7 -0.3M818.0 267.1l1.7 -1.0M799.2 224.6l1.7 -2.7M857.7 278.4l2.4 -2.5M831.3 238.5l1.5 -1.0M821.7 263.5l1.2 -0.7M847.5 229.0l-0.5 -3.1M859.5 230.8l1.9 -2.8M848.0 307.4l1.5 -0.8M858.1 258.7l3.2 -1.3M874.3 302.4l-0.3 -2.8M818.4 236.9l1.2 -1.2M790.4 237.1l0.6 -1.6M826.9 273.2l1.7 -0.2M840.2 272.1l0.6 -0.6M846.0 252.5l-0.2 -2.2M842.5 301.7l1.3 -2.4M866.1 271.6l2.0 -3.1M800.6 263.0l0.2 -0.9M818.4 213.6l0.3 -2.3M818.1 286.3l0.2 -1.3M809.1 264.7l1.9 -3.3M820.6 258.7l1.4 -2.2M792.7 245.9l1.8 -0.9M835.8 292.5l-0.3 -1.8M812.3 299.8l2.4 -2.3M854.3 243.6l3.4 -1.6M826.1 284.7l0.9 -1.4M841.4 231.5l1.2 -2.6M862.2 292.2l2.9 -1.7M812.3 265.0l1.0 -3.6M832.5 269.9l2.3 -0.3M787.6 258.2l1.6 -3.4M827.6 250.4l1.9 -2.0M824.9 233.0l0.6 -1.4M802.5 252.9l1.3 -1.7M851.3 251.2l3.0 -0.9M822.8 279.9l1.9 -1.4M850.9 300.5l1.1 -2.4M857.5 229.7l1.5 -2.6M797.4 269.8l-0.3 -0.7M863.1 280.0l0.9 -0.2M855.3 276.7l0.8 -2.0M790.5 272.2l0.9 -1.1M867.7 256.2l1.3 -0.9M832.3 283.4l0.6 -0.6M863.6 271.1l1.3 -1.8M819.0 253.2l1.9 -1.8M820.6 299.8l3.2 -2.3M809.3 258.1l0.3 -2.0M869.0 283.1l2.5 -2.5M833.7 262.0l1.8 -3.0M842.6 218.1l-0.4 -1.9M812.6 254.8l0.5 -2.4M796.1 244.9l0.9 -1.6M882.5 262.2l1.0 -2.4M796.7 268.6l0.8 -1.8M831.4 277.3l2.2 -2.9M839.3 251.3l2.0 -1.0M802.0 267.3l0.9 -3.6M825.2 237.8l2.3 -1.4M852.1 255.3l0.5 -1.8M829.3 296.9l0.4 -1.5M787.0 274.0l0.6 -1.0M828.7 263.0l2.3 -2.4M834.1 284.3l0.4 -0.7M876.6 292.1l-1.6 -3.4M817.6 256.9l2.5 -1.9M788.8 278.7l2.9 -1.3M840.6 273.4l1.0 -0.2M845.4 263.6l0.5 -1.0M825.2 299.2l2.5 -1.4M812.5 279.9l1.0 -1.7M821.8 277.5l3.8 -0.8M828.9 269.0l0.9 -0.7M791.2 267.7l-0.1 -0.8M810.3 277.6l2.2 -2.5M823.2 235.5l0.9 -3.5M857.2 220.0l3.4 -0.9M870.0 276.8l0.8 -0.7M854.2 283.0l1.8 -2.8M861.4 250.0l0.4 -0.4M825.2 232.9l0.2 -3.1M831.3 240.9l0.9 -1.7M817.2 248.5l0.6 -2.6M817.0 249.0l3.7 0.1M858.9 289.8l1.0 -3.0M825.5 236.2l3.7 -0.9M842.8 295.5l0.7 -0.7M864.6 267.0l1.7 -2.6M874.1 294.6l1.0 -2.1M844.5 250.3l1.4 -2.4M791.9 259.2l1.4 -2.1M875.7 250.0l1.7 -1.3M799.7 267.8l0.4 -0.9M844.8 255.0l2.7 1.2M884.0 257.8l0.4 -1.0M834.6 238.5l0.9 -1.1M837.4 252.5l2.1 -2.8M842.3 266.5l-0.3 -2.2M843.7 269.4l0.6 -3.7M830.7 278.3l2.5 -2.3M860.3 258.3l0.7 -0.9M865.3 278.2l1.9 -2.7M794.9 231.5l-0.2 -2.4M864.2 263.9l0.9 -0.2M827.3 233.1l-0.2 -1.4M789.1 234.1l3.0 -2.5M838.2 250.1l0.1 -2.0M832.3 279.0l0.5 -2.1M850.9 250.6l2.8 -1.5M829.9 248.7l-0.8 -3.5M865.1 314.4l1.4 -2.2M859.1 281.9l1.3 -2.1M837.1 272.3l1.2 -1.0M832.8 229.7l1.6 -3.5M792.7 270.3l0.9 -2.3M875.5 265.5l0.5 -1.8M811.0 267.0l2.0 -3.4M836.8 268.7l1.7 -1.8M875.4 279.2l-0.1 -3.7M868.2 295.6l2.1 -2.2M868.7 281.1l0.6 -0.2M819.1 213.9l0.4 -0.5M843.7 281.8l1.5 -3.5M817.9 244.8l-0.1 -3.9M842.9 289.9l1.7 -2.6M823.5 273.4l-0.0 -1.8M850.8 244.0l0.1 -1.1M853.1 238.9l1.4 -1.1M818.9 262.0l0.8 -0.7M819.4 215.9l-0.0 -1.1M851.4 247.6l1.0 -2.2M841.7 272.9l1.3 -1.6M868.9 302.2l1.4 -0.1M844.1 296.3l0.4 -1.9M861.5 300.6l3.3 -0.8M804.9 247.1l1.3 -3.5M820.2 263.5l1.1 -1.3M847.5 304.6l0.8 -1.9M846.5 300.9l0.5 -1.0M813.9 273.3l1.7 -3.3M810.7 246.1l0.7 -0.8M873.5 261.7l0.5 -1.0M845.8 243.8l0.5 -0.8M861.5 235.4l1.9 -1.3M886.2 268.7l0.7 -0.6M837.3 265.6l0.5 -1.3M820.4 296.4l3.4 -2.1M814.5 268.5l1.8 -2.2M863.2 279.1l0.1 -1.1M849.5 298.5l2.9 -2.7M850.8 239.8l0.7 -1.0M841.1 234.9l1.0 -3.2M800.1 255.7l0.9 -0.5M847.2 227.0l1.8 -1.9M840.9 257.2l-0.2 -1.0M826.6 267.2l1.3 -2.2M821.3 240.0l0.5 -3.0M832.8 263.9l0.4 -0.8M806.2 275.2l0.1 -1.0M793.9 259.8l0.5 -0.3M849.5 239.2l0.9 -1.5M802.2 262.3l1.6 -2.0M872.8 260.9l1.1 -1.7M837.7 248.3l1.1 -2.1M879.7 292.1l-0.5 -2.3M815.6 243.3l-0.0 -1.6M845.8 292.7l0.3 -3.1M821.5 289.2l0.8 -1.6M852.9 284.6l-0.2 -1.3M808.0 299.6l0.8 -2.7M813.0 233.2l0.2 -0.8M828.0 265.0l-0.4 -3.8M798.9 291.3l0.6 -1.3M822.5 267.0l1.8 -2.8M820.1 231.0l1.8 -1.4M807.5 251.3l1.3 -1.0M825.0 270.7l3.0 -2.2M859.1 263.8l3.0 -1.9M810.0 261.6l1.8 -0.3M808.6 251.8l1.5 -2.2M852.6 256.0l0.5 -0.4M788.6 261.7l0.5 -1.6M806.8 239.5l1.9 -2.2M830.9 242.0l1.2 -0.4M795.9 230.8l2.4 -0.8M828.1 266.8l0.3 -1.7M821.3 233.3l0.7 -1.1M809.7 273.7l1.3 -1.3M815.9 272.0l1.9 -2.9M812.6 289.6l1.9 -0.2M838.8 279.1l0.8 -3.1M848.8 290.3l0.0 -1.4M796.8 251.2l0.2 -1.9M846.0 260.2l0.9 -1.2M804.4 249.9l1.2 -1.8M834.2 266.4l0.8 -0.5M865.2 256.8l1.2 -1.0M847.7 237.1l3.1 -2.5M874.2 270.1l2.1 -2.9M810.5 265.4l0.6 -2.6M867.7 285.8l2.0 -2.0M819.6 243.3l1.3 -1.1M872.9 279.9l1.0 -0.6M840.9 226.3l0.7 -2.0M838.8 278.5l0.3 -3.4M790.3 261.0l0.5 -0.5M826.0 216.0l0.7 -1.0M826.7 301.7l1.6 -2.5M849.5 311.4l1.1 -0.5M817.5 245.7l2.1 -1.4M860.3 276.1l0.7 -1.5M843.5 233.4l1.8 -2.0M804.5 241.2l3.1 -1.5M814.6 220.6l-1.1 -1.5M841.6 294.1l-0.0 -1.0M833.8 257.8l3.7 -0.7M832.8 255.3l1.2 -0.0M866.0 258.2l0.6 -0.3M807.4 263.5l-0.1 -2.4M853.3 265.2l1.9 -3.1M842.5 265.8l0.6 -0.6M833.7 251.0l0.6 -1.0M856.7 271.1l3.3 0.5M845.9 250.7l0.8 -0.4M849.6 226.0l-0.0 -1.1M846.3 238.8l1.0 -3.1M825.0 282.7l1.5 -2.7M854.5 261.2l1.0 -2.8M835.2 283.1l1.8 0.4M811.3 238.7l0.4 -0.6M788.1 241.7l0.4 -1.3M791.7 268.7l0.3 -2.8M827.0 301.8l2.2 -0.1M799.1 226.4l0.6 -1.1M812.5 248.5l0.6 -1.4M834.2 233.7l0.6 -1.8M829.0 256.9l1.9 -2.7M800.7 297.3l0.1 -2.5M795.7 268.9l1.5 -0.6M882.8 265.7l2.1 -2.0M834.4 223.9l-0.6 -1.1M841.9 293.4l1.7 -1.6M835.4 288.8l0.3 -1.1M825.2 297.6l0.0 -1.2M858.6 249.7l2.5 -2.3M832.2 271.6l0.2 -3.2M817.6 260.0l1.6 -0.2M845.4 250.2l0.8 -2.4M825.0 242.1l1.6 -2.2M840.1 251.1l1.4 -2.1M806.3 274.2l-0.2 -0.8M827.7 272.5l1.3 -0.7M847.7 277.7l1.9 -1.1M786.6 261.6l2.3 -2.0M829.1 290.7l0.6 -0.8M852.1 223.9l2.4 -3.2M839.8 271.4l0.4 -3.7M811.1 260.2l0.8 -0.3M844.5 239.2l2.3 -2.2M864.3 259.2l-0.3 -1.2M881.6 268.1l2.1 -1.3M802.5 243.6l-0.4 -1.4M805.1 264.9l2.7 -2.4M838.8 268.0l-0.1 -2.7M814.1 225.7l1.0 -1.3M854.8 229.3l0.2 -1.3M812.8 238.7l1.1 -1.8M800.8 273.3l1.6 -0.8M865.0 280.6l1.6 -0.2M807.2 218.9l0.6 -0.8M823.4 260.8l1.6 -2.6M817.8 264.1l0.2 -1.9M819.4 280.3l1.4 -0.8M859.0 281.9l1.5 -1.5M853.8 301.3l0.6 -3.1M824.8 271.5l-0.2 -0.7M843.1 284.2l2.9 -1.4M823.0 273.0l-1.0 -2.2M847.2 298.1l1.0 -2.3M827.9 262.5l1.7 -1.2M849.7 232.0l0.2 -0.8M848.0 270.2l0.9 -1.4M837.4 254.4l1.6 -1.6M846.1 278.1l1.0 -0.9M832.2 276.8l1.0 -0.4M861.1 258.0l0.9 -1.1M884.4 274.4l2.9 -2.0M837.4 275.0l-0.2 -3.0M820.9 243.7l1.1 -0.5M813.5 254.6l1.2 -2.3M855.9 276.5l1.4 -3.0M819.4 250.1l0.0 -1.0M836.9 260.4l0.3 -2.0M857.1 269.4l3.9 0.8M819.7 268.9l-0.0 -1.3M866.0 295.2l1.4 -3.1M824.7 269.1l0.6 -1.4M832.4 246.9l1.2 -1.8M830.1 251.3l0.9 -2.0M837.7 224.1l0.7 -0.4M868.4 259.9l2.8 -1.3M836.9 237.8l0.7 -2.4M808.4 257.3l-1.7 -1.4M854.5 262.2l1.1 -2.9M800.7 223.8l2.2 -0.2M811.6 272.9l3.0 -1.4M806.1 225.6l0.4 -1.1M826.7 246.6l1.3 -1.2M845.0 269.8l0.9 -3.4M785.1 275.5l0.9 -1.4M837.3 305.0l1.1 -1.5M874.3 309.8l1.8 0.5M833.3 267.0l0.6 -0.4M845.8 308.3l0.6 -2.5M845.3 253.9l1.8 0.6M864.5 301.8l1.3 -3.1M805.8 243.7l0.8 -2.3M815.1 280.6l0.5 -1.1M803.7 242.8l-0.2 -2.6M884.5 284.0l0.2 -2.5M856.0 258.3l3.6 -1.1M836.6 225.3l2.4 -2.9M841.3 213.3l1.2 -1.2M842.1 303.4l1.9 -2.7M860.0 304.4l0.5 -1.0M815.2 246.6l3.5 -1.6M827.8 271.2l-0.1 -1.2M849.9 276.0l0.4 -0.7M854.3 248.1l2.4 -3.0M781.9 247.4l1.0 -3.1M833.9 250.0l1.8 -0.8M836.3 233.0l-1.1 -1.3M845.5 291.2l0.5 -0.6M783.6 244.9l3.0 -0.1M846.4 236.5l0.2 -0.6M813.5 261.9l2.5 -1.1M860.2 261.0l1.7 -1.0M845.4 309.7l1.3 -3.0M858.0 229.9l0.1 -4.0M840.7 259.9l1.4 -3.3M791.3 279.3l0.6 -3.6M812.3 288.6l0.7 -1.8M881.2 287.6l0.8 -2.3M869.7 279.8l-2.6 -2.6M789.1 257.6l1.6 -1.9M831.8 233.6l-0.4 -2.7M825.3 260.9l0.9 -1.4M844.7 266.0l3.2 -0.9M836.9 275.0l0.5 -1.8M812.6 297.2l0.6 -2.3M799.7 245.6l-0.8 -1.2M815.9 242.4l1.2 -1.3M851.0 224.1l1.1 -3.6M850.1 283.4l1.8 -1.5M820.5 269.7l0.5 -2.4M844.8 269.1l1.2 -1.3M853.5 265.4l2.5 -0.6M823.7 252.8l2.3 -2.5M791.7 281.6l0.4 -1.3M846.5 262.3l2.1 -2.4M857.0 314.0l1.2 -2.7M850.0 217.0l1.3 -2.2M860.1 271.8l1.8 -3.0M855.6 268.7l1.4 -2.6M820.1 260.8l-0.3 -1.6M840.8 287.4l-0.9 -3.1M838.6 277.6l1.3 -1.2M851.4 267.0l0.5 -0.7M829.4 252.1l0.6 -1.3M805.1 255.9l0.3 -0.6M841.6 285.0l-0.5 -3.2M808.2 227.3l0.3 -1.0M852.5 270.9l1.3 -0.2M814.3 269.9l0.9 -3.4M845.5 217.4l3.7 -0.8M801.8 246.0l2.0 -2.9M834.8 298.0l2.6 -1.8M831.8 293.2l0.5 -3.9M817.6 287.3l-0.5 -1.8M838.9 304.2l3.0 -1.0M828.1 243.0l1.4 -0.6M805.9 249.1l3.7 -0.1M816.9 298.1l2.8 -0.3M863.4 267.1l4.0 -0.1M834.2 278.7l0.6 -3.4M814.3 301.8l0.7 -2.1M833.6 281.3l-0.1 -0.9M851.6 278.1l0.1 -1.9M813.8 221.2l0.3 -0.9M849.3 297.3l-1.7 -2.0M868.7 270.6l1.5 -1.3M824.6 230.7l1.2 -1.7M872.7 264.3l2.3 -3.2M826.3 247.0l0.6 -0.5M843.9 289.0l-0.5 -1.3M858.1 250.6l1.1 -2.2M809.7 287.7l2.3 -1.8M856.2 259.1l-0.1 -0.8M824.0 255.7l1.5 -1.6M862.7 305.0l1.3 -2.4M856.4 288.9l1.0 -0.7M862.1 256.5l0.3 -3.0M887.7 275.2l0.4 -1.9M826.6 247.9l1.3 -3.7M817.1 236.7l0.7 -1.6M806.2 303.7l-0.2 -0.6M843.8 285.3l-0.2 -1.6M811.2 296.1l0.8 -1.4M814.1 247.1l-0.1 -3.4M857.2 284.1l4.0 0.2M815.9 289.5l1.3 -1.4M852.6 252.0l0.9 -1.0M808.1 239.5l0.0 -0.7M849.3 254.7l1.8 -1.2M850.3 249.9l-0.3 -2.7M792.7 242.7l2.0 -2.1M883.6 266.9l0.2 -1.3M812.7 272.8l0.1 -0.9M872.6 283.3l1.4 -2.8M834.4 277.1l0.3 -1.4M802.3 294.6l-0.2 -1.5M862.2 237.7l1.4 -2.1M841.6 256.6l1.1 -0.7M869.8 309.9l1.6 0.1M840.6 267.2l0.8 -0.6M821.2 264.4l0.7 -1.0M877.1 278.7l1.6 -1.7M868.2 242.1l1.7 -0.4M835.1 227.9l0.7 -1.6M832.6 252.4l2.4 -2.8M835.4 257.4l0.6 -2.3M859.1 260.8l1.0 -2.1M836.1 240.0l1.0 -3.8M822.0 303.5l0.4 -0.6M832.6 288.4l1.1 -0.5M845.3 260.0l1.9 -1.9M820.4 262.6l2.2 -0.3M859.2 275.9l1.7 -1.0M818.8 262.4l3.5 -1.4M869.4 241.3l2.6 0.1M859.8 284.7l0.6 -2.9M789.4 250.8l0.6 -0.4M820.0 263.1l0.3 -3.3M805.5 277.6l0.3 -0.6M818.7 282.4l0.1 -2.0M845.4 271.5l1.5 -2.6M861.8 247.8l2.6 -2.2M829.9 268.4l2.1 -3.1M797.6 273.3l2.8 -0.4M829.9 250.6l1.2 -1.6M839.7 259.1l2.5 -3.1M877.8 259.6l0.3 -0.7M821.6 231.8l1.4 -1.9M847.5 259.7l1.0 -3.4M841.7 274.4l2.6 -1.1M811.2 238.1l2.3 -3.2M846.0 261.5l0.9 -0.6M827.8 262.4l-1.4 -3.5M848.5 260.0l-0.4 -3.1M797.0 281.2l-0.0 -1.3M823.6 257.1l0.6 -1.7M880.8 253.7l3.0 -2.6M822.6 297.1l2.8 -1.4M837.6 218.3l-0.9 -2.2M832.2 231.4l0.1 -2.6M798.2 230.5l2.1 -1.4M867.8 264.6l1.9 -1.6M807.9 264.8l-0.6 -2.0M873.2 308.7l1.9 -2.4M804.9 258.5l0.9 -2.4M825.7 282.6l1.0 -2.0M826.2 267.2l2.6 -2.5M822.3 250.7l3.2 -0.7M811.1 247.7l1.1 -0.9M789.1 230.1l1.1 -2.4M871.1 295.9l1.4 -1.6M841.7 270.2l1.4 -3.0M840.1 235.6l3.4 -1.2M803.8 272.0l1.7 -1.1M842.6 254.7l0.4 -1.3M866.7 279.5l3.0 -1.6M823.4 304.7l1.7 0.3M828.5 235.9l0.9 -0.4M796.7 253.1l1.4 -2.4M823.5 285.8l1.0 -0.6M801.8 277.9l0.9 -3.6M845.6 251.3l1.3 -3.0M832.8 285.7l1.6 -1.4M824.7 261.4l1.0 -0.9M809.1 269.9l0.5 -3.1M873.0 254.4l3.3 -1.6M807.5 229.1l1.0 -1.6M833.8 288.9l0.9 -2.8M804.6 245.1l0.9 -0.9M861.5 273.0l0.0 -0.6M847.8 241.2l0.5 -0.7M839.7 289.5l0.1 -1.7M820.5 279.8l0.2 -1.5M859.3 302.4l-0.4 -3.6M836.2 251.9l0.5 -0.5M881.4 246.7l1.1 -2.3M815.1 256.3l2.3 -3.2M853.4 280.8l1.0 -0.0M837.2 240.0l1.9 -3.1M834.2 284.5l3.9 -0.5M835.9 224.1l0.9 -1.3M838.7 279.2l1.5 -2.2M817.8 266.2l1.7 -1.2M815.5 271.0l2.6 -1.0M822.4 250.9l2.7 -2.4M842.3 274.5l2.1 -0.8M812.2 223.3l1.7 -3.2M834.6 267.9l0.8 -1.5M834.1 301.7l2.5 -2.0M831.8 293.9l0.0 -1.0M849.3 221.4l1.7 -1.1M864.8 286.8l0.9 -0.8M820.7 261.3l0.0 -1.9M852.6 230.4l0.8 -0.4M859.3 245.7l1.3 -3.0M830.6 260.1l2.6 -2.4M809.2 271.8l2.3 -0.8M845.8 293.6l-0.8 -3.5M821.1 269.2l1.4 -2.9M821.5 240.2l2.6 -2.3M789.5 235.3l0.6 -1.6M859.0 286.9l-0.7 -1.7M844.3 240.6l2.1 -2.8M817.2 228.9l2.8 -2.2M855.0 256.4l0.8 -0.5M866.5 252.3l1.2 -2.1M800.0 254.2l0.7 -0.6M813.2 277.2l2.6 -1.1M871.8 250.9l2.4 -2.9M833.5 268.5l1.1 -0.1M805.2 223.4l-0.5 -1.0M827.5 256.9l0.3 -2.2M867.7 245.4l0.8 -1.4M805.6 245.7l0.6 -3.5M843.5 238.0l1.8 -1.7M808.4 242.6l2.1 -3.0M849.5 239.5l2.7 -2.2M857.9 273.1l-0.5 -1.8M866.6 294.7l0.5 -0.6M855.0 256.8l0.6 -1.4M824.6 259.2l3.0 -2.2M826.2 227.7l1.8 -1.9M875.6 290.1l2.5 -2.3M845.2 264.8l1.5 -1.4M878.0 302.1l2.4 -3.0M835.8 293.8l0.5 -0.6M820.0 244.7l-0.0 -2.9M833.2 245.4l2.9 -0.6M849.1 240.2l1.2 -1.8M864.8 247.0l0.8 -0.9M884.5 262.8l1.6 -1.6M854.0 276.1l-0.7 -0.7M854.1 285.4l0.7 -1.6M820.1 268.0l0.9 -3.6M813.1 269.6l1.1 -0.4M826.0 261.9l1.1 -2.2M891.9 334.7l1.8 -0.7M872.2 337.2l0.3 -0.6M896.0 338.6l0.5 -2.5M866.9 320.7l1.2 -3.2M891.9 346.8l2.1 -3.2M904.5 338.1l1.3 -2.7M889.1 322.4l3.6 -1.0M896.5 336.9l0.6 -0.6M901.1 356.9l1.8 -1.2M883.5 319.8l3.7 -1.4M909.0 312.4l0.3 -3.5M884.4 344.4l1.2 -3.3M892.4 350.5l2.4 -0.7M911.0 351.3l1.3 -1.5M887.2 310.8l0.6 -0.2M883.6 348.3l2.6 -2.1M883.8 331.6l0.7 -3.1M861.9 332.2l0.9 -1.1M879.3 335.3l2.3 -1.9M901.3 342.6l1.9 -1.2M874.7 346.7l0.7 -2.9M895.7 356.0l2.0 -1.9M878.8 360.0l1.2 -2.6M910.6 322.9l0.2 -2.2M867.4 309.9l0.9 -2.5M908.9 322.2l2.5 -2.7M896.9 348.9l1.1 -1.3M898.1 350.5l0.7 -2.9M893.8 345.1l-0.2 -3.8M882.1 343.1l0.6 -1.7M888.8 335.2l-0.3 -1.6M914.4 318.0l-0.6 -2.8M888.3 335.9l0.4 -0.6M910.0 317.5l0.6 -1.1M904.7 331.6l0.7 -3.8M907.6 338.9l1.6 -2.8M891.3 341.7l1.5 -0.9M863.8 326.2l1.7 -2.0M894.3 328.1l0.5 -3.2M908.1 332.3l3.0 -2.6M910.6 312.4l1.1 -0.1M900.0 329.7l0.0 -1.7M884.0 326.6l0.8 -1.5M881.8 325.9l1.1 -1.7M877.8 359.0l2.5 -2.3M867.9 305.2l0.6 -0.7M921.3 329.9l1.5 -1.8M910.9 315.7l2.9 -1.7M890.2 335.2l2.0 -2.5M920.8 327.0l0.8 0.2M877.2 324.8l-0.6 -3.9M914.7 313.6l0.8 -1.5M857.8 317.1l2.4 -1.8M863.7 331.0l-0.1 -2.5M863.3 320.6l0.7 -0.5M885.4 339.8l2.0 -2.3M907.4 313.8l0.6 -1.2M878.0 296.8l0.9 -2.3M871.1 325.4l1.0 -0.5M866.0 319.5l0.7 -1.3M882.3 324.5l0.1 -1.6M863.3 336.7l0.7 -2.7M887.3 298.2l1.7 0.7M882.7 331.5l0.4 -0.9M862.2 348.3l1.0 -0.4M872.9 340.0l1.1 -1.5M884.0 331.0l0.9 -1.2M906.8 335.3l1.3 -1.1M897.6 361.0l1.7 -2.6M881.1 332.3l2.1 0.2M894.0 332.8l0.9 -2.1M893.5 321.3l2.7 -1.0M894.0 305.4l1.2 -1.5M867.5 341.6l-0.8 -3.6M884.7 360.9l0.5 -1.1M869.4 350.1l-0.3 -3.4M861.7 341.8l1.8 -2.3M868.6 359.2l1.1 -0.5M879.1 344.1l0.6 -2.7M859.4 326.1l-0.1 -1.3M882.1 319.7l0.9 -1.1M909.1 322.6l2.8 -0.4M883.9 342.8l1.3 -2.3M866.0 340.1l2.2 -1.5M883.8 361.2l0.1 -1.4M901.7 307.1l1.9 0.1M865.3 319.1l3.4 -0.4M910.5 312.6l1.1 -2.5M897.5 323.7l0.7 -2.4M884.9 335.5l0.8 -2.9M874.6 314.8l1.1 -2.8M887.1 328.5l2.2 -0.5M900.8 341.4l1.7 -0.7M901.2 324.4l0.5 -0.8M881.0 324.6l0.2 -1.2M909.1 322.5l1.1 -1.6M883.6 333.4l2.1 -1.3M892.7 322.5l2.6 -1.8M868.1 303.8l0.5 -0.4M901.3 330.8l1.6 -1.1M898.2 343.6l2.5 -0.7M909.1 309.5l0.2 -1.7M878.6 307.6l0.5 -0.7M885.4 310.3l1.1 -3.6M870.0 327.6l2.3 -2.8M878.1 338.6l2.4 -2.2M884.9 348.7l1.3 -3.0M917.1 340.0l2.1 -0.6M905.2 336.2l1.2 -0.9M883.5 350.1l2.3 -2.7M884.8 294.0l0.1 -1.1M875.7 338.2l2.8 -2.5M903.6 315.2l2.6 -0.5M873.0 298.5l1.8 -3.1M877.3 342.1l-0.0 -1.1M903.0 317.6l0.7 -0.8M903.9 314.1l1.5 -0.6M857.5 318.4l1.5 -1.5M894.3 333.8l2.3 0.1M889.0 319.1l1.4 -1.7M873.1 301.6l0.4 -1.2M862.0 345.3l1.8 -1.0M896.1 336.4l2.1 -2.9M881.8 338.1l1.3 -1.5M895.9 342.3l2.8 -1.1M894.9 329.5l1.4 -2.2M872.5 320.2l1.7 -3.0M876.4 325.4l1.0 -1.1M908.9 355.8l0.8 -0.7M897.0 334.5l0.6 -1.2M875.9 354.3l1.7 -2.2M887.5 331.9l3.0 -1.9M877.1 362.0l-0.0 -3.6M856.8 335.7l1.6 -2.2M907.1 320.4l0.7 -0.7M890.3 355.9l1.0 -1.1M909.0 323.4l1.7 -0.6M880.8 326.4l3.3 -1.1M865.1 326.9l2.5 -0.7M874.4 333.8l1.6 -0.6M866.8 309.0l0.1 -0.7M910.7 314.3l0.2 -2.2M890.5 315.4l0.0 -1.5M879.4 331.7l2.3 -0.3M870.4 328.9l3.4 -0.1M873.0 309.4l2.0 -1.9M896.7 362.5l1.0 -2.7M897.3 341.6l0.6 -1.7M913.5 320.5l2.0 -1.6M888.9 336.3l1.9 -2.1M870.6 314.4l-0.8 -1.4M890.7 337.3l1.0 -1.5M866.0 350.1l-1.1 -2.1M887.5 335.6l0.3 -0.6M903.6 310.9l1.3 -2.5M916.4 311.9l2.1 -1.7M886.9 338.9l1.2 -3.5M894.1 321.3l-1.6 -3.2M900.2 298.8l-0.2 -0.9M893.9 333.3l2.6 -2.4M886.7 328.3l-0.4 -0.7M903.5 301.7l-0.1 -1.0M885.1 318.6l1.4 -1.0M868.6 357.7l2.0 -1.9M914.0 341.8l0.7 -0.4M858.4 326.8l0.3 -0.8M893.7 321.4l-1.6 -3.6M895.8 313.1l1.7 -2.3M901.2 315.0l-0.1 -1.5M890.3 342.3l1.8 -1.4M888.6 323.8l1.3 -0.8M881.7 329.0l0.2 -0.9M890.8 327.7l0.6 -2.9M888.8 311.8l0.1 -1.2M892.0 322.4l1.4 -0.9M903.1 298.5l1.2 -1.9M862.1 324.1l0.3 -0.6M890.3 325.8l1.3 -3.3M897.2 306.9l1.5 -2.7M874.0 327.4l0.6 -1.9M877.4 329.1l1.4 -3.3M865.2 329.8l2.1 -2.0M879.4 310.1l1.0 -1.1M919.9 339.5l3.7 0.0M894.5 340.5l1.9 -1.3M871.8 349.2l2.9 -2.5M902.1 321.6l1.1 -1.1M864.6 339.0l-0.2 -0.8M904.6 346.5l0.0 -1.9M869.9 331.9l0.2 -0.6M911.9 319.7l2.0 -2.0M873.3 340.4l0.7 -2.1M892.6 338.7l2.6 -1.0M889.9 336.9l1.0 -3.0M907.4 354.1l3.2 -0.7M911.4 304.4l1.1 -3.1M894.7 303.7l0.5 -1.1M872.5 352.4l-0.1 -1.6M888.3 335.2l0.4 -0.7M872.6 344.3l0.9 -1.7M908.5 331.7l0.3 -2.7M875.1 344.0l1.2 -2.1M878.9 322.5l-0.3 -1.1M889.8 325.7l2.4 -2.9M890.1 355.1l0.6 -0.9M893.5 346.2l0.2 -2.0M864.2 322.0l1.2 -0.9M868.7 335.6l1.6 -0.9M889.4 326.4l-0.4 -2.9M905.8 352.8l1.5 -0.8M919.9 381.6l-0.1 -2.9M950.7 379.3l2.3 -1.1M929.6 356.5l1.5 -1.4M939.8 392.7l0.9 -0.8M925.9 369.5l2.2 -2.9M949.2 389.6l2.2 -1.9M922.3 377.8l1.2 -3.1M917.1 362.2l0.3 -2.1M950.2 395.4l0.5 -3.8M954.4 414.3l3.1 -1.7M922.2 398.8l1.3 -1.9M948.0 406.1l2.1 -1.0M937.2 381.2l1.0 0.0M929.2 364.2l0.3 -2.1M925.5 390.1l1.3 -2.1M944.6 402.9l0.5 -3.5M928.2 410.2l1.1 -1.1M923.6 369.7l0.2 -1.7M954.2 396.1l1.6 -1.7M923.3 391.7l2.8 -1.8M938.0 413.2l0.7 -0.2M949.7 375.2l1.3 -1.8M952.6 377.7l0.3 -2.5M945.6 368.8l0.6 -1.4M945.0 368.6l0.8 -2.5M930.9 416.9l0.8 -0.8M931.8 383.5l0.6 -0.4M937.6 421.7l1.7 -1.5M939.0 405.0l0.3 -0.8M928.5 381.3l0.9 -2.8M912.8 363.8l1.5 -3.5M959.2 400.5l-0.3 -2.6M916.4 416.6l2.6 -1.4M906.1 365.8l2.3 -2.4M921.6 364.4l2.3 -2.8M935.6 376.2l2.1 -2.7M936.6 395.6l1.2 -2.9M917.5 364.1l1.0 -3.7M911.4 383.8l-0.1 -2.2M950.3 408.5l3.3 -1.7M936.7 360.0l1.3 -1.3M925.4 393.5l1.2 -2.9M942.6 363.6l2.5 -2.5M932.3 368.9l2.4 -2.6M919.6 398.1l-0.2 -1.3M938.2 366.0l2.1 -0.9M929.3 409.4l2.4 -3.1M941.7 388.2l2.7 -2.2M929.5 384.4l0.5 -1.5M934.2 370.0l2.1 0.1M937.7 411.8l-0.1 -1.0M931.6 406.4l1.3 -1.0M934.1 357.4l1.3 -3.4M927.5 397.3l3.2 -0.9M953.2 393.0l-0.6 -1.5M942.8 354.3l1.0 -3.0M930.4 412.4l0.0 -1.9M938.8 379.0l1.2 -3.2M943.7 399.7l3.1 -1.7M933.3 390.3l2.1 -3.2M936.5 390.1l2.8 -1.6M961.9 395.3l1.1 -1.5M953.5 396.4l1.0 -1.5M927.1 406.2l3.6 0.0M913.7 375.3l0.5 -1.1M947.1 394.2l1.6 -0.5M937.7 359.1l3.4 -0.5M954.2 356.7l0.8 -1.2M928.6 365.7l1.1 -2.8M929.7 374.5l0.6 -0.1M918.9 366.5l1.0 -2.9M939.6 406.4l1.1 -1.0M922.5 376.8l0.9 -1.0M964.6 383.5l0.6 -2.4M928.7 377.8l-0.3 -2.3M935.9 374.3l2.7 0.2M966.5 401.3l1.2 -3.4M963.2 411.4l-0.1 -0.8M942.5 372.1l1.3 -3.1M915.4 414.4l0.4 -4.0M959.0 378.3l1.1 -2.9M918.1 361.2l0.8 -1.1M932.5 423.5l1.3 -3.2M907.5 359.0l1.5 -2.4M955.6 386.0l2.7 -2.8M955.5 398.6l2.4 -2.4M968.3 392.3l2.5 -2.1M924.2 402.5l0.9 -2.0M957.7 377.4l1.8 -2.3M936.2 384.1l2.5 -2.3M929.6 373.2l1.1 -2.8M951.5 391.1l-0.0 -2.9M929.7 393.8l0.9 -1.4M910.6 394.8l1.7 -1.4M940.7 385.5l2.0 -0.6M964.7 408.0l3.1 -1.2M925.5 407.9l1.0 -3.8M922.4 400.3l2.0 -3.3M927.7 404.5l0.0 -1.7M902.9 380.3l1.3 -3.8M931.2 361.6l3.1 -1.5M951.0 392.7l-0.6 -2.8M955.0 393.7l0.3 -1.5M923.0 361.1l1.8 -1.9M946.9 374.6l1.0 -1.2M943.5 411.2l-0.3 -1.0M951.1 384.2l0.5 -0.7M957.4 400.2l1.3 -1.8M930.4 374.5l0.5 -0.9M942.3 391.7l2.3 -2.4M939.1 380.9l2.8 -1.8M912.1 373.6l0.9 -0.1M935.2 378.8l0.4 -0.8M926.5 370.0l-0.0 -1.4M922.0 387.0l0.4 -3.5M913.7 379.9l1.7 -3.2M939.2 361.3l-0.5 -2.6M936.5 369.2l1.2 -2.0M935.4 386.9l2.2 -1.0M913.0 391.0l2.4 -1.0M916.5 374.4l0.5 -2.3M931.7 380.7l0.6 -1.4M928.1 402.2l0.3 -2.2M916.8 370.9l-0.5 -1.0M940.5 368.4l0.8 -0.8M916.5 371.8l2.7 -1.5M936.2 372.6l1.5 -1.1M935.6 378.3l1.7 -1.4M953.7 406.4l1.2 -1.6M963.9 382.9l2.2 -2.6M931.0 400.1l2.9 -0.6M915.3 400.5l1.4 -1.5M945.6 383.6l2.6 0.5M958.8 384.4l-0.9 -3.0M941.0 398.4l0.3 -0.7M932.5 389.7l2.9 -2.3M938.8 369.1l2.7 -2.8M943.8 358.4l0.9 -0.3M940.8 360.7l1.7 -2.8M939.8 411.1l2.0 -1.1M936.1 371.7l1.2 -1.0M971.0 381.6l1.0 -2.9M955.7 390.4l0.9 -1.1M904.9 379.6l0.2 -0.7M916.4 361.3l0.6 -0.3M900.6 369.4l2.5 -1.4M959.6 372.0l1.5 -1.8M913.1 409.6l1.3 -1.5M925.3 402.2l0.4 -1.3M964.2 401.6l0.9 -3.4M951.1 402.1l2.0 -2.4M916.6 410.1l2.7 0.3M925.0 369.9l0.2 -1.0M926.7 407.7l0.5 -3.1M906.2 370.8l1.0 -0.3M934.4 374.4l0.4 -0.8M926.5 354.1l1.6 -2.4M956.9 388.2l-0.3 -3.7M962.8 403.4l0.1 -0.6M918.4 403.6l2.1 -1.9M940.1 379.1l1.5 -1.8M925.9 421.9l-0.2 -1.8M937.7 395.8l-0.1 -1.3M949.5 408.6l1.4 -3.6M910.1 398.0l0.3 -0.5M937.0 409.5l0.9 -0.3M927.9 408.3l1.8 -1.6M936.7 375.9l0.2 -0.9M916.8 387.6l3.1 -2.5M938.6 407.6l3.0 -2.4M936.6 375.4l-0.6 -2.4M910.1 384.1l2.2 -1.0M917.3 402.8l-0.6 -0.7M961.7 365.9l2.6 -1.8M946.8 354.8l1.0 -1.6M922.7 382.3l0.7 -1.1M943.0 401.6l3.1 0.1M960.4 411.2l1.3 -3.2M954.3 377.1l3.5 -0.5M942.2 364.3l-0.1 -1.1M955.0 397.2l1.3 -2.3M914.3 384.3l3.9 -0.2M925.5 365.9l0.7 -1.9M937.0 399.5l0.8 -0.8M949.5 373.8l-1.2 -3.4M919.3 410.1l0.3 -2.1M936.0 410.8l1.0 -1.3M930.1 373.1l0.5 -2.0M952.8 384.2l3.6 -1.4M928.6 372.8l1.5 -2.9M902.9 388.1l0.3 -3.7M914.5 374.9l1.1 -1.9M946.1 389.8l1.6 -3.6M942.0 378.5l1.7 -2.1M936.8 398.9l1.7 -2.1M933.6 379.2l-0.0 -2.3M932.5 386.4l0.3 -1.8M932.5 403.2l1.9 -2.9M912.7 386.2l2.6 -2.2M944.1 408.2l1.3 -1.7M916.5 398.0l0.6 -0.8M912.0 405.2l0.7 -0.1M942.6 406.3l3.0 -2.6M946.4 389.6l0.7 -3.7M948.9 386.7l1.1 -1.2M927.8 365.8l-1.1 -3.7M937.1 379.0l1.4 -1.8M944.5 386.4l2.5 -0.4M945.6 397.0l0.8 -0.2M943.4 398.5l0.8 -1.2M944.6 411.2l-0.6 -2.6M931.2 367.9l1.5 -2.5M940.8 383.0l2.0 -1.0M950.1 360.5l-1.2 -2.3M940.6 367.8l0.7 -0.7M914.5 359.3l-1.0 -2.5M934.3 358.1l1.3 -0.3M949.9 375.2l1.6 -1.9M933.6 400.5l0.0 -3.6M913.6 393.7l0.3 -2.1M918.7 392.8l2.6 -2.0M924.4 381.6l0.2 -0.6M922.0 353.2l1.7 -0.3M934.0 370.4l3.4 -0.7M921.1 391.4l0.0 -1.9M930.8 383.1l1.9 -2.0M929.1 354.8l1.2 -1.5M932.2 387.6l1.6 -1.9M921.5 382.9l1.6 -1.8M925.7 411.5l1.8 -1.4M899.6 375.8l2.7 -0.7M924.6 393.6l1.6 -3.0M935.6 365.1l1.4 -1.9M928.6 359.9l1.3 -2.7M920.8 407.9l0.2 -3.1M954.5 400.8l0.8 -2.2M898.9 388.8l0.7 -1.3M953.5 378.3l1.5 -3.6M904.2 384.4l1.8 -0.9M938.2 377.2l1.9 -3.4M917.0 373.5l0.4 -0.6M952.2 377.7l0.8 -2.1M931.8 410.6l-0.6 -2.9M931.5 379.0l1.3 -2.5M903.1 388.4l0.2 -3.8M964.7 388.6l0.6 -0.2M944.4 365.6l0.3 -2.1M935.3 388.8l2.7 -0.6M949.2 390.3l1.9 -3.3M950.5 368.0l1.4 -3.5M944.9 383.9l1.0 -0.9M953.1 378.7l3.5 -0.9M938.9 387.0l0.5 -0.9M944.5 367.7l2.2 -2.1M911.1 398.7l-0.2 -1.0M909.8 393.2l0.5 -1.1M959.0 367.1l3.0 -1.1M945.8 417.3l2.2 -2.5M934.4 386.4l3.0 -0.9M934.7 373.1l2.7 -2.0M952.8 381.3l1.2 -0.6M934.6 368.9l2.1 -2.2M956.3 382.5l0.7 -3.4M946.6 402.1l-1.8 -2.6M925.0 349.0l3.5 -1.4M928.2 383.2l1.4 -1.9M934.7 385.4l0.8 -3.9M936.8 391.3l-0.3 -2.9M926.7 385.6l2.1 -2.7M922.0 362.3l1.3 -1.8M932.3 352.5l1.1 -1.3M916.8 376.0l0.7 -3.6M965.6 372.3l0.6 -1.8M951.3 380.9l1.2 -2.1M941.2 381.8l-2.9 -2.2M906.0 379.6l-0.5 -3.1M926.6 389.8l3.2 -1.4M913.8 389.8l2.2 -0.9M920.5 402.5l2.1 -0.6M928.8 400.1l1.9 -0.4M915.0 370.2l1.2 -2.9M962.2 361.1l2.2 -0.8M934.6 386.9l-0.3 -3.6M930.7 405.4l-0.5 -1.8M953.8 383.4l2.3 -2.1M919.3 368.3l1.3 -1.2M903.6 405.4l0.8 -0.1M932.7 358.3l0.6 -1.5M918.5 400.9l0.8 -1.1M918.9 376.9l0.2 -0.6M919.5 405.5l0.2 -1.2M930.6 382.4l1.8 -0.3M933.5 351.8l1.9 -0.1M942.2 360.0l1.2 -2.7M920.5 371.3l3.3 -1.6M919.4 412.9l1.2 -1.6M903.0 368.1l0.8 -0.7M921.4 385.0l0.7 -0.7M932.4 409.4l2.7 -2.6M948.8 365.0l1.6 -0.8M929.8 375.0l-0.1 -0.7M920.4 389.2l1.9 -2.2M930.9 374.0l1.4 -1.4M937.8 360.5l3.6 -0.6M935.5 356.5l-0.3 -2.6M933.1 364.9l2.0 -2.8M928.9 404.4l2.5 -1.5M931.1 366.5l1.0 -0.9M914.5 412.9l0.3 -1.2M937.2 354.6l0.2 -1.0M922.8 386.1l1.2 -2.5M922.9 387.1l1.5 -0.9M939.9 365.7l1.5 -1.5M955.1 393.3l1.0 -1.7M947.3 421.4l0.7 -1.5M935.5 376.2l0.2 -3.3M929.4 352.5l0.9 -1.2M948.6 380.7l0.1 -1.8M956.4 396.9l2.3 -2.3M940.8 376.1l0.3 -3.3M946.7 372.4l0.4 -2.4M924.2 397.9l-0.3 -3.4M934.6 408.7l1.2 -2.1M933.3 393.3l0.1 -1.1M949.8 364.8l1.7 -2.6M908.5 390.8l0.9 -1.5M948.9 409.4l1.0 -0.9M936.8 396.4l2.0 -0.9M932.1 385.7l1.4 -2.0M943.3 395.7l1.3 -1.5M945.6 404.3l0.6 -1.0M941.6 393.2l1.5 -2.4M935.9 362.0l3.2 -1.7M912.7 397.5l0.4 -2.3M945.8 369.1l1.2 -0.9M937.5 414.2l1.6 -0.1M927.7 365.1l0.3 -0.9M946.8 404.8l1.7 -3.5M934.3 391.2l3.6 -0.7M950.2 371.5l1.3 -3.2M951.7 376.8l1.4 -2.6M939.2 386.0l0.3 -0.9M956.7 395.3l0.8 -0.6M918.9 417.5l1.1 -1.7M943.2 404.2l2.5 -0.8M904.3 383.0l1.9 -2.2M924.5 358.3l2.5 -2.1M910.4 389.5l1.4 -3.5M930.8 377.3l0.4 -1.1M922.4 399.9l1.0 -2.0M927.9 458.2l3.6 -1.3M904.7 452.4l0.7 -1.1M911.1 463.1l0.9 -2.6M893.3 487.2l-0.7 -3.1M908.1 463.8l2.7 -2.4M912.5 469.5l1.1 -3.0M914.2 462.9l3.6 -0.9M879.8 484.2l0.3 -0.8M878.4 462.4l1.4 -1.2M896.4 488.4l0.8 -0.5M917.4 463.9l3.5 -1.5M917.3 479.6l1.0 -2.6M906.1 448.6l-0.4 -1.2M916.8 470.1l0.6 -1.6M910.5 471.8l0.2 -2.2M895.6 472.0l2.0 -2.8M896.6 460.3l1.5 -1.5M890.6 477.4l-0.1 -1.3M897.3 470.2l-0.3 -1.6M880.3 477.8l0.4 -0.6M889.1 491.6l0.7 -0.8M930.7 478.7l2.1 -1.5M896.9 483.6l1.0 -1.6M899.8 480.4l2.3 -1.4M906.3 473.1l0.1 -2.9M902.0 475.8l1.1 -2.4M872.7 470.8l1.1 -2.8M903.8 475.1l-0.4 -2.5M876.5 481.2l1.6 -2.9M913.4 448.5l2.2 -1.4M925.2 468.3l2.4 -2.7M904.0 489.3l1.2 -1.1M904.2 490.1l-0.2 -2.7M937.9 475.4l0.3 -0.8M901.1 469.8l0.8 -0.8M917.8 458.4l1.0 -2.7M937.2 479.0l3.4 -1.8M872.1 478.5l0.8 -1.3M881.9 469.2l3.4 -0.4M923.4 482.9l0.1 -2.0M888.2 464.1l-0.3 -3.0M902.1 479.9l0.3 -0.6M912.6 477.0l1.1 -3.2M887.2 482.9l1.6 -2.1M904.8 472.4l1.5 -0.6M900.0 453.8l1.8 -0.9M918.8 461.6l0.4 -1.8M933.1 459.5l1.9 -1.3M903.5 484.4l1.6 -2.0M926.7 477.8l0.5 -1.1M911.2 471.9l3.3 -1.6M927.2 473.3l1.2 -2.4M919.4 475.2l0.6 -0.5M912.8 451.6l2.3 -1.9M892.9 482.2l2.6 -1.4M899.7 462.0l1.0 -2.6M875.8 468.9l1.1 -1.2M913.7 478.5l-0.6 -3.7M899.8 466.9l1.8 -2.8M933.5 485.0l0.4 -0.6M875.4 484.6l2.1 -0.7M882.9 468.4l1.4 -2.0M889.0 488.2l0.3 -1.5M911.7 479.6l2.2 -1.8M909.0 463.9l3.0 -2.5M910.8 474.9l2.0 -1.1M911.9 473.5l0.9 -2.4M914.7 457.8l3.1 -1.9M927.2 465.0l0.0 -0.8M929.5 484.0l2.0 -1.9M905.3 492.2l2.5 -1.6M899.4 482.8l0.7 -2.3M881.7 467.0l-0.0 -1.9M935.0 474.5l1.8 -0.4M914.2 462.4l1.1 -2.2M913.4 455.3l-0.6 -2.5M909.9 461.8l0.6 -3.4M909.9 450.4l2.4 -0.4M934.1 462.8l1.5 -3.1M911.4 458.1l0.3 -2.3M930.4 471.2l1.3 -1.7M915.6 463.0l2.0 -1.8M880.3 465.7l1.4 -3.4M925.7 465.0l0.5 -0.5M904.7 470.5l3.1 -1.9M930.5 464.8l0.9 -1.0M921.8 450.0l3.2 -2.3M895.0 481.1l1.0 -0.9M907.7 497.5l0.8 -1.3M935.3 455.5l0.3 -2.7M912.7 453.8l0.6 -3.4M925.2 459.5l0.7 -1.0M932.0 446.1l2.5 -1.3M904.3 471.3l0.8 -2.2M923.6 455.2l1.7 -0.3M893.1 477.0l2.2 -0.9M913.6 465.6l2.2 -3.2M933.6 483.0l2.7 -1.3M891.7 458.3l2.8 -1.1M908.4 497.8l1.9 -1.8M885.1 478.2l0.6 -1.1M878.7 471.7l0.6 -0.6M926.8 457.8l3.0 -2.3M901.3 454.6l2.1 -2.1M924.3 451.6l-1.0 -2.1M887.5 504.2l2.7 -2.7M895.3 502.7l0.0 -1.1M871.4 500.3l1.3 -0.6M890.8 506.4l1.1 -1.1M876.9 520.5l0.4 -1.9M878.7 524.3l3.4 0.3M877.5 525.1l1.4 -1.6M870.9 502.5l3.8 -0.9M883.0 515.5l0.7 -0.4M882.0 539.8l1.3 -1.1M909.2 515.0l0.2 -1.0M881.2 525.1l0.5 -3.3M897.0 515.8l0.7 -2.0M892.9 504.9l0.8 -2.3M869.7 515.0l0.8 -3.3M863.0 525.0l1.1 -2.3M881.1 531.0l1.4 -0.9M904.7 498.6l-0.3 -2.4M892.1 518.0l2.0 -2.3M883.5 499.7l-0.3 -1.7M875.9 491.2l2.8 -2.8M872.2 502.4l-0.1 -3.1M879.3 511.5l1.3 -2.2M888.7 504.5l1.8 -2.7M898.9 495.4l3.1 -1.0M909.0 499.2l1.4 -1.9M877.7 489.5l0.4 -1.1M895.2 511.3l-0.2 -2.8M893.8 503.2l0.4 -2.6M905.4 517.7l1.7 -2.2M874.3 518.5l1.0 -2.9M870.4 516.0l1.8 -2.3M874.5 536.4l3.5 1.0M894.3 504.9l0.7 -1.0M902.1 507.5l2.4 -1.9M901.2 502.2l1.0 -1.7M869.8 515.7l0.4 -0.5M884.0 500.7l1.4 -0.8M875.3 513.4l1.0 -1.7M885.1 487.0l2.7 -2.1M886.4 524.2l1.8 -2.2M872.4 521.9l2.0 -2.2M894.2 495.7l2.2 -2.4M874.5 502.9l1.4 -1.7M887.2 506.0l0.4 -2.5M885.5 526.8l0.7 -0.9M886.1 538.6l1.1 -0.2M892.0 520.3l1.5 -2.0M897.1 532.3l0.9 -3.3M880.3 530.4l0.5 -0.8M898.2 511.0l0.3 -1.4M899.7 503.7l1.6 -1.9M888.6 502.6l1.2 -3.0M884.7 499.3l0.2 -1.0M894.4 532.0l2.2 -1.2M891.8 524.0l2.6 -1.6M873.6 513.5l0.9 -2.0M872.7 518.5l1.2 -2.4M892.2 523.9l0.9 -0.6M867.3 524.6l2.4 -1.2M876.1 525.3l1.3 -3.3M891.8 496.1l0.4 -3.4M888.0 525.0l2.7 -1.4M885.1 517.9l-0.4 -2.0M880.6 519.9l2.0 -2.3M877.4 517.9l1.5 -1.9M881.0 526.0l0.6 -0.9M862.9 519.3l2.1 -1.6M894.3 530.9l1.3 -1.3M883.0 529.9l1.6 -3.2M893.0 491.2l1.6 -3.3M893.7 524.3l0.5 -1.2M866.0 527.0l1.9 -1.8M889.4 533.4l1.9 -2.0M894.0 523.9l-0.2 -0.9M897.9 524.1l0.6 -3.4M890.5 526.4l1.4 -3.6M887.1 503.2l2.5 -2.0M867.2 504.5l2.3 -1.1M889.2 499.6l1.5 -1.5M898.2 513.5l1.2 -3.4M876.5 497.5l1.2 -1.1M897.7 527.6l-1.8 -3.4M879.3 528.2l2.9 -2.2M869.4 528.3l0.9 -0.8M891.3 522.5l1.2 -2.3M899.1 515.5l0.2 -0.6M899.2 502.4l0.3 -0.6M869.7 501.4l1.6 -1.8M900.8 492.5l3.3 -1.8M872.6 506.2l1.5 -2.9M895.4 517.9l-1.6 -1.4M875.6 523.5l1.2 -1.5M885.1 508.3l-0.3 -2.3M866.4 520.1l3.6 -1.4M896.1 499.2l0.3 -1.7M864.3 522.2l-0.1 -1.9M873.3 507.4l1.2 -0.6M897.1 511.2l1.3 -0.9M885.3 530.6l0.0 -3.9M872.0 506.4l2.8 -1.9M870.6 525.8l1.2 -1.3M899.1 515.6l0.5 -0.5M880.1 533.9l0.6 -0.8M865.4 518.6l0.8 -3.2M877.8 512.4l1.3 -2.1M897.3 492.3l0.5 -0.5M889.9 509.2l1.0 -1.1M874.0 506.9l2.3 -1.8M887.2 520.9l1.1 -0.7M868.9 498.4l-0.1 -0.9M870.3 518.6l0.7 -0.5M884.8 509.7l1.1 -2.0M884.6 514.0l0.1 -1.6M891.1 506.0l-0.3 -2.1M889.8 535.5l2.0 -0.9M865.9 507.1l0.5 -2.2M870.1 531.4l2.3 -1.4M891.3 519.3l0.1 -1.6M899.7 520.1l0.5 -2.0M874.6 497.9l0.6 -0.7M861.9 510.0l0.7 -1.0M872.3 496.4l1.3 -1.5M865.1 519.6l0.7 -0.3M869.7 514.8l0.7 -0.8M859.7 511.6l1.6 -1.1M884.5 505.8l-0.4 -1.9M886.1 500.1l0.5 -0.4M878.3 516.9l2.0 -1.0M875.2 521.5l-0.3 -0.6M870.2 521.6l-1.2 -3.4M880.0 513.7l0.3 -1.6M880.4 521.2l2.5 -2.5M872.8 511.7l1.6 -1.5M875.4 513.9l1.3 -3.4M884.1 532.8l-0.2 -1.7M888.9 531.8l0.8 -2.7M888.3 499.4l2.5 -2.8M866.4 513.0l1.1 -0.4M891.7 522.2l0.9 0.4M870.3 540.4l0.3 -3.1M870.0 508.9l1.8 -1.5M885.1 503.8l2.4 -1.6M893.2 522.4l2.7 -2.4M889.2 516.1l0.6 -2.2M882.8 515.5l0.8 -1.2M856.3 517.7l1.7 -1.6M886.2 521.2l2.0 -2.4M876.2 528.7l-0.9 -2.8M872.9 538.0l2.8 -1.3M888.7 500.4l1.3 -0.8M876.4 495.3l0.9 -1.3M882.9 526.4l-0.1 -3.2M869.9 507.9l0.6 -2.5M874.9 512.0l3.3 -0.5M897.3 495.7l0.0 -2.3M880.1 489.8l-1.0 -3.0M884.3 527.1l0.5 -0.6M871.2 523.3l1.5 -1.7M886.8 503.0l1.9 -2.5M862.8 523.9l1.1 -2.7M874.2 523.9l1.1 -3.5M874.6 518.2l0.5 -1.2M886.0 498.3l2.2 -2.5M898.2 504.9l2.6 -0.2M883.3 529.7l0.9 -0.9M898.8 497.4l1.4 -1.3M884.0 530.2l1.9 -3.4M867.4 520.5l0.8 -0.8M872.7 532.6l0.3 -0.9M878.1 506.2l1.0 -2.7M876.6 502.2l1.5 -1.2M874.6 497.6l-0.0 -1.1M886.1 533.6l1.1 -2.7M891.7 503.9l0.1 -2.1M878.1 517.8l1.1 -1.9M874.9 492.5l1.1 -2.1M869.3 530.9l1.7 -1.2M897.9 529.6l1.8 -2.4M884.3 530.1l1.1 -1.4M909.4 501.8l0.8 -2.4M881.0 521.9l-2.3 -2.0M872.3 526.9l2.5 -2.2M907.7 512.6l0.6 -1.0M884.6 492.3l2.1 -3.3M879.2 506.0l0.6 -2.9M889.9 504.3l1.3 -1.0M890.8 522.8l0.6 -3.5M900.4 511.6l-0.1 -1.1M882.0 501.9l1.7 -2.9M871.1 505.3l2.2 -1.0M896.7 491.2l3.0 -1.7M777.0 114.9l1.9 -2.8M800.4 132.3l2.0 -0.7M793.7 122.6l0.4 -1.4M790.0 99.2l0.1 -0.6M793.0 125.5l0.5 -2.8M788.1 119.0l0.8 -1.7M760.7 138.1l0.9 -0.8M788.6 120.4l0.4 -0.8M812.4 119.5l0.6 -2.3M758.8 125.5l0.6 -0.8M776.5 123.4l1.1 -2.2M784.4 132.6l0.1 -1.5M790.7 111.1l1.9 -1.4M788.1 117.1l1.0 -3.0M809.2 123.2l2.2 -0.4M765.4 125.8l0.6 -0.1M805.2 138.1l2.2 -1.9M748.7 112.2l2.4 -1.2M794.8 120.3l-0.8 -3.0M777.2 106.4l0.9 -1.8M779.4 115.5l0.9 -2.3M775.5 122.8l0.1 -3.8M759.0 91.2l0.8 -3.5M799.2 128.0l0.3 -1.3M763.3 119.1l0.6 -1.4M816.7 115.7l0.1 -2.1M802.4 138.3l1.3 -0.4M785.1 111.0l2.3 -2.9M769.9 130.3l3.4 -0.2M760.1 135.5l1.5 -2.1M818.3 121.3l2.4 -2.6M780.2 103.4l0.8 -1.9M759.7 106.7l3.6 -1.4M792.6 126.4l1.9 1.2M765.6 132.6l0.6 -0.9M780.7 123.6l2.2 0.7M784.9 93.9l2.9 -0.5M752.3 103.4l-0.3 -1.2M763.5 126.4l2.5 -0.9M798.9 112.2l1.5 -1.6M770.2 90.1l2.7 -0.8M775.8 113.7l0.9 -3.1M790.9 112.4l2.4 -2.4M776.3 105.2l1.2 -1.6M781.6 110.6l0.9 -0.8M767.8 132.5l0.7 -0.5M760.4 111.3l1.7 -1.6M758.9 122.6l0.2 -0.9M796.8 137.4l2.7 -2.1M771.0 107.2l2.1 -1.8M780.2 134.7l0.7 -1.0M775.3 121.2l3.2 -1.8M805.9 130.5l0.3 -2.6M750.1 129.7l2.8 -0.8M793.5 131.5l1.1 -0.6M745.1 104.6l1.6 -2.7M802.8 102.3l1.2 -3.0M819.3 122.0l2.5 -2.2M796.0 115.7l-0.0 -3.5M787.7 103.7l0.5 -1.0M774.6 100.2l1.1 -1.6M767.1 91.7l2.7 0.0M801.6 113.1l-1.1 -2.5M786.5 94.7l0.7 -0.1M782.7 125.0l0.3 -1.3M734.4 109.4l2.3 -2.1M789.3 125.3l1.4 -0.3M801.9 112.4l0.5 -1.2M785.7 119.6l1.0 -1.7M774.3 116.0l1.4 0.0M786.0 88.7l3.3 -1.7M810.1 105.9l-0.4 -2.5M737.7 114.1l3.2 -0.0M733.8 109.1l0.2 -1.6M795.7 132.4l1.8 -3.0M762.1 130.9l3.3 -1.4M751.9 116.9l0.1 -2.5M784.3 134.6l2.7 -2.9M779.0 110.7l2.8 -2.0M788.6 142.9l-0.1 -1.3M803.3 119.3l0.8 -0.1M775.5 102.3l1.0 -3.7M797.6 97.8l-0.6 -3.1M812.9 136.7l1.5 -1.1M754.7 126.6l0.6 -0.5M778.9 119.6l0.7 -1.0M757.3 119.6l1.8 -2.8M202.1 243.1l2.5 -1.0M219.5 348.5l0.4 -1.2M206.9 318.2l1.7 -3.5M213.2 292.6l1.8 -2.7M204.4 267.4l0.7 -0.2M170.8 298.2l1.0 -3.7M192.8 291.6l1.9 -3.4M174.4 338.7l0.5 -2.7M209.3 307.4l2.6 -2.0M187.9 347.4l0.8 -0.7M207.6 258.7l3.2 0.5M162.0 308.0l2.9 -1.7M170.6 344.6l0.8 -1.3M187.0 241.1l2.8 -1.9M200.4 320.3l0.8 -1.0M164.6 279.5l-0.4 -1.3M192.8 299.7l0.5 -1.7M183.5 305.8l0.6 -2.0M193.2 273.4l1.3 -2.5M191.1 345.9l2.9 -1.7M188.7 225.7l2.0 -2.0M176.9 312.6l0.7 -0.5M207.5 328.2l-0.4 -1.5M180.7 287.3l3.4 0.2M196.9 351.0l1.0 -0.8M200.9 302.5l0.4 -0.5M202.7 289.4l0.5 -0.4M184.3 262.6l2.3 -0.8M185.5 318.7l0.3 -0.9M204.2 270.0l1.2 -1.9M177.7 296.6l-0.2 -1.0M209.1 335.1l3.0 -1.6M179.3 281.2l3.0 -2.2M214.4 265.9l0.4 -2.3M215.1 279.5l0.7 -0.7M189.6 251.8l1.0 -1.0M217.5 277.1l1.1 -1.7M206.1 234.5l1.8 -1.1M194.9 344.2l0.9 -1.4M221.3 298.1l2.4 -2.2M211.1 240.2l2.1 -1.7M212.2 338.5l-0.3 -2.6M188.9 280.7l0.5 -0.6M191.7 298.5l2.7 -1.3M213.3 289.4l1.2 -0.9M236.2 265.2l0.3 -0.7M211.9 287.0l2.1 -2.4M206.3 334.7l1.4 -0.8M168.2 267.3l1.2 -0.7M220.7 268.8l1.5 -1.1M197.7 318.4l0.4 -3.1M175.1 265.1l0.2 -1.3M222.9 279.1l1.2 -1.8M209.5 343.7l1.7 -2.8M209.7 341.3l0.9 -1.2M221.7 258.3l1.7 -1.0M206.4 283.9l-0.7 -3.4M214.5 278.7l2.7 -2.4M180.2 248.2l0.7 -2.3M200.3 358.1l-0.0 -3.6M171.1 312.3l2.5 -2.9M205.0 318.0l1.7 -1.1M171.6 326.1l0.2 -0.7M209.6 346.5l2.6 -2.6M217.7 267.5l0.6 -0.2M202.2 321.3l0.3 -1.0M205.2 251.3l1.9 -1.1M225.0 248.1l1.0 -3.5M226.1 340.6l0.4 -1.7M202.6 316.8l0.1 -0.8M182.0 301.4l0.6 -0.3M202.1 299.8l0.6 -0.9M222.7 275.4l-2.1 -3.3M183.0 283.4l0.1 -0.8M208.7 360.1l1.4 -2.5M217.9 244.3l-0.4 -1.4M222.5 303.9l1.0 -0.8M222.6 329.5l0.6 -1.3M200.7 322.7l0.4 -1.3M205.8 286.3l0.4 -1.4M181.2 309.6l0.5 -0.6M197.2 294.5l1.0 -2.0M224.6 269.2l0.3 -1.6M209.5 296.7l0.8 -0.8M200.7 322.7l1.6 -0.7M210.8 317.9l2.7 -1.2M158.4 294.7l0.9 -3.1M189.7 359.3l1.3 -1.3M189.8 315.5l1.0 -0.6M171.6 340.8l-0.2 -1.4M188.1 353.5l0.4 -3.8M186.6 376.6l1.3 -3.5M195.6 272.2l0.8 0.1M177.9 325.8l1.9 -3.4M188.6 324.1l1.5 0.3M198.3 272.6l3.0 -1.7M180.7 320.0l2.2 -0.8M179.5 315.9l0.9 -2.2M224.5 278.9l2.4 -2.3M176.6 273.6l-0.2 -2.1M156.5 283.9l3.2 -1.7M197.2 277.4l0.2 -3.5M188.7 344.4l1.1 -1.0M158.7 313.1l0.6 -0.9M169.3 257.4l1.6 -0.7M214.6 271.0l0.4 -1.5M181.6 321.9l0.1 -3.4M223.5 277.1l0.7 -1.4M186.0 227.3l2.7 -2.5M205.5 323.2l1.4 -1.3M186.6 286.2l1.4 -1.2M216.4 261.0l0.4 -1.1M181.4 257.3l0.6 -1.6M188.6 354.4l0.3 -0.7M230.4 321.3l-0.0 -1.2M212.7 287.9l0.7 -2.8M220.4 280.9l0.4 -1.9M227.3 310.8l1.3 -1.2M214.4 292.1l1.6 0.5M166.8 296.8l0.5 -3.4M197.5 302.8l0.3 -0.7M204.4 329.7l0.7 -3.4M173.2 299.1l1.6 -0.8M174.3 313.1l1.0 -1.8M204.9 281.4l0.5 -0.6M204.6 297.7l-0.6 -3.9M224.4 324.9l2.1 -2.5M190.9 370.5l0.4 -0.7M198.1 355.5l0.4 -1.1M193.2 338.9l1.9 -1.5M196.6 297.3l1.7 -0.7M204.1 320.1l3.3 -2.1M183.9 249.3l2.0 -1.8M224.2 322.4l1.9 -2.9M182.9 320.5l2.0 -2.0M181.5 313.2l1.2 -0.5M216.9 310.8l1.0 -0.8M213.2 346.5l1.0 -2.3M194.3 223.5l1.7 -3.5M198.8 348.6l1.0 -3.5M208.9 359.5l0.7 -0.7M208.0 275.1l2.4 -1.5M219.5 287.9l0.5 -2.5M206.6 301.7l0.9 -1.2M200.5 229.3l0.4 -2.9M201.3 312.4l3.2 -2.3M179.5 275.6l0.5 -2.4M202.3 263.8l2.8 -2.4M212.8 281.9l1.6 -1.5M206.5 347.0l1.3 -1.7M207.3 304.3l0.5 -2.3M192.3 333.4l1.2 -1.3M213.1 336.5l-0.2 -1.3M180.0 344.8l1.7 -2.2M228.3 267.5l1.4 -3.1M177.0 323.3l-0.3 -2.2M202.2 295.5l0.8 -3.6M215.4 310.7l0.7 -2.2M200.8 302.1l2.5 -2.9M206.2 370.5l2.3 -0.4M210.2 277.1l1.3 -1.8M227.0 291.5l-0.0 -2.6M207.8 305.2l2.9 -0.1M187.3 300.9l2.1 0.5M170.5 270.4l2.6 -0.5M168.3 260.8l1.7 -0.0M193.5 277.9l0.3 -2.7M172.8 315.6l1.7 -2.7M193.6 293.7l1.8 1.1M216.9 283.6l2.0 -3.2M171.8 270.7l1.1 -1.0M206.6 328.6l1.4 -1.8M158.6 337.2l0.8 -0.8M223.3 291.4l0.3 -1.3M205.2 329.1l1.2 -1.4M185.5 262.1l1.3 -0.4M214.7 285.4l0.4 -1.5M195.5 319.3l-1.1 -2.8M152.9 338.5l3.0 -2.3M215.6 359.2l3.2 1.0M158.1 329.4l1.5 -0.7M198.5 340.6l2.6 -2.3M182.1 282.9l0.1 -1.3M182.1 318.2l0.9 -2.0M172.4 308.8l0.2 -1.2M211.4 315.2l2.0 -1.3M221.6 287.5l1.6 -0.7M202.7 290.1l1.6 -1.5M183.9 272.9l1.5 -2.7M181.0 344.8l1.9 -1.9M181.8 287.4l0.9 -1.5M178.1 268.2l1.4 -2.3M193.3 300.1l2.8 -1.5M188.1 267.6l1.9 -2.3M174.9 314.0l0.0 -1.0M173.0 299.0l0.4 -1.2M190.2 282.9l3.4 -1.2M181.9 293.9l3.0 -1.0M168.7 344.0l2.6 -0.7M178.4 272.3l0.3 -3.6M174.3 259.0l1.5 -0.8M209.5 321.1l1.3 0.4M214.6 281.2l0.3 -1.2M176.3 353.0l0.5 -0.8M187.9 317.1l0.4 -2.2M195.2 279.5l0.5 -3.4M192.5 271.2l2.8 -2.0M217.7 228.0l1.6 -3.6M227.7 314.0l-0.5 -3.3M225.0 310.3l0.1 -1.6M197.4 314.0l0.7 -2.3M195.6 283.9l0.9 -1.4M192.3 279.2l2.3 -0.7M225.3 327.9l3.7 0.5M213.8 296.1l2.8 0.6M220.9 300.6l0.5 -0.9M207.2 325.3l2.5 -2.9M175.5 298.7l1.3 -2.1M186.5 308.8l-1.0 -3.6M165.7 327.0l3.1 -1.9M169.1 274.6l1.2 -1.8M196.8 305.4l0.7 -0.6M226.2 328.2l1.2 -3.8M152.1 312.3l1.9 -0.1M209.0 278.8l0.4 -1.6M193.0 296.1l3.2 -0.6M228.2 299.6l-0.0 -1.8M213.6 227.5l0.0 -2.5M221.4 293.6l1.8 -1.1M199.6 294.6l1.2 -1.7M204.4 323.0l2.6 -2.5M196.3 260.3l0.2 -0.7M178.7 345.1l0.9 -1.8M198.8 258.3l0.2 -1.2M224.9 269.7l1.4 -1.9M172.4 285.5l0.4 -2.5M201.2 247.5l0.7 -2.6M212.9 278.4l0.4 -2.1M177.7 320.2l2.0 -1.8M189.9 269.6l0.3 -2.7M189.4 263.9l0.1 -0.6M226.3 241.8l-0.6 -2.8M188.5 267.9l3.2 -0.9M236.1 262.7l1.8 -2.4M199.1 310.9l1.6 -2.1M202.2 351.1l0.9 -1.3M180.8 319.3l1.5 -0.1M230.8 320.3l1.6 -3.2M170.2 311.5l0.2 -0.6M183.8 319.2l1.3 -3.4M164.0 358.2l2.8 -1.1M186.7 278.3l1.1 -0.9M206.4 322.7l1.0 -1.3M200.9 252.7l0.6 -0.9M194.2 273.9l2.8 -1.4M236.0 300.3l0.8 -0.8M194.8 320.7l1.5 -0.8M200.2 247.6l0.8 -0.4M184.8 320.5l0.6 -1.0M220.3 277.8l1.1 -1.3M181.6 323.8l2.8 -1.7M207.0 301.1l1.8 -3.4M177.5 257.9l1.0 -0.8M234.6 313.9l1.9 -2.8M195.1 315.5l2.6 -0.5M215.7 322.3l0.3 -1.1M159.2 288.2l0.4 -0.6M187.1 281.0l0.6 -0.6M178.0 289.6l3.5 -1.1M184.7 239.8l0.9 -1.5M165.9 304.8l-0.6 -1.9M198.5 366.7l1.9 -3.0M189.5 314.0l-0.3 -1.3M196.6 291.2l-1.5 -2.9M190.5 312.3l0.3 -2.2M177.9 306.8l-0.4 -2.3M212.1 252.5l3.5 -1.8M231.4 272.4l0.5 -0.9M209.9 300.4l0.4 -2.4M192.9 323.1l2.9 -2.4M168.9 295.8l0.0 -0.8M205.5 316.6l1.6 -2.3M194.9 359.7l1.9 -2.0M222.6 282.3l1.3 -1.4M222.8 329.6l0.5 -3.9M193.0 277.1l1.7 -2.6M194.3 282.1l1.7 -0.8M187.1 369.5l1.0 -0.7M162.6 282.7l2.7 -2.6M187.6 289.5l0.1 -1.2M227.8 313.4l2.1 -1.3M178.0 297.4l1.0 -0.0M193.4 268.3l0.7 -0.4M214.7 250.0l1.7 -3.3M163.9 263.1l1.4 -0.3M199.2 272.8l2.2 -2.8M230.2 261.2l2.7 -1.5M232.0 302.5l0.3 -0.8M204.6 318.7l2.0 -2.5M230.5 323.2l1.6 -1.3M181.3 363.7l1.9 -2.8M180.7 266.5l1.0 -2.3M183.3 293.4l2.8 -2.1M155.2 317.9l2.3 -2.2M214.9 250.8l1.1 -3.6M207.9 268.3l1.2 -1.5M205.0 266.6l1.5 -2.6M200.2 253.3l-0.4 -2.7M201.3 300.7l1.6 -1.3M233.1 290.3l2.7 -0.7M224.4 311.2l1.0 -1.4M230.2 287.2l1.1 -2.8M200.6 307.2l3.6 0.4M160.2 360.6l1.4 -2.1M169.6 286.2l3.4 -1.7M187.5 313.8l1.9 -0.8M190.3 287.7l2.1 -1.2M210.5 328.1l-0.1 -2.2M218.5 270.2l0.3 -0.7M180.3 265.8l1.2 -1.0M207.6 347.7l-0.3 -2.3M214.6 279.3l0.9 -1.2M168.1 273.6l1.6 -2.3M173.2 301.8l-0.0 -1.5M210.0 343.0l3.5 -0.4M178.5 321.1l0.0 -1.4M169.1 372.8l-0.0 -1.5M194.4 319.5l0.8 -1.0M217.8 235.7l0.9 -0.2M172.0 294.4l1.2 -3.0M195.6 288.5l1.7 -3.4M227.6 254.7l1.2 -2.2M229.3 338.0l2.1 -1.1M207.4 318.3l2.7 -1.4M199.4 276.7l1.5 -0.4M185.1 320.2l1.4 -0.5M219.4 331.1l0.9 -0.5M218.2 319.1l1.7 -2.6M197.9 311.5l0.6 -0.1M198.6 306.1l0.6 -0.9M214.6 315.6l1.4 -1.0M207.9 339.0l1.0 -0.4M184.9 342.5l2.7 -1.0M187.1 343.6l2.6 -1.3M179.6 277.1l3.1 -1.3M180.6 303.0l0.5 -1.8M181.0 275.0l0.7 -0.3M191.3 314.2l0.5 -0.4M207.3 290.3l2.5 -0.4M186.9 270.6l1.1 -2.7M204.7 275.8l0.1 -1.4M203.7 343.3l0.3 -1.5M197.0 277.4l0.9 -0.3M203.6 261.5l0.9 -2.3M196.4 326.1l0.4 -2.6M203.1 340.6l1.0 -3.0M215.9 321.2l0.5 -0.6M211.6 285.1l2.7 -2.6M183.5 330.8l0.0 -0.8M189.0 255.7l0.3 -2.0M213.9 265.2l0.7 -0.8M230.0 330.1l1.8 -2.1M191.9 258.0l0.1 -2.8M202.3 341.9l2.6 -2.9M179.9 280.5l2.5 -1.1M202.5 236.1l3.1 -1.7M189.7 358.7l0.1 -1.6M194.0 328.3l0.6 -0.4M169.6 299.5l1.1 -3.7M197.3 359.5l3.3 -0.4M161.6 283.0l1.6 -3.0M194.1 250.9l-0.4 -2.2M162.0 320.0l0.8 -0.9M224.6 325.2l1.6 -2.4M188.9 298.7l0.4 -1.1M222.5 331.2l2.2 -1.6M206.4 279.5l0.3 -2.5M183.2 265.2l0.5 -1.3M190.9 245.1l2.2 -3.2M219.3 331.8l-0.0 -0.6M155.1 287.9l-0.6 -1.1M213.9 238.6l0.1 -2.1M229.3 268.3l0.6 -1.9M175.0 340.8l0.5 -0.5M169.3 370.0l2.5 -3.0M212.2 276.2l0.9 -0.6M203.3 279.2l1.2 -2.1M220.6 339.8l2.9 -1.9M209.0 305.3l0.7 -0.5M165.9 299.2l1.2 0.1M158.4 298.3l1.8 -1.9M191.0 338.7l3.6 0.4M190.8 311.3l2.2 -1.6M174.0 308.2l-0.8 -3.3M161.6 338.7l0.3 -0.6M201.6 240.3l1.9 -1.7M193.5 296.3l0.7 -1.1M221.1 354.0l0.8 -3.1M189.8 281.9l-0.1 -1.5M186.1 243.7l1.4 -1.0M185.8 321.1l0.8 -1.8M189.0 303.7l1.7 -2.6M192.3 308.5l-0.1 -2.9M227.1 283.8l0.4 -2.8M192.4 266.6l0.3 -1.2M167.4 318.2l1.3 -1.6M213.3 329.7l0.7 -1.8M230.6 305.1l1.1 -2.4M225.7 302.8l2.4 -3.1M212.9 289.3l0.9 -0.7M186.0 346.3l2.0 -2.7M187.7 304.7l-0.1 -1.5M238.3 311.1l0.6 -0.9M209.0 330.7l-1.8 -3.2M230.9 242.7l1.8 -1.3M198.4 313.4l0.8 -0.7M190.0 311.0l1.2 -1.1M181.5 362.8l1.6 -1.9M201.0 283.0l-0.0 -3.9M179.9 299.7l2.0 -2.2M196.1 275.2l0.2 -0.7M194.2 254.1l2.5 -0.4M213.1 345.7l-1.4 -2.7M182.2 239.6l0.5 -0.6M183.5 330.5l0.7 -1.9M195.1 295.1l0.6 -1.3M191.6 294.8l1.3 -1.1M164.5 277.2l2.3 -2.2M203.3 289.2l-0.2 -2.0M181.2 319.7l2.7 -0.2M191.1 244.0l0.8 -1.4M212.7 323.4l-0.0 -1.5M221.7 276.5l0.6 -3.9M206.2 261.4l1.0 -0.7M174.2 327.2l2.2 -2.2M212.2 274.5l0.6 -3.5M217.9 309.4l2.0 -2.8M181.3 256.9l0.3 -0.5M206.5 316.3l2.4 -2.6M222.0 246.1l0.9 -2.6M181.7 332.2l0.4 -0.5M175.5 289.4l1.8 -1.4M201.6 330.3l0.7 -0.6M221.8 295.6l2.6 -2.4M213.7 318.6l1.3 -0.9M211.5 245.0l1.1 -0.9M184.7 265.2l1.0 -0.9M207.9 332.2l0.9 -1.1M194.7 372.6l0.9 -3.7M217.5 334.4l2.3 0.1M168.4 256.5l-0.4 -2.4M206.2 249.4l1.1 -1.2M200.0 324.5l2.0 -3.4M189.2 319.6l2.2 -0.8M225.7 337.3l2.2 -3.3M191.6 210.8l-0.6 -3.0M178.7 208.6l-1.3 -3.0M137.2 212.5l3.3 -1.2M172.2 194.1l0.8 -0.7M186.3 222.0l1.4 -2.5M180.8 234.0l-0.2 -1.5M159.3 238.6l0.4 -0.8M188.8 204.2l2.0 -3.2M158.4 215.9l1.6 -1.4M160.1 263.8l3.6 -0.8M164.8 259.0l-0.7 -3.0M149.3 246.4l1.0 -3.0M191.6 234.9l2.3 -2.4M157.4 254.0l1.0 -1.8M152.1 250.4l1.2 -0.8M177.1 246.4l2.1 -0.8M147.9 205.2l1.9 -1.8M183.0 237.2l2.5 -0.9M158.7 238.1l3.2 0.9M173.7 243.9l0.4 -0.6M154.3 239.7l-0.3 -3.2M154.6 219.1l0.4 -0.6M168.0 190.8l0.5 -0.9M144.1 234.6l0.8 -0.8M199.5 230.3l1.0 -0.9M192.5 241.8l1.7 -1.1M173.3 222.7l2.0 -3.3M165.4 243.0l2.7 -2.7M179.1 207.9l1.1 -1.3M164.2 228.1l1.5 -1.1M150.9 239.1l0.9 -1.0M158.4 239.1l1.6 -2.4M163.3 247.7l3.5 -0.9M173.4 212.9l2.8 -0.9M185.4 231.8l3.5 -0.1M134.6 231.6l3.5 -1.5M149.8 211.0l0.9 -2.8M185.8 242.1l0.8 -0.3M188.3 212.8l2.6 -2.8M162.9 249.1l2.1 -0.8M141.3 230.1l0.7 -0.6M199.5 241.7l0.1 -0.8M174.6 224.2l1.4 -2.7M188.2 220.6l1.1 -1.6M195.0 240.5l1.7 -0.9M205.7 219.4l3.2 -2.3M192.4 239.0l2.9 -2.3M183.8 223.4l0.1 -2.3M187.6 212.1l1.4 -3.3M133.0 235.7l2.8 -1.1M166.6 195.8l0.2 -1.4M209.6 235.2l1.7 -2.4M129.6 237.5l2.8 -0.0M196.9 216.3l2.7 -2.2M174.7 197.0l0.7 -1.8M173.8 256.1l1.6 -2.1M190.0 226.4l1.4 -0.5M152.4 220.6l0.5 -0.9M153.4 244.3l0.7 -1.3M144.9 248.7l1.5 -0.9M169.3 226.7l1.4 -2.0M156.9 213.4l0.4 -2.0M181.6 234.3l2.6 -1.1M168.5 247.7l0.5 -1.2M149.6 207.1l0.8 -2.2M152.0 233.1l1.3 -3.2M208.3 216.1l1.7 -1.9M167.1 238.2l3.6 -1.7M160.2 235.5l-0.1 -1.6M190.4 244.2l0.7 -1.0M139.8 231.5l3.9 -0.5M166.0 226.2l-0.1 -2.2M161.9 235.3l0.6 -0.3M203.6 235.0l0.5 -0.5M193.7 237.9l0.3 -0.6M159.5 195.6l1.1 -0.1M150.3 259.3l0.6 -2.4M166.5 215.2l0.9 -2.6M186.1 221.8l2.4 -2.3M170.3 222.3l2.2 -0.8M174.1 250.4l1.7 0.2M152.6 222.7l3.1 -1.9M171.0 230.0l1.8 -0.3M182.9 211.4l0.4 -0.9M172.7 239.0l2.3 -1.2M173.2 237.3l0.2 -2.4M178.7 219.7l0.2 -0.6M206.8 239.1l2.3 -1.9M186.6 208.9l2.0 0.1M167.9 216.7l0.5 -0.6M185.0 238.0l-0.2 -4.0M189.2 235.8l0.2 -1.1M152.7 231.8l1.4 -1.6M153.7 210.6l0.2 -2.2M144.0 219.6l0.1 -1.2M174.4 220.8l1.0 -0.9M198.1 218.4l1.0 -2.1M139.4 211.2l0.4 -0.7M152.3 217.3l2.4 -2.5M159.2 224.1l1.4 -1.4M174.9 225.0l1.1 -1.6M206.9 233.8l3.5 -1.9M174.4 240.0l0.9 -1.4M144.7 244.5l1.8 -2.7M171.2 203.4l3.5 -1.6M148.4 232.4l1.0 -1.6M140.9 227.2l1.0 -1.4M193.4 252.2l-1.7 -3.1M154.6 226.8l1.5 -1.1M155.7 229.0l2.1 -3.1M151.4 227.4l1.6 -1.0M178.8 222.5l-0.3 -1.2M179.5 235.6l0.3 -1.9M175.2 196.8l1.7 -3.6M173.8 208.7l0.4 -3.5M186.0 232.9l1.5 -1.7M156.9 226.6l0.7 -1.6M135.3 232.2l2.1 -1.2M142.0 206.9l1.6 -1.0M183.3 212.8l0.7 -1.0M187.1 236.1l-0.1 -1.4M185.5 221.5l2.9 2.5M172.8 368.6l0.7 0.1M159.7 366.4l0.7 -0.9M140.8 374.7l1.5 -0.6M133.6 402.6l2.0 -3.0M153.3 390.2l0.8 -1.1M161.6 398.1l2.2 -2.6M138.0 370.5l1.2 -2.9M137.7 400.5l1.4 -2.9M134.4 386.5l0.5 -2.2M156.1 407.0l1.7 -1.1M158.0 379.4l1.9 -1.3M177.5 367.0l1.1 -1.2M155.6 415.4l0.2 -3.1M164.8 378.9l1.0 -0.6M159.6 391.0l0.8 -1.9M160.6 396.8l-0.2 -2.5M116.2 383.8l0.6 -0.5M151.8 394.9l0.5 -0.3M160.2 381.5l0.6 -0.9M149.9 375.4l0.2 -1.8M157.2 387.6l0.5 -0.4M167.0 387.3l1.8 -2.3M158.2 408.0l1.9 -2.7M137.4 387.5l0.7 -2.1M167.2 388.2l1.3 -3.5M143.3 369.8l0.5 -1.1M140.5 378.9l1.3 -1.6M173.1 384.5l0.2 -2.3M132.7 376.9l0.5 -1.2M164.0 373.3l0.7 -1.4M147.2 355.0l2.3 -3.1M159.8 397.2l-0.8 -2.1M121.5 398.2l1.6 -1.6M151.1 385.3l0.9 -1.7M132.3 393.3l2.2 -2.3M128.3 388.4l1.8 -2.3M132.3 360.3l0.8 -0.1M153.2 368.1l1.4 -2.0M163.5 393.1l0.5 -1.0M149.0 394.7l2.0 -1.1M149.1 384.1l1.3 -0.8M134.3 376.5l-0.6 -0.8M152.2 410.0l0.5 -3.5M129.6 392.0l2.1 -2.1M172.4 373.2l1.3 -1.9M161.0 415.8l0.4 -0.9M151.9 381.3l1.8 -2.9M181.5 394.1l1.4 -0.8M145.6 408.3l1.3 -0.5M157.7 369.0l0.5 -1.4M143.3 389.2l1.0 -1.0M152.0 401.5l-0.0 -2.0M157.4 361.3l1.0 -2.5M116.2 397.2l0.6 -0.9M152.7 424.8l0.1 -2.0M162.4 368.5l3.1 -2.1M140.9 386.3l3.4 -1.7M133.7 393.8l-0.2 -0.7M125.1 387.5l0.1 -1.6M179.4 376.8l3.0 -0.9M158.7 386.0l0.6 -1.6M137.2 394.3l0.8 -0.6M152.6 376.0l1.1 -1.0M140.4 414.7l-0.3 -3.0M161.8 357.2l0.7 -3.0M150.4 385.6l1.7 -0.5M184.0 383.7l2.2 -2.0M156.6 407.5l0.5 -2.0M134.3 371.7l-0.5 -3.9M136.6 375.5l0.2 -2.3M664.4 566.2l-0.3 -3.6M608.4 555.2l-1.0 -3.5M698.0 559.5l2.7 -2.2M656.7 548.5l0.8 -0.6M663.9 565.8l2.7 -1.3M675.1 555.8l1.3 -3.0M644.8 569.3l1.1 -3.0M728.3 572.4l1.0 -3.0M612.6 547.9l1.7 -3.1M728.8 568.4l0.6 -1.5M691.1 552.7l1.2 -1.3M674.2 563.9l2.7 -2.0M695.3 572.8l1.1 -3.6M664.4 573.5l-1.4 -2.0M748.1 554.1l1.9 -2.9M698.7 560.0l1.5 -2.1M737.9 576.2l1.1 -0.6M755.7 549.2l1.3 -1.4M624.5 544.5l1.0 -3.1M683.6 574.4l1.7 -2.7M781.9 578.3l1.1 -2.9M677.5 569.9l1.2 -1.3M616.0 532.5l3.0 -1.5M613.7 546.4l2.4 -2.6M749.7 567.7l1.0 -1.7M633.2 547.7l1.6 -1.7M667.4 554.5l0.2 -0.9M661.9 557.9l1.7 -1.4M749.5 550.4l0.2 -1.0M721.9 552.6l-0.0 -0.9M724.5 549.1l1.6 -0.6M698.7 556.2l0.3 -2.0M678.1 566.3l0.9 -0.4M716.2 577.4l-1.3 -3.8M786.0 563.3l-0.0 -3.7M614.3 537.0l1.7 -1.4M688.0 580.9l0.6 -0.6M694.5 544.5l0.8 -0.7M654.1 567.1l0.8 -2.4M602.0 556.3l0.5 -1.7M687.2 555.8l1.1 -1.0M672.3 580.3l1.1 -0.2M669.7 574.0l-0.0 -2.7M756.0 564.8l0.8 -0.7M705.2 565.1l0.4 -0.8M731.6 574.0l2.3 -3.0M675.1 549.9l0.6 -1.2M670.8 567.6l1.0 -1.2M741.6 550.9l0.8 -3.0M687.1 563.1l1.2 -2.3M763.9 550.8l0.1 -0.7M609.5 542.3l2.1 -2.9M672.1 560.2l1.8 -2.6M776.5 563.9l0.4 -0.8M669.2 550.0l1.1 -1.2M753.3 575.0l0.5 -0.7M785.1 568.0l3.3 -1.2M727.9 560.6l1.2 0.2M687.7 544.6l0.9 0.0M701.5 591.5l0.7 -0.6M660.3 556.8l0.8 -2.2M629.1 542.7l3.5 -0.7M707.1 573.5l0.2 -1.4M709.0 547.3l1.0 -1.1M597.3 554.9l0.1 -0.6M757.9 572.4l0.3 -0.7M669.8 557.7l1.4 -2.6M624.7 553.7l1.2 -3.3M704.7 559.4l2.3 -1.3M707.9 562.1l2.1 -2.0M664.4 547.8l2.6 -2.7M588.4 550.9l-0.1 -1.5M637.1 546.0l0.7 -0.5M703.0 574.5l1.5 -0.8M740.8 573.1l1.4 -1.1M775.6 570.3l1.3 -0.4M777.0 559.0l0.6 -3.6M746.3 561.5l0.9 -0.2M709.4 574.2l0.7 -1.1M680.1 557.2l0.8 -0.5M711.8 553.7l2.0 -2.2M603.6 540.6l1.7 -2.8M643.7 553.8l0.6 -0.3M669.0 552.6l1.4 -1.6M713.5 573.6l1.2 -3.7M611.3 551.1l2.5 -2.3M753.3 567.7l1.1 -0.8M658.7 559.5l0.5 -1.1M737.3 580.4l0.5 -2.2M667.1 550.0l0.8 -1.7M698.3 554.4l2.5 -0.9M687.1 565.4l1.5 -2.0M690.7 584.0l1.6 -3.4M647.8 577.7l1.7 -3.0M680.0 556.4l1.8 -1.0M659.2 551.4l1.2 -0.6M696.5 569.1l0.5 -0.4M712.8 554.1l1.1 -2.1M661.8 557.6l3.0 -0.8M643.2 548.1l0.8 -2.2M639.6 550.8l-0.6 -3.1M661.5 559.4l0.5 -1.1M755.4 581.4l0.8 -0.8M654.7 552.8l2.9 -1.7M709.8 562.3l-0.6 -1.8M645.7 548.6l0.7 -1.1M673.1 551.2l0.4 -1.2M718.5 567.0l-0.1 -3.3M751.1 567.7l1.0 -1.5M658.0 548.8l0.9 -0.5M691.1 551.3l0.7 -3.9M691.5 564.0l0.8 -2.7M592.0 553.5l1.6 -1.5M683.8 567.0l1.0 -0.5M705.2 564.6l0.6 -0.7M631.7 574.5l-0.3 -0.7M751.3 576.7l1.4 -1.7M677.3 562.8l2.4 -2.5M622.3 533.8l1.8 -1.4M647.3 548.4l0.8 -3.3M665.4 569.5l2.0 -0.1M631.3 560.7l2.2 -2.3M720.9 561.6l1.2 -1.7M714.1 570.7l1.7 -0.8M645.0 549.6l2.2 -0.6M748.6 568.4l2.6 -1.5M698.6 549.2l2.8 -1.9M626.1 558.3l2.8 -1.6M638.1 545.8l1.0 -1.6M720.8 588.6l2.5 -1.5M741.2 587.9l-0.1 -1.9M643.3 567.3l2.0 -0.0M772.1 564.0l2.1 -1.6M659.1 561.8l2.5 -3.0M752.6 574.5l0.2 -2.0M749.4 589.2l2.2 -2.3M767.8 582.1l0.4 -1.3M685.8 560.3l0.8 -1.5M701.6 557.1l2.1 -2.0M735.0 558.3l-0.7 -2.2M722.4 559.1l1.5 -1.1M733.3 543.8l1.2 -0.4M773.1 564.4l-0.0 -1.4M636.9 577.1l3.1 -1.6M621.3 546.1l-1.1 -3.7M718.4 569.3l-1.9 -3.0M651.1 551.8l0.8 -0.8M766.1 552.3l1.0 -1.8M676.3 569.5l0.6 -1.1M627.9 552.7l1.2 -1.9M655.4 558.9l0.4 -1.9M763.3 555.3l2.1 -2.3M743.6 572.9l1.1 -2.8M637.0 561.3l1.0 -1.1M734.9 571.1l2.4 -0.7M756.0 565.8l0.2 -2.7M679.6 551.5l1.4 -1.0M631.1 550.8l-0.2 -2.4M607.6 540.0l2.4 -0.9M631.7 556.9l1.0 -1.0M686.7 565.5l0.2 -1.8M651.1 571.6l0.6 -1.9M631.8 544.8l0.4 -0.6M688.1 558.9l1.1 -2.1M778.4 570.2l0.8 -0.8M649.1 573.3l2.8 -1.0M685.1 552.2l0.6 -2.6M713.1 576.8l0.1 -1.4M739.9 550.1l-0.0 -1.8M678.0 580.2l-0.1 -1.7M640.5 546.9l1.5 -1.3M778.2 554.5l0.6 -0.6M724.8 569.2l-0.1 -1.2M711.8 550.2l1.7 -2.9M733.5 556.7l3.2 -0.3M624.2 547.0l0.7 -1.4M682.1 552.4l-1.2 -1.8M619.0 554.6l1.5 -1.2M696.6 560.6l0.2 -1.0M680.6 551.4l3.4 0.1M702.6 568.9l0.3 -3.6M687.7 566.2l0.9 -0.3M737.8 555.8l-0.9 -1.7M616.1 572.4l2.1 -2.6M687.0 574.6l1.5 -3.0M705.3 580.4l1.4 -2.8M726.7 545.8l0.5 -1.3M594.7 561.8l0.5 -1.3M715.7 571.8l0.7 -0.9M628.1 549.5l0.9 -0.3M751.5 552.7l2.9 -2.4M601.6 565.1l0.4 -0.7M663.4 555.3l2.6 -2.5M768.1 554.3l2.0 -1.1M729.9 585.1l0.1 -0.6M680.4 557.0l1.7 -2.5M686.9 556.9l0.5 -0.6M674.5 565.7l1.0 -1.2M759.5 564.9l0.6 0.1M696.7 582.0l1.8 -1.1M717.5 558.7l1.4 -0.1M675.3 560.2l1.9 -1.5M714.3 571.8l1.8 -3.4M697.0 564.2l0.6 -0.3M592.0 544.3l1.5 -0.9M660.4 546.2l0.8 -2.0M652.3 569.3l2.6 -1.2M747.9 568.5l0.0 -3.5M643.3 563.5l1.0 -1.6M664.3 544.9l1.5 -2.6M756.5 551.1l0.0 -1.4M673.7 552.8l2.2 -0.9M731.6 569.8l0.3 -2.1M794.3 570.9l1.4 -2.6M705.6 557.4l0.9 -2.9M747.3 574.4l0.7 -1.6M724.1 573.1l0.4 -2.4M739.5 580.0l2.2 -1.7M725.1 562.9l0.8 -0.3M744.0 566.0l3.7 -0.6M707.7 575.7l0.6 -1.8M595.1 553.4l1.6 -2.7M736.8 562.3l1.3 -1.6M748.5 583.0l0.8 -1.6M723.9 564.7l3.0 -2.1M623.5 556.0l1.6 -0.5M667.2 567.8l0.6 -0.2M779.6 571.8l-0.5 -1.2M740.8 571.1l-0.6 -2.5M713.0 584.0l1.7 -1.9M671.8 547.3l0.9 -0.3M659.7 578.7l-0.9 -3.0M735.2 578.3l0.7 -0.7M734.4 544.3l0.4 -1.3M662.6 550.0l1.0 -0.6M697.0 581.0l1.2 -1.5M704.4 586.4l0.8 -0.7M674.6 575.6l0.2 -1.3M659.5 559.5l2.7 -0.6M737.5 562.5l0.5 -3.2M638.6 565.4l1.3 -1.6M713.6 565.3l3.0 -1.6M734.7 567.6l1.8 -0.7M681.6 575.5l1.4 -0.7M667.0 574.2l1.1 -0.4M749.4 559.8l2.3 -2.1M619.1 549.6l0.2 -1.8M665.5 566.9l0.6 -1.5M633.9 553.6l2.6 -2.1M701.0 570.2l2.1 -1.1M707.4 571.1l2.5 -0.1M628.7 552.1l0.6 -0.2M692.7 567.0l-1.2 -3.7M768.2 568.9l1.9 -3.0M746.0 581.1l3.3 -2.3M675.5 541.8l1.1 -1.2M746.7 563.8l2.3 -1.0M627.9 562.6l0.1 -2.0M688.4 577.5l-0.7 -2.5M694.2 547.8l0.6 -1.0M716.9 567.1l-1.3 -2.5M694.6 568.5l1.2 -3.0M672.8 582.9l2.1 -3.2M785.2 570.6l2.9 -2.4M680.3 547.9l2.5 -1.2M713.8 573.2l2.9 -1.3M673.2 585.8l0.7 -3.6M708.1 576.4l2.3 -1.6M744.4 580.5l0.5 -0.6M661.9 555.5l-0.4 -2.8M747.1 547.3l0.9 0.4M744.6 576.4l1.4 -1.8M678.9 563.2l1.7 -1.2M727.5 545.1l-0.0 -1.4M751.2 561.8l0.9 -1.6M749.0 570.8l0.6 -1.2M736.5 570.7l0.4 -0.8M727.4 577.0l2.0 -0.5M653.2 553.9l1.9 -1.6M710.5 553.5l-0.6 -3.1M792.0 583.3l1.7 -2.9M620.0 552.4l2.3 -0.3M700.6 587.2l0.6 -0.2M652.6 549.9l0.1 -2.9M623.4 569.7l-0.6 -0.8M695.6 578.1l1.3 -3.5M714.3 550.4l0.5 -0.7M713.4 547.7l2.8 -2.0M717.1 585.5l2.0 -0.7M676.6 555.1l0.1 -2.1M744.5 571.4l1.6 0.7M629.0 550.0l1.2 -1.3M612.5 543.0l0.5 -1.1M683.4 562.7l0.9 -1.5M736.0 576.6l0.3 -4.0M682.0 564.3l1.5 -2.8M759.3 589.4l2.6 -1.4M622.3 542.1l0.2 -2.2M719.6 541.3l0.0 -1.7M640.0 547.7l0.7 -1.0M683.6 562.6l0.6 -1.0M690.5 543.9l-0.8 -1.4M700.5 552.8l0.9 -3.7M690.0 566.7l2.4 -1.9M739.3 569.9l3.2 -2.1M609.9 541.1l-0.5 -1.8M765.3 569.5l-0.6 -1.0M782.0 560.5l1.9 -3.1M774.0 585.0l0.5 -0.4M656.8 559.4l0.5 -1.9M605.0 543.3l1.7 -1.1M683.5 588.2l0.8 -3.2M623.0 547.3l2.7 -1.7M711.7 571.2l2.4 -2.1M670.9 574.1l0.4 -0.9M652.6 551.6l-0.1 -2.8M608.9 568.2l-0.2 -2.3M700.9 571.4l0.3 -2.7M675.3 547.6l1.2 -1.6M616.1 535.6l2.3 -1.9M700.6 557.4l1.4 -0.2M651.3 582.4l1.0 -0.7M629.7 568.4l1.6 -1.9M725.8 575.4l-1.0 -2.0M766.7 564.1l1.1 -0.2M613.7 536.7l3.3 -0.7M715.7 585.9l1.6 0.1M710.8 555.7l1.1 -3.8M677.8 581.3l0.5 -3.0M653.8 559.7l2.4 -1.3M617.7 548.5l0.9 -2.0M670.4 575.4l1.6 -2.4M688.2 555.4l1.7 -1.1M680.9 568.4l-0.5 -1.3M695.3 568.8l2.8 0.7M713.9 583.4l1.3 -1.3M728.6 560.5l0.4 -0.9M750.0 545.5l0.4 -0.6M656.6 566.8l1.9 -0.9M688.1 552.6l2.4 -3.1M660.7 583.5l2.0 -2.5M750.0 572.9l0.4 -1.9M708.3 571.0l0.2 -0.9M685.2 588.1l0.1 -2.4M777.6 588.0l0.6 -0.9M677.6 564.9l1.7 -3.1M603.7 557.2l1.2 -1.8M631.2 548.7l0.3 -2.0M666.4 552.2l2.9 -1.5M722.8 578.8l0.9 -1.1M651.5 552.9l0.0 -0.9M702.6 564.5l-0.7 -1.4M765.7 585.3l0.6 -2.8M633.7 568.0l0.8 -1.1M733.9 555.7l2.0 -1.8M735.5 569.7l2.0 -1.8M711.8 549.5l-0.1 -1.0M649.8 560.9l2.0 -2.8M656.7 565.4l0.5 -0.9M636.6 546.4l3.8 0.2M724.5 561.8l0.2 -1.1M686.8 555.9l1.3 -0.9M711.0 592.2l1.3 -2.1M688.8 567.3l2.8 -0.0M718.7 591.0l0.7 -1.3M672.3 556.6l1.4 -1.5M656.7 563.1l1.5 -1.0M664.3 568.0l0.2 -0.8M655.8 576.7l0.3 -2.5M608.1 568.3l0.1 -2.1M722.8 581.2l0.6 -0.6M775.9 559.0l0.7 -0.7M770.2 556.4l0.9 -1.8M696.5 576.3l0.6 -0.5M704.8 573.1l0.8 -1.0M643.1 569.5l1.4 -3.7M656.7 554.0l1.0 -1.6M744.1 584.5l0.6 -1.7M701.1 573.6l0.5 -0.9M655.7 564.7l0.5 -1.1M696.6 582.9l3.8 -1.1M602.1 540.2l0.5 -0.4M782.4 570.4l0.6 -1.4M774.0 584.1l0.7 -2.7M748.6 556.4l1.4 -2.0M776.4 573.3l3.0 -2.5M742.7 548.2l0.6 -3.2M643.6 575.7l1.2 -1.4M637.5 560.5l1.6 -0.8M776.3 582.0l0.9 -0.9M714.8 567.7l-0.2 -1.7M638.8 553.8l1.9 -1.2M698.9 574.1l1.4 -2.6M606.6 536.1l1.0 -1.3M749.4 572.5l0.0 -0.6M723.0 581.8l-0.3 -1.5M666.5 552.3l1.6 -1.4M702.6 561.4l1.1 -1.2M749.8 572.8l-0.0 -2.6M698.5 579.6l1.7 -2.7M696.9 578.6l1.9 -3.4M735.6 567.9l1.8 -1.0M725.1 554.9l1.5 -1.9M711.8 551.5l-0.7 -1.2M707.3 563.8l2.5 -2.4M754.8 570.4l2.1 -3.4M687.9 551.4l2.9 -0.6M740.9 575.8l1.5 -1.6M715.5 557.8l3.4 -1.9M750.3 570.7l0.9 -0.6M707.6 555.5l-0.0 -1.6M747.5 550.7l0.7 -0.6M631.6 573.2l2.2 -0.6M692.3 563.5l2.6 -2.7M720.2 550.4l0.9 -3.9M741.3 569.9l1.1 -0.4M673.3 555.4l3.7 0.1M704.9 584.8l2.6 -3.0M772.2 586.0l-0.4 -1.5M669.3 562.0l1.8 -1.5M653.9 563.6l0.8 -2.1M738.4 561.7l1.2 -1.5M592.6 549.3l0.8 -3.4M642.8 574.3l0.5 -0.7M633.2 553.5l-0.1 -1.8M661.5 572.3l0.6 -0.9M765.9 582.1l2.4 0.2M674.2 566.3l0.6 -1.4M709.8 548.7l3.7 0.8M726.0 584.3l3.7 1.0M716.0 587.9l2.0 -2.9M739.4 552.8l0.2 -3.6M772.4 561.9l2.3 -2.5M713.5 542.6l1.1 -1.9M619.9 551.7l1.6 -2.9M709.0 556.1l0.6 -0.5M662.3 562.3l0.7 -0.3M768.3 549.4l1.3 -1.6M658.7 565.2l-0.7 -3.0M734.5 568.9l2.2 -1.8M635.9 545.9l0.3 -2.6M680.8 568.6l0.7 -3.5M674.7 554.0l2.0 -1.2M720.8 578.2l0.5 -1.7M722.7 556.4l3.7 -0.7M651.8 564.2l2.7 -1.1M667.0 552.4l0.7 -1.5M613.1 555.4l1.0 -1.6M586.3 545.7l0.9 -0.3M656.8 573.3l2.7 -2.1M783.6 558.1l-0.1 -0.8M659.9 554.9l1.4 -2.9M683.7 551.0l2.4 -2.2M629.1 577.0l1.2 -1.0M665.4 552.7l0.9 -1.6M599.3 611.1l-1.9 -2.8M639.7 618.9l1.9 -0.6M644.7 619.4l0.1 -1.9M641.6 610.0l-0.4 -1.9M653.9 576.0l0.6 -0.3M564.2 564.0l0.6 -3.6M697.8 612.1l0.2 -0.8M643.9 573.6l0.9 -1.0M684.2 621.5l-0.8 -2.8M641.8 588.9l2.2 -1.2M597.3 604.6l1.9 -1.5M666.7 581.0l-0.3 -0.8M608.2 612.7l1.1 -1.7M667.2 604.7l1.1 -1.1M613.7 573.8l0.7 -1.6M598.9 610.0l-0.3 -1.4M599.5 587.0l2.3 -3.2M650.1 610.9l2.7 0.5M640.8 576.3l0.2 -3.0M668.3 586.1l-0.4 -3.8M595.0 558.4l0.9 -0.7M658.9 606.2l1.5 -0.6M658.1 599.4l3.0 -1.6M625.4 605.9l-0.0 -1.4M617.9 592.7l1.3 -1.0M647.7 620.6l0.8 -3.5M602.8 594.5l-0.5 -2.2M645.3 606.1l1.8 -0.7M678.3 629.9l0.7 -3.5M632.6 582.4l0.4 -0.6M621.0 614.1l-0.7 -3.2M684.5 625.1l0.9 -0.7M649.2 590.3l-0.5 -2.5M641.9 583.7l2.0 -3.3M613.8 594.3l0.9 -2.3M632.4 621.4l2.1 -2.2M661.1 581.1l0.8 -3.6M658.0 624.9l1.9 -2.6M651.8 581.4l1.0 -1.9M640.9 560.5l0.5 -0.9M682.1 622.7l0.6 -2.6M582.4 597.2l0.9 -1.4M603.2 572.5l0.7 -0.5M645.8 602.7l2.8 -2.2M623.6 575.6l1.2 -0.7M629.7 595.0l-0.2 -1.9M685.3 608.6l0.9 -1.2M671.0 605.8l0.3 -1.6M675.8 573.3l1.0 -1.4M671.7 617.5l0.3 -2.9M613.9 559.7l2.4 -0.6M649.5 604.7l2.6 -0.0M622.0 566.0l3.0 -1.7M610.5 591.6l0.5 -3.1M589.2 576.9l0.6 -0.7M652.2 637.2l3.4 -1.4M607.3 609.7l1.3 -2.2M621.4 600.1l0.5 -0.8M637.9 581.2l0.2 -2.8M631.4 559.9l1.0 -1.7M652.5 575.9l2.9 -2.1M661.3 610.7l1.4 -2.0M612.5 596.2l0.9 -0.7M628.1 576.8l0.9 -2.1M584.1 568.1l2.5 -2.7M648.5 604.4l1.0 -0.8M586.5 567.5l2.3 -0.1M620.8 575.1l0.4 -0.8M635.2 607.7l0.5 -0.6M594.8 566.0l1.6 -0.6M669.0 600.1l0.9 -0.9M619.4 599.4l1.6 -2.5M608.9 595.5l1.7 -2.0M692.6 613.4l0.4 -3.6M663.7 598.3l1.2 -0.6M638.9 615.4l0.7 -0.7M606.2 592.9l2.5 -2.8M603.2 581.6l0.4 -0.7M649.9 594.6l1.1 -1.5M669.0 610.8l3.1 -2.2M636.4 629.0l1.4 -0.0M635.1 591.9l-1.0 -2.2M654.2 607.7l3.1 -1.6M582.2 570.7l3.2 -0.7M627.8 583.6l0.3 -0.7M674.7 590.2l1.0 -1.7M628.1 607.2l0.6 -1.4M589.7 569.7l1.8 -2.1M707.4 593.5l0.8 -1.1M649.4 618.2l0.9 -1.7M648.0 585.1l2.7 -1.4M655.8 595.8l3.2 -0.3M665.3 618.0l1.3 -3.0M596.3 596.8l1.3 -1.2M576.4 584.5l1.3 -3.3M595.4 560.0l0.4 -0.7M690.7 620.6l1.5 -1.4M618.7 585.2l2.2 -1.7M648.7 593.3l0.5 -1.8M575.1 584.1l1.0 -2.9M658.4 642.2l1.4 -3.5M626.2 585.0l3.0 -2.0M656.3 623.3l-0.3 -1.8M622.5 610.1l0.6 -0.7M577.0 584.5l1.8 -2.8M613.5 596.6l0.7 -1.0M602.7 568.2l0.7 -1.8M598.5 581.9l1.7 -1.1M688.3 633.6l-0.4 -1.1M588.5 601.0l-0.3 -1.2M643.1 597.7l0.7 -1.2M701.1 630.6l1.2 -1.9M628.5 609.2l1.6 -3.0M615.3 560.2l1.9 -1.3M635.2 627.3l1.3 -1.6M629.5 575.9l0.3 -0.7M638.2 601.9l1.9 -2.3M663.8 617.2l0.9 -2.8M614.4 568.0l0.6 -0.6M722.5 608.6l1.8 -1.5M705.1 624.5l2.8 -1.7M636.6 581.2l-1.6 -3.2M587.8 578.9l1.8 -1.8M689.0 576.7l1.4 -2.1M662.4 612.1l1.6 -0.7M641.6 569.1l1.3 -0.6M647.3 594.1l2.5 -0.9M618.0 594.7l2.7 -1.9M620.9 599.0l1.6 -2.6M641.2 618.6l1.4 -1.1M610.4 576.0l0.0 -1.7M641.1 617.9l1.0 -1.1M628.2 616.0l0.2 -1.5M687.7 618.0l0.8 0.2M622.6 580.8l0.8 -1.4M595.0 603.4l-0.4 -1.0M628.7 583.6l2.3 -1.0M599.0 602.4l0.5 -1.5M601.6 584.6l1.4 -2.0M671.6 600.6l0.6 -1.2M691.8 630.9l0.5 -1.0M636.4 587.3l2.9 -1.4M622.7 604.0l0.5 -1.1M589.5 599.7l1.4 -2.7M610.1 602.8l1.4 -2.7M673.0 588.2l0.6 -0.6M684.1 609.9l1.3 -1.3M656.8 607.7l1.7 -1.7M596.7 556.3l1.1 -0.9M568.8 593.8l0.9 -1.0M695.8 590.1l0.5 -0.7M669.6 592.7l0.9 -3.7M662.2 591.5l0.2 -1.5M638.6 603.4l1.1 -3.4M605.9 579.9l0.5 -3.9M613.6 615.2l1.7 -2.7M662.2 590.9l2.1 -0.5M606.6 578.9l1.0 -0.2M591.3 603.7l1.6 -0.5M649.5 579.6l0.2 -1.2M651.2 605.7l2.0 -1.5M651.9 583.1l1.7 -2.4M670.2 626.7l1.7 -1.2M593.7 587.6l2.0 -2.2M675.5 598.4l1.2 -1.1M595.1 560.6l0.5 -2.3M669.5 584.0l2.9 -1.2M638.4 619.3l0.8 -2.8M669.5 615.7l1.2 -0.1M552.7 582.7l1.2 -0.8M591.1 566.9l1.1 -1.0M602.8 570.3l1.2 -1.8M651.7 604.4l1.9 -3.4M674.8 627.0l0.5 -0.8M673.8 593.8l1.4 -2.4M659.9 612.2l2.4 -0.3M610.7 563.5l1.2 -2.3M612.0 601.4l3.1 -1.6M643.5 636.4l1.9 -2.8M612.8 618.7l1.3 -0.4M696.0 618.9l2.4 -1.7M582.4 568.5l1.3 -3.5M629.1 619.7l-0.0 -1.0M614.6 573.2l0.4 -0.6M632.6 593.5l-0.3 -3.2M586.3 567.0l-0.1 -1.6M696.3 605.0l-0.2 -2.5M700.2 598.4l0.4 -2.7M624.8 617.6l2.2 -2.2M605.5 581.7l2.1 -0.9M607.5 601.4l0.5 -0.3M617.1 618.8l0.2 -0.9M802.6 549.7l1.2 -0.4M808.6 529.4l1.4 -1.9M765.5 535.5l1.2 -1.7M790.7 532.1l1.1 -3.8M791.6 548.3l1.1 -2.1M775.5 550.5l2.8 -2.1M773.7 548.2l1.0 -1.5M798.3 551.3l-0.2 -1.7M794.4 561.8l1.2 -3.5M798.5 537.3l0.4 -2.1M795.3 536.9l0.5 -1.3M776.9 543.0l1.8 -2.1M785.2 544.1l2.7 -1.8M784.3 550.0l0.7 -3.6M818.7 526.4l0.8 -1.8M808.7 557.0l-0.5 -3.0M803.9 533.1l-0.8 -0.3M765.4 549.1l0.5 -2.2M795.7 554.4l3.6 -1.4M775.5 548.9l0.5 -2.7M795.6 539.6l2.5 -3.0M800.2 552.5l2.0 -2.4M788.6 539.0l2.3 -2.3M797.1 530.9l0.8 -0.3M769.9 554.4l-0.6 -0.9M797.0 529.8l3.3 -0.7M762.3 549.6l-0.9 -3.8M798.6 530.3l2.4 -3.2M786.6 539.0l3.5 -0.7M805.7 557.7l1.5 -3.4M772.1 534.8l3.2 -1.9M783.6 553.4l0.8 -0.5M805.1 530.7l3.4 -2.0M800.7 530.7l1.0 -2.9M790.7 547.7l0.7 -3.6M786.2 548.0l0.6 -1.5M750.2 564.6l-0.1 -2.6M801.0 550.6l0.5 -1.1M778.8 548.7l0.5 -1.4M771.4 554.0l2.3 -3.1M800.4 525.7l-1.5 -2.0M783.0 537.6l0.1 -3.7M798.2 555.2l0.8 -2.4M762.3 545.8l1.6 -1.8M795.0 542.7l0.7 -0.2M761.8 558.5l0.6 -2.6M809.6 548.1l1.1 -2.1M786.2 561.3l1.3 -3.8M821.6 541.0l2.8 -1.9M784.8 535.6l3.0 -0.1M815.4 543.8l1.0 -1.3M780.0 547.5l0.1 -1.1M797.5 563.2l2.6 -2.8M793.6 555.9l0.3 -1.9M823.2 534.2l1.6 -1.8M817.9 543.2l-0.2 -4.0M805.0 550.5l3.6 -1.4M777.5 561.7l2.1 -1.4M772.8 550.7l0.6 -1.2M807.3 544.1l0.7 -1.1M800.4 539.5l0.1 -0.7M801.2 526.4l-0.8 -3.6M827.3 529.6l-0.1 -1.3M770.0 565.3l3.2 -1.9M769.1 564.1l1.4 -2.9M797.0 540.8l1.8 -3.3M765.0 558.5l0.1 -1.1M783.9 544.8l0.7 -1.4M754.0 556.4l2.8 0.5M792.8 530.0l3.4 -2.0M796.2 532.3l0.1 -1.5M793.0 554.7l3.1 -1.5M808.1 551.7l1.8 -1.6M808.1 533.9l2.8 -0.6M766.8 537.3l0.0 -1.5M798.8 538.0l0.2 -1.8M782.2 544.8l0.0 -2.4M807.3 535.0l2.0 -2.2M788.3 550.0l0.7 -0.3M783.6 550.8l1.7 -1.8M784.8 548.9l-0.1 -2.4M789.1 546.5l1.6 -2.2M814.4 533.8l1.6 -1.0M772.9 557.1l2.5 -2.3M799.6 556.7l0.8 -1.6M805.1 529.6l0.5 -1.7M771.9 571.7l2.4 -3.1M806.0 520.7l-0.9 -1.1M814.5 533.8l0.2 -3.0M815.0 542.2l0.9 -0.5M788.5 530.9l0.7 -0.3M792.6 560.3l-0.7 -2.5M764.1 564.0l1.3 -1.9M791.9 546.5l-1.4 -2.7M750.1 558.9l0.7 -1.6M766.4 539.5l0.9 -1.7M783.9 549.9l1.8 -1.9M769.8 548.5l-0.4 -2.9M804.7 549.9l1.7 -2.1M789.6 551.5l2.4 -2.3M808.7 548.8l0.7 -1.5M769.0 552.6l3.4 -1.3M802.1 528.0l2.9 -0.8M769.3 539.3l0.0 -1.0M774.1 548.3l1.9 -1.3M776.8 535.2l-0.0 -1.9M805.4 545.0l1.1 -2.7M787.6 549.9l3.7 -0.9M768.7 559.9l2.0 -3.1M779.4 548.1l2.3 -2.4M784.0 542.8l0.3 -3.8M797.5 547.6l2.3 -2.5M777.1 535.8l0.2 -2.4M820.2 536.1l0.8 -1.3M789.8 538.7l1.0 -1.7M788.3 539.2l1.1 -2.0M788.9 540.2l2.1 -3.1M776.5 566.6l1.8 -1.1M812.9 534.0l1.2 -2.4M797.0 534.5l1.7 -1.6M797.6 560.9l1.5 -3.2M782.3 567.7l1.5 -1.2M756.3 638.5l2.1 -1.7M729.9 627.9l0.5 -0.4M767.1 635.3l3.4 0.3M746.4 602.4l1.0 -1.3M747.6 662.1l0.9 -1.8M757.2 643.9l0.6 -0.9M756.9 676.4l1.2 -2.6M741.7 620.6l3.6 0.5M762.0 628.7l1.6 -2.3M777.3 614.0l0.4 -0.7M747.1 656.2l1.0 -2.1M765.2 614.3l1.1 -1.5M728.4 661.5l1.5 -2.3M713.4 653.6l2.2 -1.7M741.4 613.2l1.4 -2.3M774.2 628.0l1.1 -0.8M735.7 662.6l0.6 -0.6M729.3 648.7l0.7 -2.2M733.9 615.0l1.9 -3.1M719.4 624.5l1.7 -1.3M747.5 635.7l0.8 -1.4M734.8 645.7l0.6 -3.5M748.1 674.3l1.1 -3.3M770.8 647.6l-1.3 -2.2M760.0 637.5l0.2 -2.1M724.6 660.9l3.1 -2.0M731.2 636.8l1.4 -0.8M732.3 654.2l1.8 -1.8M758.4 660.0l0.9 -2.1M729.4 648.4l1.1 -0.5M724.1 632.7l2.6 -2.3M770.3 638.1l0.8 -0.7M719.6 631.2l1.4 -2.3M735.2 639.2l2.6 -2.0M772.8 654.5l1.3 -1.1M742.3 629.6l0.6 -0.8M736.7 605.6l0.9 -0.7M744.4 635.7l1.2 -0.8M742.2 638.2l3.0 -1.5M735.4 637.5l2.9 -2.5M716.9 620.5l1.9 -2.6M764.6 612.9l1.5 -1.7M745.0 657.4l2.9 -0.4M764.4 657.9l2.8 -2.3M755.8 662.2l1.2 -0.6M765.2 656.6l1.1 -3.5M729.6 666.9l2.9 -2.0M777.7 636.0l1.0 -0.5M759.8 630.1l1.5 -1.2M726.0 616.4l1.0 -3.1M786.2 642.6l1.7 -1.6M735.7 669.0l1.8 -1.0M737.7 678.1l1.8 -1.9M773.6 634.9l1.2 -2.1M733.2 632.6l0.6 -3.6M765.4 631.3l3.5 -1.8M726.4 655.2l0.4 -1.4M732.2 661.1l3.5 -1.1M751.8 610.4l0.9 -2.0M749.7 635.2l1.7 -3.3M761.0 655.7l0.4 -0.7M734.3 650.4l0.8 -0.8M734.3 610.5l1.3 -1.6M759.1 647.6l1.0 -1.2M736.9 637.5l0.5 -2.5M745.1 657.9l2.6 -2.3M742.5 608.6l1.4 -0.9M778.9 659.1l1.4 -1.1M747.6 646.0l0.2 -1.6M733.4 651.2l-0.1 -3.9M747.9 656.8l1.4 -1.2M759.3 620.2l0.9 -1.3M751.2 608.2l-0.0 -3.7M736.9 602.7l-0.0 -1.7M761.1 621.0l2.1 -2.5M726.8 621.7l0.4 -1.1M738.8 649.0l-0.1 -2.9M750.3 657.0l1.8 -1.1M722.1 630.0l1.9 -1.6M744.2 657.5l0.7 -0.7M781.6 647.0l2.7 -2.1M745.5 644.7l3.5 -1.9M764.7 649.4l1.6 -1.8M764.5 631.4l-0.3 -3.3M738.6 622.9l1.0 -0.3M748.5 649.0l-0.3 -2.6M739.1 643.4l1.7 -1.3M570.8 572.3l-0.1 -3.6M580.5 548.5l3.3 -1.8M586.9 555.1l0.2 -1.0M561.4 563.6l1.7 -1.0M533.6 550.8l1.2 -1.5M547.4 582.1l0.8 -2.0M553.7 582.0l2.4 -0.9M535.8 571.3l1.5 -0.9M559.7 555.5l1.3 -2.3M552.9 587.3l0.2 -0.7M578.6 547.6l0.0 -0.8M553.5 581.7l2.2 -0.0M534.5 563.3l-1.1 -2.0M552.1 563.6l1.6 -2.6M585.3 572.4l1.8 -0.7M577.6 555.3l1.8 -2.7M583.7 555.1l1.0 -1.7M571.3 571.3l0.6 -1.6M536.1 568.2l0.5 -1.2M569.7 565.8l0.1 -1.2M552.4 594.1l-0.2 -2.6M539.4 575.9l3.4 -2.0M574.8 572.2l-0.1 -0.9M559.7 559.2l2.3 -2.9M562.8 561.9l-0.3 -3.2M552.5 568.8l0.1 -0.7M533.1 553.1l1.8 -0.5M530.6 577.1l1.3 -2.6M551.3 558.7l-0.6 -3.1M541.7 552.9l1.3 0.5M558.6 568.5l3.1 -0.8M543.7 572.5l1.6 -0.8M551.0 581.5l2.6 1.1M551.0 567.4l0.3 -0.8M560.2 561.4l1.3 -3.5M556.2 565.6l1.6 -3.1M547.3 551.5l3.3 -1.5M532.8 547.9l0.3 -0.8M591.9 550.5l1.7 -0.4M533.7 561.8l0.8 -0.5M569.3 547.3l3.0 -2.4M569.7 566.7l2.0 -2.2M585.0 564.6l0.1 -2.6M553.4 564.2l1.5 -1.7M557.2 568.3l1.0 -2.2M563.5 576.2l-0.4 -0.7M583.8 581.5l1.4 -0.8M550.7 579.2l1.5 -1.2M558.6 585.2l-0.3 -2.1M550.9 549.3l3.9 -0.7M571.0 580.9l-0.1 -3.9M586.0 578.0l2.9 -1.3M570.9 580.8l-0.1 -1.9M562.0 583.1l2.0 -2.7M557.0 555.8l0.3 -0.8M579.9 571.4l1.6 -1.3M567.3 589.2l0.0 -1.8M588.0 553.2l1.3 -2.6M545.5 568.9l1.0 -1.4M563.8 577.8l0.6 -3.0M566.2 575.0l-0.2 -2.9M570.5 563.6l2.1 -0.5M574.0 570.0l0.8 -1.6M593.2 584.0l1.6 -2.2M543.2 567.1l1.2 -1.4M582.5 560.5l0.5 -0.5M584.1 582.8l1.2 -1.0M575.9 590.9l-2.1 -3.4M558.9 569.1l1.2 -1.0M567.4 555.9l1.6 -0.9M867.5 304.1l0.2 -2.6M607.3 108.8l0.2 -1.4M1041.2 226.6l2.6 -1.6M667.3 64.7l1.5 -0.1M987.8 196.0l0.6 -1.0M467.7 67.3l1.7 -0.8M521.2 127.2l-0.8 -0.8M987.3 410.5l1.6 -2.1M1106.8 322.9l0.4 -1.3M1019.6 226.5l0.2 -3.4M864.5 204.3l0.4 -1.5M1081.1 303.4l0.6 -0.3M781.3 208.6l1.3 -2.3M816.0 251.5l-2.5 -1.9M535.8 107.8l2.5 -0.9M914.6 489.9l0.8 -2.1M1031.1 239.9l1.0 -0.8M1025.8 261.9l1.0 -1.2M1066.8 260.5l-0.5 -1.5M905.2 469.0l1.4 -2.0M1027.8 254.1l1.1 -0.1M759.7 145.5l1.1 -1.6M869.0 338.3l0.6 -1.3M775.3 203.6l1.8 -0.9M581.4 79.6l1.2 -0.7M555.5 119.1l0.8 -1.4M945.2 369.2l1.4 -1.7M938.4 447.2l-0.7 -1.0M800.7 282.7l0.8 0.1M959.4 228.8l0.6 -0.5M816.2 255.7l1.5 -2.3M679.2 134.6l0.9 -0.6M862.8 229.0l1.0 -1.3M902.4 245.1l1.2 -1.5M984.8 207.8l2.0 -1.7M979.6 390.3l1.0 -0.3M861.4 240.2l3.1 -1.2M519.1 79.6l0.7 -0.5M1069.3 282.6l1.2 -0.9M904.6 396.0l0.3 -0.8M553.3 116.5l1.0 -0.7M861.8 220.1l1.2 -1.0M647.5 110.9l0.7 -1.4M862.1 321.9l-0.2 -1.9M715.0 115.2l2.3 0.1M572.4 150.1l3.3 -1.0M642.1 113.8l3.1 -1.3M937.1 220.3l0.5 -1.1M648.1 80.7l-0.4 -1.6M818.8 211.5l0.7 -2.7M817.1 129.5l1.7 -2.1M612.9 117.0l1.6 -1.2M791.0 171.3l3.1 -0.7M982.5 187.9l0.5 -1.1M626.0 70.0l2.7 -1.0M846.0 273.2l0.9 -1.3M1112.2 308.4l1.7 -2.4M970.3 398.0l0.5 -2.8M912.4 177.2l1.8 -0.2M932.4 350.7l1.4 -1.7M1111.1 265.5l1.8 -2.3M865.5 528.6l-0.3 -2.4M984.0 205.1l0.2 -0.9M763.8 230.0l2.3 -0.9M522.8 69.8l0.6 -1.7M616.4 65.8l0.8 -0.7M881.1 305.9l0.1 -0.9M905.5 267.9l0.6 -0.7M731.9 221.3l1.5 -2.2M709.0 89.1l1.7 -0.5M861.9 97.7l1.4 -1.6M836.3 116.8l1.9 -1.3M863.9 172.7l0.6 -2.2M621.4 121.9l1.1 0.1M540.4 97.3l1.1 -0.9M842.4 139.9l2.6 0.9M983.4 393.3l0.6 -0.8M1088.5 273.7l1.4 -0.9M905.0 431.8l0.3 -1.2M559.8 63.1l1.4 -2.1M530.3 129.3l0.2 -2.5M1048.1 258.6l1.5 -0.2M664.3 66.1l1.4 -1.2M806.2 307.1l0.1 -2.7M892.1 297.6l0.9 -0.9M584.9 150.2l2.1 -0.8M775.7 227.0l1.8 -1.9M736.4 209.0l2.2 -1.2M930.3 495.1l-0.6 -3.2M740.1 121.8l1.5 -1.3M1069.0 269.5l1.4 -1.0M649.6 156.1l1.1 -2.8M833.6 284.2l2.5 -1.3M1063.4 266.8l2.6 -0.6M710.6 110.7l1.0 0.1M718.0 135.1l2.1 -0.2M571.1 82.2l1.2 -1.9M880.7 508.3l1.1 -1.5M744.3 104.0l1.2 -2.2M876.7 296.3l0.5 -0.7M774.0 162.9l0.5 -0.7M830.0 266.6l1.9 -1.2M567.9 88.0l0.6 -1.7M726.5 144.2l0.9 -2.1M766.5 205.3l0.8 -1.1M794.1 212.2l1.5 -0.2M614.4 76.5l-0.0 -2.6M847.0 226.3l0.6 -1.2M926.2 446.1l-0.7 -2.3M726.1 77.1l1.5 -1.3M851.2 148.0l1.5 -2.1M805.6 163.1l0.9 -1.8M885.0 392.5l1.4 -2.4M1052.5 241.2l2.4 -1.5M839.9 161.7l0.6 -0.7M1001.6 216.2l1.3 -2.7M916.8 448.7l0.3 -2.0M813.8 160.9l0.8 -0.1M938.3 175.9l2.7 -1.9M930.4 303.5l0.7 -2.7M696.9 137.2l1.7 -2.8M680.1 157.1l0.4 -0.9M748.9 131.3l1.2 -1.6M813.9 129.9l-0.2 -0.7M601.6 114.0l0.4 -2.5M615.3 111.5l1.4 -1.4M993.7 424.4l-0.2 -0.8M824.5 130.4l2.2 -2.5M828.2 268.8l2.3 -2.1M860.8 157.8l1.5 -0.4M628.4 78.4l0.2 -0.6M942.6 253.1l1.0 0.1M1087.4 282.0l2.0 -1.9M860.6 522.7l2.2 -2.4M911.7 277.3l-0.0 -1.0M874.3 490.9l0.7 -1.6M842.4 137.1l-0.0 -0.6M518.3 80.9l1.0 -2.4M705.3 103.8l3.1 -1.0M897.8 232.9l1.7 -1.2M894.8 538.7l-0.5 -1.1M804.5 271.1l1.0 -2.0M844.0 148.4l0.8 -0.6M1023.8 241.3l3.0 -0.6M684.6 81.1l1.2 -2.8M787.9 235.6l0.4 -2.4M1022.4 223.1l1.6 -1.7M896.0 235.4l1.3 -0.9M805.4 217.1l-0.7 -1.4M994.9 252.1l2.5 -1.9M974.9 186.2l1.0 -1.5M805.6 122.3l1.1 -1.1M515.5 79.8l0.8 -0.5M838.1 194.0l1.7 -0.4M811.0 167.0l1.3 -2.2M665.9 108.8l1.8 -1.0M957.3 256.5l0.8 -0.7M800.8 104.3l1.8 -2.2M898.7 172.9l0.3 -0.8M537.8 137.7l1.2 -1.5M701.1 82.7l0.4 -0.5M866.5 146.4l-0.2 -2.4M845.4 87.4l-0.6 -3.2M890.2 357.7l1.2 -1.1M777.4 222.7l1.2 -1.3M959.3 411.3l1.4 -2.9M943.6 201.7l1.5 -1.4M834.6 196.4l2.2 -0.6M856.3 281.5l0.7 -1.2M894.3 499.1l-0.2 -0.7M874.9 84.9l2.7 -1.7M883.2 247.1l-0.1 -2.3M703.4 93.0l2.9 -1.3M946.4 266.9l0.5 -0.5M912.4 175.2l1.6 -0.8M843.8 141.7l2.9 -1.4M830.0 186.7l1.2 -0.4M809.7 133.4l1.4 -2.0M779.9 179.2l0.6 -0.8M907.7 286.9l2.0 -1.3M782.5 225.1l-0.5 -1.1M880.3 267.4l0.9 -2.7M822.0 141.1l0.6 -1.8M1074.0 266.7l0.7 -1.3M685.2 170.8l0.3 -0.6M699.8 72.5l1.0 -1.3M742.5 169.0l0.2 -2.8M925.3 333.4l2.0 -2.3M754.0 193.5l-0.8 -2.7M979.0 418.6l1.3 -1.7M1093.5 305.7l0.7 -2.7M755.0 99.7l1.8 -2.6M596.1 153.3l0.6 -1.4M582.9 164.0l0.5 -2.0M1090.6 299.1l0.1 -0.9M927.8 186.2l3.0 -1.6M720.1 120.2l0.3 -0.6M520.8 66.2l0.8 -1.6M590.0 119.0l0.2 -1.1M956.3 374.5l1.0 -2.1M878.3 358.8l1.5 -2.8M865.4 198.5l1.1 -0.7M649.6 171.6l2.5 -1.0M812.6 91.6l1.4 -2.9M577.9 92.0l1.4 -0.3M908.8 352.2l0.8 -1.2M571.9 112.4l2.0 -2.7M682.9 189.7l0.9 -2.6M801.7 203.9l2.1 -1.3M890.9 519.8l-0.1 -1.0M512.8 107.8l1.3 -1.9M800.6 123.5l1.9 -0.8M749.8 225.9l0.8 -2.3M721.8 109.1l1.4 -2.4M696.8 168.2l1.9 -1.9M847.3 112.5l0.1 -2.7M648.1 136.1l1.3 -0.8M899.7 309.1l1.6 -2.2M546.6 144.2l0.1 -1.5M922.0 270.4l1.6 -0.8M949.1 370.3l3.1 -0.6M633.9 79.2l2.9 -0.7M782.4 135.6l0.1 -2.2M855.6 319.7l-0.3 -0.6M701.2 194.0l1.3 -2.7M764.2 168.5l0.4 -0.9M887.0 215.0l0.9 -2.1M754.0 81.8l0.5 -0.7M907.7 371.5l0.5 -0.5M1105.3 287.5l2.5 -2.0M782.1 200.6l3.1 -0.7M767.1 110.0l0.9 -1.3M874.2 521.3l-1.3 -2.3M780.0 118.5l1.7 0.2M558.3 98.6l1.7 -1.9M826.7 227.2l-0.2 -1.0M904.9 198.9l1.8 -2.9M683.9 126.9l1.4 -1.3M1066.4 254.5l1.1 -0.5M942.8 234.4l1.6 -1.7M598.8 117.0l0.6 -2.4M978.6 432.3l0.1 -3.4M512.2 77.4l1.0 -0.4M483.3 74.8l-0.3 -1.5M862.3 234.0l1.7 -2.8M870.3 151.5l2.3 -2.2M860.2 550.7l2.1 -1.7M981.5 416.4l-1.7 -2.1M864.1 301.3l0.6 -1.5M901.7 470.1l2.2 -1.1M491.9 77.6l1.1 -1.1M689.7 74.4l0.4 -0.8M774.2 209.0l1.3 -1.3M751.9 140.7l2.4 -1.0M852.3 293.4l-2.1 -2.2M733.5 173.3l1.6 -0.8M1062.6 258.7l1.2 -1.3M795.1 299.9l1.9 -2.4M802.6 108.1l0.7 -0.9M856.2 260.7l2.0 -2.6M775.0 132.9l0.2 -1.5M574.3 139.5l1.6 -0.8M798.0 194.9l1.2 -1.7M1057.3 226.0l0.6 -1.5M900.2 213.6l3.1 -0.2M866.3 357.7l0.3 -1.4M748.7 155.4l0.7 -1.6M851.2 164.8l1.3 -0.7M630.5 118.1l2.0 -0.8M1011.1 258.2l-0.8 -2.0M851.6 214.3l-0.1 -1.0M758.5 186.3l0.5 -0.4M1104.8 308.1l0.6 -1.2M718.5 107.6l1.2 -1.8M796.2 219.5l1.4 -1.9M498.3 65.4l0.2 -1.3M928.9 218.3l2.3 -1.3M828.8 268.8l1.5 -2.4M956.2 388.4l-0.6 -3.0M864.2 540.8l-0.2 -0.8M689.8 149.3l2.4 -1.5M914.1 421.5l1.6 -2.3M906.0 356.3l-1.0 -0.6M939.5 230.7l0.8 -1.4M1000.1 211.2l2.1 -2.7M856.4 336.8l-0.6 -2.6M799.8 220.5l0.1 -1.1M863.0 229.2l-0.2 -1.9M579.5 93.9l-2.4 -0.9M978.8 427.2l1.4 -0.8M898.8 234.4l2.4 -2.2M811.1 268.0l-0.4 -3.4M879.8 216.6l1.7 -1.6M742.9 100.1l-1.2 -3.0M689.6 138.2l0.4 -1.4M470.0 70.3l3.0 -1.1M1007.7 233.2l2.6 -1.6M861.6 270.5l0.0 -0.9M863.4 195.5l0.3 -1.6M840.8 101.2l1.6 -1.0M863.6 542.1l0.4 -0.9M795.0 213.4l-0.2 -1.4M833.5 106.7l2.0 -1.8M758.4 101.5l1.7 -0.4M530.2 88.3l0.3 -1.2M629.3 130.0l1.8 -2.4M925.0 366.9l0.1 -0.7M880.6 213.6l1.3 -1.6M878.1 325.3l0.9 -2.4M968.6 425.8l0.3 -1.9M792.1 263.6l0.9 -3.0M931.4 173.6l1.5 -2.2M799.0 122.4l2.8 -0.1M545.8 130.3l-0.1 -1.8M809.1 249.7l0.4 -0.8M735.6 69.0l1.7 -2.6M596.8 95.4l-0.4 -2.3M927.1 242.1l3.0 0.3M954.9 230.3l-1.1 -2.5M923.7 403.2l0.4 -1.8M722.2 227.2l0.2 -2.0M861.5 229.2l1.5 -2.3M818.4 109.3l0.0 -0.7M945.0 260.1l1.9 -2.1M512.0 66.4l0.8 -1.6M504.0 75.0l0.7 -1.0M519.2 121.1l0.6 -1.6M799.3 265.0l1.4 -2.6M895.6 227.5l-0.5 -2.3M946.7 416.0l0.8 -0.5M807.2 216.5l0.9 -1.0M1100.3 279.5l0.4 -0.7M684.0 198.8l0.4 -2.0M794.9 212.8l-0.8 -2.1M620.1 145.1l0.4 -3.3M943.6 201.3l1.3 -2.9M1073.0 262.2l1.1 -2.9M751.9 189.9l2.7 -1.9M958.9 212.0l0.8 -0.5M736.5 217.9l0.5 -0.8M585.5 83.0l0.7 -3.3M779.0 197.5l0.3 -3.0M585.0 86.1l1.3 -1.6M873.6 104.8l1.6 0.3M783.2 101.6l-0.6 -0.9M950.2 263.7l2.1 -1.2M605.0 155.1l1.6 -2.4M934.5 448.7l2.3 -0.4M763.9 231.5l1.7 -2.9M904.5 442.1l0.7 -2.5M890.1 159.2l2.0 -2.8M633.9 80.3l2.5 -0.5M850.4 533.6l-0.1 -1.7M728.6 236.1l0.5 -1.5M458.4 72.8l-0.0 -1.4M1006.2 245.1l1.8 -0.2M816.6 276.0l-0.9 -1.5M724.8 69.4l0.3 -2.2M802.4 175.2l2.8 -1.4M841.6 244.6l3.0 0.3M622.1 84.4l0.2 -1.2M838.2 288.9l1.5 -0.7M677.5 180.3l0.9 -1.8M930.3 350.3l1.4 -1.2M783.5 102.0l0.5 -2.5M967.5 380.4l1.3 -3.1M825.7 173.2l1.5 -1.2M859.5 146.7l1.7 -0.6M634.2 126.3l0.1 -1.0M925.4 254.9l0.6 -1.0M1106.4 320.0l2.9 -1.9M804.6 134.1l1.2 -1.8M707.0 92.9l1.2 -1.6M771.6 127.0l0.5 -3.2M547.8 124.8l0.7 -0.8M837.5 282.2l0.4 -1.5M1094.6 290.3l0.7 -1.0M673.0 69.6l-1.1 -2.2M896.1 491.8l0.8 -2.5M845.6 185.4l1.8 -2.4M772.3 145.1l0.6 -2.8M948.4 400.7l1.1 -0.6M754.0 185.6l2.9 -1.5M881.8 266.2l2.0 -1.7M887.4 251.5l3.4 -0.4M996.4 242.1l0.2 -1.7M948.3 407.9l1.5 -2.4M1004.1 247.9l1.3 -0.9M810.4 149.9l-0.4 -2.5M658.9 75.1l2.5 -2.4M1025.0 263.4l0.5 -1.2M874.4 106.1l-0.4 -2.5M977.3 407.8l1.1 -0.2M874.9 86.6l-0.8 -1.3M853.0 285.9l0.3 -0.6M955.3 256.8l3.1 -0.6M905.8 275.8l1.3 -1.2M951.7 390.3l1.7 -1.0M804.3 200.5l1.9 0.1M899.9 200.1l0.9 -1.7M686.7 198.0l-0.5 -3.3M861.8 552.6l1.5 -1.5M981.8 370.4l0.9 0.5M686.7 150.6l2.2 -1.0M964.6 245.0l0.4 -1.7M935.3 401.9l1.6 -0.1M935.2 285.9l0.5 -2.2M875.8 550.4l1.3 -2.1M853.6 282.7l2.4 0.1M772.8 254.1l2.1 -0.6M846.3 139.4l-0.6 -2.1M648.5 159.9l0.3 -0.6M933.3 379.5l1.3 -2.4M787.2 206.5l0.4 -1.5M784.7 119.7l0.9 -0.5M496.4 68.8l0.9 -1.3M677.9 117.3l2.0 -0.2M954.7 414.5l0.9 -1.9M790.7 276.5l0.7 -0.8M941.4 180.7l0.4 -1.3M731.5 65.2l3.0 -1.1M928.1 490.9l0.7 -1.3M881.0 92.7l0.3 -0.8M990.5 192.7l1.3 -3.1M1025.6 222.4l0.8 -2.0M905.2 212.4l1.2 -1.6M905.8 165.5l0.1 -0.6M722.4 192.8l-0.2 -1.7M932.7 237.2l2.2 -0.1M1003.3 245.9l0.8 -1.3M665.0 169.0l1.0 -1.8M724.7 171.8l0.3 -1.1M535.5 104.1l0.0 -0.7M801.2 92.5l0.1 -2.3M824.4 137.0l0.3 -3.4M987.5 204.2l-0.2 -3.1M912.9 383.4l1.6 -0.5M704.7 115.3l0.1 -2.1M907.3 219.5l1.6 -1.4M886.6 282.1l0.3 -0.5M847.5 229.7l0.9 0.4M484.2 72.7l-0.2 -2.3M771.4 167.1l1.2 -1.3M967.7 374.6l2.0 -2.2M727.8 180.0l0.3 -1.7M675.3 153.6l1.7 -1.7M657.6 137.4l0.8 -0.6M868.2 190.7l0.7 -0.9M589.7 98.9l0.2 -1.4M782.7 231.4l1.5 -2.4M926.4 487.9l1.6 -2.2M551.6 139.6l-0.7 -1.5M732.8 184.1l1.2 0.3M1038.7 251.1l1.3 -2.4M1071.1 278.0l1.6 -2.4M1096.7 272.5l3.0 -0.8M827.7 168.0l2.4 -1.7M844.5 245.6l0.9 -1.6M813.8 116.8l0.7 -0.3M962.2 388.4l0.4 -2.2M1096.6 288.3l2.9 -0.2M937.8 451.3l0.7 0.1M726.7 103.9l0.2 -1.9M681.5 162.8l0.2 -2.6M871.0 465.3l0.1 -0.7M812.5 266.0l1.3 -0.0M892.5 466.6l0.2 -2.9M729.3 203.4l2.0 -0.7M947.2 395.2l0.2 -1.6M744.8 159.4l1.0 -1.0M798.4 136.9l2.8 -1.0M911.4 358.9l2.2 -0.2M850.1 183.1l2.4 -0.6M960.1 242.4l1.0 -3.2M649.6 74.1l0.5 -0.4M790.7 249.5l1.5 -2.1M751.4 105.1l1.7 -2.6M861.6 170.6l-1.1 -1.6M758.9 118.2l0.3 -1.8M846.6 199.3l-0.4 -1.7M892.0 503.7l2.0 -0.2M920.4 298.0l-0.7 -1.8M990.0 227.1l0.4 -0.8M726.8 192.7l0.9 -2.4M583.9 150.6l1.1 -0.6M596.8 124.4l1.4 -1.3M889.4 258.2l0.1 -1.6M868.6 297.2l-0.0 -1.4M606.8 74.4l1.2 -1.8M907.7 257.3l0.3 -0.8M584.9 93.6l0.8 -3.1M951.0 243.3l1.1 0.4M819.5 261.8l1.3 -2.7M835.3 231.2l2.8 -1.9M574.6 149.9l0.5 -1.2M883.1 364.8l0.9 -1.0M771.2 244.4l0.5 -1.1M843.5 283.9l0.7 -1.0M703.4 112.6l1.0 -0.7M939.4 221.4l2.2 0.3M980.4 395.8l2.3 -0.7M673.4 176.5l2.3 -1.8M566.0 146.9l2.5 -1.9M971.5 209.1l1.2 -0.8M746.2 128.0l0.7 -0.2M1107.3 272.4l1.7 -2.7M708.0 155.1l1.2 -0.6M858.1 113.7l2.4 -1.8M671.6 152.0l-0.2 -1.1M955.7 223.0l2.6 -0.6M812.0 151.6l0.9 -2.3M926.1 268.2l0.2 -0.6M859.3 258.5l0.8 -1.5M759.8 231.5l-0.3 -3.2M824.5 277.5l2.1 -1.0M898.4 201.8l1.6 -2.0M882.8 209.2l1.9 -1.2M649.8 169.3l1.6 -1.9M898.1 237.2l1.0 -1.2M877.2 493.1l2.4 -0.8M1068.8 267.8l2.7 -0.9M626.8 142.0l0.6 -0.3M829.7 179.3l0.7 -0.0M865.7 466.7l0.3 -1.4M759.2 177.6l-0.7 -1.4M569.8 146.6l-0.3 -1.7M663.8 132.3l1.8 -1.1M684.3 203.2l0.9 -1.1M912.2 405.9l0.3 -3.0M795.9 227.2l2.5 -2.3M797.1 100.6l0.6 -0.7M762.7 138.1l1.5 -2.3M551.2 144.9l0.5 -1.7M675.2 133.0l1.9 -2.8M887.3 405.3l-0.0 -1.6M1032.0 247.4l-0.1 -2.5M540.5 112.9l0.9 -2.3M686.2 117.9l1.0 0.1M949.0 265.2l2.7 -1.5M899.5 193.4l0.5 -2.2M842.3 191.0l1.8 -2.2M818.4 281.4l1.7 -2.2M965.0 424.1l1.2 -2.4M830.6 110.9l2.4 -0.8M855.5 296.3l1.7 -1.9M889.4 187.1l1.8 -0.6M727.7 87.6l2.0 0.2M918.0 327.0l1.3 -0.5M735.2 106.9l0.0 -2.3M909.7 216.9l2.1 -2.4M844.6 148.0l1.0 -1.3M871.3 188.2l1.6 -3.1M1099.8 267.1l1.3 -1.8M828.1 220.0l0.2 -1.6M877.4 96.2l-0.1 -1.4M962.8 200.2l2.5 -1.1M992.1 394.4l0.1 -2.5M940.5 279.3l2.5 -0.6M774.1 205.9l1.5 -2.0M909.2 433.3l1.0 -2.7M783.5 278.6l0.7 -1.7M710.0 237.1l1.6 -1.2M821.3 283.6l0.5 -0.5M773.3 287.9l1.4 -0.6M899.2 495.0l2.5 -2.4M966.4 181.5l-0.1 -2.0M765.9 110.7l0.2 -1.1M887.3 286.5l1.9 0.1M862.3 294.6l0.1 -0.8M645.9 156.9l0.4 -3.1M707.0 199.5l0.1 -1.0M764.1 201.3l-0.3 -2.9M545.7 66.3l1.1 -1.0M726.3 119.1l1.5 -2.4M836.8 268.1l2.4 -0.1M839.3 106.7l0.2 -2.1M580.5 120.2l0.4 -1.3M918.4 349.9l1.3 -1.4M726.9 64.4l2.2 -1.1M784.5 237.6l-0.1 -2.4M913.8 509.3l0.1 -1.0M985.8 204.1l1.4 -2.0M682.4 118.1l0.9 -0.1M510.8 63.7l2.4 0.4M859.9 173.8l1.3 -1.1M811.9 295.9l1.6 -1.4M821.1 142.1l0.6 -1.9M882.8 470.8l3.0 -0.4M762.9 95.6l1.2 -1.0M550.9 112.6l1.2 -2.3M702.3 123.8l1.3 -1.9M732.6 133.1l-0.2 -2.9M1029.1 225.8l1.8 -1.5M816.0 247.0l1.3 -1.2M728.1 144.6l0.8 -3.0M797.9 190.5l1.1 -0.7M569.3 155.6l0.4 -1.3M801.3 213.7l0.8 -2.0M881.1 339.2l0.1 -0.9M727.4 119.9l0.6 -1.3M854.8 539.4l1.9 -1.8M953.6 204.9l2.0 -2.3M753.9 166.1l0.5 -2.3M470.3 71.4l2.7 -1.8M931.5 290.6l0.4 -0.9M872.6 240.5l1.6 -1.1M599.9 100.6l1.0 -0.1M758.1 174.0l-0.4 -2.2M958.5 257.9l1.4 -1.5M815.1 228.1l2.1 -1.1M741.8 77.8l-1.7 -1.3M699.6 74.4l-0.5 -0.9M683.5 182.0l1.4 -2.7M983.6 399.3l0.9 -3.0M789.8 210.0l0.7 -0.6M705.1 75.0l1.6 -1.8M507.5 67.6l1.9 -2.2M795.2 91.5l1.9 -2.0M887.3 314.7l0.4 -1.6M803.8 89.1l2.1 -1.0M890.7 184.1l2.0 -0.4M792.4 131.8l2.1 -1.5M648.3 147.2l2.1 -0.6M578.3 127.2l-0.1 -0.7M750.7 164.1l3.1 -0.1M936.4 254.7l2.0 -1.1M536.8 66.3l0.0 -0.7M834.9 150.0l-0.2 -2.3M955.2 397.1l0.0 -1.4M607.5 131.2l0.5 -1.3M741.0 164.1l2.6 -1.3M809.7 158.1l0.8 -0.0M596.3 90.9l-0.8 -2.2M777.6 191.1l1.3 -2.8M834.5 138.5l0.6 -2.9M708.1 109.1l0.6 -0.8M1055.6 262.8l0.5 -0.6M873.0 306.3l1.0 -1.7M768.7 117.2l1.2 -2.8M845.5 275.5l1.2 -0.8M595.4 81.1l0.3 -2.2M828.4 175.6l-0.2 -3.2M766.9 165.3l-0.7 -2.5M612.5 107.8l3.0 -0.6M766.1 110.2l0.8 -3.3M513.5 92.7l1.6 -0.2M677.1 123.4l0.8 -2.3M762.4 222.2l1.2 -0.7M882.6 172.9l2.4 -0.4M961.2 394.4l0.4 -0.7M147.7 344.7l2.1 0.4M225.2 285.0l0.5 -2.5M165.4 260.8l0.5 -1.2M182.4 338.8l0.6 -0.2M122.8 329.7l1.4 -1.7M156.8 370.1l1.0 -2.3M194.2 228.2l0.1 -2.0M170.3 399.7l1.2 -0.3M152.8 228.4l1.1 -3.1M199.4 198.6l0.9 -2.0M110.3 411.0l0.1 -1.2M228.3 263.0l1.3 -1.3M126.9 411.1l1.5 -0.9M197.8 321.6l1.5 -1.4M118.4 388.5l1.6 -2.1M172.8 207.9l2.0 -2.8M161.5 312.0l2.3 -0.1M208.1 291.3l0.6 -1.2M222.7 241.4l0.9 -1.0M171.7 348.5l2.5 -0.7M167.3 187.0l0.3 -2.0M165.5 318.3l0.7 -0.4M151.4 240.2l0.3 -0.6M149.7 314.8l0.9 -2.5M122.7 300.2l2.1 -0.3M148.7 308.8l1.0 -2.7M185.6 331.0l0.5 -0.8M144.6 244.6l0.6 -1.0M164.5 384.2l1.8 -2.9M151.9 378.8l-0.3 -0.7M187.0 345.6l1.1 -1.3M235.5 323.6l0.3 -0.8M170.1 189.9l0.9 -1.2M145.8 425.3l3.3 -0.9M161.4 365.2l2.0 -0.4M129.5 277.1l1.0 -2.1M133.1 425.6l-1.4 -3.1M209.5 248.1l1.4 -2.1M160.6 422.9l0.3 -1.0M158.3 296.2l0.7 -0.4M208.9 209.1l0.4 -0.6M228.6 268.4l1.5 -1.7M130.5 421.6l1.2 -0.3M225.0 230.5l1.8 -2.8M210.4 286.6l0.3 -1.2M119.9 313.3l1.2 -1.1M120.7 241.6l2.8 -0.5M143.9 336.9l0.5 -1.6M128.9 418.1l2.6 -0.1M214.0 290.1l1.1 -1.9M161.5 335.4l1.3 -1.9M127.7 267.8l-0.7 -2.8M202.8 381.3l1.4 -1.9M198.6 402.4l-0.5 -2.3M144.8 353.5l1.0 -0.1M217.2 186.5l-0.7 -2.0M213.6 285.5l1.7 -2.6M206.6 247.8l0.2 -2.1M173.1 229.6l-1.4 -2.9M146.9 365.1l1.3 -3.1M221.3 225.3l0.9 -1.0M206.0 279.2l1.5 -2.0M170.4 398.0l1.0 -1.3M235.8 263.0l0.9 -1.6M211.4 347.1l0.8 -3.3M211.9 323.8l0.1 -0.8M220.6 206.5l0.1 -2.9M228.1 254.2l0.6 -0.2M111.2 319.5l2.3 -2.6M218.9 221.6l0.8 0.3M145.1 325.3l1.4 -3.0M135.8 271.1l1.4 -1.5M183.4 309.7l0.8 -1.5M116.3 287.5l2.2 -0.8M165.7 264.7l1.4 -0.6M193.0 222.8l1.0 -2.2M100.3 228.5l0.7 -0.9M181.3 237.8l0.9 -1.4M142.7 377.6l0.3 -0.5M116.8 298.7l1.2 -1.6M119.4 316.8l0.8 -0.4M102.4 244.8l0.8 -2.1M160.5 424.9l2.9 -1.1M104.3 380.8l1.0 -1.2M144.9 334.5l2.4 -2.4M137.2 386.8l1.2 -3.2M89.6 232.7l0.9 -0.9M183.4 254.3l-0.1 -2.7M196.3 276.9l0.8 -2.4M161.2 289.6l1.3 -2.5M169.1 384.8l1.5 -2.9M137.9 417.0l1.3 -0.8M123.8 339.8l-0.7 -2.0M176.3 214.2l-0.1 -1.5M230.1 355.3l1.6 -2.5M237.2 258.9l1.9 -1.5M197.8 289.4l0.8 -0.5M145.7 284.9l3.2 -0.9M202.7 174.4l-0.3 -2.0M179.2 245.3l1.5 -3.1M212.8 328.8l2.4 -1.9M191.3 258.6l-0.0 -3.0M139.4 264.6l0.3 -0.5M210.0 361.6l1.1 -1.4M182.3 309.5l2.3 -1.8M153.7 298.4l0.7 -1.3M179.9 361.4l2.0 -2.7M134.3 422.9l0.0 -1.1M126.8 345.7l0.4 -3.3M188.5 180.4l1.0 -1.6M190.1 297.4l1.0 -2.2M147.9 329.7l0.7 -0.7M151.6 417.9l2.3 -2.6M122.5 241.4l2.8 0.7M166.2 257.6l1.3 -2.8M133.0 231.5l0.5 -0.8M175.3 258.9l1.9 -2.0M124.8 228.3l2.1 -1.5M228.1 290.9l0.9 -1.3M111.2 262.3l0.9 -0.1M207.8 310.4l1.1 -2.7M166.0 262.2l2.0 -1.9M162.1 345.5l1.3 -2.3M203.6 277.7l0.9 -1.2M125.6 321.1l-0.0 -0.9M147.7 378.2l0.7 -1.1M228.1 357.3l2.4 -0.8M151.2 248.7l1.3 -2.1M225.4 235.4l2.7 -2.1M190.4 208.6l1.7 -1.5M166.7 221.3l0.2 -0.9M171.8 310.7l2.0 -0.8M173.1 219.9l0.0 -0.8M225.9 340.1l-0.2 -2.0M113.8 303.5l0.3 -2.8M233.0 339.6l-0.4 -2.9M150.8 422.4l-0.0 -2.0M185.1 378.9l0.3 -1.9M135.9 357.5l0.7 -0.7M181.9 216.8l0.1 -1.2M210.4 342.8l0.7 -2.5M139.1 327.4l0.4 -1.5M119.3 421.9l2.5 -2.2M243.7 238.2l-0.3 -2.1M199.1 277.9l-0.1 -2.3M150.2 386.3l0.8 -3.1M164.6 389.0l1.4 -2.9M167.3 351.5l1.0 -0.4M163.6 233.6l-1.4 -2.7M171.5 245.2l-0.3 -0.7M129.2 289.3l2.6 -2.1M213.7 389.4l1.1 0.2M214.1 204.8l0.3 -0.6M224.9 221.1l0.7 -0.3M201.4 170.9l2.4 -1.3M120.5 408.1l-0.4 -1.5M183.9 254.8l-0.1 -0.8M138.3 342.2l0.6 -1.2M216.3 220.5l-0.0 -2.0M90.4 226.6l0.5 -0.6M115.8 360.4l0.4 -2.7M134.1 343.9l1.6 -1.3M139.1 303.2l1.4 -2.3M120.4 288.7l1.7 -2.2M100.2 228.6l0.8 -0.9M179.6 308.2l1.9 -2.6M202.2 327.9l2.8 -0.6M129.7 214.8l0.9 0.5M181.3 230.4l2.3 -2.2M126.2 408.8l0.0 -2.7M157.3 234.1l0.3 -1.6M162.0 273.1l1.5 -0.4M185.4 290.5l1.8 -2.1M174.9 343.6l2.4 -1.9M184.8 327.5l0.4 -3.0M215.0 294.1l1.3 -1.0M91.6 237.5l0.9 -2.2M208.5 337.3l1.8 -1.7M177.1 309.1l-1.1 -1.7M160.3 344.4l1.1 0.3M786.4 543.6l2.3 -2.1M641.2 603.2l-0.6 -1.9M667.8 565.0l0.8 -0.3M764.9 655.3l-0.0 -0.8M740.4 544.0l2.0 -2.6M747.3 536.8l-0.8 -3.4M745.2 595.0l0.9 -1.8M721.3 652.4l1.0 -0.5M624.1 614.3l-0.1 -2.8M793.1 670.4l-0.8 -1.2M767.3 544.1l0.3 -1.0M598.5 595.5l0.9 -1.3M571.7 591.5l1.0 -1.8M711.7 655.2l2.6 -1.8M726.8 580.1l-0.1 -1.1M731.0 611.0l1.8 -2.9M787.2 608.6l1.2 -0.6M664.7 565.7l-0.2 -1.3M721.7 666.1l0.4 -1.0M577.7 571.2l1.8 -1.0M644.7 599.0l1.8 -0.1M700.6 564.4l0.8 -2.0M647.3 625.3l0.3 -0.5M671.1 561.1l0.3 -2.8M593.1 561.6l0.7 -0.7M684.5 590.5l0.2 -2.0M614.6 543.5l1.9 -1.0M704.4 596.0l1.6 -0.7M776.4 686.5l1.1 -0.0M788.2 647.7l0.5 -1.9M802.4 567.7l0.3 -1.0M677.7 640.5l0.9 -0.9M578.5 538.3l1.6 -1.9M717.3 566.2l0.0 -0.7M675.1 568.3l0.9 -2.0M704.5 634.0l-0.3 -0.9M694.2 612.8l1.9 -2.3M617.1 616.3l2.9 -1.5M691.6 644.5l0.5 -0.8M745.6 630.9l0.9 -2.3M778.1 659.5l1.8 -1.9M743.7 536.4l0.2 -3.2M761.2 631.5l-0.5 -0.5M620.3 606.1l1.8 -2.8M682.8 628.5l1.5 -1.7M610.2 616.4l0.5 -1.0M645.0 562.4l-0.3 -1.5M681.8 595.8l0.6 -0.4M663.6 595.8l1.7 -0.2M708.9 637.4l1.5 -1.4M661.4 616.6l2.1 0.1M721.3 601.9l1.9 -2.3M633.8 556.2l0.9 -0.3M766.1 683.9l1.2 -2.6M771.8 631.8l2.0 -2.4M771.0 609.3l1.3 -2.6M733.8 652.3l0.6 -2.4M601.8 521.1l1.0 -1.6M676.3 570.8l-0.6 -2.1M807.2 566.7l1.2 0.0M782.3 627.5l-0.5 -2.5M746.0 588.7l0.7 -0.0M748.1 673.1l1.9 -1.0M623.3 591.7l1.0 -1.4M600.1 608.1l1.6 -0.9M777.8 605.6l-0.1 -1.5M576.4 579.4l0.1 -0.9M778.7 555.4l2.9 -1.4M784.5 556.3l1.9 -1.7M640.5 629.3l1.6 -2.4M767.7 609.5l1.2 -0.7M604.3 555.6l2.2 0.1M769.4 586.0l2.5 -2.1M590.7 558.5l0.3 -1.3M728.6 630.6l1.3 -0.6M604.4 575.2l-0.3 -1.7M664.9 580.0l0.8 -0.0M624.0 616.8l2.9 -1.4M570.5 590.5l-0.6 -2.5M821.8 531.8l1.4 -2.2M734.2 651.2l-1.6 -1.8M653.3 576.7l2.9 -1.8M745.7 660.0l0.7 -1.4M692.4 621.2l0.2 -2.7M576.5 554.5l1.5 -2.3M732.7 629.9l3.0 -1.0M635.6 582.5l3.4 -0.5M633.0 559.2l1.8 -2.9M611.5 611.6l0.1 -2.9M738.2 629.5l0.1 -0.9M802.5 565.3l-0.3 -1.1M754.5 588.0l1.1 -0.9M708.3 657.4l0.7 -1.6M728.3 638.1l1.9 -0.7M593.8 601.2l0.9 -2.5M671.0 593.5l0.8 -1.3M751.7 560.7l2.7 -1.4M730.6 637.6l-0.3 -2.9M739.8 672.3l0.2 -1.3M679.8 603.9l1.6 -1.7M797.8 555.8l2.8 -1.4M749.5 542.9l1.1 -3.2M731.2 607.2l0.9 -1.1M767.0 538.0l0.2 -1.1M726.1 629.3l1.0 -0.7M756.2 562.9l0.5 -0.7M703.8 644.8l0.3 -0.8M746.0 579.3l1.2 -0.9M719.1 560.7l1.9 -1.8M738.1 669.6l1.4 -1.7M566.9 554.6l-0.1 -1.7M791.5 586.0l1.1 -2.8M741.9 645.1l2.6 -0.8M747.9 558.6l1.6 -2.6M607.1 585.7l-0.6 -1.5M725.4 676.8l0.0 -1.7M618.0 608.1l1.2 -2.0M631.7 548.4l2.2 -1.3M791.4 543.9l-0.1 -1.8M735.3 537.3l0.1 -3.0M798.7 570.9l1.7 -2.6M750.4 637.5l0.3 -2.9M745.4 543.2l1.5 -2.3M663.1 608.6l0.8 -0.4M755.6 669.9l0.0 -1.0M684.7 567.9l0.3 -0.8M762.9 676.5l0.5 -0.9M730.8 624.1l1.1 -2.1M549.6 550.5l1.4 -0.9M617.9 585.2l0.6 -0.9M762.9 653.8l2.5 -1.6M643.6 634.6l0.4 -2.1M740.7 559.2l0.2 -2.6M701.2 614.3l1.7 -1.2M811.8 542.1l-0.4 -3.1M682.3 613.6l0.5 -1.7M648.4 626.2l0.7 -0.1M671.0 628.4l2.3 -0.8M754.2 539.6l1.3 -1.3M691.3 548.4l1.6 -2.4M731.4 647.5l3.0 -1.1M746.6 662.8l1.2 -0.2M745.5 537.1l1.0 -3.0M755.1 598.0l-1.4 -2.6M742.5 605.8l1.5 -1.5M772.6 587.8l-0.7 -1.8M771.0 679.2l1.6 -2.9M633.2 543.5l0.5 -0.7M619.7 592.8l2.5 -0.8M670.2 579.6l0.7 -0.8M687.1 608.1l1.6 -2.8M640.5 636.5l1.5 -1.4M720.4 645.0l0.0 -2.6M710.4 574.7l0.6 -0.5M673.5 634.1l1.6 -1.5M738.0 577.5l-0.3 -1.1M817.7 531.1l0.2 -2.5M645.7 593.6l2.4 -2.1M541.3 572.0l0.9 -0.0M609.9 599.7l1.8 0.2M749.9 610.3l-0.4 -3.1M799.3 640.3l-0.1 -2.2M593.7 587.8l1.4 -0.5M791.1 574.7l0.9 -2.0M755.8 571.8l2.2 -2.5M670.3 586.4l0.2 -0.7M663.8 597.7l-0.1 -0.7M621.7 580.4l0.8 -1.4M814.6 552.5l-0.3 -3.0M788.7 645.8l1.1 -0.7M552.1 536.6l0.5 -0.5M759.4 550.5l1.0 -1.1M788.6 565.6l0.4 -1.0M637.4 628.7l0.3 -3.0M755.7 666.6l0.5 -1.8M768.0 585.7l0.5 -0.9M782.9 566.3l0.9 -1.7M739.6 646.6l-0.6 -3.2M673.7 603.4l1.6 -1.4M751.2 612.0l1.9 -2.0M669.5 574.1l1.8 -0.7M729.0 614.5l2.5 -1.4M664.6 580.5l0.0 -1.6M821.8 522.7l0.4 -0.9M740.8 615.4l1.6 -1.4M642.2 606.6l1.1 -2.4M702.1 641.2l0.9 -0.7M705.6 600.4l0.9 -0.4M710.6 593.3l2.0 -0.6M621.9 610.7l0.6 -0.9M686.3 628.6l1.8 -1.4M658.4 569.4l1.4 -2.6M535.7 550.3l-1.9 -2.3M747.7 565.6l0.6 -0.6M595.2 604.9l2.2 -1.4M685.4 561.0l3.2 -0.1M824.0 530.4l1.1 -1.2M806.8 521.7l2.7 -1.0M753.4 544.6l-0.6 -2.0M705.9 631.6l3.1 -0.2M609.3 603.3l2.4 -1.3M685.8 614.2l0.5 -0.7M559.2 555.0l-0.2 -3.1M783.7 627.9l0.9 -0.8M754.9 618.2l-0.2 -0.7M770.2 590.3l2.4 -0.5M709.0 561.4l0.9 0.2M602.4 558.1l0.8 -2.3M651.3 640.4l2.7 -1.9M770.3 536.5l2.2 -2.4M749.7 620.8l0.6 -0.8M670.6 593.2l0.4 -0.7M804.9 537.1l0.2 -2.2M686.8 611.5l0.8 -1.0M771.8 637.7l1.6 -0.6M687.4 557.8l0.6 -0.8M730.9 597.8l-0.2 -0.7M710.4 652.7l1.5 -0.9M723.9 593.9l0.3 -1.3M719.4 547.4l2.6 -1.2M672.2 627.9l3.0 -0.9M649.3 622.3l2.4 0.0M729.4 623.2l-0.4 -0.8M638.8 549.6l0.2 -1.3M541.3 578.1l1.7 -1.8M724.0 671.2l0.1 -2.4M770.2 603.5l1.5 -0.8M780.9 691.3l0.7 -1.0M553.6 563.8l0.4 -1.4M544.5 555.9l0.9 -2.7M767.5 541.5l1.1 -2.8M609.6 593.3l1.2 -1.2M688.3 598.5l0.5 -2.1M745.1 676.5l1.2 -1.5M637.7 544.0l0.2 -1.5M735.8 555.5l1.3 -0.8M641.4 559.8l0.5 -0.3M775.4 577.3l-0.2 -1.9M611.8 578.0l2.0 0.1M744.7 627.5l2.5 -0.9M525.6 544.6l-0.2 -1.7M657.8 612.7l0.8 -2.0M771.5 675.3l0.2 -1.0M748.3 594.5l0.9 -2.9M720.5 584.0l2.3 -2.6M736.7 669.9l2.3 -0.7M830.4 525.6l0.8 -0.3M744.5 663.1l0.8 -2.0M706.6 557.6l0.9 -1.0M762.2 539.4l0.3 -1.9M680.3 548.6l0.1 -3.3M533.0 554.2l1.6 -0.5M740.4 624.9l2.5 -1.8M705.7 631.5l2.0 -2.0M785.0 657.3l-0.5 -0.6M563.9 543.2l3.3 -1.2M751.8 623.6l-0.5 -2.7M744.9 585.5l0.2 -1.3M606.1 537.2l0.8 -3.1M729.2 628.9l1.5 -2.4M737.8 676.9l-0.2 -2.2M736.8 594.6l0.7 -1.1M753.3 586.6l1.4 -1.4M555.0 555.9l1.6 -2.1M665.3 600.6l0.5 -1.1M662.4 547.6l0.9 -1.5M519.0 556.8l0.7 -0.5M782.9 684.9l0.3 -1.5M775.7 682.3l1.8 -1.3M610.2 581.6l2.0 -0.2M619.1 568.5l0.5 -0.3M641.6 624.4l0.5 -1.2M615.0 595.1l0.7 -2.3M587.2 586.9l0.6 -3.1M786.7 646.5l0.3 -2.1M681.4 569.0l1.4 -1.5M721.3 549.8l1.7 -1.6M763.3 653.7l1.3 -2.5M750.6 579.5l1.1 -1.8M766.1 572.6l0.3 -0.8M725.3 625.4l1.4 -2.5M708.2 599.5l1.2 -0.1M654.9 621.1l0.7 -2.3M794.9 648.9l0.8 -1.4M815.6 545.1l0.5 -1.0M718.8 575.5l0.4 -2.1M551.3 570.2l1.8 -1.1M647.3 640.5l0.3 -1.2M774.1 565.2l1.6 -2.4M649.9 603.2l3.2 0.6M637.6 623.4l1.7 -0.8M624.3 605.1l0.1 -0.8M689.7 582.0l1.4 -2.5M641.6 630.5l0.4 -1.1M616.1 596.5l0.4 -1.2M637.0 566.9l1.0 -2.7M787.3 575.3l1.2 -0.0M681.7 597.1l1.1 -0.7M677.9 550.3l0.7 -1.0M570.0 547.9l1.4 -2.0" stroke="#e4ecf3" stroke-width="1.4" stroke-linecap="round" fill="none" opacity=".35"/>
<path d="M158,199 163.7,198.1 169,199 170,204 162,208 166.5,210.9 172,212 174,220 173.3,226.1 172,230 180,234 184.8,233.8 190,233 189,240.3 190,246 198,250 197,256 193.5,260.5 188,264 181.6,266.5 177.4,271.8 172,274 166,270 161.3,266.6 158,264 152,266 147.7,268 143.1,269.5 137.5,272.9 132,274 127.9,270.1 123.5,263.7 120,260 114.4,261.6 109,262M190,246 195.7,245.9 200,244 204.8,241.4 209,237.2 212,234 218,232.9 221.7,230.4 228,229 233.2,231.3 240,232 246,232M132,274 135.2,278.3 136,284 143.3,284.8 150,288 156,286.9 162.3,286.5 168,286 168.2,291.5 170,298 168,304M232,286 226.9,286.5 220,288 216,292.4 210,298 204,304M170,290 170.5,294.9 169,302 164,308 168,316 173.7,320 180,322 183.3,325.8 188,328 196,330 195.3,325.3 197.5,318.9 198.4,316 198,310 203.4,304.9 208,300 213.5,294.8 218,290M120,343 124.7,345.4 130,350 136.7,350.8 144,351 149.2,347.4 154,346 157.7,341.2 162,336 168.2,337.6 172,338 176.6,333.7 180,328M172,338 171.8,344.8 170.5,349.1 168,356 166.2,362 164,366 163.2,370.7 162,376 155.7,378.2 152.2,378.2 147.3,379.4 141.1,381.3 136,382 129.8,377 126,374 121,371.6 116,370 111.2,372 105,372M196,330 198.2,334.4 203.6,337.5 206,342 206.9,347.3 208,352 215.1,355.3 220,358 225.9,360 232,361M136,382 136.2,386.6 138.1,392.3 140,398 142.4,403.6 146,408 148,416 140,420 134.5,422.9 128,424 125.8,430.1 125,438M525,125 530.5,122.6 534,118 538.2,119.8 543.4,123.5 548,126 551.6,121.1 556,114 562.3,115.5 568,116 569.9,110.5 569.8,104.3 572,100 580,98 584,97.4 591.1,95.8 595.1,96.7 600,96 608,98 612.5,100.4 616.1,102.5 620.3,105.2 626,107 632.5,104.6 640,102 644.8,105 650.2,106.3 654.2,109.7 660,112 664.2,116.9 668.7,122.1 672,126 669.9,132.3 668,140 662.5,145.1 658,148 658,154.9 660,160 655.3,162.5 650.7,165.1 646,168M568,116 573.6,117.7 578.1,119.3 584,122 587.6,128.7 592,134 596.6,136.4 601.8,141.4 606,144 610.1,144.5 616.4,143.8 621.8,144.9 626,146 626.7,152 628,156 633.1,157.6 640,160M746,74 742.1,78.3 736,84 733.4,89.2 731.4,92.7 728,98 722,102 718,106 713.1,101.4 710.1,97.2 706,94 698,90 692.7,95 686,98 686.2,103.6 688,108 683.4,109.6 676.8,112.3 672,114 670.3,118.3 670,125.1 670,129.5 670,134M782,86 779.6,92.1 778,100 781.3,106 784,112 777.8,113.7 774.6,115.9 769.2,117.2 764,120 765.8,127.5 766,134 770.6,136.6 776,140 771.5,140 766.5,140.5 760,142 754.5,143.8 750.2,145.7 744.1,147 740.8,147.5 734.3,148.7 730,151 724.6,149.2 720.7,146.9 716,144 709.7,143.3 704.7,142.3 699.6,142.2 696.3,141.3 690.2,140 684.8,138.4 680,138 679.7,142.4 678,148 676,142.6 672.5,138.1 670,134M776,140 779.3,146.2 784,152 787,155.1 792.8,159 796,164 794.7,171 792,176 797.3,179.7 804.9,181.9 810,184 814.3,184.2 821.8,185.9 826,186 827.4,193.6 828,200 823.2,204.8 820,208 814,207.8 808,208M826,186 831.8,185.2 834.7,182 840,180 846,179.5 852.1,178.6 858,178 863.4,174.3 866.6,170 872,166 872.5,158.8 870.8,153.6 870,148M716,144 713.6,149.4 714.3,155.6 712,160 713.9,164 716.8,168.7 718,174 716.4,180.3 714,188 720.4,188 724.6,189.4 731.4,189.2 736,190 741.4,190.4 747,188.7 752,188 758.2,185.9 763.5,183.7 768,182 774.9,180.1 781.1,179.8 785.5,176.7 792,176M674,204 679.9,201.5 684.6,200 689.7,199.7 693.7,197.2 700,196 704.1,194.1 709.8,190.1 714,188M714,188 718.3,193 722,200 718.9,205.1 718,209 716,214 720.1,216.9 726.3,218.8 730,222 733.7,225.6 738.3,228 744,232M826,200 818.9,201.7 814.6,204.6 808,208 809.7,212.8 809,219.2 810,224 813.9,228.4 816.7,233.8 820,240 824.6,245.2 828,252 833.1,256.5 835.6,260.7 839,263.7 844,268 848.5,270.9 851.2,275.5 854,280 851.1,285.4 849.1,290 846,294 843.6,300.1 840,304M874,200 879.7,202 886.4,203.4 892,206 894.9,212 900,216 905.8,219.1 908.7,224.1 914,227 918.4,223.8 924,222 930,220 933.5,221.2 939.6,223.5 944,226 943.4,230.4 945.6,236.3 945.4,242.8 945.8,246 946,252 950.5,255 955.9,256.9 960,260M828,200 832.3,198.7 839.3,196.9 844,196.3 850,196 855.9,198 860.9,197.5 866.8,200.1 874,200M884,214 882.1,219 882.8,225.6 881.2,231.2 880,236 880.5,241.1 883,246.7 883.8,251 886.4,255.6 888,260 889.2,266.4 891.6,272.7 894,278 900.5,276.5 904.8,274.6 910,274 912,280.2 911.8,285.7 914,292 916,294 920.5,293.5 925.8,295.2 932,293.9 938,294M852,312 857.1,310.4 863.1,312.2 869.6,311 876,310 877.5,315.7 880,320 884.8,321.1 890.9,319.5 896,320 902.4,318.1 910,318 911.4,311.4 914,304 916,299.2 916,294M944,226 950.4,224.7 954.9,224.9 960,224 965.5,222.4 972,222 978.5,221.3 986,223 991.1,222 994.6,220 1000,217 1002.9,213.1 1004.4,208.3 1008,204M1000,217 1008,220 1010.4,225.8 1014.8,230.8 1018,236 1018.4,241 1020,246 1025.5,251.9 1030,256 1036.4,257.8 1041,258.1 1046,260 1054,262 1052.7,267.1 1052,272M1054,262 1057.7,258.2 1064.1,256.3 1068,254 1074.6,252.7 1082,250M924,168 916,170 908,172 904,180 900,188 897.5,192.4 894,198 892,206M870,148 876,150 872,158 874,166M980,369 977.2,373.7 974,378 969.2,381 964.2,382.3 960,384 956.1,384.1 950,386 952.1,391.8 954,398 956,404 951.9,411.2 948,416 954.4,417.2 960,420 965.1,424.2 967,427.4 972,430M890,420 894.6,416.9 900.2,417.2 904,414 911,414 916,414 920.9,416 928,418 933.1,417.7 938.4,418.2 943.1,417.1 948,416M872,482 877.5,481.7 881.9,480.1 888,478 896,482 901.2,486 908,488 912.6,489.6 918,492 922,488 920,482.3 918,476 917.1,471.2 916,464 912.8,458.9 910.3,455.5 908,450 902,448M922,478 928,484 933,485.7 940,488M572,540 573.8,544 576,550 570.4,554.4 566,558 568,566 575.1,566.7 582,568 578,574 573.2,577 569.4,578.8 564,582 562.6,588.8 563,594M578,574 583.1,577.8 590,582 594.1,586 600,588 606.9,588.5 612,590 619.3,588.8 626,588 632,585.1 640,584 645.8,581.3 650.1,579.9 656,578 660,580.9 664,584 665.9,588.5 666,594 660.7,592.2 656,592 649.2,593.3 644,594 642.5,599.7 642,606 645.9,607.3 652,610 656.9,613.8 661.7,615.1 666,618 669.9,621.6 672,626 675.9,630.9 678,638M666,584 673,585.1 680,584 685.7,581 692,578 695.7,573 700,570M706,560 705,565.8 704,572 699.7,576.2 694,582 692.3,588.3 691.8,593.7 692,598 689.5,603.4 685.9,608.6 684,614 688,622 695.3,621.8 702,624 709.6,625.3 716,626 722.8,622.9 728,620 735,617.7 740,614 734.6,609.9 730,604 736,598 741.5,596.8 748,596 753.3,596.9 760,598 759.9,593.1 762,588 756.3,582 752,578 753.5,572.2 754,566 760,560M716,626 717.1,631.3 718,638 722.9,640.8 726,646 724,650.8 724,656 716,660M724,656 728.7,654.4 735.7,654.4 740,652 744.7,649.3 750.3,647.5 756,646 764,648 761,642.5 760,636 763,631.8 768,628 763.1,625.8 760,622 764.6,617.1 770,614 776.5,614.7 781.5,616.4 788,618M764,648 764.8,653.3 765.8,658.1 768,664 772.2,667.9 776,672 772.1,677.3 770,682 775.4,684.3 780,686 784,692M666,614 669.1,618.7 672.3,624.3 676,628 677.9,634.5 680,640 681,649M696,543 700.5,548.4 704,554 704.2,558.7 706,564 705.5,569.7 704,576 699.1,580.9 696,586M706,564 713.5,563.1 720,560 726,559.9 730.1,561.7 736,562 740.8,559.6 747.5,559.1 752,556 756.9,553.6 760,550 766.1,551.3 772,554 777,553.8 782.8,554 788,555 794.9,556.2 800,558 805,561.1 810,562M752,556 755.4,562.5 758,568 752.9,573 750,576 754,584 757.9,587.9 762,594" fill="none" stroke="#6b6f75" stroke-width="0.8" stroke-linejoin="round" opacity=".85"/>
</g>
<path d="M103,178.6 105.5,178.2 107.6,181 106.6,184.5 103,186.5 101,189 96.6,193 95.6,200 98,206 103,210 114,213 128,211 140,204 154,199 160,191 172,181 184,176 189,174 188,167 196,164.4 201,170 210,172 218,178 219,183 226,175 230,182 224,191 234,195 227,203 236,207 243,213 238,217 240,224 246,232 248,242 253,249 248,258 240,268 232,278 234,290 241,298 242,300 238,312 237,330 234,350 232,366 227,380 229,391 224,398 222,408 218,414 208,410 200,403 188,400 178,404 170,401 164,410 169,418 167,424 158,433 146,440 136,434 128,440 125,438 120,428 117,420 109,412 101,400 105,392 103,380 107,370 112,358 111,348 112,337 118,343 120,336 123,325 118,320 112,322 107,318 107,305 114,300 116,290 115,274 109,262 105,250 100,240 93,241 92,238 87,243 85,238 90,230 84,223 87,216 92,208 90,199 93,197 93,190 96.5,186.5 100,184.5 100.4,181ZM447,62 740,62 744,69 754,75 768,80 780,86 800,89 820,88 840,87 860,85 872,83 882,88 887,98 884,106 872,114 862,119 859,128 862,136 870,142 880,148 903,157.4 930,169 962,179.4 980,185 996,196 1008,204 1026,214 1044,219 1060,227 1071,231 1078,240 1088,250 1100,257 1112,266 1120,274 1124,284 1128,293 1123,304 1118,320 1115,330 1108,327 1092,318 1082,310 1076,302 1075,293 1069,284 1064,276 1052,272.4 1040,273 1026,273 1012,266 1000,259 993,253 984,248 970,252 958,264 950,276 942,290 936,302 938,314 930,324 925,336 930,348 944,353 956,355 968,362 980,369 994,378 991,388 994,400 992,410 1000,421 996,430 990,437 976,434 960,436 948,441 940,450 935,460 938,472 941,486 938,494 928,503 916,508 908,518 900,530 898,539 892,548 882,553 874,552 860,553 852,549 847,542 845,530 845,518 850,514 860,509 866,500 871,488 872,478 866,473 864,468 870,463 884,459 896,456 902,448 901,438 898,436 890,424 886,412 884,396 878,378 868,364 859,348 855,332 850,318 840,308 832,302 826,303 816,310 802,306 786,292 776,290 764,281 768,272 773,266 768,256 760,241 750,231 742,234 732,238 720,239 708,243 705,244 710,236 719,230 718,225 708,219 699,212 688,216 678,219 674,210 668,198 660,184 650,172 640,166 626,170 614,166 600,162 588,164 580,169 576,168 568,158 556,148 546,147 534,142 520,126 509,115 494,107 490,96 483,87 466,78 455,74ZM524,543.6 528,538 538,535 544,528 546,524 550,527 552,534 560,541 572,540 580,534 580,527 588,525 598,521 605,519.6 610,526 609,530 618,533 626,532 630,539 640,545 652,548 664,545 672,541 686,542 700,544 716,542 732,538 744,533 753,526 762,525 770,522 780,526 788,530 798,525 803,519 803,513 805,519 816,518 828,512 837,510 846,512.4 839,517 836,522 830,534 820,548 810,562 803,574 800,584 798,594 790,602 790,614 792,624 800,627 807,631 804,636 806,644 812,653 817,660 808,664 798,672 794,680 795,688 799,698 792,702.4 784,698 776,694 764,696 752,695 740,690 729,686 722,674 714,664 704,657 692,651 680,649 670,651 662,648 652,644 644,640 632,630 618,626 604,616 592,604 580,603 568,596 554,594 540,597 530,586 520,580 516,570 515,558 520,548Z" fill="none" stroke="#4a4f55" stroke-width="1" stroke-linejoin="round"/>
<g stroke="#3d4248" stroke-width="0.8"><ellipse cx="90" cy="409" rx="5" ry="5" fill="#4c98c9" transform="rotate(20 90 409)"/><ellipse cx="105" cy="420" rx="5.5" ry="9" fill="#4c98c9" transform="rotate(-15 105 420)"/><ellipse cx="662.4" cy="226.6" rx="5.5" ry="3.3" fill="#2f78b7" transform="rotate(0 662.4 226.6)"/><ellipse cx="695" cy="247" rx="4" ry="1.5" fill="#2f78b7" transform="rotate(-10 695 247)"/><ellipse cx="672.6" cy="223.6" rx="1.5" ry="1" fill="#2f78b7" transform="rotate(0 672.6 223.6)"/><ellipse cx="557" cy="202" rx="1" ry="2" fill="#3c4a5c" transform="rotate(0 557 202)"/><ellipse cx="568" cy="205" rx="3" ry="1.8" fill="#3c4a5c" transform="rotate(-30 568 205)"/><ellipse cx="577" cy="199" rx="1.2" ry="1.2" fill="#3c4a5c" transform="rotate(0 577 199)"/><ellipse cx="475.6" cy="548.6" rx="3.5" ry="2.5" fill="#3a7db5" transform="rotate(60 475.6 548.6)"/><ellipse cx="504" cy="545" rx="1.8" ry="2.6" fill="#3a7db5" transform="rotate(0 504 545)"/><ellipse cx="502.4" cy="553.6" rx="5" ry="2.6" fill="#3a7db5" transform="rotate(20 502.4 553.6)"/><ellipse cx="711.6" cy="481" rx="1.6" ry="1.6" fill="#9cc8e0" transform="rotate(0 711.6 481)"/><ellipse cx="733.4" cy="477.8" rx="3" ry="1.6" fill="#62a5cf" transform="rotate(15 733.4 477.8)"/><ellipse cx="761.4" cy="478.6" rx="4.2" ry="2.8" fill="#62a5cf" transform="rotate(10 761.4 478.6)"/><ellipse cx="771.2" cy="487.6" rx="3.5" ry="4.6" fill="#62a5cf" transform="rotate(-10 771.2 487.6)"/><ellipse cx="775.6" cy="498" rx="3.4" ry="3.4" fill="#62a5cf" transform="rotate(0 775.6 498)"/><ellipse cx="784.4" cy="470" rx="1.2" ry="1.6" fill="#62a5cf" transform="rotate(0 784.4 470)"/><ellipse cx="799.4" cy="451.4" rx="3.2" ry="2.4" fill="#5a9fcc" transform="rotate(-20 799.4 451.4)"/><ellipse cx="591" cy="462.5" rx="2.5" ry="1.6" fill="#8fc0dc" transform="rotate(-20 591 462.5)"/><ellipse cx="468" cy="688" rx="8.5" ry="5" fill="#c2dceb" transform="rotate(42 468 688)"/><ellipse cx="345" cy="647.6" rx="1.5" ry="1.2" fill="#c0c0c0" transform="rotate(0 345 647.6)"/><ellipse cx="208" cy="160" rx="1.2" ry="1" fill="#4c98c9" transform="rotate(0 208 160)"/><ellipse cx="211" cy="163" rx="1.5" ry="1" fill="#4c98c9" transform="rotate(0 211 163)"/><ellipse cx="214" cy="167" rx="2" ry="1.2" fill="#4c98c9" transform="rotate(0 214 167)"/><ellipse cx="217" cy="170" rx="1.6" ry="1" fill="#4c98c9" transform="rotate(0 217 170)"/><ellipse cx="209.5" cy="165" rx="1" ry="1.4" fill="#4c98c9" transform="rotate(0 209.5 165)"/><ellipse cx="233" cy="186" rx="1" ry="0.8" fill="#4c98c9" transform="rotate(0 233 186)"/><ellipse cx="236" cy="200" rx="1.2" ry="0.8" fill="#4c98c9" transform="rotate(0 236 200)"/><ellipse cx="240" cy="203" rx="1" ry="0.7" fill="#4c98c9" transform="rotate(0 240 203)"/><ellipse cx="245" cy="208" rx="1.3" ry="0.8" fill="#4c98c9" transform="rotate(0 245 208)"/><ellipse cx="248" cy="212" rx="0.8" ry="0.6" fill="#4c98c9" transform="rotate(0 248 212)"/></g>
<path d="M108 319.5C112 317.5 121 319 122.6 326C123.2 333 121 341 118 343.5C114 341 109 334 108 328Z" fill="#e6f0f7" stroke="#4a4f55" stroke-width="0.8"/><g fill="#cfe5f0" stroke="#4a4f55" stroke-width="0.7"><path d="M834 89.5L840 88L848 88.2L847.5 93L842 94.5L836 92Z"/><path d="M803 90.5L808 89.2L822 88.6L816 91L808 92.2Z"/></g>
<g fill="#2b2f33"><rect x="120.4" y="227.2" width="2.4" height="2.4"/><rect x="219.4" y="201.2" width="2.4" height="2.4"/><rect x="198.4" y="273.0" width="2.4" height="2.4"/><rect x="122.4" y="323.2" width="2.4" height="2.4"/><rect x="116.2" y="411.0" width="2.4" height="2.4"/><rect x="827.2" y="132.2" width="2.4" height="2.4"/><rect x="901.8" y="156.2" width="2.4" height="2.4"/><rect x="702.2" y="179.0" width="2.4" height="2.4"/><rect x="752.2" y="175.0" width="2.4" height="2.4"/><rect x="750.2" y="203.0" width="2.4" height="2.4"/><rect x="749.0" y="229.2" width="2.4" height="2.4"/><rect x="933.2" y="232.0" width="2.4" height="2.4"/><rect x="997.8" y="256.2" width="2.4" height="2.4"/><rect x="1069.8" y="229.8" width="2.4" height="2.4"/><rect x="1095.2" y="269.2" width="2.4" height="2.4"/><rect x="900.0" y="392.0" width="2.4" height="2.4"/><rect x="884.2" y="466.0" width="2.4" height="2.4"/><rect x="845.2" y="529.0" width="2.4" height="2.4"/><rect x="834.6" y="521.0" width="2.4" height="2.4"/><rect x="522.8" y="542.4" width="2.4" height="2.4"/><rect x="680.1" y="601.1" width="2.4" height="2.4"/><rect x="634.2" y="623.0" width="2.4" height="2.4"/><rect x="705.2" y="598.2" width="2.4" height="2.4"/><rect x="788.4" y="600.2" width="2.4" height="2.4"/><rect x="810.8" y="651.4" width="2.4" height="2.4"/><rect x="750.2" y="667.2" width="2.4" height="2.4"/></g><g fill="#fff" stroke="#333" stroke-width="0.9"><circle cx="170.4" cy="400.2" r="2.3"/><circle cx="699.6" cy="211.2" r="2.3"/><circle cx="962" cy="179.4" r="2.3"/><circle cx="855.4" cy="233.4" r="2.3"/><circle cx="935.4" cy="436.6" r="2.3"/><circle cx="609.2" cy="530.4" r="2.3"/></g>
<g class="prov" text-anchor="middle"><text x="111.3" y="227.2">SS</text><text x="210" y="206.2">OT</text><text x="199" y="287.2">NU</text><text x="112.5" y="334.2">OR</text><text x="121" y="409.2">CI</text><text x="821" y="143">FG</text><text x="911" y="153.8">BT</text><text x="693" y="185.8">CE</text><text x="744" y="175">BN</text><text x="762" y="207.4">AV</text><text x="750" y="245.4">SA</text><text x="927" y="245">MT</text><text x="985.4" y="267">TA</text><text x="1080.6" y="229">BR</text><text x="1098" y="284">LE</text><text x="902.4" y="387">CS</text><text x="878.6" y="479.8">VV</text><text x="856.6" y="534">RC</text><text x="835.4" y="510">ME</text><text x="517" y="540">TP</text><text x="671" y="598.4">CL</text><text x="647" y="628.4">AG</text><text x="717" y="596">EN</text><text x="801" y="609.4">CT</text><text x="824.4" y="656">SR</text><text x="746" y="681">RG</text></g><g class="city"><text x="169" y="414.6">Cagliari</text><text x="676.8" y="230.5">Napoli</text><text x="969" y="176.6">Bari</text><text x="831" y="227.6">Potenza</text><text x="939.6" y="447.7">Catanzaro</text><text x="615" y="527.6">Palermo</text></g>
</g>
<path d="M1140.5 62V722" stroke="#d9d9d9" stroke-width="1" fill="none"/>

<g>
<rect x="72.6" y="511.8" width="244.3" height="198.2" fill="#fff" stroke="#b0b4b8" stroke-width="1.2"/>
<text x="82.2" y="527.8" textLength="226.2" lengthAdjust="spacingAndGlyphs" style="font:bold 11.4px 'DejaVu Sans','Liberation Sans',sans-serif" fill="#a4a4a4">Mappe interpolate dati da stazioni</text>
<rect x="86.3" y="539.8" width="217.4" height="65" rx="7" fill="url(#lgbox)" stroke="#d9dade" stroke-width="0.8"/>
<path d="M214 568.5C213.5 560 220 553 228.5 553C231 552.5 233 553.5 234.6 555C237 549 243 546 249 546.3C258 546.5 265 552 266 559.5C277 558.5 285.5 567 285.8 578C286 588 278 595.5 268 595.5H195" fill="none" stroke="#6a6d72" stroke-width="4.6" stroke-linecap="round" stroke-linejoin="round" opacity=".45" transform="translate(0.8,1)"/>
<path d="M214 568.5C213.5 560 220 553 228.5 553C231 552.5 233 553.5 234.6 555C237 549 243 546 249 546.3C258 546.5 265 552 266 559.5C277 558.5 285.5 567 285.8 578C286 588 278 595.5 268 595.5H195" fill="none" stroke="#1c75bc" stroke-width="4.4" stroke-linecap="round" stroke-linejoin="round"/>
<path d="M160 595.5h7l2 3h-7zM171 595.5h7l2 3h-7z" fill="#1c75bc"/>
<path d="M172 598.5h6l2 3h-6zM182 598.5h6l2 3h-6zM183 595.5h8l1 2h-8z" fill="#f2a922"/>
<text x="104.4" y="560" textLength="88.6" lengthAdjust="spacingAndGlyphs" style="font:bold 13.8px 'Liberation Sans',sans-serif" fill="#fff" stroke="#85888d" stroke-width="1" paint-order="stroke">Associazione</text>
<g style="font:bold 33.5px 'Liberation Sans',sans-serif" stroke-linejoin="round">
<text x="104.6" y="591.3" textLength="81" lengthAdjust="spacingAndGlyphs" fill="#55585c" stroke="#55585c" stroke-width="1.6" opacity=".5">Linea</text>
<text x="187.6" y="591.3" textLength="85" lengthAdjust="spacingAndGlyphs" fill="#55585c" stroke="#55585c" stroke-width="1.6" opacity=".5">Meteo</text>
<text x="103.8" y="590.3" textLength="81" lengthAdjust="spacingAndGlyphs" fill="#1c75bc" stroke="#1c75bc" stroke-width="1.5">Linea</text>
<text x="186.8" y="590.3" textLength="85" lengthAdjust="spacingAndGlyphs" fill="#f4ab25" stroke="#f4ab25" stroke-width="1.5">Meteo</text>
</g>
<circle cx="125.8" cy="631.3" r="15" fill="url(#mgor)"/>
<ellipse cx="147" cy="629" rx="21" ry="11.5" fill="#8fd6ee" opacity=".85"/>
<ellipse cx="143" cy="649.7" rx="36.5" ry="30" fill="url(#mgblob)" opacity=".93"/>
<ellipse cx="162" cy="661.5" rx="21.5" ry="18.5" fill="#93defa" opacity=".85" transform="rotate(-30 162 661.5)"/>
<ellipse cx="148" cy="655" rx="30" ry="24" fill="#7aaef5" opacity=".6"/>
<ellipse cx="140.8" cy="649.7" rx="27" ry="20" fill="#b4cbfa" opacity=".6"/>
<text x="124.6" y="656.3" textLength="22.4" lengthAdjust="spacingAndGlyphs" style="font:bold 27px 'Liberation Sans',sans-serif" fill="#f1f5fe" opacity=".95">m</text>
<text x="146" y="663" textLength="20.2" lengthAdjust="spacingAndGlyphs" style="font:bold 33px 'Liberation Sans',sans-serif" fill="#fff">G</text>
<text x="198" y="646.5" textLength="62.6" lengthAdjust="spacingAndGlyphs" style="font:20px 'Liberation Sans',sans-serif" fill="#1b2e6b" stroke="#fff" stroke-width=".4">meteo</text>
<text x="196" y="665.9" textLength="81.3" lengthAdjust="spacingAndGlyphs" style="font:20.4px 'Liberation Sans',sans-serif" fill="#1b2e6b" stroke="#fff" stroke-width=".35">Giuliacci</text>
<text x="82.3" y="700.3" textLength="218.6" lengthAdjust="spacingAndGlyphs" style="font:11px 'DejaVu Sans','Liberation Sans',sans-serif" fill="#ababab">elaborazione grafica: Guerra Stefano</text>
</g>

<g><rect x="61.20" y="728.2" width="26.58" height="3.5" fill="#700320"/><rect x="87.48" y="728.2" width="26.58" height="3.5" fill="#810823"/><rect x="113.76" y="728.2" width="26.58" height="3.5" fill="#930e26"/><rect x="140.04" y="728.2" width="26.58" height="3.5" fill="#a51429"/><rect x="166.32" y="728.2" width="26.58" height="3.5" fill="#b41c2d"/><rect x="192.60" y="728.2" width="26.58" height="3.5" fill="#bd2d35"/><rect x="218.88" y="728.2" width="26.58" height="3.5" fill="#c53e3d"/><rect x="245.16" y="728.2" width="26.58" height="3.5" fill="#ce4f45"/><rect x="271.44" y="728.2" width="26.58" height="3.5" fill="#d6604d"/><rect x="297.72" y="728.2" width="26.58" height="3.5" fill="#dd7059"/><rect x="324.00" y="728.2" width="26.58" height="3.5" fill="#e58368"/><rect x="350.28" y="728.2" width="26.58" height="3.5" fill="#ec9374"/><rect x="376.56" y="728.2" width="26.58" height="3.5" fill="#f3a481"/><rect x="402.84" y="728.2" width="26.58" height="3.5" fill="#f6b191"/><rect x="429.12" y="728.2" width="26.58" height="3.5" fill="#f8bda1"/><rect x="455.40" y="728.2" width="26.58" height="3.5" fill="#facab1"/><rect x="481.68" y="728.2" width="26.58" height="3.5" fill="#fcd7c2"/><rect x="507.96" y="728.2" width="26.58" height="3.5" fill="#fcdfcf"/><rect x="534.24" y="728.2" width="26.58" height="3.5" fill="#fbe6da"/><rect x="560.52" y="728.2" width="26.58" height="3.5" fill="#f9ede5"/><rect x="586.80" y="728.2" width="26.58" height="3.5" fill="#f8f3f0"/><rect x="613.08" y="728.2" width="26.58" height="3.5" fill="#f3f5f6"/><rect x="639.36" y="728.2" width="26.58" height="3.5" fill="#eaf1f5"/><rect x="665.64" y="728.2" width="26.58" height="3.5" fill="#e3edf3"/><rect x="691.92" y="728.2" width="26.58" height="3.5" fill="#dae9f2"/><rect x="718.20" y="728.2" width="26.58" height="3.5" fill="#d2e6f0"/><rect x="744.48" y="728.2" width="26.58" height="3.5" fill="#c5dfec"/><rect x="770.76" y="728.2" width="26.58" height="3.5" fill="#b8d8e9"/><rect x="797.04" y="728.2" width="26.58" height="3.5" fill="#a9d1e5"/><rect x="823.32" y="728.2" width="26.58" height="3.5" fill="#9bc9e0"/><rect x="849.60" y="728.2" width="26.58" height="3.5" fill="#8dc2dc"/><rect x="875.88" y="728.2" width="26.58" height="3.5" fill="#7bb6d6"/><rect x="902.16" y="728.2" width="26.58" height="3.5" fill="#6bacd1"/><rect x="928.44" y="728.2" width="26.58" height="3.5" fill="#59a1ca"/><rect x="954.72" y="728.2" width="26.58" height="3.5" fill="#4997c5"/><rect x="981.00" y="728.2" width="26.58" height="3.5" fill="#3e8cbf"/><rect x="1007.28" y="728.2" width="26.58" height="3.5" fill="#3783bb"/><rect x="1033.56" y="728.2" width="26.58" height="3.5" fill="#2f79b5"/><rect x="1059.84" y="728.2" width="26.58" height="3.5" fill="#2870b1"/><rect x="1086.12" y="728.2" width="26.58" height="3.5" fill="#2065ab"/><rect x="1112.40" y="728.2" width="26.28" height="3.5" fill="#e61fd8"/><path d="M61.2 728.4H1138.7" stroke="#666" stroke-width="0.7"/><path d="M87.5 728v3.7M113.8 728v3.7M140.0 728v3.7M166.3 728v3.7M192.6 728v3.7M218.9 728v3.7M245.2 728v3.7M271.4 728v3.7M297.7 728v3.7M324.0 728v3.7M350.3 728v3.7M376.6 728v3.7M402.8 728v3.7M429.1 728v3.7M455.4 728v3.7M481.7 728v3.7M508.0 728v3.7M534.2 728v3.7M560.5 728v3.7M586.8 728v3.7M613.1 728v3.7M639.4 728v3.7M665.6 728v3.7M691.9 728v3.7M718.2 728v3.7M744.5 728v3.7M770.8 728v3.7M797.0 728v3.7M823.3 728v3.7M849.6 728v3.7M875.9 728v3.7M902.2 728v3.7M928.4 728v3.7M954.7 728v3.7M981.0 728v3.7M1007.3 728v3.7M1033.6 728v3.7M1059.8 728v3.7M1086.1 728v3.7M1112.4 728v3.7" stroke="#333" stroke-width="0.8" fill="none"/></g>
<g class="cbl"><text x="87.5" y="747.7" text-anchor="middle">0</text><text x="140.0" y="747.7" text-anchor="middle">5</text><text x="192.6" y="747.7" text-anchor="middle">10</text><text x="245.2" y="747.7" text-anchor="middle">15</text><text x="297.7" y="747.7" text-anchor="middle">20</text><text x="350.3" y="747.7" text-anchor="middle">25</text><text x="402.8" y="747.7" text-anchor="middle">30</text><text x="455.4" y="747.7" text-anchor="middle">35</text><text x="508.0" y="747.7" text-anchor="middle">40</text><text x="560.5" y="747.7" text-anchor="middle">45</text><text x="613.1" y="747.7" text-anchor="middle">50</text><text x="665.6" y="747.7" text-anchor="middle">55</text><text x="718.2" y="747.7" text-anchor="middle">60</text><text x="770.8" y="747.7" text-anchor="middle">65</text><text x="823.3" y="747.7" text-anchor="middle">70</text><text x="875.9" y="747.7" text-anchor="middle">75</text><text x="928.4" y="747.7" text-anchor="middle">80</text><text x="981.0" y="747.7" text-anchor="middle">85</text><text x="1033.6" y="747.7" text-anchor="middle">90</text><text x="1086.1" y="747.7" text-anchor="middle">95</text></g>
</svg>
</body></html>
